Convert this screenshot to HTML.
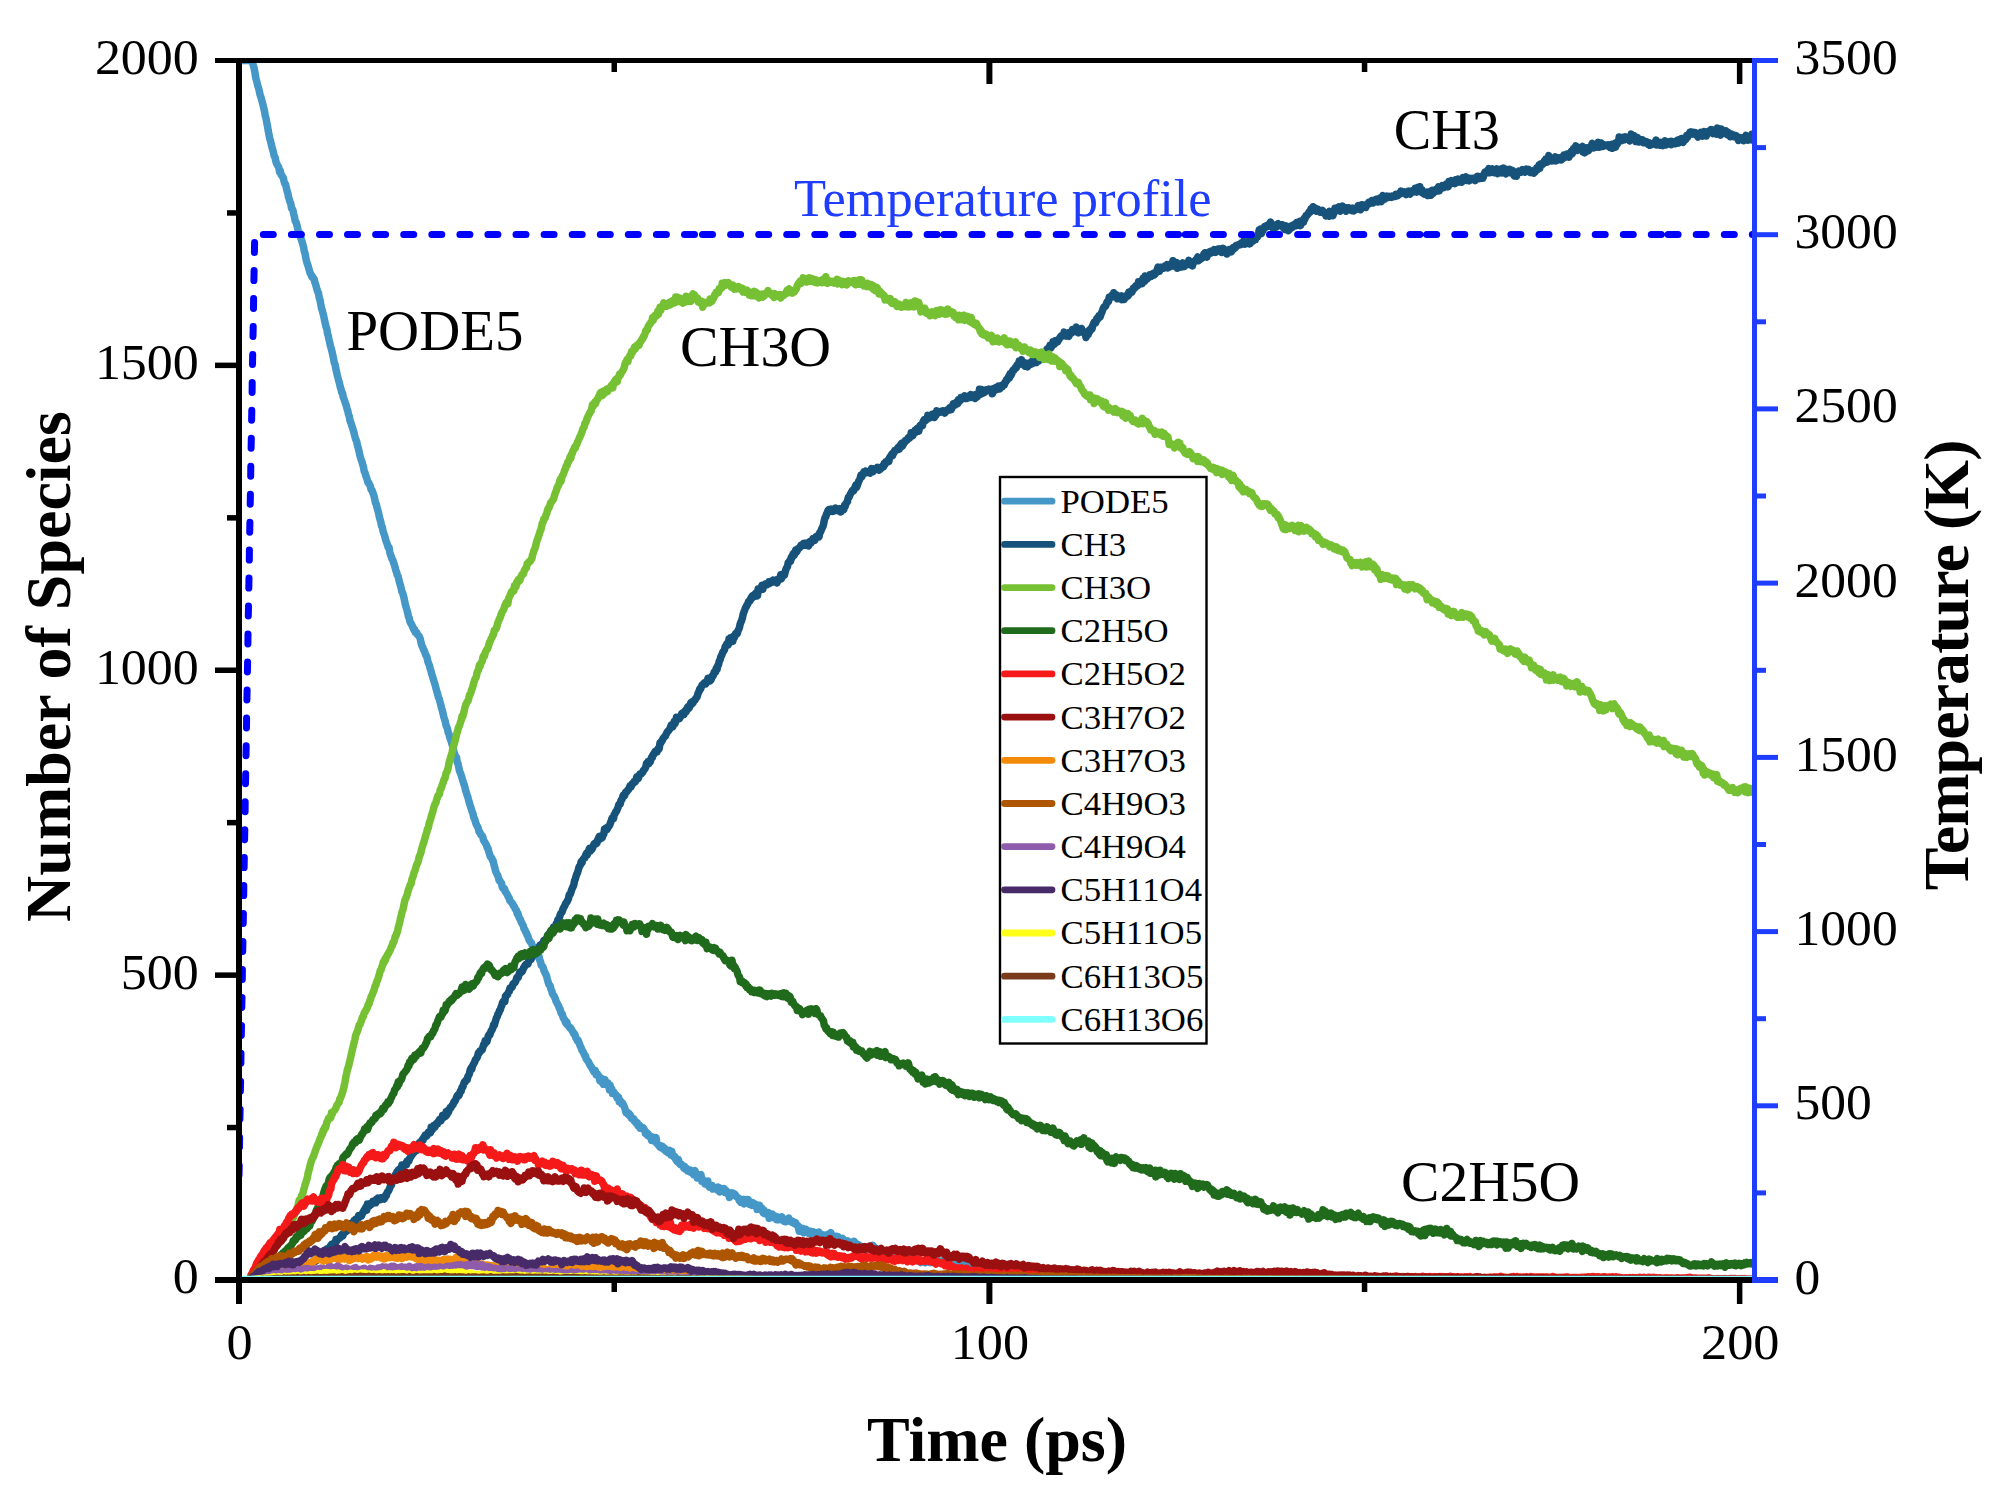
<!DOCTYPE html>
<html lang="en"><head><meta charset="utf-8"><title>Number of Species vs Time</title>
<style>html,body{margin:0;padding:0;background:#fff}svg{display:block}</style></head>
<body>
<svg width="2009" height="1494" viewBox="0 0 2009 1494" font-family="'Liberation Serif', 'Times New Roman', serif">
<rect width="2009" height="1494" fill="#fff"/>
<defs><clipPath id="plot"><rect x="239" y="60.5" width="1515.5" height="1219.5"/></clipPath></defs>
<g clip-path="url(#plot)" fill="none" stroke-width="7.5" stroke-linejoin="round" stroke-linecap="butt">
<path stroke="#4497C7" d="M239 60.5L239.8 60.5 240.5 60.5 241.2 60.5 242 60.5 242.8 60.5 243.5 60.5 244.2 60.5 245 60.5 245.8 60.5 246.5 60.5 247.2 60.5 248 60.5 248.8 60.5 249.5 60.6 250.2 60.9 251 61.4 251.8 61.5 252.5 61.4 253.2 65.2 254 67.7 254.8 71.8 255.5 76.3 256.2 79.4 257 82.5 257.8 86 258.5 87.8 259.2 90.6 260 94.5 260.8 96.8 261.5 99.3 262.2 101.9 263 104.8 263.8 108.3 264.5 111.2 265.2 115.5 266 118.3 266.8 122.7 267.5 126.2 268.2 130.5 269 134.7 269.8 138.7 270.5 140.7 271.2 144.2 272 147.4 272.8 149.8 273.5 152.6 274.2 156 275 157.3 275.8 161.2 276.5 163.5 277.2 164.6 278 166 278.8 167.5 279.5 171.7 280.2 170.6 281 174.6 281.8 175.5 282.5 176.7 283.2 177.6 284 181.1 284.8 183.5 285.5 184.3 286.2 187.2 287 190.6 287.8 193.2 288.5 197.2 289.2 199 290 202.1 290.8 203.6 291.5 208.3 292.2 208.9 293 210.5 293.8 214.3 294.5 217.1 295.2 221 296 222.1 296.8 224.7 297.5 227.5 298.2 230.9 299 232.1 299.8 235.1 300.5 237.2 301.2 239.1 302 241.8 302.8 244.2 303.5 246.8 304.2 250.9 305 253.2 305.8 257.8 306.5 260.9 307.2 263.4 308 265.6 308.8 268.5 309.5 271.1 310.2 273.3 311 274.4 311.8 276.7 312.5 276.6 313.2 278.4 314 278.7 314.8 282.2 315.5 283.9 316.2 286.4 317 289.6 317.8 291.9 318.5 293 319.2 297.6 320 300 320.8 304.4 321.5 308.4 322.2 310.2 323 313.4 323.8 316.4 324.5 319.9 325.2 323.1 326 326.7 326.8 328.8 327.5 333.5 328.2 335.6 329 339.5 329.8 343 330.5 346.1 331.2 348.3 332 351.6 332.8 355.2 333.5 358.4 334.2 362.5 335 364.3 335.8 368.6 336.5 371.7 337.2 374.9 338 377.9 338.8 381 339.5 383.5 340.2 386.8 341 389.2 341.8 392.5 342.5 392.9 343.2 397.1 344 399 344.8 401.4 345.5 403.5 346.2 405.4 347 408.7 347.8 410.9 348.5 414.5 349.2 416 350 420.5 350.8 422.5 351.5 424.6 352.2 426.9 353 429.4 353.8 431.9 354.5 434.8 355.2 437.7 356 440 356.8 441.9 357.5 445.6 358.2 447.9 359 451.1 359.8 455 360.5 457.6 361.2 459.7 362 461.9 362.8 464.8 363.5 467.1 364.2 471.3 365 472.9 365.8 475.8 366.5 477.3 367.2 479.9 368 482.7 368.8 482.9 369.5 484.7 370.2 485.8 371 489.4 371.8 489.7 372.5 491.7 373.2 493.6 374 495.8 374.8 499.3 375.5 503.2 376.2 503.8 377 507.7 377.8 510.2 378.5 512.8 379.2 516.3 380 519.4 380.8 521.9 381.5 525.9 382.2 526.8 383 530.9 383.8 533.3 384.5 535.2 385.2 538.1 386 541 386.8 542.8 387.5 545 388.2 547.6 389 547.5 389.8 552.2 390.5 554.9 391.2 556.3 392 558.9 392.8 559.9 393.5 562.7 394.2 564.3 395 567.1 395.8 570.3 396.5 571.8 397.2 575 398 576.2 398.8 579.5 399.5 582.4 400.2 584.7 401 587.4 401.8 591.6 402.5 592.4 403.2 595 404 598 404.8 601.9 405.5 605.2 406.2 607.5 407 610.1 407.8 613.3 408.5 616.8 409.2 618.1 410 621.7 410.8 623.4 411.5 624.1 412.2 625.9 413 627.6 413.8 629.8 414.5 629.2 415.2 632.1 416 631.9 416.8 632.7 417.5 634.8 418.2 635.3 419 636 419.8 637.5 420.5 639.9 421.2 643.6 422 645.9 422.8 647.3 423.5 649.8 424.2 650.4 425 652.9 425.8 655.1 426.5 655.9 427.2 658.3 428 661.8 428.8 663.9 429.5 665.6 430.2 668.8 431 671.1 431.8 674.4 432.5 676.3 433.2 678.6 434 681.4 434.8 683.9 435.5 686.3 436.2 689.1 437 692.1 437.8 694.7 438.5 697.5 439.2 698.8 440 702 440.8 704.8 441.5 707.9 442.2 710.1 443 713.2 443.8 716.9 444.5 719.1 445.2 721.2 446 725.3 446.8 727.2 447.5 729 448.2 732.4 449 734.1 449.8 737.5 450.5 739.2 451.2 741.4 452 744.4 452.8 746.8 453.5 749.9 454.2 752.7 455 754.9 455.8 756.9 456.5 757.2 457.2 762.3 458 763.7 458.8 767.7 459.5 770.8 460.2 772.7 461 774.7 461.8 777.2 462.5 779.6 463.2 781.7 464 784.5 464.8 786.8 465.5 790.4 466.2 791.9 467 794.8 467.8 796.9 468.5 799.7 469.2 802.1 470 804.9 470.8 807.4 471.5 809.6 472.2 811.7 473 813.9 473.8 817.7 474.5 818.7 475.2 820.8 476 823.7 476.8 825.4 477.5 826.6 478.2 828 479 831.7 479.8 832 480.5 834.2 481.2 835.1 482 835.4 482.8 837 483.5 840.1 484.2 841.3 485 842.5 485.8 843.9 486.5 845.2 487.2 847.7 488 848.2 488.8 851.9 489.5 853.6 490.2 856.4 491 857.4 491.8 858.1 492.5 860.3 493.2 860.9 494 865 494.8 867.5 495.5 870.8 496.2 872.5 497 874.2 497.8 875.5 498.5 877.8 499.2 880.6 500 880.7 500.8 882.5 501.5 883 502.2 887 503 888.3 503.8 889.1 504.5 888.8 505.2 891.5 506 892.3 506.8 893.8 507.5 894.9 508.2 896.8 509 897.4 509.8 900.5 510.5 901.3 511.2 902 512 902.9 512.8 904.1 513.5 906 514.2 906.1 515 908.5 515.8 909.8 516.5 910.5 517.2 913.6 518 913.6 518.8 916.6 519.5 918.3 520.2 919.1 521 921.4 521.8 923.2 522.5 924.3 523.2 925.7 524 928.9 524.8 929.4 525.5 931.7 526.2 932.3 527 934.9 527.8 935.8 528.5 938.3 529.2 940.2 530 941.3 530.8 942.3 531.5 943 532.2 945.5 533 946.7 533.8 947.2 534.5 948.6 535.2 951.2 536 954.5 536.8 954 537.5 955.6 538.2 957.1 539 956.4 539.8 960.5 540.5 961.5 541.2 965.2 542 965.8 542.8 966.8 543.5 968.8 544.2 971.2 545 972.7 545.8 974.4 546.5 975.7 547.2 978.6 548 981.6 548.8 984.2 549.5 985 550.2 986.1 551 989.4 551.8 991 552.5 993.7 553.2 994.8 554 995.8 554.8 997.5 555.5 999.3 556.2 1001.6 557 1003.1 557.8 1004.6 558.5 1005.5 559.2 1008.1 560 1008.8 560.8 1012 561.5 1013.7 562.2 1013.8 563 1017.1 563.8 1018.7 564.5 1019.2 565.2 1021.6 566 1023.3 566.8 1021.9 567.5 1024.8 568.2 1025.5 569 1026.5 569.8 1027.9 570.5 1027.8 571.2 1028.9 572 1030.5 572.8 1031.5 573.5 1033.5 574.2 1033.3 575 1034.7 575.8 1037.9 576.5 1038.6 577.2 1040.6 578 1040 578.8 1042.2 579.5 1043.9 580.2 1046 581 1047.4 581.8 1050 582.5 1050.8 583.2 1052 584 1053.8 584.8 1055.7 585.5 1055.8 586.2 1058.8 587 1060.1 587.8 1060.9 588.5 1061.9 589.2 1063.5 590 1065.1 590.8 1066.6 591.5 1067.2 592.2 1068.8 593 1069.6 593.8 1071.7 594.5 1071.8 595.2 1070.3 596 1074.7 596.8 1073.6 597.5 1074 598.2 1076 599 1076.2 599.8 1080.7 600.5 1079.7 601.2 1078.1 602 1082.3 602.8 1081.4 603.5 1084.3 604.2 1081 605 1079.7 605.8 1083.8 606.5 1084.5 607.2 1084.8 608 1082.9 608.8 1086.8 609.5 1089.8 610.2 1085.3 611 1090.1 611.8 1088.7 612.5 1093.5 613.2 1092 614 1092.3 614.8 1094.2 615.5 1094.4 616.2 1095 617 1097.9 617.8 1097.6 618.5 1097.2 619.2 1101.7 620 1100.3 620.8 1101.4 621.5 1103.6 622.2 1102.8 623 1103.9 623.8 1106 624.5 1107.2 625.2 1109.5 626 1112.5 626.8 1111.8 627.5 1113.5 628.2 1114.6 629 1113.5 629.8 1115.7 630.5 1115.3 631.2 1118.1 632 1118.7 632.8 1119.1 633.5 1118.6 634.2 1121.1 635 1120.7 635.8 1122.9 636.5 1122.8 637.2 1122.7 638 1125.8 638.8 1126.4 639.5 1125.2 640.2 1128.2 641 1126.8 641.8 1127.5 642.5 1128.8 643.2 1127.8 644 1129.2 644.8 1130.6 645.5 1133.5 646.2 1134.2 647 1132.8 647.8 1135.5 648.5 1134.3 649.2 1135.4 650 1137 650.8 1136.6 651.5 1140.2 652.2 1138.4 653 1137.3 653.8 1141 654.5 1139.8 655.2 1139.9 656 1137.5 656.8 1143.4 657.5 1144 658.2 1144.9 659 1145.4 659.8 1146.9 660.5 1145.6 661.2 1147.7 662 1146.2 662.8 1146.6 663.5 1149.3 664.2 1149.6 665 1148.5 665.8 1151.3 666.5 1150.4 667.2 1150.6 668 1152.7 668.8 1151.1 669.5 1150.5 670.2 1151.2 671 1155 671.8 1151.4 672.5 1155.1 673.2 1156.2 674 1157.1 674.8 1156.4 675.5 1159 676.2 1160.1 677 1161.5 677.8 1159.9 678.5 1159.7 679.2 1163.3 680 1164.4 680.8 1164.2 681.5 1164.2 682.2 1165.8 683 1166.1 683.8 1168 684.5 1166.3 685.2 1169.1 686 1169.5 686.8 1168.6 687.5 1171 688.2 1170.8 689 1170 689.8 1171.9 690.5 1170.1 691.2 1172.6 692 1172.9 692.8 1173.1 693.5 1174.5 694.2 1171.6 695 1170.7 695.8 1173.6 696.5 1175 697.2 1178 698 1176.3 698.8 1174.9 699.5 1178.1 700.2 1175 701 1174.7 701.8 1181.2 702.5 1179 703.2 1180.8 704 1181.6 704.8 1183.8 705.5 1182.2 706.2 1184.2 707 1181.2 707.8 1181.1 708.5 1185.7 709.2 1187 710 1185.9 710.8 1185.7 711.5 1186 712.2 1185.7 713 1189 713.8 1188.7 714.5 1188.2 715.2 1188.2 716 1189.2 716.8 1189.2 717.5 1190.2 718.2 1187.1 719 1189.2 719.8 1192 720.5 1188.3 721.2 1188.4 722 1190.8 722.8 1191.5 723.5 1191.6 724.2 1188.6 725 1192.4 725.8 1190.3 726.5 1191.7 727.2 1193.4 728 1192.1 728.8 1194.1 729.5 1197.4 730.2 1194.8 731 1195.3 731.8 1192.9 732.5 1193.7 733.2 1193.4 734 1195 734.8 1194.2 735.5 1195 736.2 1196.6 737 1197 737.8 1197.7 738.5 1197.9 739.2 1200.7 740 1201.1 740.8 1202.5 741.5 1202.2 742.2 1200.6 743 1202.4 743.8 1199.4 744.5 1203.9 745.2 1202.1 746 1200.9 746.8 1199.7 747.5 1202.2 748.2 1199.6 749 1201.8 749.8 1204.2 750.5 1203.9 751.2 1203 752 1205.3 752.8 1202.5 753.5 1205.3 754.2 1204.6 755 1204.2 755.8 1206.3 756.5 1204.6 757.2 1209.4 758 1205.6 758.8 1209.1 759.5 1205.2 760.2 1209.4 761 1207.8 761.8 1207.9 762.5 1210.6 763.2 1212.7 764 1210.1 764.8 1213.6 765.5 1211.7 766.2 1213.5 767 1214.4 767.8 1214.6 768.5 1212.5 769.2 1218.2 770 1217.1 770.8 1216.2 771.5 1214.5 772.2 1214.1 773 1214.7 773.8 1217.8 774.5 1217.1 775.2 1216.1 776 1216.3 776.8 1219.7 777.5 1217.1 778.2 1217 779 1219.7 779.8 1218.7 780.5 1217.4 781.2 1217.7 782 1217 782.8 1218.5 783.5 1220.8 784.2 1221.4 785 1221.6 785.8 1221.8 786.5 1221.1 787.2 1221.3 788 1220.2 788.8 1218 789.5 1221 790.2 1220.1 791 1221.2 791.8 1222.2 792.5 1221.2 793.2 1221.8 794 1223.4 794.8 1223.9 795.5 1222.5 796.2 1224.7 797 1225.1 797.8 1225.4 798.5 1227.9 799.2 1231.1 800 1227.3 800.8 1230.9 801.5 1231.3 802.2 1231.7 803 1228.5 803.8 1232.7 804.5 1230 805.2 1229.7 806 1229.4 806.8 1230.7 807.5 1231.4 808.2 1231.3 809 1233.4 809.8 1231.1 810.5 1231.2 811.2 1233.3 812 1233.3 812.8 1234.5 813.5 1231.8 814.2 1235 815 1235.1 815.8 1236.6 816.5 1232.7 817.2 1234.6 818 1234.8 818.8 1232.2 819.5 1233.2 820.2 1235.7 821 1234.1 821.8 1234.3 822.5 1237.3 823.2 1236.8 824 1237.4 824.8 1235.1 825.5 1235.9 826.2 1237.8 827 1235.4 827.8 1234.6 828.5 1236.8 829.2 1237.4 830 1234 830.8 1232.7 831.5 1234.8 832.2 1236.4 833 1237.7 833.8 1238.2 834.5 1237.3 835.2 1236.5 836 1237.4 836.8 1236.6 837.5 1237.9 838.2 1236.7 839 1241.6 839.8 1239.6 840.5 1238.1 841.2 1238.4 842 1239.7 842.8 1238.5 843.5 1240.5 844.2 1240.9 845 1243.2 845.8 1242 846.5 1241.1 847.2 1240.7 848 1241 848.8 1242.7 849.5 1242.2 850.2 1244.8 851 1243 851.8 1244.7 852.5 1243.3 853.2 1243.3 854 1241.3 854.8 1242.2 855.5 1244.9 856.2 1245.7 857 1245 857.8 1245.6 858.5 1244.7 859.2 1245.4 860 1246.4 860.8 1248 861.5 1247.3 862.2 1246.6 863 1247.1 863.8 1247.8 864.5 1247.7 865.2 1246.7 866 1249.3 866.8 1247.6 867.5 1247.5 868.2 1248.6 869 1247.9 869.8 1247 870.5 1248.1 871.2 1246.7 872 1246.8 872.8 1245.3 873.5 1249.7 874.2 1247 875 1249.9 875.8 1248.3 876.5 1248.7 877.2 1249.5 878 1249.8 878.8 1250.2 879.5 1252.2 880.2 1251.1 881 1252.3 881.8 1250.7 882.5 1252.6 883.2 1252 884 1251.4 884.8 1252.9 885.5 1253.3 886.2 1253.4 887 1253.7 887.8 1253 888.5 1253.3 889.2 1254.6 890 1251.7 890.8 1252.8 891.5 1255.1 892.2 1251.1 893 1253.7 893.8 1255.3 894.5 1253.4 895.2 1257.2 896 1252.6 896.8 1257.3 897.5 1257.7 898.2 1257.2 899 1256.2 899.8 1257.3 900.5 1255.8 901.2 1257.4 902 1255.8 902.8 1256.9 903.5 1257.9 904.2 1256.1 905 1256.8 905.8 1257.4 906.5 1256.1 907.2 1258 908 1257.4 908.8 1256.2 909.5 1257.3 910.2 1256.7 911 1257.2 911.8 1257.6 912.5 1257.2 913.2 1258.5 914 1257.6 914.8 1259.9 915.5 1259.8 916.2 1260.5 917 1259.6 917.8 1259.7 918.5 1259.2 919.2 1261.2 920 1261.1 920.8 1262.5 921.5 1261.8 922.2 1261.4 923 1261.1 923.8 1261.4 924.5 1261.2 925.2 1262.7 926 1262.3 926.8 1261 927.5 1261 928.2 1262 929 1261.6 929.8 1261.4 930.5 1262.6 931.2 1261.4 932 1261.9 932.8 1261.6 933.5 1260.3 934.2 1262.5 935 1261.3 935.8 1261.4 936.5 1261.7 937.2 1262.7 938 1261.8 938.8 1262.3 939.5 1261.1 940.2 1262 941 1260.9 941.8 1262.6 942.5 1263.1 943.2 1262.7 944 1264.4 944.8 1263.5 945.5 1263.4 946.2 1263.2 947 1263 947.8 1263.7 948.5 1263.8 949.2 1262 950 1263.9 950.8 1263.4 951.5 1263.7 952.2 1263.7 953 1262.5 953.8 1262.9 954.5 1265.5 955.2 1264.5 956 1263.8 956.8 1264.8 957.5 1264.5 958.2 1263.3 959 1263.5 959.8 1264.4 960.5 1265.1 961.2 1264.6 962 1264.7 962.8 1265.3 963.5 1265.7 964.2 1263.7 965 1265.2 965.8 1265 966.5 1264.7 967.2 1265.4 968 1265.1 968.8 1265.3 969.5 1264.3 970.2 1265.3 971 1267 971.8 1264.8 972.5 1264.6 973.2 1265.9 974 1266.1 974.8 1265.8 975.5 1265 976.2 1266.7 977 1266 977.8 1266 978.5 1266.7 979.2 1267.2 980 1267.9 980.8 1268.1 981.5 1268.1 982.2 1268.7 983 1268.3 983.8 1268.9 984.5 1267.6 985.2 1267.5 986 1269.2 986.8 1268 987.5 1268.8 988.2 1268.9 989 1268.8 989.8 1269 990.5 1270.1 991.2 1268.4 992 1270.4 992.8 1271.7 993.5 1270.6 994.2 1270.4 995 1270.8 995.8 1271.5 996.5 1269.9 997.2 1270.7 998 1270.5 998.8 1270.6 999.5 1270.4 1000.2 1270.4 1001 1270 1001.8 1270.2 1002.5 1269.8 1003.2 1270 1004 1270.4 1004.8 1270.3 1005.5 1269.6 1006.2 1271 1007 1269.9 1007.8 1269.3 1008.5 1271.1 1009.2 1270.1 1010 1271 1010.8 1270.7 1011.5 1271 1012.2 1271.1 1013 1270.9 1013.8 1271.4 1014.5 1272.8 1015.2 1270.9 1016 1272.1 1016.8 1272.2 1017.5 1271.7 1018.2 1271.5 1019 1273.4 1019.8 1272.3 1020.5 1273.8 1021.2 1272.8 1022 1272.6 1022.8 1273 1023.5 1273.1 1024.2 1273.2 1025 1272.9 1025.8 1272.7 1026.5 1272.8 1027.2 1273.8 1028 1273.8 1028.8 1272.8 1029.5 1272.9 1030.2 1273.3 1031 1273.1 1031.8 1273.2 1032.5 1272.9 1033.2 1273.4 1034 1273.9 1034.8 1274.1 1035.5 1273.6 1036.2 1274.3 1037 1273.3 1037.8 1274.5 1038.5 1273.8 1039.2 1273.6 1040 1273.4 1040.8 1272.8 1041.5 1274.1 1042.2 1274.1 1043 1275 1043.8 1273.9 1044.5 1275.1 1045.2 1274.2 1046 1274.6 1046.8 1273.2 1047.5 1274.5 1048.2 1274 1049 1274.3 1049.8 1274.2 1050.5 1273.8 1051.2 1274.7 1052 1274.7 1052.8 1274.7 1053.5 1275.1 1054.2 1274.9 1055 1274.6 1055.8 1274.1 1056.5 1274.2 1057.2 1275.3 1058 1275 1058.8 1274.8 1059.5 1274.8 1060.2 1275.1 1061 1275 1061.8 1275.2 1062.5 1275.4 1063.2 1276.3 1064 1275.7 1064.8 1275.7 1065.5 1275.6 1066.2 1275.8 1067 1276.2 1067.8 1276.2 1068.5 1275.8 1069.2 1275.9 1070 1275.9 1070.8 1275.6 1071.5 1276.3 1072.2 1275.9 1073 1276.6 1073.8 1275.5 1074.5 1275.8 1075.2 1276.3 1076 1276 1076.8 1275.7 1077.5 1275.9 1078.2 1276.3 1079 1276.4 1079.8 1276.2 1080.5 1276.7 1081.2 1276.6 1082 1276.6 1082.8 1276.5 1083.5 1276.4 1084.2 1276.6 1085 1276.6 1085.8 1276.4 1086.5 1276.5 1087.2 1276.5 1088 1276.1 1088.8 1276 1089.5 1276.5 1090.2 1276.3 1091 1276.7 1091.8 1276.4 1092.5 1276.8 1093.2 1276.8 1094 1276.7 1094.8 1276.5 1095.5 1276.7 1096.2 1276.8 1097 1276.7 1097.8 1277.3 1098.5 1277.6 1099.2 1277.2 1100 1277.9 1100.8 1277.3 1101.5 1277.3 1102.2 1277.1 1103 1277 1103.8 1277.2 1104.5 1277.1 1105.2 1277.6 1106 1277.6 1106.8 1277.5 1107.5 1277.3 1108.2 1277 1109 1277.3 1109.8 1277.3 1110.5 1277.7 1111.2 1277.4 1112 1277.6 1112.8 1277.4 1113.5 1277.5 1114.2 1277.4 1115 1277.3 1115.8 1277.4 1116.5 1277.5 1117.2 1277.2 1118 1277.5 1118.8 1278 1119.5 1277.2 1120.2 1277.1 1121 1277.2 1121.8 1276.9 1122.5 1277.5 1123.2 1277.3 1124 1277.4 1124.8 1277.8 1125.5 1278 1126.2 1277.2 1127 1277.7 1127.8 1277.5 1128.5 1277.5 1129.2 1277.5 1130 1277.4 1130.8 1277.8 1131.5 1277.7 1132.2 1277.8 1133 1278 1133.8 1278 1134.5 1278 1135.2 1278.1 1136 1278.5 1136.8 1278.2 1137.5 1278.1 1138.2 1278 1139 1278 1139.8 1277.9 1140.5 1278.1 1141.2 1278.1 1142 1277.5 1142.8 1277.9 1143.5 1278 1144.2 1278 1145 1277.9 1145.8 1278.4 1146.5 1278 1147.2 1277.8 1148 1277.9 1148.8 1278.1 1149.5 1278.4 1150.2 1278.6 1151 1278.4 1151.8 1278 1152.5 1278.1 1153.2 1277.9 1154 1278 1154.8 1277.8 1155.5 1278.2 1156.2 1278.3 1157 1278.2 1157.8 1278.4 1158.5 1278.1 1159.2 1278 1160 1278.2 1160.8 1278.5 1161.5 1278.6 1162.2 1278.4 1163 1278.8 1163.8 1278.6 1164.5 1279 1165.2 1278.8 1166 1278.6 1166.8 1278.8 1167.5 1278.5 1168.2 1278.5 1169 1278.4 1169.8 1278.7 1170.5 1278.6 1171.2 1278.7 1172 1278.7 1172.8 1279 1173.5 1278.7 1174.2 1278.7 1175 1279.1 1175.8 1278.9 1176.5 1278.7 1177.2 1278.4 1178 1278.5 1178.8 1278.7 1179.5 1278.7 1180.2 1279 1181 1278.4 1181.8 1278.9 1182.5 1278.7 1183.2 1278.9 1184 1278.7 1184.8 1278.9 1185.5 1278.7 1186.2 1278.6 1187 1278.6 1187.8 1278.7 1188.5 1278.6 1189.2 1279 1190 1279 1190.8 1278.9 1191.5 1278.7 1192.2 1279 1193 1278.9 1193.8 1279.3 1194.5 1279.1 1195.2 1279.1 1196 1279 1196.8 1278.8 1197.5 1279.1 1198.2 1279 1199 1279.2 1199.8 1279.1 1200.5 1279 1201.2 1279.1 1202 1279.4 1202.8 1279.1 1203.5 1279.1 1204.2 1279.3 1205 1279.2 1205.8 1279.2 1206.5 1279.2 1207.2 1279.3 1208 1279 1208.8 1279.1 1209.5 1279.2 1210.2 1279.2 1211 1279.3 1211.8 1279.3 1212.5 1279.5 1213.2 1279.3 1214 1279.3 1214.8 1279.3 1215.5 1279.3 1216.2 1279.3 1217 1279.5 1217.8 1279.3 1218.5 1279.3 1219.2 1279.3 1220 1279.2 1220.8 1279.2 1221.5 1279.2 1222.2 1279.4 1223 1279.2 1223.8 1279.3 1224.5 1279.4 1225.2 1279.4 1226 1279.2 1226.8 1279.5 1227.5 1279.3 1228.2 1279.3 1229 1279.5 1229.8 1279.4 1230.5 1279.4 1231.2 1279.6 1232 1279.4 1232.8 1279.5 1233.5 1279.6 1234.2 1279.4 1235 1279.5 1235.8 1279.6 1236.5 1279.8 1237.2 1279.6 1238 1279.7 1238.8 1279.7 1239.5 1279.6 1240.2 1279.6 1241 1279.7 1241.8 1279.6 1242.5 1279.7 1243.2 1279.8 1244 1279.8 1244.8 1279.7 1245.5 1279.7 1246.2 1279.6 1247 1279.6 1247.8 1279.7 1248.5 1279.6 1249.2 1279.6 1250 1279.5 1250.8 1279.7 1251.5 1279.7 1252.2 1279.5 1253 1279.6 1253.8 1279.6 1254.5 1279.7 1255.2 1279.7 1256 1279.7 1256.8 1279.7 1257.5 1279.7 1258.2 1279.6 1259 1279.8 1259.8 1279.7 1260.5 1279.8 1261.2 1279.7 1262 1279.8 1262.8 1279.8 1263.5 1279.8 1264.2 1279.7 1265 1279.8 1265.8 1279.8 1266.5 1279.8 1267.2 1279.8 1268 1279.9 1268.8 1279.7 1269.5 1279.8 1270.2 1279.8 1271 1279.9 1271.8 1279.7 1272.5 1279.8 1273.2 1279.8 1274 1279.9 1274.8 1279.8 1275.5 1279.9 1276.2 1279.9 1277 1279.9 1277.8 1279.9 1278.5 1280 1279.2 1279.9 1280 1280 1280.8 1279.9 1281.5 1279.9 1282.2 1279.9 1283 1280 1283.8 1280 1284.5 1280 1285.2 1280 1286 1280 1286.8 1280 1287.5 1280 1288.2 1280 1289 1280 1289.8 1280 1290.5 1280 1291.2 1280 1292 1280 1292.8 1280 1293.5 1280 1294.2 1280 1295 1280 1295.8 1280 1296.5 1280 1297.2 1280 1298 1280 1298.8 1280 1754 1280"/>
<path stroke="#165279" d="M249 1280L249.8 1279.9 250.5 1279.8 251.2 1279.6 252 1279.6 252.8 1279.4 253.5 1279 254.2 1279 255 1278.8 255.8 1278.8 256.5 1278.5 257.2 1278.5 258 1278.2 258.8 1278.3 259.5 1278.2 260.2 1278.3 261 1278 261.8 1277.7 262.5 1277.5 263.2 1277.4 264 1277.2 264.8 1277.5 265.5 1276 266.2 1276.6 267 1276.8 267.8 1277 268.5 1276 269.2 1276.2 270 1276.2 270.8 1275.4 271.5 1274.8 272.2 1275 273 1274.6 273.8 1275.3 274.5 1274.2 275.2 1275.1 276 1274.1 276.8 1273.3 277.5 1273.2 278.2 1272.7 279 1273.3 279.8 1273.4 280.5 1272.7 281.2 1273.3 282 1272.3 282.8 1272.8 283.5 1273.5 284.2 1271.3 285 1272.5 285.8 1272.3 286.5 1270.7 287.2 1271.1 288 1271.2 288.8 1272 289.5 1271.3 290.2 1270.8 291 1270.8 291.8 1270.1 292.5 1269.8 293.2 1269.4 294 1269.9 294.8 1268.9 295.5 1270.3 296.2 1269 297 1268.3 297.8 1269 298.5 1268.7 299.2 1266.6 300 1267.7 300.8 1266.5 301.5 1266.5 302.2 1267.6 303 1266.4 303.8 1266.6 304.5 1265.7 305.2 1266.6 306 1265 306.8 1263.6 307.5 1263.5 308.2 1263.3 309 1263.9 309.8 1263.3 310.5 1263.1 311.2 1262.6 312 1262 312.8 1262.1 313.5 1261.3 314.2 1261.3 315 1261.6 315.8 1261.1 316.5 1259.8 317.2 1257.7 318 1258.1 318.8 1258.2 319.5 1255.2 320.2 1256.1 321 1256.2 321.8 1255.2 322.5 1253.3 323.2 1255 324 1253.8 324.8 1252 325.5 1252.5 326.2 1251.9 327 1248.8 327.8 1251.9 328.5 1248.1 329.2 1247.9 330 1246.4 330.8 1246.3 331.5 1244.4 332.2 1245.4 333 1245.7 333.8 1244.6 334.5 1242.6 335.2 1243.2 336 1239.5 336.8 1240.9 337.5 1239 338.2 1239.1 339 1238.3 339.8 1238.2 340.5 1237.2 341.2 1235.3 342 1234.4 342.8 1235.9 343.5 1233.6 344.2 1231.8 345 1232.3 345.8 1231.8 346.5 1231.3 347.2 1230.8 348 1230.1 348.8 1228.8 349.5 1228.1 350.2 1225.9 351 1223.3 351.8 1225.6 352.5 1223.3 353.2 1222.7 354 1220.7 354.8 1221.7 355.5 1219.4 356.2 1220.3 357 1218.5 357.8 1217.6 358.5 1215.7 359.2 1217.5 360 1216.1 360.8 1215.6 361.5 1215.9 362.2 1213.8 363 1212.5 363.8 1210.9 364.5 1209.6 365.2 1208.6 366 1207 366.8 1210.1 367.5 1204.1 368.2 1206 369 1206.3 369.8 1205.3 370.5 1203.6 371.2 1204.5 372 1203.5 372.8 1201.5 373.5 1203.1 374.2 1202.4 375 1202.3 375.8 1202.7 376.5 1199.2 377.2 1200.1 378 1198.1 378.8 1200 379.5 1199.7 380.2 1199.7 381 1197.8 381.8 1198.2 382.5 1197.6 383.2 1198.8 384 1199.1 384.8 1197.9 385.5 1195.3 386.2 1195.9 387 1193.1 387.8 1191.4 388.5 1191 389.2 1189.5 390 1187.4 390.8 1185.4 391.5 1185.1 392.2 1181.4 393 1178.9 393.8 1180.1 394.5 1176.3 395.2 1174.9 396 1175.3 396.8 1172.1 397.5 1174.3 398.2 1170.2 399 1169.4 399.8 1170.4 400.5 1168.3 401.2 1169.7 402 1164.9 402.8 1165 403.5 1166.1 404.2 1165.4 405 1164.9 405.8 1163.2 406.5 1164.9 407.2 1161.1 408 1161.5 408.8 1161.2 409.5 1158.7 410.2 1157.7 411 1156.6 411.8 1155.1 412.5 1153.7 413.2 1153.6 414 1151.2 414.8 1151.7 415.5 1149 416.2 1150.8 417 1148.9 417.8 1146.7 418.5 1144.4 419.2 1143 420 1143.7 420.8 1141.7 421.5 1141.7 422.2 1139.7 423 1140.3 423.8 1137.3 424.5 1137.7 425.2 1135.1 426 1135.5 426.8 1135.9 427.5 1133.9 428.2 1132.4 429 1133.4 429.8 1131.5 430.5 1132.7 431.2 1127.2 432 1130 432.8 1128.9 433.5 1125.4 434.2 1125.3 435 1127 435.8 1124.2 436.5 1123.5 437.2 1124.3 438 1121.8 438.8 1121.9 439.5 1119.5 440.2 1120.4 441 1120.6 441.8 1118.9 442.5 1115.6 443.2 1118 444 1116.6 444.8 1114.9 445.5 1116.4 446.2 1111.9 447 1114.8 447.8 1110.9 448.5 1112.3 449.2 1109.9 450 1107.8 450.8 1107.9 451.5 1106.4 452.2 1105.4 453 1104.7 453.8 1102 454.5 1101.9 455.2 1100.8 456 1098.8 456.8 1096.7 457.5 1095.4 458.2 1096.2 459 1095.4 459.8 1092.6 460.5 1090.7 461.2 1091.1 462 1087.3 462.8 1087.2 463.5 1084.8 464.2 1082.3 465 1082.2 465.8 1080.3 466.5 1080.2 467.2 1079.7 468 1076.2 468.8 1075.1 469.5 1073.3 470.2 1070 471 1068.1 471.8 1069.1 472.5 1066 473.2 1064.7 474 1063.2 474.8 1061.7 475.5 1059.5 476.2 1058.9 477 1057.8 477.8 1055.5 478.5 1052.8 479.2 1053.2 480 1050.9 480.8 1050.2 481.5 1050.4 482.2 1049.8 483 1046.7 483.8 1044.2 484.5 1044.5 485.2 1040.7 486 1041 486.8 1041.7 487.5 1039.6 488.2 1036.2 489 1034.6 489.8 1034.9 490.5 1032.8 491.2 1030.8 492 1029.9 492.8 1028.1 493.5 1025.1 494.2 1025.4 495 1022.6 495.8 1020 496.5 1017.7 497.2 1016.7 498 1013.8 498.8 1013 499.5 1010.6 500.2 1010 501 1007.3 501.8 1005.5 502.5 1002.8 503.2 1001.5 504 1001.4 504.8 1001.5 505.5 996.2 506.2 995.3 507 995.4 507.8 994.1 508.5 991.9 509.2 991.6 510 988.1 510.8 988.1 511.5 987.6 512.2 987.2 513 984 513.8 983.3 514.5 983 515.2 982.2 516 980.5 516.8 977.6 517.5 977.7 518.2 977.5 519 974.7 519.8 972.2 520.5 973 521.2 972 522 971.7 522.8 970.2 523.5 967.9 524.2 967.3 525 965.4 525.8 964.5 526.5 964.1 527.2 963.4 528 963.8 528.8 960.4 529.5 960.1 530.2 958 531 959.5 531.8 957.2 532.5 954.9 533.2 954.9 534 953.2 534.8 952.3 535.5 953.9 536.2 952.3 537 951.6 537.8 950 538.5 948.8 539.2 947.2 540 945.1 540.8 945.8 541.5 944.8 542.2 944.8 543 942.9 543.8 940.6 544.5 940 545.2 940.3 546 940.3 546.8 938.1 547.5 937.3 548.2 937.2 549 933.6 549.8 933.1 550.5 931.2 551.2 933.2 552 931.1 552.8 929.1 553.5 927 554.2 927.1 555 926.8 555.8 924.9 556.5 923.1 557.2 922.5 558 919.4 558.8 918.8 559.5 917.2 560.2 914.9 561 913.2 561.8 912.5 562.5 910.6 563.2 908.6 564 907.1 564.8 905.7 565.5 903.8 566.2 902.6 567 901.9 567.8 900.2 568.5 898.6 569.2 894.8 570 894.7 570.8 892.6 571.5 890.2 572.2 888.6 573 886.7 573.8 884.8 574.5 880.9 575.2 879.4 576 876.4 576.8 874.1 577.5 872.6 578.2 870.4 579 867.3 579.8 866 580.5 864.7 581.2 861.7 582 862.6 582.8 859.8 583.5 859 584.2 857.7 585 857.7 585.8 854.9 586.5 853.4 587.2 855 588 852.1 588.8 850.2 589.5 848.4 590.2 851.1 591 849.7 591.8 849.5 592.5 848.2 593.2 846.2 594 844.1 594.8 843.4 595.5 844.1 596.2 842.5 597 843 597.8 839.6 598.5 838.2 599.2 836.7 600 839.1 600.8 836.2 601.5 837.3 602.2 837.7 603 834.7 603.8 834.2 604.5 829.2 605.2 830.5 606 828 606.8 829.7 607.5 828.4 608.2 826.5 609 826.2 609.8 824.9 610.5 822.6 611.2 821.1 612 818.1 612.8 818 613.5 818.6 614.2 814.5 615 813.8 615.8 811.5 616.5 811.3 617.2 809.4 618 807.7 618.8 804.7 619.5 804 620.2 804 621 800.4 621.8 799.7 622.5 797.8 623.2 795.4 624 796.3 624.8 795.2 625.5 792.4 626.2 791.6 627 791.5 627.8 789.9 628.5 789.6 629.2 788.4 630 785.9 630.8 787 631.5 785.8 632.2 783.9 633 783.5 633.8 781.9 634.5 782.2 635.2 781.9 636 779.7 636.8 776.9 637.5 777.2 638.2 778.6 639 776.2 639.8 774 640.5 774.2 641.2 774 642 772.9 642.8 772.2 643.5 770.4 644.2 769.7 645 768.7 645.8 767 646.5 763.5 647.2 764 648 761.7 648.8 763.5 649.5 762.3 650.2 761.9 651 759.4 651.8 756.8 652.5 757.3 653.2 754.5 654 754.4 654.8 752 655.5 751.1 656.2 751.8 657 751.9 657.8 749 658.5 749.7 659.2 748.4 660 743.1 660.8 743.1 661.5 740.9 662.2 740.9 663 738.5 663.8 737.5 664.5 736.8 665.2 736.3 666 734.4 666.8 732.9 667.5 731.6 668.2 730.9 669 730.2 669.8 728.7 670.5 727.4 671.2 725 672 726.3 672.8 726.6 673.5 724.4 674.2 721.6 675 723.5 675.8 721 676.5 717.3 677.2 719.2 678 719.3 678.8 718 679.5 718.5 680.2 717.4 681 716 681.8 713.5 682.5 713 683.2 713.8 684 714.4 684.8 711.4 685.5 710.4 686.2 711.7 687 708.3 687.8 706.9 688.5 708.6 689.2 707.9 690 705.7 690.8 702.8 691.5 704.5 692.2 701.8 693 703 693.8 700.9 694.5 700.4 695.2 699.8 696 697.9 696.8 697.4 697.5 695.6 698.2 692.8 699 691.6 699.8 688.8 700.5 689.2 701.2 687.3 702 685.3 702.8 684.8 703.5 683.9 704.2 682.9 705 683.2 705.8 683.9 706.5 681.4 707.2 681.3 708 678.2 708.8 679.4 709.5 680.4 710.2 680.9 711 679.8 711.8 677.6 712.5 675.6 713.2 675.8 714 672.7 714.8 671.3 715.5 672 716.2 668.5 717 669.4 717.8 665.4 718.5 664.7 719.2 661.4 720 660 720.8 656.8 721.5 655.8 722.2 653.9 723 651.8 723.8 650.8 724.5 649.7 725.2 646.5 726 645.8 726.8 643.8 727.5 643.1 728.2 644.9 729 639 729.8 639.5 730.5 637.9 731.2 639.4 732 637.9 732.8 641.4 733.5 636.6 734.2 637.8 735 635.8 735.8 633.2 736.5 632.8 737.2 633.6 738 630.8 738.8 629.1 739.5 627.2 740.2 623.9 741 622.1 741.8 620 742.5 617.6 743.2 614 744 611.9 744.8 609.7 745.5 607.6 746.2 606.9 747 604.8 747.8 604 748.5 601.6 749.2 600.9 750 600.9 750.8 598.2 751.5 598.6 752.2 596 753 595.4 753.8 596.7 754.5 594.9 755.2 593.9 756 592.9 756.8 592.9 757.5 595.9 758.2 589 759 590.7 759.8 589.3 760.5 589.8 761.2 588.2 762 585.3 762.8 589.3 763.5 585.2 764.2 586 765 584.3 765.8 583.8 766.5 584.2 767.2 584.7 768 583.9 768.8 582 769.5 583.6 770.2 581.6 771 581.7 771.8 582 772.5 582.2 773.2 580 774 580.8 774.8 581.1 775.5 581.2 776.2 580.1 777 582.8 777.8 579.4 778.5 580.5 779.2 578.7 780 579.1 780.8 574.8 781.5 578.7 782.2 575.8 783 574.2 783.8 574.5 784.5 575 785.2 572 786 569.1 786.8 567.5 787.5 566.6 788.2 562.6 789 562.1 789.8 560.6 790.5 561.2 791.2 557.5 792 557.7 792.8 554.6 793.5 553.4 794.2 555.3 795 553.1 795.8 550 796.5 551.9 797.2 550.8 798 548.4 798.8 548.4 799.5 547.8 800.2 546.7 801 545.2 801.8 545.1 802.5 544.9 803.2 543.8 804 545.2 804.8 543.3 805.5 545.2 806.2 545 807 543.1 807.8 544.6 808.5 545.9 809.2 544.8 810 541.5 810.8 543.2 811.5 541.1 812.2 540.5 813 538.5 813.8 538.5 814.5 540.5 815.2 539.3 816 536.8 816.8 536.2 817.5 536 818.2 536.4 819 536.8 819.8 532.5 820.5 532 821.2 530.1 822 528.2 822.8 526.7 823.5 524.6 824.2 520.7 825 517.8 825.8 516.7 826.5 514 827.2 512.7 828 510.5 828.8 509.7 829.5 511.7 830.2 509.9 831 509.3 831.8 510.7 832.5 511.3 833.2 509.3 834 510.9 834.8 510 835.5 508.1 836.2 509.3 837 509.7 837.8 510.7 838.5 510.5 839.2 508.9 840 508.7 840.8 511.9 841.5 509.9 842.2 509.5 843 509.1 843.8 509.6 844.5 505.6 845.2 506.2 846 503.3 846.8 502.6 847.5 501.5 848.2 497.6 849 497.3 849.8 495.4 850.5 493.8 851.2 492.7 852 491.1 852.8 490.2 853.5 490.8 854.2 489.6 855 487.2 855.8 485.2 856.5 487.5 857.2 485.7 858 483.5 858.8 480.8 859.5 479.8 860.2 478 861 475.1 861.8 476.8 862.5 474.5 863.2 473.7 864 471.8 864.8 471.9 865.5 471.2 866.2 472.8 867 472.4 867.8 472 868.5 471.8 869.2 472 870 473.1 870.8 470.2 871.5 468.7 872.2 469.4 873 471.7 873.8 468.9 874.5 470 875.2 469.2 876 469.4 876.8 468.7 877.5 467.3 878.2 467.5 879 470.1 879.8 469.6 880.5 468.5 881.2 468.4 882 466.6 882.8 465.8 883.5 466.7 884.2 463.5 885 464.5 885.8 461.8 886.5 462.5 887.2 461.4 888 460.2 888.8 461.5 889.5 457.7 890.2 456.8 891 455.7 891.8 454.2 892.5 455.7 893.2 453 894 453 894.8 450.4 895.5 450.3 896.2 450.2 897 449 897.8 447.8 898.5 448.4 899.2 449.2 900 445.4 900.8 444.8 901.5 443.5 902.2 446.3 903 445 903.8 443.2 904.5 442.5 905.2 440.5 906 440.6 906.8 440.4 907.5 439.7 908.2 437.9 909 437.1 909.8 437.8 910.5 436.9 911.2 432.8 912 434.3 912.8 435.8 913.5 432.6 914.2 433.1 915 430.3 915.8 432.3 916.5 429.3 917.2 428.4 918 428.4 918.8 431.1 919.5 426.6 920.2 425.4 921 425.7 921.8 424.2 922.5 425.6 923.2 421.4 924 419.9 924.8 420.9 925.5 420.6 926.2 420 927 419.3 927.8 415.4 928.5 415.5 929.2 416.3 930 417.7 930.8 416.5 931.5 415.8 932.2 414.3 933 415.6 933.8 414.3 934.5 417.5 935.2 413.3 936 415.3 936.8 410.9 937.5 411.2 938.2 411.6 939 411.8 939.8 411.9 940.5 412.1 941.2 411.3 942 411 942.8 412.1 943.5 410.8 944.2 411.4 945 413 945.8 411.6 946.5 411 947.2 409.9 948 409.8 948.8 409.6 949.5 407.8 950.2 409.9 951 409.7 951.8 408.6 952.5 406.1 953.2 403.8 954 404.7 954.8 404.5 955.5 404.8 956.2 402.4 957 401.6 957.8 403.6 958.5 399.8 959.2 401.5 960 400.7 960.8 397.7 961.5 399.3 962.2 398.1 963 398 963.8 396.6 964.5 395.9 965.2 398.5 966 397.7 966.8 398.2 967.5 396.7 968.2 397.7 969 397.7 969.8 395.5 970.5 394.8 971.2 397.4 972 396.7 972.8 395.3 973.5 396.4 974.2 397 975 398.4 975.8 394.5 976.5 395.5 977.2 396.9 978 393.5 978.8 395.2 979.5 389.3 980.2 394.6 981 392 981.8 389.6 982.5 393.3 983.2 392.7 984 392.8 984.8 392.1 985.5 391.2 986.2 389.8 987 389.8 987.8 390.3 988.5 390.6 989.2 389.2 990 390.5 990.8 391.5 991.5 390.8 992.2 393.7 993 392.6 993.8 388.5 994.5 389.2 995.2 388.2 996 387.4 996.8 389.6 997.5 387.2 998.2 386.3 999 387.9 999.8 388.9 1000.5 386.5 1001.2 385.8 1002 387 1002.8 385.9 1003.5 385.1 1004.2 385.1 1005 382.3 1005.8 382 1006.5 379.7 1007.2 380 1008 378.7 1008.8 376.2 1009.5 378 1010.2 373.7 1011 375.2 1011.8 373.6 1012.5 371.2 1013.2 370 1014 370.1 1014.8 368.7 1015.5 367.3 1016.2 367.9 1017 365 1017.8 365.4 1018.5 364.4 1019.2 361.1 1020 363.9 1020.8 361.6 1021.5 359.7 1022.2 363.2 1023 364.2 1023.8 365.2 1024.5 362.7 1025.2 366.2 1026 365.8 1026.8 365.9 1027.5 366.8 1028.2 364.8 1029 363.2 1029.8 364.7 1030.5 364.5 1031.2 362.8 1032 361.9 1032.8 360.3 1033.5 363.2 1034.2 362.5 1035 359.8 1035.8 360.9 1036.5 362.5 1037.2 360 1038 360.8 1038.8 360.8 1039.5 356.9 1040.2 358.2 1041 358.9 1041.8 358.1 1042.5 357.7 1043.2 352.8 1044 353.9 1044.8 353.6 1045.5 353 1046.2 352.9 1047 349.3 1047.8 349.4 1048.5 347.8 1049.2 348.6 1050 345.4 1050.8 348.1 1051.5 346.4 1052.2 345.9 1053 341.9 1053.8 343.3 1054.5 344 1055.2 340.7 1056 341.7 1056.8 341.1 1057.5 341.9 1058.2 339.5 1059 339.7 1059.8 337.7 1060.5 336.8 1061.2 335.8 1062 336.2 1062.8 335 1063.5 335.9 1064.2 332.1 1065 335.2 1065.8 334.3 1066.5 336 1067.2 335.2 1068 335.4 1068.8 336.3 1069.5 332.6 1070.2 333.6 1071 333.3 1071.8 332.8 1072.5 329.5 1073.2 330.9 1074 330.1 1074.8 329.1 1075.5 329.6 1076.2 327.2 1077 331.9 1077.8 331.2 1078.5 332.8 1079.2 329 1080 329 1080.8 331.3 1081.5 328.5 1082.2 332 1083 331.4 1083.8 332.4 1084.5 333.3 1085.2 334.1 1086 337.5 1086.8 335.1 1087.5 331.9 1088.2 334.6 1089 330.6 1089.8 331.5 1090.5 329 1091.2 328.1 1092 329 1092.8 325.4 1093.5 323.9 1094.2 322.1 1095 321.9 1095.8 322.8 1096.5 319.4 1097.2 318.1 1098 318.8 1098.8 315.9 1099.5 316.2 1100.2 316.8 1101 314.1 1101.8 312.4 1102.5 310.6 1103.2 308.6 1104 307.1 1104.8 306.5 1105.5 306.4 1106.2 304.3 1107 302.2 1107.8 301.2 1108.5 301.3 1109.2 297.3 1110 297.8 1110.8 297.6 1111.5 295.7 1112.2 294.9 1113 296.8 1113.8 292.8 1114.5 294.1 1115.2 295.2 1116 296.5 1116.8 295 1117.5 298.8 1118.2 297.2 1119 297.4 1119.8 296.8 1120.5 296.3 1121.2 295.9 1122 299.6 1122.8 299.1 1123.5 298.6 1124.2 299.4 1125 296.3 1125.8 297.4 1126.5 296.7 1127.2 294.9 1128 296 1128.8 292.2 1129.5 294.1 1130.2 291.5 1131 291.9 1131.8 292.1 1132.5 290.8 1133.2 288.4 1134 288.8 1134.8 287.9 1135.5 286 1136.2 285.5 1137 286.1 1137.8 285.6 1138.5 281.9 1139.2 283.1 1140 283.6 1140.8 282.6 1141.5 281 1142.2 283.7 1143 278.6 1143.8 281 1144.5 281.1 1145.2 276 1146 278.4 1146.8 278.3 1147.5 278.7 1148.2 276.1 1149 276.6 1149.8 274.8 1150.5 275.6 1151.2 276.2 1152 274.3 1152.8 273.4 1153.5 273.3 1154.2 275 1155 274.3 1155.8 272.7 1156.5 272 1157.2 269.6 1158 267.2 1158.8 271 1159.5 271.1 1160.2 267.3 1161 267.6 1161.8 267.8 1162.5 267.9 1163.2 267 1164 268 1164.8 266.1 1165.5 266.3 1166.2 266.1 1167 264.8 1167.8 267.9 1168.5 266.5 1169.2 267 1170 265.3 1170.8 266.5 1171.5 263.5 1172.2 265.5 1173 260.8 1173.8 263.3 1174.5 266.1 1175.2 264.8 1176 265.3 1176.8 262.7 1177.5 268.2 1178.2 265.9 1179 264.9 1179.8 265.8 1180.5 265.4 1181.2 267 1182 265.1 1182.8 262.9 1183.5 264.9 1184.2 266.6 1185 265.4 1185.8 263.6 1186.5 264.5 1187.2 263.5 1188 263.4 1188.8 260.4 1189.5 262 1190.2 264.6 1191 263.6 1191.8 263.3 1192.5 265.8 1193.2 261.8 1194 262 1194.8 261.3 1195.5 260.1 1196.2 260.8 1197 258.5 1197.8 257 1198.5 260.7 1199.2 258.5 1200 259.5 1200.8 258.2 1201.5 258.4 1202.2 257.9 1203 257.3 1203.8 254.2 1204.5 256.5 1205.2 252.7 1206 254.2 1206.8 257.1 1207.5 252.7 1208.2 254.6 1209 252 1209.8 252.7 1210.5 251.4 1211.2 252.9 1212 251.8 1212.8 250.8 1213.5 252 1214.2 249.6 1215 250.2 1215.8 252.3 1216.5 250.5 1217.2 250.6 1218 249.1 1218.8 249.9 1219.5 248.9 1220.2 250.5 1221 250.3 1221.8 252.5 1222.5 249.9 1223.2 248.4 1224 251.4 1224.8 251.2 1225.5 251.9 1226.2 250.2 1227 254 1227.8 252.5 1228.5 252.2 1229.2 249.6 1230 251.5 1230.8 250.5 1231.5 251.7 1232.2 248.8 1233 247.7 1233.8 249 1234.5 247.5 1235.2 247.8 1236 245.7 1236.8 246.1 1237.5 245.2 1238.2 244.7 1239 244.4 1239.8 244.2 1240.5 244.6 1241.2 243.1 1242 244 1242.8 243 1243.5 241 1244.2 243.1 1245 244.1 1245.8 242.4 1246.5 242.8 1247.2 242.6 1248 241.6 1248.8 241.3 1249.5 243.8 1250.2 243.5 1251 241.7 1251.8 241.3 1252.5 241.3 1253.2 240.1 1254 240.4 1254.8 239.3 1255.5 239.5 1256.2 237.3 1257 236.3 1257.8 236.4 1258.5 233.9 1259.2 230.1 1260 232.1 1260.8 229 1261.5 233.6 1262.2 231.4 1263 230.4 1263.8 227.6 1264.5 226.8 1265.2 227.4 1266 226.8 1266.8 225.6 1267.5 226.7 1268.2 226.2 1269 226.3 1269.8 224 1270.5 222 1271.2 224.7 1272 224.6 1272.8 226.7 1273.5 229.1 1274.2 228.2 1275 225.7 1275.8 227.2 1276.5 227.1 1277.2 224.4 1278 223.8 1278.8 225.6 1279.5 225 1280.2 224.7 1281 224.7 1281.8 225.7 1282.5 225 1283.2 227.6 1284 226.1 1284.8 229.5 1285.5 229.2 1286.2 225.8 1287 229.9 1287.8 227.9 1288.5 230.7 1289.2 229.2 1290 227.2 1290.8 228.4 1291.5 225.9 1292.2 227.6 1293 226.7 1293.8 224.8 1294.5 225.6 1295.2 223.8 1296 225.7 1296.8 222.5 1297.5 225.1 1298.2 223.8 1299 223.7 1299.8 221.4 1300.5 225.6 1301.2 221.6 1302 221.4 1302.8 220.1 1303.5 222.2 1304.2 218.6 1305 218.9 1305.8 215.9 1306.5 216.1 1307.2 214.7 1308 214.3 1308.8 212.5 1309.5 211.4 1310.2 212 1311 208.8 1311.8 208.5 1312.5 210.1 1313.2 206.7 1314 210.3 1314.8 209.3 1315.5 208.6 1316.2 211.2 1317 210.8 1317.8 209.1 1318.5 210.3 1319.2 211.3 1320 212.1 1320.8 210.9 1321.5 210.5 1322.2 210.3 1323 211 1323.8 213.2 1324.5 213.4 1325.2 213.1 1326 215.9 1326.8 213.6 1327.5 212.9 1328.2 213.2 1329 216.3 1329.8 211.4 1330.5 214.7 1331.2 213.7 1332 213.1 1332.8 215.7 1333.5 213.6 1334.2 212.5 1335 208.3 1335.8 209.4 1336.5 208.8 1337.2 208.1 1338 207.8 1338.8 207 1339.5 208.9 1340.2 211.1 1341 209.4 1341.8 208.4 1342.5 206 1343.2 209.5 1344 209.6 1344.8 209 1345.5 209.4 1346.2 211.2 1347 207.8 1347.8 210 1348.5 207.8 1349.2 207.9 1350 209.2 1350.8 208.9 1351.5 210.6 1352.2 210.7 1353 208.2 1353.8 210.9 1354.5 208.5 1355.2 209.8 1356 209.5 1356.8 208.5 1357.5 207.5 1358.2 205.6 1359 206.9 1359.8 206.2 1360.5 209.7 1361.2 208.8 1362 204.8 1362.8 207.4 1363.5 207.2 1364.2 206.6 1365 207.1 1365.8 207.4 1366.5 204.7 1367.2 203.8 1368 204.2 1368.8 202.4 1369.5 203.6 1370.2 202.8 1371 201.7 1371.8 200.8 1372.5 202.1 1373.2 202.8 1374 201.6 1374.8 200.1 1375.5 200.9 1376.2 199.4 1377 200.5 1377.8 201.9 1378.5 198.9 1379.2 199.5 1380 198 1380.8 197.6 1381.5 201.6 1382.2 199.1 1383 195.6 1383.8 198.6 1384.5 197.3 1385.2 198.8 1386 197.5 1386.8 196.2 1387.5 197.3 1388.2 197.5 1389 196.3 1389.8 196.5 1390.5 197.1 1391.2 197.4 1392 196.1 1392.8 196.8 1393.5 196.6 1394.2 196.5 1395 196.6 1395.8 194.3 1396.5 195.3 1397.2 194.4 1398 195.5 1398.8 194.2 1399.5 194.2 1400.2 194 1401 191.1 1401.8 193.1 1402.5 192.3 1403.2 192.2 1404 191.9 1404.8 193 1405.5 192.8 1406.2 194.5 1407 192.7 1407.8 191.5 1408.5 191.1 1409.2 192.6 1410 194.1 1410.8 192.6 1411.5 190.9 1412.2 190.8 1413 191.8 1413.8 191.9 1414.5 190.8 1415.2 188.3 1416 190.6 1416.8 192 1417.5 190.7 1418.2 187.2 1419 189.9 1419.8 186.7 1420.5 191.8 1421.2 190.4 1422 189.7 1422.8 192.9 1423.5 191.8 1424.2 194.2 1425 194.4 1425.8 192.7 1426.5 194.5 1427.2 192.2 1428 195.5 1428.8 194 1429.5 192.3 1430.2 191.5 1431 195.3 1431.8 194 1432.5 190.4 1433.2 193.3 1434 191.4 1434.8 190.2 1435.5 189.6 1436.2 189.3 1437 191.1 1437.8 189.3 1438.5 186.8 1439.2 190.9 1440 189.2 1440.8 186.6 1441.5 187 1442.2 185.7 1443 186.4 1443.8 187.6 1444.5 186.9 1445.2 185.2 1446 184.3 1446.8 186.1 1447.5 184.6 1448.2 186.8 1449 181.5 1449.8 183.6 1450.5 181.6 1451.2 180.6 1452 183.4 1452.8 182.2 1453.5 181.5 1454.2 182.2 1455 183.5 1455.8 179.7 1456.5 182.6 1457.2 181.6 1458 179.1 1458.8 181.3 1459.5 181.9 1460.2 180.6 1461 179.8 1461.8 182.1 1462.5 181.1 1463.2 177.6 1464 177.7 1464.8 177.8 1465.5 178.4 1466.2 177 1467 180.4 1467.8 178.7 1468.5 179.5 1469.2 180.7 1470 178.4 1470.8 179.1 1471.5 178.9 1472.2 178.4 1473 178.8 1473.8 179.9 1474.5 179 1475.2 180.6 1476 177.5 1476.8 178.9 1477.5 176.3 1478.2 177.9 1479 176.6 1479.8 178.5 1480.5 177.3 1481.2 176.6 1482 178.3 1482.8 178.3 1483.5 176.2 1484.2 174.3 1485 172 1485.8 173.2 1486.5 172.4 1487.2 170.8 1488 170.3 1488.8 168.6 1489.5 172.7 1490.2 169.2 1491 169.3 1491.8 172 1492.5 168.9 1493.2 171.7 1494 172.5 1494.8 171 1495.5 169.6 1496.2 170.9 1497 169 1497.8 173.6 1498.5 171.8 1499.2 170 1500 170.2 1500.8 172.2 1501.5 172.8 1502.2 168.5 1503 170 1503.8 168.1 1504.5 171.4 1505.2 171 1506 173.8 1506.8 169.7 1507.5 169.6 1508.2 169.6 1509 172.1 1509.8 169.4 1510.5 172.7 1511.2 172.2 1512 171.8 1512.8 170.8 1513.5 174.1 1514.2 175.8 1515 172.7 1515.8 174.6 1516.5 176.2 1517.2 172 1518 172.8 1518.8 171.2 1519.5 172.5 1520.2 172.3 1521 172.2 1521.8 171.6 1522.5 169.7 1523.2 170 1524 170.6 1524.8 172.1 1525.5 170.1 1526.2 169.2 1527 170.8 1527.8 170.7 1528.5 169.3 1529.2 170.3 1530 172.4 1530.8 172.2 1531.5 170.8 1532.2 172.6 1533 171.6 1533.8 173.1 1534.5 170.2 1535.2 172 1536 170.6 1536.8 167.8 1537.5 169.7 1538.2 168.2 1539 165.1 1539.8 168.4 1540.5 164 1541.2 163.7 1542 164 1542.8 164.3 1543.5 163.4 1544.2 161.2 1545 161.5 1545.8 159 1546.5 161.1 1547.2 162 1548 158.7 1548.8 155.6 1549.5 158.2 1550.2 158.2 1551 160.6 1551.8 160.9 1552.5 160.1 1553.2 160.2 1554 160.7 1554.8 160.7 1555.5 156.9 1556.2 160.9 1557 158.8 1557.8 159.9 1558.5 159.8 1559.2 157.8 1560 158.6 1560.8 160 1561.5 159.8 1562.2 158.6 1563 156.8 1563.8 155.2 1564.5 157.7 1565.2 156.7 1566 156.3 1566.8 154.1 1567.5 156 1568.2 154.2 1569 157.2 1569.8 154.5 1570.5 152.7 1571.2 151.5 1572 154 1572.8 152.5 1573.5 148.8 1574.2 150.1 1575 147.9 1575.8 146 1576.5 147.8 1577.2 150.4 1578 149.7 1578.8 148.6 1579.5 147.6 1580.2 148.4 1581 149.9 1581.8 147.1 1582.5 146.5 1583.2 152 1584 150.5 1584.8 152.8 1585.5 150.2 1586.2 151.8 1587 147.9 1587.8 149.8 1588.5 150.6 1589.2 149.5 1590 147 1590.8 148.3 1591.5 145.5 1592.2 143.4 1593 146.6 1593.8 147.7 1594.5 146.8 1595.2 144.7 1596 147.1 1596.8 146.8 1597.5 144.9 1598.2 142.3 1599 147.2 1599.8 147 1600.5 146.1 1601.2 143 1602 143.9 1602.8 146.4 1603.5 146.2 1604.2 145.8 1605 145 1605.8 145.3 1606.5 144.9 1607.2 145.2 1608 144.8 1608.8 146.6 1609.5 145.2 1610.2 147.4 1611 146.6 1611.8 144.3 1612.5 148.3 1613.2 144.4 1614 146.6 1614.8 146.9 1615.5 147.1 1616.2 142.7 1617 144.3 1617.8 143.1 1618.5 142.1 1619.2 137 1620 137.6 1620.8 137.5 1621.5 137.9 1622.2 140.5 1623 137.4 1623.8 140 1624.5 139 1625.2 136.8 1626 137.7 1626.8 138.9 1627.5 138 1628.2 139.5 1629 138.4 1629.8 140.9 1630.5 137.2 1631.2 134.1 1632 138.3 1632.8 139.1 1633.5 137 1634.2 135.8 1635 138.5 1635.8 141.4 1636.5 138.8 1637.2 137.3 1638 138.5 1638.8 142 1639.5 139.2 1640.2 139.6 1641 141.5 1641.8 141.8 1642.5 139.8 1643.2 142.7 1644 142.8 1644.8 142.8 1645.5 142.9 1646.2 141.6 1647 143 1647.8 142.5 1648.5 144.5 1649.2 142.8 1650 145.2 1650.8 143.3 1651.5 144.6 1652.2 143.8 1653 143.3 1653.8 143.3 1654.5 142.9 1655.2 142.7 1656 140.1 1656.8 145 1657.5 142.7 1658.2 143.3 1659 142.7 1659.8 145.2 1660.5 142.3 1661.2 144.4 1662 144.3 1662.8 145.6 1663.5 144.1 1664.2 143.7 1665 140.9 1665.8 145 1666.5 144.6 1667.2 143.5 1668 143.9 1668.8 142.7 1669.5 141.8 1670.2 143.9 1671 144.6 1671.8 141.4 1672.5 144.1 1673.2 142.1 1674 142.7 1674.8 141.7 1675.5 143.7 1676.2 143.5 1677 143 1677.8 140.2 1678.5 143 1679.2 141.6 1680 139.7 1680.8 141.2 1681.5 138.5 1682.2 141.7 1683 142.4 1683.8 138.4 1684.5 140.2 1685.2 140 1686 139.3 1686.8 135.6 1687.5 137.3 1688.2 135.2 1689 134.2 1689.8 132.5 1690.5 133.3 1691.2 132 1692 132.5 1692.8 134 1693.5 132.5 1694.2 133.7 1695 132.7 1695.8 133.9 1696.5 133.3 1697.2 135.8 1698 137.1 1698.8 133.7 1699.5 134.7 1700.2 134.3 1701 132.5 1701.8 133.9 1702.5 136.2 1703.2 133.8 1704 131.6 1704.8 134.4 1705.5 133 1706.2 136 1707 133.5 1707.8 133.1 1708.5 131.4 1709.2 132.2 1710 130.9 1710.8 129.8 1711.5 131.5 1712.2 129.8 1713 133.6 1713.8 130.4 1714.5 131.3 1715.2 130.4 1716 130 1716.8 134.1 1717.5 128.1 1718.2 133.3 1719 130.3 1719.8 131.7 1720.5 135.1 1721.2 128.9 1722 129.9 1722.8 133.6 1723.5 131.9 1724.2 131.5 1725 132.6 1725.8 130.8 1726.5 133.3 1727.2 134.5 1728 132.3 1728.8 133.2 1729.5 135.4 1730.2 136.7 1731 133.8 1731.8 135.1 1732.5 134.6 1733.2 134.9 1734 136.6 1734.8 136.1 1735.5 135.5 1736.2 135.6 1737 137.5 1737.8 138.6 1738.5 140.5 1739.2 137.5 1740 137.4 1740.8 139.1 1741.5 138.4 1742.2 137.9 1743 137.8 1743.8 140.6 1744.5 137.4 1745.2 137.3 1746 135.4 1746.8 138 1747.5 136.8 1748.2 140.2 1749 137.4 1749.8 139.3 1750.5 139.3 1751.2 139.7 1752 134.3 1752.8 138.1 1753.5 136"/>
<path stroke="#76C034" d="M249 1280L249.8 1279.3 250.5 1278.3 251.2 1277.6 252 1276.7 252.8 1275.8 253.5 1274.7 254.2 1274.6 255 1273.8 255.8 1273.1 256.5 1272.1 257.2 1271.4 258 1271 258.8 1269.2 259.5 1268.7 260.2 1267.6 261 1267.3 261.8 1266.3 262.5 1264.6 263.2 1263.9 264 1264.4 264.8 1261.8 265.5 1261.5 266.2 1260 267 1260.1 267.8 1258.1 268.5 1256.9 269.2 1255.2 270 1254.9 270.8 1254.7 271.5 1253.3 272.2 1250.6 273 1251.7 273.8 1249.2 274.5 1247.6 275.2 1247.4 276 1245.5 276.8 1244.9 277.5 1244 278.2 1243.4 279 1242.2 279.8 1240.1 280.5 1240.9 281.2 1238.8 282 1240.2 282.8 1238.7 283.5 1238 284.2 1236.1 285 1236.2 285.8 1234 286.5 1232.1 287.2 1232.3 288 1228.2 288.8 1229 289.5 1228.2 290.2 1225.8 291 1225.1 291.8 1222.3 292.5 1220.2 293.2 1217.6 294 1216.4 294.8 1213.2 295.5 1211.1 296.2 1210 297 1207.7 297.8 1207 298.5 1203.3 299.2 1200.2 300 1200.4 300.8 1198.8 301.5 1195.7 302.2 1194.9 303 1192.9 303.8 1189.2 304.5 1187.1 305.2 1184.1 306 1182.2 306.8 1179.7 307.5 1176.5 308.2 1172.7 309 1170.1 309.8 1166.9 310.5 1163.9 311.2 1161.4 312 1159.4 312.8 1158 313.5 1156.1 314.2 1154.3 315 1151.9 315.8 1149.6 316.5 1147.7 317.2 1145.9 318 1144.2 318.8 1142.5 319.5 1140.2 320.2 1138.2 321 1137.1 321.8 1134 322.5 1134.1 323.2 1130.2 324 1130.4 324.8 1127.2 325.5 1127.9 326.2 1125.4 327 1121.7 327.8 1120.8 328.5 1118.3 329.2 1117.6 330 1117.2 330.8 1117.7 331.5 1112.8 332.2 1114.1 333 1111.3 333.8 1111.1 334.5 1110.4 335.2 1109.3 336 1107.9 336.8 1105.5 337.5 1104.3 338.2 1103.3 339 1102.4 339.8 1098.8 340.5 1098.1 341.2 1096.2 342 1094.1 342.8 1091.6 343.5 1089 344.2 1085.9 345 1081.9 345.8 1077.2 346.5 1074.3 347.2 1070.4 348 1068.1 348.8 1065.4 349.5 1062.1 350.2 1059.4 351 1055.9 351.8 1052.1 352.5 1049.1 353.2 1046.2 354 1042.9 354.8 1039.9 355.5 1036 356.2 1034 357 1032 357.8 1030.3 358.5 1027.4 359.2 1024.9 360 1024.5 360.8 1022.1 361.5 1020.5 362.2 1017.5 363 1017.2 363.8 1014.1 364.5 1012.4 365.2 1011.9 366 1009.8 366.8 1008.9 367.5 1007.1 368.2 1004.4 369 1004.3 369.8 1000.6 370.5 999.6 371.2 996.4 372 995.3 372.8 993.1 373.5 991.5 374.2 989.9 375 986.2 375.8 985.3 376.5 982.4 377.2 980.8 378 978.8 378.8 976.2 379.5 973.6 380.2 970.8 381 970.1 381.8 967 382.5 965.8 383.2 962.3 384 962.8 384.8 959.4 385.5 960 386.2 957.1 387 956.2 387.8 954.1 388.5 953.5 389.2 951.8 390 950.6 390.8 948.6 391.5 946.5 392.2 945.9 393 942.4 393.8 942.3 394.5 939.7 395.2 936.6 396 935.7 396.8 932.9 397.5 931.7 398.2 927.6 399 925 399.8 921.9 400.5 918 401.2 916 402 912 402.8 910.1 403.5 907.1 404.2 903.3 405 899.9 405.8 898.5 406.5 896.3 407.2 894.5 408 891.3 408.8 888.5 409.5 887.2 410.2 884.9 411 884.1 411.8 879.9 412.5 877.8 413.2 876 414 872.7 414.8 871.2 415.5 869 416.2 866.1 417 864 417.8 862.8 418.5 860.1 419.2 856.8 420 855 420.8 853.1 421.5 849.6 422.2 847.2 423 844.5 423.8 842.5 424.5 839.6 425.2 837.5 426 834.4 426.8 832.1 427.5 828.9 428.2 828.2 429 824.3 429.8 821.3 430.5 819.5 431.2 816.7 432 814.2 432.8 811.7 433.5 808.8 434.2 806.3 435 804 435.8 803.3 436.5 800 437.2 798.1 438 795.5 438.8 795 439.5 793.8 440.2 789.8 441 788.7 441.8 786.6 442.5 784 443.2 782.6 444 779.4 444.8 778.8 445.5 776 446.2 772.8 447 771.8 447.8 769.2 448.5 766.3 449.2 762.1 450 759.8 450.8 756.8 451.5 754.6 452.2 752 453 747.4 453.8 745.6 454.5 742.6 455.2 740.4 456 736.9 456.8 733.5 457.5 731.5 458.2 728.5 459 726.5 459.8 724.7 460.5 722.1 461.2 720.4 462 716.4 462.8 716.7 463.5 713.7 464.2 711 465 707.2 465.8 704.5 466.5 703.3 467.2 701.7 468 701 468.8 698.3 469.5 695 470.2 694.3 471 692.3 471.8 689.3 472.5 687.8 473.2 685 474 682.2 474.8 679.5 475.5 678.3 476.2 676.9 477 672.9 477.8 670.8 478.5 670.2 479.2 665.8 480 666.7 480.8 663.3 481.5 662.3 482.2 661.3 483 657 483.8 655.5 484.5 656 485.2 652.8 486 650.9 486.8 649.6 487.5 648.9 488.2 647 489 644.2 489.8 641.8 490.5 640.5 491.2 638.8 492 637.4 492.8 635 493.5 634.7 494.2 630.5 495 630 495.8 629.1 496.5 627.6 497.2 625.4 498 622.3 498.8 620.5 499.5 618.8 500.2 617.4 501 615.1 501.8 612.6 502.5 611.4 503.2 610.3 504 608.7 504.8 605.6 505.5 605.2 506.2 602.4 507 601.8 507.8 604 508.5 599.4 509.2 597.1 510 595.8 510.8 593.6 511.5 591.7 512.2 591.3 513 590 513.8 590.9 514.5 585.8 515.2 587.2 516 586.9 516.8 582.2 517.5 582.9 518.2 579.9 519 580.7 519.8 580.5 520.5 577.7 521.2 576.5 522 574.6 522.8 574 523.5 573.9 524.2 570.8 525 569.4 525.8 568.2 526.5 567.9 527.2 563.7 528 563.7 528.8 561.9 529.5 561.7 530.2 561.3 531 559.6 531.8 558.7 532.5 555.2 533.2 553.1 534 550.3 534.8 548.8 535.5 546.5 536.2 543.7 537 540.5 537.8 538.6 538.5 536.2 539.2 534.6 540 531.6 540.8 530.1 541.5 527.2 542.2 523.4 543 522.3 543.8 519 544.5 519 545.2 517.7 546 514.8 546.8 513.4 547.5 510.2 548.2 508.3 549 507.9 549.8 505.9 550.5 502.8 551.2 502.6 552 501.3 552.8 500 553.5 499.2 554.2 496.8 555 493.6 555.8 492 556.5 490.1 557.2 487 558 486.7 558.8 484.7 559.5 482 560.2 479.4 561 481.4 561.8 477.5 562.5 475.5 563.2 474.5 564 472.3 564.8 469.9 565.5 468.8 566.2 465.8 567 465.6 567.8 462.1 568.5 461.9 569.2 460.4 570 457.1 570.8 458.3 571.5 454 572.2 453.8 573 450.8 573.8 449.7 574.5 447.3 575.2 448.3 576 445.5 576.8 444.5 577.5 442 578.2 440.8 579 439 579.8 436.8 580.5 435.9 581.2 433.8 582 431.8 582.8 429 583.5 427.9 584.2 426.6 585 423.3 585.8 422.4 586.5 420.6 587.2 418 588 416.5 588.8 414.9 589.5 413.7 590.2 411.9 591 411.5 591.8 408 592.5 404.9 593.2 406.2 594 403.8 594.8 402.1 595.5 403.7 596.2 401.5 597 399.6 597.8 399 598.5 396.9 599.2 396.4 600 393.6 600.8 392.4 601.5 392.9 602.2 395.6 603 394.8 603.8 391.1 604.5 393.2 605.2 391.1 606 392 606.8 389.2 607.5 391.5 608.2 390.1 609 388.6 609.8 387.7 610.5 387.1 611.2 385.8 612 384.6 612.8 387.9 613.5 383.9 614.2 381.7 615 380.8 615.8 379.5 616.5 380.7 617.2 381.7 618 377.5 618.8 377.1 619.5 374.3 620.2 375.2 621 373.4 621.8 372 622.5 371.1 623.2 369.9 624 368.3 624.8 364.7 625.5 362.6 626.2 362.1 627 359.5 627.8 361.8 628.5 358.1 629.2 357.3 630 355.4 630.8 355.7 631.5 351.9 632.2 352.7 633 351 633.8 349.6 634.5 347.1 635.2 349.2 636 346.6 636.8 345.4 637.5 344.8 638.2 344.6 639 345.2 639.8 342.2 640.5 341.9 641.2 340.8 642 339 642.8 338.8 643.5 336.2 644.2 336.1 645 333.5 645.8 330.6 646.5 330.7 647.2 330 648 326.8 648.8 325.4 649.5 324.4 650.2 323.9 651 322.2 651.8 321.6 652.5 317.9 653.2 320.3 654 317.9 654.8 315.6 655.5 316.7 656.2 315.1 657 315.2 657.8 311.2 658.5 314.2 659.2 311.5 660 307.4 660.8 310.4 661.5 307.1 662.2 305.8 663 306.1 663.8 302.8 664.5 305.8 665.2 304.2 666 304.6 666.8 306.2 667.5 304.8 668.2 304 669 302.7 669.8 303 670.5 304.8 671.2 301.9 672 300.9 672.8 303.2 673.5 301 674.2 300.4 675 302.8 675.8 297.1 676.5 299 677.2 297 678 299.9 678.8 301 679.5 301.6 680.2 298.2 681 301.8 681.8 301.6 682.5 299.8 683.2 303.2 684 299.9 684.8 299.7 685.5 301 686.2 296.3 687 301.6 687.8 300.6 688.5 298.4 689.2 300.4 690 300.2 690.8 301.4 691.5 296.5 692.2 295.5 693 293.8 693.8 296.8 694.5 294.8 695.2 297.3 696 298.2 696.8 297.9 697.5 298 698.2 301.8 699 301.4 699.8 302.4 700.5 303.3 701.2 301.1 702 301.8 702.8 307.1 703.5 303.3 704.2 302.6 705 303.9 705.8 303.4 706.5 302.5 707.2 302.8 708 302.6 708.8 302.2 709.5 302.7 710.2 299 711 299.2 711.8 301.5 712.5 298.9 713.2 299.1 714 297.2 714.8 294.5 715.5 294.9 716.2 292.2 717 292.6 717.8 292.9 718.5 292.6 719.2 288.7 720 288.9 720.8 288.6 721.5 288.3 722.2 283.2 723 285.1 723.8 285.5 724.5 285.6 725.2 282.6 726 283.4 726.8 284.4 727.5 283.1 728.2 282.7 729 283.5 729.8 285.1 730.5 286 731.2 287 732 285.4 732.8 285 733.5 285.6 734.2 289.1 735 288.5 735.8 288.5 736.5 288.9 737.2 288.6 738 288.6 738.8 286.7 739.5 288.3 740.2 288.9 741 289.7 741.8 288.2 742.5 288.4 743.2 292 744 290.2 744.8 292.2 745.5 291.5 746.2 291 747 290.3 747.8 292.2 748.5 291.7 749.2 294.9 750 292.2 750.8 293.9 751.5 295.7 752.2 294.9 753 295.4 753.8 295.7 754.5 291.4 755.2 293.1 756 292.3 756.8 296.3 757.5 293.5 758.2 296.2 759 297.8 759.8 295.3 760.5 296.3 761.2 295.3 762 294.1 762.8 297.1 763.5 295.1 764.2 295.8 765 293.9 765.8 293.1 766.5 293.3 767.2 292.3 768 290.7 768.8 293.4 769.5 293.8 770.2 293.1 771 294.4 771.8 295.2 772.5 295.7 773.2 295.7 774 297.4 774.8 293.6 775.5 296.1 776.2 296.5 777 296 777.8 295.2 778.5 295.2 779.2 294.8 780 296.8 780.8 298 781.5 294.8 782.2 295.6 783 294.9 783.8 295.3 784.5 294.1 785.2 293.5 786 293.5 786.8 290.7 787.5 292.9 788.2 289.7 789 288.9 789.8 290 790.5 290 791.2 292.9 792 293.1 792.8 291.4 793.5 292.4 794.2 292.1 795 290.3 795.8 289.5 796.5 288.3 797.2 286.1 798 284 798.8 283 799.5 283.1 800.2 281 801 283.4 801.8 280.2 802.5 281.8 803.2 277.9 804 279.2 804.8 281.3 805.5 281.4 806.2 278.8 807 282 807.8 279 808.5 279.4 809.2 277.8 810 281.1 810.8 279.9 811.5 281 812.2 278.5 813 281.4 813.8 280.2 814.5 281.5 815.2 282.4 816 279.8 816.8 281.3 817.5 282.9 818.2 282.3 819 281.7 819.8 281.3 820.5 281.8 821.2 280.3 822 282.6 822.8 281 823.5 279.2 824.2 281.2 825 280 825.8 276.7 826.5 282.9 827.2 283.3 828 280.1 828.8 280.9 829.5 282.4 830.2 282.3 831 281.7 831.8 282.1 832.5 281.3 833.2 281.6 834 283 834.8 282.4 835.5 281.3 836.2 281.8 837 279.4 837.8 283.9 838.5 279.9 839.2 281.7 840 283.1 840.8 283.3 841.5 283.7 842.2 284.6 843 281.3 843.8 283.5 844.5 283.8 845.2 282 846 281.8 846.8 284.8 847.5 281.2 848.2 280.9 849 281.5 849.8 281.3 850.5 282.4 851.2 281.4 852 281.5 852.8 281 853.5 282.6 854.2 283.6 855 280.7 855.8 284.7 856.5 281.3 857.2 283.7 858 283.3 858.8 283 859.5 279.8 860.2 284.3 861 279.7 861.8 280 862.5 283 863.2 282.3 864 286.1 864.8 286 865.5 284.7 866.2 284.7 867 286.5 867.8 283.4 868.5 286.1 869.2 286.2 870 285.4 870.8 287.2 871.5 284.7 872.2 287.8 873 289 873.8 285.8 874.5 288 875.2 290.3 876 289.3 876.8 287.5 877.5 288.4 878.2 291.5 879 293.9 879.8 291.1 880.5 293.3 881.2 292.6 882 293.7 882.8 294.7 883.5 296.1 884.2 295.7 885 299.9 885.8 298.2 886.5 298.1 887.2 299.9 888 299 888.8 298.9 889.5 300.5 890.2 298.6 891 302.1 891.8 303.4 892.5 303.6 893.2 303.1 894 303.1 894.8 301.8 895.5 304.6 896.2 305 897 306.4 897.8 305.7 898.5 305 899.2 304.2 900 305.2 900.8 305.2 901.5 307.2 902.2 305.8 903 305.3 903.8 305.8 904.5 305 905.2 306.5 906 302.5 906.8 304 907.5 304.6 908.2 306.9 909 305.7 909.8 305.8 910.5 306.6 911.2 302.7 912 305.9 912.8 304 913.5 303 914.2 306.9 915 301 915.8 301.1 916.5 303 917.2 304.5 918 304.3 918.8 302.4 919.5 305.8 920.2 307.1 921 311.9 921.8 310.8 922.5 310 923.2 308 924 310.3 924.8 308.2 925.5 311.2 926.2 313 927 312.6 927.8 313 928.5 312.4 929.2 312.3 930 315.6 930.8 314.9 931.5 314.1 932.2 311.9 933 313.9 933.8 314.1 934.5 314 935.2 315.5 936 313.7 936.8 310.6 937.5 314.2 938.2 312.9 939 312.8 939.8 314.1 940.5 309.8 941.2 310.9 942 311.3 942.8 313.3 943.5 310.5 944.2 311.5 945 314.1 945.8 312.5 946.5 311.1 947.2 314 948 309.1 948.8 311.8 949.5 310.9 950.2 312.5 951 312 951.8 311.8 952.5 313.7 953.2 312.3 954 316.1 954.8 315.6 955.5 317.4 956.2 316.1 957 316.6 957.8 318.3 958.5 319.7 959.2 315.2 960 318.5 960.8 319.5 961.5 316.9 962.2 316.8 963 318.6 963.8 315.2 964.5 316.2 965.2 320.4 966 317.4 966.8 317.7 967.5 316.3 968.2 318.1 969 317.9 969.8 321.4 970.5 320.6 971.2 317.5 972 322.8 972.8 322.7 973.5 322.1 974.2 324.2 975 324.7 975.8 324.1 976.5 323.5 977.2 325.3 978 326.9 978.8 327.6 979.5 328.4 980.2 331.3 981 330.2 981.8 333.6 982.5 332.8 983.2 334.7 984 333.4 984.8 335.5 985.5 335.4 986.2 334.2 987 336.1 987.8 336.8 988.5 338.1 989.2 338.1 990 336.9 990.8 337.7 991.5 335.3 992.2 337.9 993 341.7 993.8 341.6 994.5 340.8 995.2 340.5 996 341.2 996.8 341.2 997.5 338.1 998.2 339.4 999 342 999.8 341.4 1000.5 340.9 1001.2 340 1002 340.3 1002.8 339.5 1003.5 339.3 1004.2 337.8 1005 342.5 1005.8 341.3 1006.5 341.4 1007.2 344.8 1008 344 1008.8 341.2 1009.5 343.5 1010.2 341.2 1011 344.4 1011.8 343.9 1012.5 343.2 1013.2 344.1 1014 345.5 1014.8 342.9 1015.5 341.9 1016.2 347.8 1017 345 1017.8 347 1018.5 345 1019.2 346.8 1020 346.5 1020.8 348.5 1021.5 347.8 1022.2 347.7 1023 351.2 1023.8 349.9 1024.5 347 1025.2 350.7 1026 349.7 1026.8 349.4 1027.5 350.5 1028.2 351.2 1029 352.5 1029.8 352.1 1030.5 350.1 1031.2 352.3 1032 354.5 1032.8 351.4 1033.5 354.5 1034.2 353.6 1035 352.7 1035.8 354.2 1036.5 352.2 1037.2 353 1038 353.3 1038.8 355.4 1039.5 357.3 1040.2 354.5 1041 357 1041.8 352.1 1042.5 354 1043.2 354.9 1044 359.4 1044.8 356.1 1045.5 358.8 1046.2 355.1 1047 358.1 1047.8 359.2 1048.5 358.2 1049.2 354 1050 359.1 1050.8 359.5 1051.5 360.9 1052.2 359.3 1053 356.9 1053.8 359.3 1054.5 361.1 1055.2 358.2 1056 360.7 1056.8 359.8 1057.5 360.8 1058.2 362.3 1059 361.5 1059.8 366.5 1060.5 363.6 1061.2 364 1062 363.4 1062.8 365.4 1063.5 366.8 1064.2 366.4 1065 367.2 1065.8 370.6 1066.5 370.5 1067.2 368.9 1068 370 1068.8 372.7 1069.5 374.3 1070.2 376.1 1071 375.5 1071.8 377.8 1072.5 377.9 1073.2 378.4 1074 379.6 1074.8 381.1 1075.5 381.9 1076.2 383.3 1077 382.1 1077.8 382.9 1078.5 382.6 1079.2 384.9 1080 386 1080.8 386.7 1081.5 389.2 1082.2 389.9 1083 391.3 1083.8 391.9 1084.5 394 1085.2 394.2 1086 395.4 1086.8 395.7 1087.5 396.5 1088.2 396.1 1089 395 1089.8 394.9 1090.5 399.8 1091.2 398.6 1092 398.8 1092.8 397.7 1093.5 398 1094.2 403.5 1095 398.2 1095.8 400 1096.5 400 1097.2 398.7 1098 399.5 1098.8 401 1099.5 401.8 1100.2 401.8 1101 403.2 1101.8 401 1102.5 403.8 1103.2 406.1 1104 406.7 1104.8 404.3 1105.5 402.4 1106.2 407.3 1107 407.7 1107.8 406.8 1108.5 410.2 1109.2 408.4 1110 409.4 1110.8 408.7 1111.5 410.3 1112.2 409.7 1113 410.2 1113.8 412.1 1114.5 410.5 1115.2 408.5 1116 411.8 1116.8 412.5 1117.5 410.6 1118.2 411 1119 411.9 1119.8 412.2 1120.5 412.7 1121.2 413.5 1122 411.5 1122.8 415.8 1123.5 413 1124.2 412.8 1125 416.9 1125.8 418.1 1126.5 414.9 1127.2 414.8 1128 413.6 1128.8 416.7 1129.5 416 1130.2 415.5 1131 417.8 1131.8 419.9 1132.5 419.5 1133.2 421.5 1134 421.1 1134.8 421 1135.5 420.1 1136.2 421.9 1137 423.1 1137.8 422.7 1138.5 423.9 1139.2 421.3 1140 421.3 1140.8 422.4 1141.5 420.3 1142.2 418.3 1143 423.6 1143.8 422.3 1144.5 420.4 1145.2 421.2 1146 421.5 1146.8 421.4 1147.5 423.4 1148.2 423.6 1149 426.4 1149.8 427 1150.5 429.6 1151.2 429 1152 430.3 1152.8 430.9 1153.5 431.3 1154.2 430.4 1155 434.3 1155.8 433.4 1156.5 432.8 1157.2 433.3 1158 432.3 1158.8 432.3 1159.5 433.3 1160.2 434.6 1161 433.1 1161.8 432.3 1162.5 433.2 1163.2 436.2 1164 433.1 1164.8 436.3 1165.5 434.9 1166.2 437.1 1167 437.3 1167.8 436.7 1168.5 440 1169.2 444.5 1170 442.6 1170.8 444.3 1171.5 444.5 1172.2 445.2 1173 445.3 1173.8 445.5 1174.5 447.8 1175.2 444.2 1176 444 1176.8 443.5 1177.5 442.6 1178.2 442.3 1179 446 1179.8 443.1 1180.5 447.9 1181.2 448.2 1182 448.2 1182.8 447.7 1183.5 450.7 1184.2 451.1 1185 453.1 1185.8 452.3 1186.5 453.3 1187.2 454.2 1188 453.2 1188.8 452.9 1189.5 451.7 1190.2 452.4 1191 453.9 1191.8 454.8 1192.5 457 1193.2 458.7 1194 457.6 1194.8 456.9 1195.5 458.8 1196.2 456.8 1197 456.5 1197.8 461.4 1198.5 456.8 1199.2 458.3 1200 459.1 1200.8 461.7 1201.5 459.6 1202.2 461.6 1203 460.6 1203.8 460 1204.5 462.8 1205.2 463.3 1206 461.6 1206.8 462.4 1207.5 463.1 1208.2 465.6 1209 466.2 1209.8 466.8 1210.5 468.2 1211.2 467.3 1212 468.9 1212.8 468.6 1213.5 467.5 1214.2 469 1215 470.7 1215.8 470.7 1216.5 472.5 1217.2 468.6 1218 471.2 1218.8 471.9 1219.5 469.8 1220.2 472.7 1221 471.8 1221.8 470.2 1222.5 474.4 1223.2 471 1224 473.1 1224.8 471.7 1225.5 472 1226.2 472.8 1227 474.3 1227.8 474.4 1228.5 476.7 1229.2 473.5 1230 478.3 1230.8 478.9 1231.5 480.3 1232.2 477.5 1233 475.3 1233.8 478.1 1234.5 478.9 1235.2 480.7 1236 480.4 1236.8 482 1237.5 482.8 1238.2 482.5 1239 486.8 1239.8 484.1 1240.5 487.7 1241.2 489.4 1242 487 1242.8 488.7 1243.5 491.8 1244.2 490 1245 491.1 1245.8 490.5 1246.5 489.8 1247.2 491.8 1248 490.9 1248.8 491.2 1249.5 493.5 1250.2 493.3 1251 493.5 1251.8 492.8 1252.5 494.8 1253.2 496.2 1254 497.2 1254.8 498 1255.5 498.3 1256.2 499.1 1257 500.7 1257.8 503 1258.5 502.8 1259.2 505.3 1260 504.4 1260.8 506.2 1261.5 504 1262.2 506.3 1263 503.9 1263.8 505.7 1264.5 505.5 1265.2 503.8 1266 504.6 1266.8 505.3 1267.5 504.2 1268.2 505.4 1269 506 1269.8 508.9 1270.5 510.4 1271.2 508.6 1272 509.5 1272.8 510.5 1273.5 510.6 1274.2 511.4 1275 514.1 1275.8 514.1 1276.5 514.6 1277.2 514.6 1278 517.5 1278.8 516.7 1279.5 518.9 1280.2 519.9 1281 522 1281.8 524.5 1282.5 525.9 1283.2 528.4 1284 529.3 1284.8 527.2 1285.5 524.8 1286.2 529.5 1287 526.4 1287.8 528.8 1288.5 527.5 1289.2 526.8 1290 528.4 1290.8 527 1291.5 527.5 1292.2 525.4 1293 528.1 1293.8 528.8 1294.5 527.5 1295.2 530.4 1296 527.6 1296.8 528.5 1297.5 526.3 1298.2 525.4 1299 531.7 1299.8 530.5 1300.5 529.8 1301.2 525.8 1302 529 1302.8 529.7 1303.5 530.2 1304.2 531.1 1305 528.2 1305.8 529.4 1306.5 527.4 1307.2 528.8 1308 530.6 1308.8 528.9 1309.5 529.5 1310.2 530 1311 531.1 1311.8 533.7 1312.5 533.4 1313.2 534.4 1314 533.3 1314.8 534.9 1315.5 536.9 1316.2 534.6 1317 535.8 1317.8 536.2 1318.5 540.3 1319.2 538.9 1320 539.1 1320.8 541.1 1321.5 542 1322.2 542.3 1323 544.3 1323.8 543.1 1324.5 542.3 1325.2 543.2 1326 542.7 1326.8 543.3 1327.5 544.4 1328.2 544.6 1329 545.7 1329.8 546.9 1330.5 546.6 1331.2 545 1332 546.3 1332.8 547 1333.5 546.5 1334.2 549 1335 546.8 1335.8 546.7 1336.5 547 1337.2 550 1338 548.2 1338.8 550.7 1339.5 549.4 1340.2 549.3 1341 551 1341.8 551.6 1342.5 550.6 1343.2 550.3 1344 551.7 1344.8 551.6 1345.5 553.7 1346.2 555.3 1347 557.9 1347.8 558.7 1348.5 558.7 1349.2 559.2 1350 559.4 1350.8 563.1 1351.5 562.4 1352.2 565.6 1353 562.5 1353.8 563 1354.5 564.8 1355.2 564.2 1356 565.1 1356.8 562.5 1357.5 564.9 1358.2 564.1 1359 565 1359.8 564.4 1360.5 562.3 1361.2 565.6 1362 566.8 1362.8 563 1363.5 563.5 1364.2 564.1 1365 564.2 1365.8 561.8 1366.5 567 1367.2 565.3 1368 562.3 1368.8 561.1 1369.5 564.6 1370.2 566.7 1371 565.2 1371.8 565.4 1372.5 564.1 1373.2 565.7 1374 565.4 1374.8 569.9 1375.5 569.7 1376.2 568.2 1377 569.5 1377.8 573.4 1378.5 574.4 1379.2 574.6 1380 575.9 1380.8 579.3 1381.5 577.8 1382.2 574.7 1383 576.9 1383.8 575.3 1384.5 576.1 1385.2 578.3 1386 577 1386.8 575.6 1387.5 576.7 1388.2 576.3 1389 579.1 1389.8 577.8 1390.5 579 1391.2 578.7 1392 579.9 1392.8 578.1 1393.5 579 1394.2 578.7 1395 579.8 1395.8 578.5 1396.5 584.6 1397.2 580.2 1398 581.9 1398.8 581.9 1399.5 583.4 1400.2 585 1401 584.4 1401.8 585.2 1402.5 584.5 1403.2 584.7 1404 584.7 1404.8 588.9 1405.5 585.4 1406.2 587.1 1407 588.4 1407.8 589.7 1408.5 584.8 1409.2 584.8 1410 587 1410.8 587.6 1411.5 585.8 1412.2 584.6 1413 585.2 1413.8 587 1414.5 586.7 1415.2 588.8 1416 587 1416.8 586.6 1417.5 588 1418.2 587.8 1419 589.2 1419.8 588 1420.5 589 1421.2 591 1422 590.1 1422.8 591 1423.5 593.3 1424.2 593.5 1425 593.7 1425.8 593.5 1426.5 596.4 1427.2 599.6 1428 596.6 1428.8 597.1 1429.5 599.7 1430.2 600.2 1431 599.6 1431.8 599.7 1432.5 602.8 1433.2 602.6 1434 603.3 1434.8 602.7 1435.5 601.4 1436.2 604.3 1437 601.8 1437.8 603.6 1438.5 603.3 1439.2 607.4 1440 607 1440.8 606.1 1441.5 606.4 1442.2 608 1443 609 1443.8 609.6 1444.5 608.5 1445.2 610.2 1446 608.5 1446.8 610.3 1447.5 608.9 1448.2 614 1449 613.6 1449.8 613.2 1450.5 613.9 1451.2 615.5 1452 614.8 1452.8 611.5 1453.5 614.1 1454.2 611.5 1455 614.2 1455.8 614.1 1456.5 616.5 1457.2 617.2 1458 615.5 1458.8 616.1 1459.5 617.1 1460.2 615.8 1461 615.5 1461.8 612.6 1462.5 615.3 1463.2 617.2 1464 615.8 1464.8 613.9 1465.5 615.2 1466.2 616.1 1467 614.2 1467.8 617 1468.5 614.7 1469.2 615.1 1470 615.1 1470.8 618.5 1471.5 616.4 1472.2 617.7 1473 620.8 1473.8 620.3 1474.5 622 1475.2 621.4 1476 625.6 1476.8 626.8 1477.5 626.8 1478.2 630.9 1479 630.3 1479.8 631.8 1480.5 631.1 1481.2 630.5 1482 632.2 1482.8 631.4 1483.5 634.1 1484.2 634.9 1485 633 1485.8 631.7 1486.5 634.2 1487.2 633.5 1488 635 1488.8 635.2 1489.5 634.9 1490.2 637.1 1491 639 1491.8 641 1492.5 638.6 1493.2 639.7 1494 639.2 1494.8 638.5 1495.5 641.5 1496.2 641.1 1497 642.7 1497.8 643.4 1498.5 643.8 1499.2 644.5 1500 648.9 1500.8 648.2 1501.5 648.2 1502.2 649.6 1503 650.4 1503.8 649.1 1504.5 650.3 1505.2 649.1 1506 651.5 1506.8 649.5 1507.5 653.4 1508.2 649.9 1509 650.7 1509.8 650.6 1510.5 649 1511.2 651.3 1512 649.8 1512.8 650.2 1513.5 651.6 1514.2 650.9 1515 653.8 1515.8 653.5 1516.5 654.4 1517.2 651 1518 654.3 1518.8 653.5 1519.5 655.5 1520.2 656.9 1521 656.6 1521.8 657.6 1522.5 660 1523.2 659.6 1524 661.3 1524.8 657.1 1525.5 660.6 1526.2 660.1 1527 660.4 1527.8 662 1528.5 661.1 1529.2 660.1 1530 662.5 1530.8 664.5 1531.5 667.6 1532.2 665.7 1533 665.6 1533.8 665.4 1534.5 668 1535.2 669.5 1536 670.4 1536.8 669.6 1537.5 670.2 1538.2 668.6 1539 672.8 1539.8 671.1 1540.5 669.4 1541.2 674.5 1542 674.5 1542.8 674 1543.5 674.7 1544.2 672.8 1545 676.1 1545.8 674.7 1546.5 679.9 1547.2 678.1 1548 674.6 1548.8 678.7 1549.5 680.5 1550.2 677.5 1551 680.2 1551.8 677.6 1552.5 677.4 1553.2 674.9 1554 680.1 1554.8 678.9 1555.5 679.6 1556.2 677.7 1557 678.3 1557.8 680.2 1558.5 677.7 1559.2 677.5 1560 677.1 1560.8 680 1561.5 681.4 1562.2 680 1563 679.5 1563.8 678.5 1564.5 682.2 1565.2 680.3 1566 681.9 1566.8 685.9 1567.5 683.7 1568.2 682.3 1569 682.7 1569.8 683.7 1570.5 686.3 1571.2 684.8 1572 683.7 1572.8 685.4 1573.5 685.9 1574.2 683.2 1575 686.8 1575.8 686.1 1576.5 686 1577.2 681.9 1578 686.7 1578.8 688.4 1579.5 687 1580.2 692 1581 687.9 1581.8 686.4 1582.5 688.9 1583.2 689.6 1584 690.5 1584.8 689.8 1585.5 692 1586.2 690.3 1587 691.2 1587.8 690.5 1588.5 690.7 1589.2 692.3 1590 693.4 1590.8 695 1591.5 696.3 1592.2 698.9 1593 701 1593.8 702.7 1594.5 704 1595.2 704.5 1596 704.8 1596.8 703.4 1597.5 705.9 1598.2 705.5 1599 704.7 1599.8 710.4 1600.5 704.8 1601.2 707.6 1602 707.9 1602.8 707 1603.5 710.9 1604.2 707 1605 706.1 1605.8 709.9 1606.5 706.7 1607.2 705.8 1608 705.8 1608.8 705.3 1609.5 706.8 1610.2 707 1611 704.1 1611.8 706.7 1612.5 708.6 1613.2 704.2 1614 703.9 1614.8 705.6 1615.5 706.9 1616.2 706.8 1617 708 1617.8 709.3 1618.5 712.7 1619.2 714.2 1620 712.3 1620.8 713.3 1621.5 715.1 1622.2 716.6 1623 719.7 1623.8 719.1 1624.5 722.4 1625.2 722.8 1626 721.9 1626.8 725.5 1627.5 723 1628.2 723.1 1629 725.1 1629.8 726.5 1630.5 722.7 1631.2 726 1632 725.4 1632.8 724.6 1633.5 725.5 1634.2 725.6 1635 726.8 1635.8 728 1636.5 726.4 1637.2 729.4 1638 729.5 1638.8 730.2 1639.5 727 1640.2 727.3 1641 730.7 1641.8 729.3 1642.5 729.9 1643.2 731.2 1644 731.8 1644.8 733.9 1645.5 734.3 1646.2 734.9 1647 737.4 1647.8 735.6 1648.5 739.3 1649.2 735 1650 741.8 1650.8 737.9 1651.5 740.2 1652.2 741 1653 739.8 1653.8 741.7 1654.5 741.7 1655.2 739.5 1656 741.2 1656.8 743 1657.5 741.3 1658.2 739.1 1659 740.9 1659.8 742.6 1660.5 741.8 1661.2 743.8 1662 743.7 1662.8 744.2 1663.5 740.5 1664.2 746.5 1665 743.7 1665.8 745.6 1666.5 743.9 1667.2 745.5 1668 746.4 1668.8 747.9 1669.5 749.2 1670.2 748.6 1671 750.7 1671.8 748.2 1672.5 749.1 1673.2 748.6 1674 750.4 1674.8 749 1675.5 751.6 1676.2 753.9 1677 748.9 1677.8 754.8 1678.5 753.1 1679.2 752.5 1680 750.5 1680.8 753.5 1681.5 750.2 1682.2 754.3 1683 753 1683.8 757 1684.5 753.2 1685.2 755.2 1686 755.3 1686.8 757.3 1687.5 754.6 1688.2 756.5 1689 753.8 1689.8 754.9 1690.5 756.3 1691.2 756 1692 753.6 1692.8 754.4 1693.5 756.9 1694.2 756.7 1695 758.4 1695.8 759.1 1696.5 762.7 1697.2 764.2 1698 763.4 1698.8 763.6 1699.5 767.3 1700.2 767.4 1701 766.1 1701.8 765.8 1702.5 767.8 1703.2 773 1704 769.6 1704.8 775 1705.5 772.2 1706.2 771.5 1707 773.7 1707.8 772.1 1708.5 773.1 1709.2 772.7 1710 773.3 1710.8 774.5 1711.5 775.7 1712.2 775.2 1713 774.1 1713.8 777.6 1714.5 776.8 1715.2 776.3 1716 776.2 1716.8 774.8 1717.5 781.2 1718.2 779 1719 781.2 1719.8 782.4 1720.5 782.3 1721.2 782.1 1722 782.5 1722.8 783 1723.5 784.6 1724.2 785.1 1725 784.5 1725.8 786.2 1726.5 786.4 1727.2 787.5 1728 788.1 1728.8 790.1 1729.5 788.5 1730.2 790 1731 788.5 1731.8 788 1732.5 787.6 1733.2 789.4 1734 790.6 1734.8 792.4 1735.5 791.5 1736.2 790.5 1737 789.9 1737.8 792.7 1738.5 790.7 1739.2 789.7 1740 791.1 1740.8 788.3 1741.5 790.4 1742.2 788.9 1743 788.6 1743.8 787.3 1744.5 791.2 1745.2 791.8 1746 786.9 1746.8 789.7 1747.5 790.1 1748.2 792.6 1749 788.9 1749.8 788.5 1750.5 789.8 1751.2 792.1 1752 789.8 1752.8 789.8 1753.5 791.8"/>
<path stroke="#1F6B1B" d="M249 1280L249.8 1279.5 250.5 1279 251.2 1278.7 252 1277.7 252.8 1277.6 253.5 1277.1 254.2 1276.9 255 1275.4 255.8 1275.3 256.5 1275.4 257.2 1274.1 258 1273.5 258.8 1274.1 259.5 1273.9 260.2 1272.2 261 1271.3 261.8 1271.1 262.5 1270.6 263.2 1270 264 1269.5 264.8 1269.5 265.5 1268.6 266.2 1268.4 267 1267.3 267.8 1266.3 268.5 1266.4 269.2 1265.1 270 1264.2 270.8 1263.7 271.5 1263.6 272.2 1262.9 273 1262.2 273.8 1262 274.5 1261.7 275.2 1260.2 276 1260 276.8 1259.1 277.5 1258.9 278.2 1258.7 279 1258.5 279.8 1257.1 280.5 1255.9 281.2 1254.6 282 1255 282.8 1253.1 283.5 1253.6 284.2 1252.5 285 1251.1 285.8 1251.2 286.5 1249.7 287.2 1249.6 288 1247.9 288.8 1248.3 289.5 1247.8 290.2 1245.9 291 1246 291.8 1244.2 292.5 1243.4 293.2 1240.7 294 1241.2 294.8 1239.4 295.5 1239.8 296.2 1236.8 297 1237.3 297.8 1237 298.5 1236.1 299.2 1232.6 300 1232.6 300.8 1235.2 301.5 1232.7 302.2 1232.4 303 1228.5 303.8 1229.7 304.5 1231.1 305.2 1229.5 306 1229 306.8 1228.9 307.5 1227.3 308.2 1227.2 309 1223.1 309.8 1225.9 310.5 1221.8 311.2 1220.1 312 1221.2 312.8 1219.1 313.5 1218.3 314.2 1214.9 315 1214.7 315.8 1213.4 316.5 1209.8 317.2 1208.8 318 1207.2 318.8 1206 319.5 1204.3 320.2 1201.8 321 1201.3 321.8 1199.3 322.5 1197.6 323.2 1194.7 324 1191.9 324.8 1189.3 325.5 1187.9 326.2 1185.8 327 1185.8 327.8 1184.5 328.5 1182.3 329.2 1179.3 330 1177.5 330.8 1177.3 331.5 1175.8 332.2 1176.9 333 1174.7 333.8 1172.8 334.5 1171.5 335.2 1171.3 336 1167.9 336.8 1168.1 337.5 1165.2 338.2 1165.5 339 1163.9 339.8 1164.4 340.5 1163.4 341.2 1163.1 342 1161.7 342.8 1158.1 343.5 1156.9 344.2 1156.4 345 1155.8 345.8 1154.3 346.5 1153.7 347.2 1154.3 348 1153 348.8 1151.1 349.5 1149.6 350.2 1148.4 351 1147.8 351.8 1146.4 352.5 1143.9 353.2 1144.2 354 1142 354.8 1142.5 355.5 1142.6 356.2 1139.8 357 1140.8 357.8 1138.6 358.5 1138.2 359.2 1140.2 360 1138.3 360.8 1136.4 361.5 1134.6 362.2 1134.7 363 1132.7 363.8 1131.9 364.5 1129.1 365.2 1129.8 366 1128.6 366.8 1126.9 367.5 1129.6 368.2 1127.7 369 1125 369.8 1123.2 370.5 1123.6 371.2 1122.6 372 1122.1 372.8 1119.5 373.5 1119.5 374.2 1119.4 375 1118.7 375.8 1115.6 376.5 1116.5 377.2 1114.5 378 1113.8 378.8 1114.3 379.5 1112.8 380.2 1113.7 381 1113 381.8 1110.5 382.5 1108.4 383.2 1109.7 384 1109.4 384.8 1107 385.5 1105.1 386.2 1105.4 387 1104.9 387.8 1101.9 388.5 1103.5 389.2 1101.4 390 1101.2 390.8 1098.5 391.5 1097.4 392.2 1095.4 393 1094.1 393.8 1093.4 394.5 1090.1 395.2 1089.2 396 1088.3 396.8 1085.7 397.5 1086.8 398.2 1082 399 1084.1 399.8 1080.6 400.5 1080.3 401.2 1079.9 402 1077.9 402.8 1074.7 403.5 1073.5 404.2 1072.9 405 1071.9 405.8 1070.7 406.5 1070 407.2 1068.8 408 1065.6 408.8 1066.2 409.5 1062.4 410.2 1063 411 1060.5 411.8 1058.4 412.5 1060.5 413.2 1058.7 414 1059.1 414.8 1055.4 415.5 1055.8 416.2 1056.3 417 1054 417.8 1054 418.5 1052.5 419.2 1052.5 420 1051.1 420.8 1053 421.5 1050.1 422.2 1048.3 423 1048.5 423.8 1047.6 424.5 1046.3 425.2 1045.2 426 1043.1 426.8 1042.1 427.5 1038.6 428.2 1038.1 429 1036.6 429.8 1037.1 430.5 1036.9 431.2 1034.9 432 1033.4 432.8 1033.3 433.5 1030.6 434.2 1030.2 435 1028.5 435.8 1025.1 436.5 1024.7 437.2 1023 438 1020.3 438.8 1018.6 439.5 1016.6 440.2 1017.5 441 1017 441.8 1014.4 442.5 1014 443.2 1010.3 444 1011.8 444.8 1010.9 445.5 1009.2 446.2 1004.8 447 1005.5 447.8 1003.5 448.5 1003.4 449.2 1001.3 450 1001.7 450.8 1000 451.5 1000.8 452.2 998.6 453 998.8 453.8 997.6 454.5 996.5 455.2 995.2 456 993.8 456.8 994.5 457.5 995 458.2 993.7 459 993.6 459.8 992.6 460.5 991.8 461.2 990.2 462 987.2 462.8 990.8 463.5 989.8 464.2 986.6 465 989.8 465.8 984.5 466.5 988.3 467.2 987.2 468 987.6 468.8 989.1 469.5 988.6 470.2 987.1 471 984.7 471.8 983.9 472.5 984.9 473.2 986.1 474 984.1 474.8 982.8 475.5 982.5 476.2 981.7 477 981 477.8 977.5 478.5 978.1 479.2 976.3 480 973.5 480.8 972.2 481.5 973.5 482.2 970.7 483 969.2 483.8 967.7 484.5 967.9 485.2 966.8 486 968.1 486.8 965.4 487.5 964.1 488.2 964.8 489 964.9 489.8 966.7 490.5 968.8 491.2 970 492 970 492.8 971.6 493.5 971.7 494.2 973.1 495 975.3 495.8 974.9 496.5 974.5 497.2 974.4 498 976.7 498.8 975.3 499.5 973.4 500.2 973.2 501 973.7 501.8 973 502.5 972.8 503.2 970.5 504 969.8 504.8 969.4 505.5 968.7 506.2 972 507 972.5 507.8 970.5 508.5 971.5 509.2 970.4 510 968.9 510.8 966.3 511.5 969.5 512.2 968.2 513 966 513.8 967.9 514.5 964 515.2 961.7 516 960.5 516.8 958.1 517.5 959 518.2 956.2 519 958.4 519.8 956.6 520.5 954.3 521.2 957.1 522 953.7 522.8 956.4 523.5 956.4 524.2 955.4 525 952.8 525.8 954.2 526.5 953.9 527.2 953.8 528 955.7 528.8 955.8 529.5 955 530.2 951.5 531 951.9 531.8 952.7 532.5 953.9 533.2 949.6 534 950.8 534.8 954.2 535.5 950.1 536.2 950.3 537 950.5 537.8 952.4 538.5 951.8 539.2 950.9 540 948.7 540.8 950 541.5 948.5 542.2 947 543 947.4 543.8 946.6 544.5 942.9 545.2 941.3 546 941.1 546.8 939.1 547.5 935.5 548.2 937.5 549 938.2 549.8 935.1 550.5 935.3 551.2 930.5 552 932.5 552.8 933.1 553.5 932.2 554.2 929.3 555 928.2 555.8 929.6 556.5 927.1 557.2 927.6 558 926.1 558.8 927.8 559.5 927.4 560.2 928.9 561 926.6 561.8 924.7 562.5 924.8 563.2 923 564 925.2 564.8 925.4 565.5 926.5 566.2 926.7 567 922.8 567.8 925.8 568.5 926.9 569.2 922.9 570 927.7 570.8 923.1 571.5 927.9 572.2 924.8 573 925.2 573.8 923.7 574.5 923.4 575.2 919.8 576 919.9 576.8 918.2 577.5 920.6 578.2 918.2 579 920.1 579.8 920.2 580.5 918.6 581.2 921.7 582 921.6 582.8 922.8 583.5 924.1 584.2 924.8 585 925.3 585.8 927.6 586.5 924.4 587.2 924.3 588 924.6 588.8 926.2 589.5 923.4 590.2 924.6 591 918 591.8 919.4 592.5 919.1 593.2 921 594 922.3 594.8 920.4 595.5 919.3 596.2 922.7 597 924 597.8 919 598.5 923.7 599.2 924.7 600 924.1 600.8 923.9 601.5 925.4 602.2 925.4 603 924.4 603.8 923.3 604.5 925.6 605.2 924.5 606 926.1 606.8 924.8 607.5 926.8 608.2 928.4 609 928.2 609.8 928.9 610.5 926.1 611.2 928.6 612 928.9 612.8 927.4 613.5 927.8 614.2 923.8 615 925.8 615.8 923.7 616.5 920.4 617.2 921.8 618 919.9 618.8 920.6 619.5 920.1 620.2 922 621 921.7 621.8 922 622.5 923.9 623.2 925 624 922.2 624.8 925.8 625.5 926.2 626.2 926.7 627 930.7 627.8 930.5 628.5 928.3 629.2 928.7 630 930.7 630.8 928.2 631.5 927.4 632.2 924.6 633 926.4 633.8 926.8 634.5 923.7 635.2 923.5 636 925.8 636.8 925 637.5 925 638.2 924.2 639 925.7 639.8 924 640.5 926.6 641.2 926.6 642 931.4 642.8 929.9 643.5 929.8 644.2 929.6 645 929.6 645.8 927.5 646.5 934.2 647.2 929.7 648 929.5 648.8 926.3 649.5 927.1 650.2 926.9 651 925.6 651.8 926.3 652.5 923.6 653.2 925.9 654 926.9 654.8 927.1 655.5 927.2 656.2 927 657 925.6 657.8 928.9 658.5 926.9 659.2 926.3 660 928.8 660.8 925.4 661.5 927.1 662.2 928.8 663 929.6 663.8 928.3 664.5 929.1 665.2 930.3 666 929 666.8 927.3 667.5 929 668.2 928.9 669 930.5 669.8 932 670.5 931.8 671.2 932 672 934.3 672.8 937.1 673.5 935.4 674.2 936.6 675 936.4 675.8 937.9 676.5 935.6 677.2 938.8 678 939.4 678.8 937 679.5 936.8 680.2 935.5 681 937.7 681.8 936 682.5 937.1 683.2 937.8 684 936.4 684.8 938.8 685.5 940.6 686.2 934.6 687 936.4 687.8 938 688.5 936.7 689.2 937.7 690 938.6 690.8 940.5 691.5 940.7 692.2 938.7 693 940.2 693.8 939.5 694.5 939.1 695.2 937.2 696 936.2 696.8 938.1 697.5 940.5 698.2 940.4 699 937.5 699.8 940.3 700.5 940.4 701.2 941.3 702 939.6 702.8 942.9 703.5 942.1 704.2 943.9 705 945 705.8 942 706.5 945.5 707.2 948.7 708 946.7 708.8 948.2 709.5 947.8 710.2 947.2 711 948.5 711.8 949 712.5 950 713.2 950.3 714 947.5 714.8 950.5 715.5 948.1 716.2 950.4 717 950.9 717.8 951.9 718.5 952.3 719.2 953.9 720 952.1 720.8 954.4 721.5 954.8 722.2 955.7 723 955.8 723.8 958.2 724.5 959.2 725.2 960.6 726 959.7 726.8 960.3 727.5 961.3 728.2 961.2 729 962.3 729.8 964.8 730.5 961.4 731.2 965.9 732 960.2 732.8 965.5 733.5 964.8 734.2 968.4 735 966.9 735.8 969.4 736.5 969.9 737.2 971.6 738 975 738.8 976.3 739.5 976.7 740.2 981.5 741 980.6 741.8 982.5 742.5 981.2 743.2 982.5 744 983.5 744.8 983 745.5 985.6 746.2 984.1 747 987.3 747.8 987.1 748.5 987.1 749.2 989.3 750 988.7 750.8 989.2 751.5 991.6 752.2 990.3 753 991.2 753.8 992.3 754.5 990.3 755.2 992.3 756 990.6 756.8 992.5 757.5 992.8 758.2 991.6 759 990 759.8 990 760.5 991 761.2 993.7 762 993.1 762.8 993 763.5 994.8 764.2 995.4 765 995.8 765.8 993.5 766.5 995.7 767.2 996.5 768 993.9 768.8 995.2 769.5 994.1 770.2 995 771 996 771.8 993.4 772.5 994.5 773.2 994.8 774 995.2 774.8 994 775.5 995.1 776.2 994.1 777 994.1 777.8 995.3 778.5 995.4 779.2 994.6 780 994 780.8 995.6 781.5 996.3 782.2 993.2 783 993.1 783.8 992.8 784.5 996.8 785.2 993.7 786 993.4 786.8 996.4 787.5 998 788.2 995.3 789 997.2 789.8 996.4 790.5 998.2 791.2 1002 792 1001 792.8 1001.5 793.5 1003.6 794.2 1004.7 795 1005.9 795.8 1006 796.5 1006.5 797.2 1010.4 798 1007.9 798.8 1010.6 799.5 1008.6 800.2 1011 801 1011.6 801.8 1011.1 802.5 1014.6 803.2 1011.4 804 1012.7 804.8 1012 805.5 1012.4 806.2 1012.7 807 1010.3 807.8 1011.5 808.5 1014.2 809.2 1009.3 810 1010.6 810.8 1010 811.5 1009 812.2 1011.8 813 1011.5 813.8 1010.3 814.5 1009.8 815.2 1013.5 816 1008.7 816.8 1009.8 817.5 1013 818.2 1014.6 819 1015 819.8 1015.5 820.5 1015.6 821.2 1017.8 822 1018.5 822.8 1019.9 823.5 1020.8 824.2 1025.1 825 1026.1 825.8 1028.7 826.5 1027.7 827.2 1029.9 828 1031.1 828.8 1031.9 829.5 1032.4 830.2 1033.6 831 1031.8 831.8 1033.9 832.5 1035.3 833.2 1032.1 834 1034.2 834.8 1035.1 835.5 1036.1 836.2 1034.7 837 1035.6 837.8 1037 838.5 1037.1 839.2 1033.9 840 1033.3 840.8 1034.7 841.5 1033.9 842.2 1032.7 843 1032.6 843.8 1033.7 844.5 1034.8 845.2 1036.1 846 1037.2 846.8 1037.4 847.5 1041.2 848.2 1041.4 849 1042.2 849.8 1040.6 850.5 1041.5 851.2 1043.1 852 1044.6 852.8 1042.3 853.5 1046.9 854.2 1045.4 855 1047 855.8 1047 856.5 1050.1 857.2 1049 858 1049 858.8 1051 859.5 1050 860.2 1050.5 861 1051.4 861.8 1051.1 862.5 1052.6 863.2 1054 864 1053.8 864.8 1054.4 865.5 1056.5 866.2 1056.5 867 1058 867.8 1056.7 868.5 1054 869.2 1053 870 1051.3 870.8 1055.2 871.5 1054.5 872.2 1053.1 873 1052.3 873.8 1053.7 874.5 1052.5 875.2 1052.6 876 1051.7 876.8 1050.6 877.5 1055.2 878.2 1051.5 879 1053.4 879.8 1055.8 880.5 1051.9 881.2 1056.3 882 1055.1 882.8 1054.4 883.5 1054.9 884.2 1052.6 885 1051.6 885.8 1057.6 886.5 1054.8 887.2 1057 888 1057.4 888.8 1057.2 889.5 1056.9 890.2 1057.8 891 1059.7 891.8 1058.4 892.5 1059.7 893.2 1058.7 894 1058.9 894.8 1059.2 895.5 1059.6 896.2 1061 897 1063 897.8 1062.8 898.5 1062.9 899.2 1065.8 900 1064.2 900.8 1064.2 901.5 1064.5 902.2 1063.5 903 1063.2 903.8 1064.6 904.5 1064.4 905.2 1064.1 906 1066.2 906.8 1065.1 907.5 1064.2 908.2 1062.8 909 1065.6 909.8 1068.9 910.5 1068.5 911.2 1070.4 912 1069.9 912.8 1072.2 913.5 1070.4 914.2 1071.7 915 1073.8 915.8 1072.3 916.5 1074.6 917.2 1075.8 918 1078.8 918.8 1076 919.5 1076.9 920.2 1076.5 921 1077.5 921.8 1075.1 922.5 1077.7 923.2 1082.2 924 1081.4 924.8 1080.6 925.5 1083.9 926.2 1081.7 927 1079 927.8 1080.4 928.5 1080.9 929.2 1083 930 1079.5 930.8 1081.4 931.5 1081.6 932.2 1079.1 933 1079.9 933.8 1077.4 934.5 1080 935.2 1076.7 936 1078.6 936.8 1081.7 937.5 1079.5 938.2 1080.2 939 1080.7 939.8 1084.2 940.5 1081.5 941.2 1082.1 942 1080.6 942.8 1080.5 943.5 1080.9 944.2 1082.5 945 1082.4 945.8 1085.4 946.5 1085.4 947.2 1085.3 948 1084.8 948.8 1082.3 949.5 1086.5 950.2 1088.2 951 1089.2 951.8 1084.7 952.5 1086.1 953.2 1090.3 954 1089.1 954.8 1089.9 955.5 1090.1 956.2 1092 957 1089.3 957.8 1091.4 958.5 1094.6 959.2 1093.2 960 1091.4 960.8 1093.8 961.5 1093.3 962.2 1092.1 963 1094.5 963.8 1093.7 964.5 1093.2 965.2 1095.7 966 1092.9 966.8 1095.1 967.5 1094.4 968.2 1092.9 969 1093.5 969.8 1096.5 970.5 1093.8 971.2 1093.4 972 1093.2 972.8 1093.2 973.5 1095.6 974.2 1097.2 975 1096.7 975.8 1095.7 976.5 1096.1 977.2 1094.4 978 1094.6 978.8 1093.9 979.5 1097.8 980.2 1094.8 981 1094.3 981.8 1094.4 982.5 1095.9 983.2 1095.7 984 1097.1 984.8 1097.8 985.5 1099.6 986.2 1095.8 987 1098.3 987.8 1096.7 988.5 1097 989.2 1099.6 990 1098.3 990.8 1097 991.5 1099.3 992.2 1099 993 1100.4 993.8 1098.6 994.5 1099.9 995.2 1099.5 996 1100.3 996.8 1101.5 997.5 1100.3 998.2 1101.3 999 1102.5 999.8 1100.5 1000.5 1101.3 1001.2 1102.2 1002 1101.2 1002.8 1104 1003.5 1105.1 1004.2 1102.3 1005 1104.4 1005.8 1105.2 1006.5 1108.5 1007.2 1109.7 1008 1107.3 1008.8 1108.5 1009.5 1110 1010.2 1110.4 1011 1112.3 1011.8 1113.2 1012.5 1113.8 1013.2 1114.8 1014 1114.9 1014.8 1114 1015.5 1113.8 1016.2 1114.1 1017 1116.5 1017.8 1116.9 1018.5 1118.3 1019.2 1117.1 1020 1117.3 1020.8 1119.2 1021.5 1120.6 1022.2 1119.7 1023 1119.9 1023.8 1118.5 1024.5 1120.4 1025.2 1121 1026 1118.6 1026.8 1122.5 1027.5 1119.4 1028.2 1122.5 1029 1121.4 1029.8 1123.4 1030.5 1122.7 1031.2 1123.1 1032 1125 1032.8 1124 1033.5 1124.2 1034.2 1126 1035 1126.8 1035.8 1125.6 1036.5 1126.3 1037.2 1128.8 1038 1125.9 1038.8 1127.2 1039.5 1127.8 1040.2 1125.3 1041 1125.9 1041.8 1129.3 1042.5 1130.3 1043.2 1129.3 1044 1128.2 1044.8 1128.4 1045.5 1130.7 1046.2 1128.8 1047 1126.8 1047.8 1130 1048.5 1129.6 1049.2 1130.1 1050 1131.1 1050.8 1132.2 1051.5 1132.1 1052.2 1131.5 1053 1128.1 1053.8 1131.8 1054.5 1131.9 1055.2 1134.3 1056 1134.8 1056.8 1134.2 1057.5 1135.1 1058.2 1132.4 1059 1133.3 1059.8 1132.6 1060.5 1134.1 1061.2 1135.3 1062 1136.9 1062.8 1135.9 1063.5 1137.9 1064.2 1140.5 1065 1136 1065.8 1138.1 1066.5 1139.4 1067.2 1141.6 1068 1143.5 1068.8 1142.4 1069.5 1141.3 1070.2 1141.1 1071 1143 1071.8 1144.3 1072.5 1145.1 1073.2 1142.9 1074 1146 1074.8 1142.6 1075.5 1144.5 1076.2 1142.7 1077 1140.9 1077.8 1142.1 1078.5 1141.1 1079.2 1140.9 1080 1141.8 1080.8 1140 1081.5 1144.3 1082.2 1142.5 1083 1139.3 1083.8 1137.8 1084.5 1142.2 1085.2 1141.2 1086 1141.2 1086.8 1141.1 1087.5 1141.2 1088.2 1141 1089 1146.9 1089.8 1146.2 1090.5 1143.7 1091.2 1148.5 1092 1142.9 1092.8 1146.9 1093.5 1146.3 1094.2 1145.5 1095 1146.5 1095.8 1147.3 1096.5 1149.1 1097.2 1151.9 1098 1152.4 1098.8 1153 1099.5 1154.6 1100.2 1150.6 1101 1155.7 1101.8 1153.2 1102.5 1152.8 1103.2 1154.8 1104 1155 1104.8 1156.8 1105.5 1157.7 1106.2 1154.6 1107 1160.7 1107.8 1161.9 1108.5 1158.6 1109.2 1161.7 1110 1161.5 1110.8 1161.6 1111.5 1162.7 1112.2 1158.4 1113 1161.6 1113.8 1158.6 1114.5 1163.4 1115.2 1157.8 1116 1157 1116.8 1159.7 1117.5 1159.2 1118.2 1158.5 1119 1158.6 1119.8 1158.7 1120.5 1160.3 1121.2 1157.5 1122 1158.6 1122.8 1158 1123.5 1158.9 1124.2 1159.4 1125 1158.1 1125.8 1160.7 1126.5 1159.2 1127.2 1160.2 1128 1161.4 1128.8 1161.2 1129.5 1163.9 1130.2 1164.8 1131 1164.9 1131.8 1166.3 1132.5 1164.5 1133.2 1167.7 1134 1165.9 1134.8 1166.9 1135.5 1168 1136.2 1165.7 1137 1166.3 1137.8 1166.8 1138.5 1168.6 1139.2 1168.8 1140 1167.9 1140.8 1167.8 1141.5 1169.9 1142.2 1168.9 1143 1168.1 1143.8 1169.5 1144.5 1169.9 1145.2 1168.8 1146 1167.6 1146.8 1170.6 1147.5 1171.6 1148.2 1168.7 1149 1170.5 1149.8 1168.1 1150.5 1173.3 1151.2 1170 1152 1172.9 1152.8 1172 1153.5 1173.5 1154.2 1173.3 1155 1170.3 1155.8 1176.9 1156.5 1170.5 1157.2 1173.4 1158 1171.5 1158.8 1172.3 1159.5 1174.9 1160.2 1170.3 1161 1173.5 1161.8 1174.1 1162.5 1173.4 1163.2 1174 1164 1173.3 1164.8 1172.4 1165.5 1172.9 1166.2 1175 1167 1177 1167.8 1176 1168.5 1178.4 1169.2 1176.2 1170 1176.7 1170.8 1176.7 1171.5 1173.4 1172.2 1176.5 1173 1173.8 1173.8 1175 1174.5 1179.1 1175.2 1173.5 1176 1175.3 1176.8 1175.7 1177.5 1175.9 1178.2 1175.8 1179 1175.8 1179.8 1179.4 1180.5 1173.8 1181.2 1174.9 1182 1178 1182.8 1176.9 1183.5 1175.5 1184.2 1175.9 1185 1177.2 1185.8 1181.3 1186.5 1178.8 1187.2 1177.4 1188 1179.9 1188.8 1179.9 1189.5 1181.7 1190.2 1181.2 1191 1183.6 1191.8 1183.3 1192.5 1186.4 1193.2 1184.9 1194 1184.7 1194.8 1183.1 1195.5 1184.4 1196.2 1185.2 1197 1183.8 1197.8 1188.4 1198.5 1184.5 1199.2 1183.7 1200 1185.8 1200.8 1184.1 1201.5 1185.8 1202.2 1185.1 1203 1184.1 1203.8 1187.2 1204.5 1184.7 1205.2 1186.4 1206 1185 1206.8 1184.6 1207.5 1185.1 1208.2 1186.5 1209 1188.1 1209.8 1189.7 1210.5 1190.4 1211.2 1188.9 1212 1191.8 1212.8 1190.2 1213.5 1190.7 1214.2 1195 1215 1193.8 1215.8 1192.8 1216.5 1195.8 1217.2 1196.1 1218 1196.2 1218.8 1196.2 1219.5 1193.2 1220.2 1193.9 1221 1192.9 1221.8 1194.6 1222.5 1191.5 1223.2 1192.4 1224 1192.9 1224.8 1192.4 1225.5 1192.7 1226.2 1193.7 1227 1189.9 1227.8 1194.1 1228.5 1191.5 1229.2 1191.7 1230 1193.3 1230.8 1195 1231.5 1193.2 1232.2 1193.4 1233 1193.6 1233.8 1193.4 1234.5 1196 1235.2 1194.7 1236 1195.5 1236.8 1197.6 1237.5 1196 1238.2 1197.8 1239 1195.4 1239.8 1194.6 1240.5 1198.9 1241.2 1198.7 1242 1196.1 1242.8 1196.9 1243.5 1197.2 1244.2 1196.2 1245 1198.1 1245.8 1198.9 1246.5 1200.9 1247.2 1198.1 1248 1202.7 1248.8 1202.2 1249.5 1201.4 1250.2 1201.8 1251 1201.9 1251.8 1200.1 1252.5 1201.8 1253.2 1203.7 1254 1201.2 1254.8 1202.4 1255.5 1199.4 1256.2 1202.4 1257 1204 1257.8 1203.3 1258.5 1203.6 1259.2 1201.6 1260 1204.5 1260.8 1201.8 1261.5 1205 1262.2 1205.5 1263 1205.8 1263.8 1209.2 1264.5 1207.2 1265.2 1209.8 1266 1209 1266.8 1209.2 1267.5 1211 1268.2 1208.8 1269 1209 1269.8 1209.3 1270.5 1210.4 1271.2 1209.9 1272 1209.8 1272.8 1209.2 1273.5 1205.9 1274.2 1208.8 1275 1208.9 1275.8 1210.9 1276.5 1210.1 1277.2 1210.9 1278 1212.8 1278.8 1209.2 1279.5 1207.6 1280.2 1209.7 1281 1207.2 1281.8 1207.6 1282.5 1210.3 1283.2 1208.5 1284 1209.6 1284.8 1206.9 1285.5 1209.5 1286.2 1212.1 1287 1209.1 1287.8 1211.1 1288.5 1212.2 1289.2 1208.5 1290 1215 1290.8 1211.3 1291.5 1210.9 1292.2 1212.9 1293 1208 1293.8 1211.6 1294.5 1210.2 1295.2 1211.5 1296 1209.7 1296.8 1212.5 1297.5 1209.6 1298.2 1211.8 1299 1212.2 1299.8 1212.1 1300.5 1212.5 1301.2 1212.1 1302 1214.1 1302.8 1212.5 1303.5 1211.9 1304.2 1210.8 1305 1211.9 1305.8 1213.4 1306.5 1213.8 1307.2 1216.2 1308 1212 1308.8 1219 1309.5 1215.2 1310.2 1214.6 1311 1214.2 1311.8 1217.3 1312.5 1216.9 1313.2 1215.9 1314 1216.9 1314.8 1217.3 1315.5 1216.7 1316.2 1218.3 1317 1216.5 1317.8 1216 1318.5 1214.7 1319.2 1218.1 1320 1214.9 1320.8 1214.1 1321.5 1216.1 1322.2 1214.5 1323 1209.9 1323.8 1210.6 1324.5 1212.5 1325.2 1211.2 1326 1212.6 1326.8 1216.1 1327.5 1216.5 1328.2 1213.4 1329 1214.9 1329.8 1216 1330.5 1214.7 1331.2 1213.2 1332 1216.9 1332.8 1215.5 1333.5 1217.1 1334.2 1216.7 1335 1215.2 1335.8 1219.4 1336.5 1217.1 1337.2 1217.4 1338 1216.3 1338.8 1218.2 1339.5 1218.5 1340.2 1215.6 1341 1217.1 1341.8 1216 1342.5 1214.8 1343.2 1215.8 1344 1217 1344.8 1216.4 1345.5 1216.8 1346.2 1213.2 1347 1213.6 1347.8 1214.7 1348.5 1215.3 1349.2 1213.8 1350 1213.1 1350.8 1212.4 1351.5 1216.5 1352.2 1216.6 1353 1214.4 1353.8 1217.4 1354.5 1214.7 1355.2 1216.4 1356 1217.5 1356.8 1214.5 1357.5 1214.1 1358.2 1213.3 1359 1215.5 1359.8 1216.4 1360.5 1217 1361.2 1217.8 1362 1217.5 1362.8 1219 1363.5 1216.7 1364.2 1219.5 1365 1219.6 1365.8 1218.9 1366.5 1221.4 1367.2 1220.2 1368 1220.9 1368.8 1220.4 1369.5 1217.9 1370.2 1221.5 1371 1219.5 1371.8 1217.8 1372.5 1218.1 1373.2 1217 1374 1218.4 1374.8 1218.2 1375.5 1219 1376.2 1217.6 1377 1219.7 1377.8 1219.6 1378.5 1218.1 1379.2 1220 1380 1220.3 1380.8 1220.1 1381.5 1222.2 1382.2 1224.2 1383 1221.4 1383.8 1219.8 1384.5 1221.3 1385.2 1226.4 1386 1221.3 1386.8 1223.7 1387.5 1221.8 1388.2 1224.2 1389 1224.7 1389.8 1222.6 1390.5 1224.2 1391.2 1221.3 1392 1223.3 1392.8 1221.7 1393.5 1224 1394.2 1223.2 1395 1225.1 1395.8 1223.4 1396.5 1225.3 1397.2 1225.7 1398 1224.7 1398.8 1224.5 1399.5 1223.8 1400.2 1224.6 1401 1224.3 1401.8 1224.1 1402.5 1224.2 1403.2 1226.4 1404 1225.2 1404.8 1225.5 1405.5 1227 1406.2 1226.7 1407 1226.9 1407.8 1226.2 1408.5 1229.1 1409.2 1226.7 1410 1227.2 1410.8 1229.9 1411.5 1231.6 1412.2 1231.3 1413 1230.6 1413.8 1231.8 1414.5 1231.4 1415.2 1230.9 1416 1232.1 1416.8 1232.4 1417.5 1231.5 1418.2 1233.7 1419 1231.6 1419.8 1234.9 1420.5 1235.9 1421.2 1235.9 1422 1232.9 1422.8 1232.6 1423.5 1230.1 1424.2 1232.3 1425 1235.5 1425.8 1229.3 1426.5 1229.3 1427.2 1232.7 1428 1232 1428.8 1228.5 1429.5 1231 1430.2 1231.4 1431 1228.4 1431.8 1231.9 1432.5 1229.1 1433.2 1233.2 1434 1231.9 1434.8 1230.4 1435.5 1229.1 1436.2 1231.9 1437 1232.6 1437.8 1231.9 1438.5 1231.2 1439.2 1231.5 1440 1232.9 1440.8 1229.6 1441.5 1230.8 1442.2 1231.3 1443 1230.7 1443.8 1233 1444.5 1234.8 1445.2 1232 1446 1232.7 1446.8 1228.5 1447.5 1231.6 1448.2 1233 1449 1231.2 1449.8 1234.5 1450.5 1231.3 1451.2 1236 1452 1233.9 1452.8 1234.6 1453.5 1236 1454.2 1236.7 1455 1236.9 1455.8 1237.3 1456.5 1238.3 1457.2 1240.5 1458 1239.8 1458.8 1240.5 1459.5 1239.1 1460.2 1240.1 1461 1239.7 1461.8 1240.6 1462.5 1240.3 1463.2 1242.6 1464 1241.4 1464.8 1240.7 1465.5 1242.8 1466.2 1240.2 1467 1239.5 1467.8 1242.4 1468.5 1241.7 1469.2 1242.1 1470 1243.1 1470.8 1242 1471.5 1242.5 1472.2 1243.4 1473 1243.3 1473.8 1244.5 1474.5 1243.3 1475.2 1244.1 1476 1240.5 1476.8 1244.8 1477.5 1241.1 1478.2 1243.5 1479 1246.4 1479.8 1243 1480.5 1240.7 1481.2 1244.4 1482 1241.9 1482.8 1242.3 1483.5 1241.5 1484.2 1242.9 1485 1242.6 1485.8 1242.5 1486.5 1243.9 1487.2 1242.4 1488 1244.5 1488.8 1243.1 1489.5 1244.4 1490.2 1242.6 1491 1243 1491.8 1244.4 1492.5 1241.7 1493.2 1241.1 1494 1243.2 1494.8 1241 1495.5 1241.2 1496.2 1241.9 1497 1244.9 1497.8 1241.3 1498.5 1242.1 1499.2 1242.7 1500 1241.9 1500.8 1242.9 1501.5 1243.7 1502.2 1242.3 1503 1244.7 1503.8 1242 1504.5 1243.3 1505.2 1243.6 1506 1248.1 1506.8 1241.9 1507.5 1245 1508.2 1248 1509 1243.3 1509.8 1245.4 1510.5 1244.7 1511.2 1243 1512 1244.8 1512.8 1243.3 1513.5 1244 1514.2 1241.7 1515 1244.4 1515.8 1240.9 1516.5 1244.3 1517.2 1246.3 1518 1245.9 1518.8 1244.4 1519.5 1244.1 1520.2 1243.9 1521 1248.4 1521.8 1244.7 1522.5 1244.3 1523.2 1243.6 1524 1244.6 1524.8 1245.4 1525.5 1244.1 1526.2 1243.5 1527 1244.6 1527.8 1245.3 1528.5 1246.2 1529.2 1245.5 1530 1245.8 1530.8 1245.4 1531.5 1247.5 1532.2 1246 1533 1245.3 1533.8 1246.2 1534.5 1245.7 1535.2 1244.6 1536 1245.5 1536.8 1248 1537.5 1247.2 1538.2 1248.6 1539 1246.6 1539.8 1245.2 1540.5 1245.9 1541.2 1248.9 1542 1246.3 1542.8 1246.6 1543.5 1248.6 1544.2 1247.3 1545 1247.4 1545.8 1247.6 1546.5 1247.3 1547.2 1247.5 1548 1248.8 1548.8 1247.8 1549.5 1248.4 1550.2 1249.8 1551 1247.9 1551.8 1248.4 1552.5 1247.4 1553.2 1249.8 1554 1250.3 1554.8 1250.4 1555.5 1250.7 1556.2 1250.5 1557 1250.5 1557.8 1248.8 1558.5 1250.5 1559.2 1247.9 1560 1251.1 1560.8 1248.6 1561.5 1247.3 1562.2 1245.6 1563 1248.1 1563.8 1248 1564.5 1244.8 1565.2 1245.9 1566 1246 1566.8 1245.3 1567.5 1247.8 1568.2 1248.8 1569 1245.3 1569.8 1247.2 1570.5 1245.8 1571.2 1247.4 1572 1243.5 1572.8 1246.5 1573.5 1248.8 1574.2 1246.6 1575 1248.7 1575.8 1246.8 1576.5 1249 1577.2 1248.3 1578 1247.2 1578.8 1246.1 1579.5 1246.8 1580.2 1248.3 1581 1247.2 1581.8 1247.4 1582.5 1251.4 1583.2 1246.1 1584 1248.1 1584.8 1248.9 1585.5 1247.5 1586.2 1249 1587 1248.9 1587.8 1247.9 1588.5 1250.5 1589.2 1249.7 1590 1250 1590.8 1252.2 1591.5 1250.4 1592.2 1252.3 1593 1252.8 1593.8 1252.8 1594.5 1252.9 1595.2 1252.2 1596 1251.5 1596.8 1253.4 1597.5 1253.8 1598.2 1253.3 1599 1253.3 1599.8 1255.7 1600.5 1254.3 1601.2 1255.3 1602 1254.9 1602.8 1254 1603.5 1257.5 1604.2 1256.2 1605 1256.5 1605.8 1254.7 1606.5 1255.6 1607.2 1256.4 1608 1255.1 1608.8 1257.1 1609.5 1253.8 1610.2 1256.2 1611 1253.9 1611.8 1254.1 1612.5 1254.5 1613.2 1256.6 1614 1255.4 1614.8 1255.7 1615.5 1255.8 1616.2 1254.9 1617 1255.7 1617.8 1255.9 1618.5 1256.5 1619.2 1256.8 1620 1255.4 1620.8 1257.2 1621.5 1258.4 1622.2 1257 1623 1257.3 1623.8 1256.7 1624.5 1256.8 1625.2 1257.3 1626 1256.8 1626.8 1258 1627.5 1256.6 1628.2 1258.7 1629 1257.3 1629.8 1259.7 1630.5 1260.1 1631.2 1257.8 1632 1259.8 1632.8 1258.2 1633.5 1259.2 1634.2 1258.2 1635 1258.4 1635.8 1259.1 1636.5 1261 1637.2 1257.8 1638 1260.3 1638.8 1260.6 1639.5 1259.8 1640.2 1260.1 1641 1261 1641.8 1260.9 1642.5 1261.5 1643.2 1259.6 1644 1258.8 1644.8 1259.7 1645.5 1260.2 1646.2 1259.9 1647 1261.5 1647.8 1262.5 1648.5 1260.7 1649.2 1259.1 1650 1261.2 1650.8 1259.7 1651.5 1260.7 1652.2 1260.9 1653 1260.8 1653.8 1260.7 1654.5 1260.9 1655.2 1261.6 1656 1261.8 1656.8 1262.6 1657.5 1258.6 1658.2 1260.6 1659 1260.5 1659.8 1261.8 1660.5 1261.5 1661.2 1261.8 1662 1259.4 1662.8 1260.5 1663.5 1261 1664.2 1260 1665 1259.7 1665.8 1259.7 1666.5 1260.8 1667.2 1258.4 1668 1260.6 1668.8 1259.9 1669.5 1258.8 1670.2 1260.1 1671 1259.5 1671.8 1260.7 1672.5 1259.2 1673.2 1260.5 1674 1258.8 1674.8 1259.8 1675.5 1260.6 1676.2 1259.7 1677 1260.5 1677.8 1259.7 1678.5 1260.6 1679.2 1259.8 1680 1259.9 1680.8 1261.3 1681.5 1262.1 1682.2 1261.8 1683 1263.4 1683.8 1262.9 1684.5 1263.5 1685.2 1262.7 1686 1263.2 1686.8 1264.1 1687.5 1263.9 1688.2 1264.8 1689 1265.5 1689.8 1265.9 1690.5 1266.1 1691.2 1265.6 1692 1265 1692.8 1265.3 1693.5 1264.2 1694.2 1265 1695 1263.9 1695.8 1265.9 1696.5 1265.5 1697.2 1265.4 1698 1264.2 1698.8 1265.4 1699.5 1264.7 1700.2 1265.4 1701 1264.6 1701.8 1264.8 1702.5 1265.3 1703.2 1265.9 1704 1263.6 1704.8 1264.3 1705.5 1264.5 1706.2 1263.8 1707 1263.9 1707.8 1265.8 1708.5 1263.9 1709.2 1264.4 1710 1263.3 1710.8 1263.5 1711.5 1261.9 1712.2 1264.5 1713 1264.1 1713.8 1263.8 1714.5 1266.2 1715.2 1264.9 1716 1264.7 1716.8 1264.3 1717.5 1265.8 1718.2 1264.9 1719 1264.5 1719.8 1264 1720.5 1264.3 1721.2 1265.5 1722 1265 1722.8 1263.9 1723.5 1264.8 1724.2 1265.5 1725 1267.1 1725.8 1264.4 1726.5 1263 1727.2 1265.5 1728 1264.3 1728.8 1263.9 1729.5 1265.2 1730.2 1264.5 1731 1263.9 1731.8 1263.6 1732.5 1264.7 1733.2 1265 1734 1263.7 1734.8 1265.3 1735.5 1263.2 1736.2 1265.6 1737 1264.6 1737.8 1263.9 1738.5 1264.6 1739.2 1263.5 1740 1264.1 1740.8 1265.6 1741.5 1264 1742.2 1265.2 1743 1263.6 1743.8 1263.9 1744.5 1264.5 1745.2 1263 1746 1264 1746.8 1262.3 1747.5 1262.8 1748.2 1262.8 1749 1263.8 1749.8 1263.7 1750.5 1262.7 1751.2 1263.8 1752 1263.9 1752.8 1262.7 1753.5 1263.8"/>
<path stroke="#F51919" d="M249 1280L249.8 1278.5 250.5 1276.9 251.2 1274.6 252 1273.5 252.8 1271.8 253.5 1270 254.2 1269.1 255 1268 255.8 1265.8 256.5 1263.8 257.2 1262.4 258 1261 258.8 1259.6 259.5 1259.4 260.2 1257.3 261 1255.9 261.8 1255.4 262.5 1254.1 263.2 1253 264 1251.1 264.8 1250 265.5 1249.6 266.2 1247.8 267 1248.8 267.8 1246.6 268.5 1245.3 269.2 1245.1 270 1242.8 270.8 1244 271.5 1242.5 272.2 1243.5 273 1240.1 273.8 1239.4 274.5 1238.3 275.2 1237.3 276 1238 276.8 1235.3 277.5 1235.6 278.2 1233.4 279 1234.7 279.8 1229.6 280.5 1232.4 281.2 1231 282 1229.8 282.8 1228.5 283.5 1229.4 284.2 1225.9 285 1225.8 285.8 1224.1 286.5 1222.3 287.2 1222.3 288 1221.6 288.8 1218.1 289.5 1217.4 290.2 1215.5 291 1216.2 291.8 1214 292.5 1213.8 293.2 1214.5 294 1213.5 294.8 1213.2 295.5 1211.3 296.2 1211.7 297 1209.9 297.8 1207.9 298.5 1208.8 299.2 1206.8 300 1205.7 300.8 1205.4 301.5 1203.8 302.2 1203 303 1205.1 303.8 1206.1 304.5 1202.9 305.2 1203.9 306 1202 306.8 1200.1 307.5 1199.2 308.2 1199.6 309 1199.6 309.8 1199.7 310.5 1200.5 311.2 1198.6 312 1201 312.8 1197.5 313.5 1196.9 314.2 1199.8 315 1200 315.8 1201.2 316.5 1199.7 317.2 1200 318 1202.2 318.8 1200.6 319.5 1200.5 320.2 1199.3 321 1202.1 321.8 1198.2 322.5 1203.2 323.2 1198.9 324 1204 324.8 1201.2 325.5 1202.3 326.2 1202.4 327 1198.2 327.8 1195.9 328.5 1195.8 329.2 1192.1 330 1189.7 330.8 1189.1 331.5 1183.5 332.2 1182.3 333 1180.6 333.8 1179.8 334.5 1177.1 335.2 1177.5 336 1176.1 336.8 1173.7 337.5 1172 338.2 1169.4 339 1170.3 339.8 1168.2 340.5 1168.2 341.2 1168.6 342 1167.6 342.8 1164.6 343.5 1167.3 344.2 1170.5 345 1169.5 345.8 1170.8 346.5 1166.2 347.2 1169.3 348 1169.2 348.8 1167.2 349.5 1169.2 350.2 1172.1 351 1171.7 351.8 1170.1 352.5 1171.3 353.2 1173.4 354 1169.8 354.8 1172.7 355.5 1173 356.2 1170.8 357 1173.5 357.8 1171.7 358.5 1172 359.2 1170.4 360 1168.1 360.8 1166.7 361.5 1165 362.2 1164.2 363 1162.7 363.8 1162.6 364.5 1159.9 365.2 1159.5 366 1159 366.8 1157 367.5 1156.2 368.2 1157.2 369 1154.7 369.8 1155.2 370.5 1156.2 371.2 1155.1 372 1153 372.8 1152.6 373.5 1154.6 374.2 1156.8 375 1156.8 375.8 1157.8 376.5 1157.5 377.2 1154.7 378 1154.8 378.8 1155.9 379.5 1155.7 380.2 1155.5 381 1158.5 381.8 1156.6 382.5 1158.8 383.2 1158.5 384 1154.5 384.8 1155.3 385.5 1156.1 386.2 1154.3 387 1153 387.8 1151.2 388.5 1150.5 389.2 1150.1 390 1150.4 390.8 1147.9 391.5 1146.2 392.2 1146 393 1146.6 393.8 1142.4 394.5 1142.6 395.2 1144.8 396 1147.6 396.8 1146.6 397.5 1144.2 398.2 1146.2 399 1144.8 399.8 1145 400.5 1146.2 401.2 1145.8 402 1145.6 402.8 1145.9 403.5 1146.3 404.2 1148.7 405 1149.3 405.8 1149.7 406.5 1147.9 407.2 1147.8 408 1151.1 408.8 1150.2 409.5 1150.2 410.2 1148.1 411 1148.3 411.8 1147.5 412.5 1149.6 413.2 1146 414 1144.7 414.8 1145.8 415.5 1148.5 416.2 1146.3 417 1147 417.8 1147.5 418.5 1146.9 419.2 1146.2 420 1145 420.8 1149.5 421.5 1147.8 422.2 1149.7 423 1146.8 423.8 1149.6 424.5 1148.5 425.2 1149.6 426 1151.6 426.8 1151.7 427.5 1152.3 428.2 1152.4 429 1150.4 429.8 1152 430.5 1150.3 431.2 1151.9 432 1152.7 432.8 1151.9 433.5 1153.5 434.2 1148.6 435 1153.4 435.8 1150.6 436.5 1152.8 437.2 1152 438 1149.1 438.8 1151.3 439.5 1153 440.2 1151.1 441 1150.8 441.8 1151.7 442.5 1153.2 443.2 1154.8 444 1151.8 444.8 1154.5 445.5 1156 446.2 1155.5 447 1153.2 447.8 1152.9 448.5 1154.2 449.2 1154.4 450 1155.3 450.8 1154.8 451.5 1154.6 452.2 1158 453 1155.2 453.8 1158.2 454.5 1154.2 455.2 1156.2 456 1155.4 456.8 1159.2 457.5 1158.5 458.2 1156.3 459 1154.2 459.8 1159 460.5 1157.8 461.2 1155.3 462 1155.8 462.8 1159.8 463.5 1158.6 464.2 1159.8 465 1159.7 465.8 1158.4 466.5 1159.5 467.2 1160.8 468 1160.1 468.8 1159.2 469.5 1159.7 470.2 1155.6 471 1158.3 471.8 1156.8 472.5 1154.4 473.2 1153.4 474 1153.3 474.8 1151.1 475.5 1147.8 476.2 1147.8 477 1148.2 477.8 1150.3 478.5 1148.3 479.2 1147.8 480 1149.2 480.8 1149.2 481.5 1148.4 482.2 1148.9 483 1144.9 483.8 1149.9 484.5 1149.2 485.2 1149.1 486 1149.1 486.8 1149.6 487.5 1151.4 488.2 1151.5 489 1152.2 489.8 1155.1 490.5 1149.8 491.2 1152.4 492 1152.3 492.8 1155.4 493.5 1153.9 494.2 1153 495 1155.2 495.8 1156.3 496.5 1158 497.2 1156.9 498 1155.6 498.8 1155.8 499.5 1154.9 500.2 1157.1 501 1157.2 501.8 1156 502.5 1156.6 503.2 1158.4 504 1155.8 504.8 1156.6 505.5 1154.8 506.2 1155.8 507 1153.3 507.8 1155 508.5 1157.5 509.2 1159.3 510 1156.7 510.8 1155.8 511.5 1158.3 512.2 1159.5 513 1157.5 513.8 1159.5 514.5 1158.4 515.2 1156.9 516 1157.3 516.8 1157.4 517.5 1161.1 518.2 1158 519 1157 519.8 1156.6 520.5 1157.3 521.2 1157.4 522 1158 522.8 1157.2 523.5 1158.3 524.2 1159.8 525 1159.7 525.8 1156.8 526.5 1158.5 527.2 1156.8 528 1156.3 528.8 1157.5 529.5 1158.1 530.2 1156.6 531 1157.8 531.8 1157.4 532.5 1157.9 533.2 1156.6 534 1155.6 534.8 1160.1 535.5 1158.5 536.2 1160.2 537 1161.5 537.8 1161.8 538.5 1165 539.2 1164.1 540 1163.4 540.8 1162.7 541.5 1162 542.2 1161.2 543 1164 543.8 1162.7 544.5 1162.4 545.2 1165.1 546 1163.7 546.8 1165.3 547.5 1163.5 548.2 1163.6 549 1166 549.8 1164.3 550.5 1166 551.2 1165.3 552 1164.8 552.8 1161.3 553.5 1162 554.2 1162.4 555 1162.6 555.8 1165.2 556.5 1163.1 557.2 1162.7 558 1164 558.8 1165.5 559.5 1163.9 560.2 1167.2 561 1168.6 561.8 1167.4 562.5 1168.7 563.2 1165.5 564 1167.6 564.8 1168.7 565.5 1169.5 566.2 1171.5 567 1169.2 567.8 1168.5 568.5 1169.9 569.2 1169.7 570 1170 570.8 1168.9 571.5 1169.8 572.2 1169 573 1170.6 573.8 1169.8 574.5 1169.9 575.2 1173.5 576 1171.5 576.8 1172.2 577.5 1173.6 578.2 1171.8 579 1174.6 579.8 1172.8 580.5 1174.7 581.2 1170.2 582 1170.6 582.8 1172.3 583.5 1175.1 584.2 1175 585 1171.8 585.8 1173.5 586.5 1173.2 587.2 1171.3 588 1175.5 588.8 1174.6 589.5 1176.8 590.2 1175.9 591 1174.4 591.8 1174.6 592.5 1175.1 593.2 1176.3 594 1175.7 594.8 1181.2 595.5 1177.3 596.2 1175.8 597 1177.6 597.8 1180.2 598.5 1179.7 599.2 1179.9 600 1180.1 600.8 1180.2 601.5 1180.7 602.2 1181.9 603 1184.1 603.8 1184.3 604.5 1188.3 605.2 1187.1 606 1187.4 606.8 1189 607.5 1190.6 608.2 1188 609 1191.7 609.8 1194.8 610.5 1193 611.2 1190 612 1191.7 612.8 1191.6 613.5 1196.4 614.2 1191.5 615 1192.3 615.8 1192.1 616.5 1191.1 617.2 1189.1 618 1193.7 618.8 1195.5 619.5 1194.8 620.2 1196.4 621 1197.6 621.8 1197 622.5 1193.9 623.2 1197.6 624 1197 624.8 1197 625.5 1196.7 626.2 1196.8 627 1196.1 627.8 1197.8 628.5 1198.9 629.2 1197.6 630 1199.4 630.8 1197.5 631.5 1198.7 632.2 1199 633 1200.4 633.8 1202.2 634.5 1200.2 635.2 1200.5 636 1201 636.8 1203.7 637.5 1202.6 638.2 1205.3 639 1205.5 639.8 1207.4 640.5 1205.6 641.2 1205.6 642 1206.5 642.8 1207.8 643.5 1207.4 644.2 1210.2 645 1207.6 645.8 1209.4 646.5 1210.8 647.2 1209.7 648 1212.4 648.8 1211.9 649.5 1214.6 650.2 1216 651 1217.7 651.8 1216.3 652.5 1216 653.2 1217.3 654 1218.7 654.8 1220.1 655.5 1220.5 656.2 1222.3 657 1221.5 657.8 1222.4 658.5 1222 659.2 1222.5 660 1225 660.8 1224.2 661.5 1220.7 662.2 1226.2 663 1222.4 663.8 1223.8 664.5 1226.4 665.2 1225.1 666 1225.9 666.8 1226.3 667.5 1226.1 668.2 1224 669 1226.8 669.8 1225 670.5 1222.8 671.2 1226.6 672 1228.4 672.8 1227.7 673.5 1227.6 674.2 1229.9 675 1227.8 675.8 1228.7 676.5 1228.6 677.2 1230.7 678 1228.5 678.8 1231.3 679.5 1231.4 680.2 1228.2 681 1229.9 681.8 1225.4 682.5 1227.2 683.2 1227.4 684 1226 684.8 1224.6 685.5 1226.9 686.2 1226.2 687 1226.4 687.8 1226.5 688.5 1227.1 689.2 1227.2 690 1225.3 690.8 1224.2 691.5 1227.5 692.2 1226.8 693 1226.7 693.8 1228 694.5 1226.1 695.2 1225.6 696 1225.9 696.8 1222.6 697.5 1226.1 698.2 1224.8 699 1227 699.8 1225.8 700.5 1226.1 701.2 1226.1 702 1224.7 702.8 1226.9 703.5 1227.1 704.2 1228.3 705 1227.4 705.8 1228.2 706.5 1228.1 707.2 1226.4 708 1228.6 708.8 1227.8 709.5 1225.6 710.2 1225.5 711 1229.1 711.8 1229.9 712.5 1230.2 713.2 1228 714 1231.2 714.8 1231.6 715.5 1228.6 716.2 1230.8 717 1232.8 717.8 1230.8 718.5 1232.6 719.2 1231.6 720 1231.6 720.8 1233.1 721.5 1232.4 722.2 1232.6 723 1234 723.8 1232.3 724.5 1235.3 725.2 1233.4 726 1234.1 726.8 1234.6 727.5 1235.9 728.2 1235 729 1238.2 729.8 1236 730.5 1237.8 731.2 1236.6 732 1236.1 732.8 1236.6 733.5 1238.9 734.2 1237.6 735 1240.4 735.8 1239.8 736.5 1241.6 737.2 1240.4 738 1241.3 738.8 1238.6 739.5 1238.2 740.2 1241.2 741 1238.6 741.8 1239.8 742.5 1238 743.2 1239.5 744 1236.5 744.8 1235.2 745.5 1239.2 746.2 1237.7 747 1238.3 747.8 1237.1 748.5 1235.2 749.2 1238.2 750 1238.6 750.8 1238.7 751.5 1238.4 752.2 1237.5 753 1236.6 753.8 1237.4 754.5 1236.1 755.2 1238.1 756 1238 756.8 1237.8 757.5 1236.5 758.2 1239.1 759 1238.1 759.8 1240.5 760.5 1238.5 761.2 1238.4 762 1238.5 762.8 1238.1 763.5 1238.7 764.2 1239.2 765 1236.9 765.8 1242.2 766.5 1240.4 767.2 1241.3 768 1239.8 768.8 1241.2 769.5 1241.6 770.2 1242.1 771 1240.7 771.8 1242 772.5 1240.2 773.2 1242.3 774 1241.4 774.8 1241.8 775.5 1242.2 776.2 1244.2 777 1245.7 777.8 1244.4 778.5 1243.9 779.2 1247 780 1243 780.8 1244.2 781.5 1245.2 782.2 1245.2 783 1247.3 783.8 1247.2 784.5 1247.6 785.2 1245.8 786 1247 786.8 1246.5 787.5 1246.7 788.2 1247.6 789 1246.9 789.8 1247.2 790.5 1246.4 791.2 1245.4 792 1246.7 792.8 1244.7 793.5 1247.3 794.2 1246.3 795 1247.7 795.8 1244.7 796.5 1250.3 797.2 1247.7 798 1247 798.8 1249.3 799.5 1249.5 800.2 1249.1 801 1251 801.8 1248.1 802.5 1249.6 803.2 1249.4 804 1249.2 804.8 1250.9 805.5 1251.7 806.2 1249.7 807 1250.6 807.8 1251.5 808.5 1250.9 809.2 1248.7 810 1250.8 810.8 1250.2 811.5 1252.4 812.2 1250.8 813 1252.9 813.8 1249.8 814.5 1251.7 815.2 1250.5 816 1253.2 816.8 1252.8 817.5 1250.7 818.2 1252.5 819 1252.1 819.8 1251.1 820.5 1251.6 821.2 1252.5 822 1252.9 822.8 1251.9 823.5 1252 824.2 1252.8 825 1253.1 825.8 1252.6 826.5 1253.8 827.2 1254.5 828 1252.7 828.8 1255.7 829.5 1256.1 830.2 1254.9 831 1256.8 831.8 1254.1 832.5 1253.3 833.2 1253.5 834 1253.4 834.8 1256.5 835.5 1255.1 836.2 1255.4 837 1256 837.8 1257.1 838.5 1256.4 839.2 1255.8 840 1255.9 840.8 1257 841.5 1256.1 842.2 1257.6 843 1256.6 843.8 1256.4 844.5 1257.5 845.2 1259 846 1257.3 846.8 1258.8 847.5 1258.6 848.2 1257.6 849 1257.6 849.8 1258.3 850.5 1258 851.2 1257.2 852 1257.8 852.8 1256.2 853.5 1256 854.2 1255.5 855 1256 855.8 1256.2 856.5 1255.7 857.2 1256.3 858 1255.2 858.8 1255.9 859.5 1257.6 860.2 1258.2 861 1257 861.8 1258.6 862.5 1258.7 863.2 1256.8 864 1258 864.8 1256.9 865.5 1257.9 866.2 1258.3 867 1256.6 867.8 1257.7 868.5 1257.1 869.2 1257.4 870 1258.1 870.8 1257.2 871.5 1256.3 872.2 1258.2 873 1257.6 873.8 1257.9 874.5 1257.7 875.2 1257.8 876 1257.9 876.8 1257.7 877.5 1258.3 878.2 1258.4 879 1258.7 879.8 1261.5 880.5 1258.3 881.2 1257.6 882 1259.4 882.8 1258.3 883.5 1258.4 884.2 1258.8 885 1259.2 885.8 1258.8 886.5 1258.6 887.2 1258.6 888 1259.8 888.8 1259.6 889.5 1258 890.2 1258.2 891 1257.4 891.8 1259.3 892.5 1258.9 893.2 1260.9 894 1258.9 894.8 1261.2 895.5 1258.4 896.2 1258 897 1258.5 897.8 1259.7 898.5 1260.3 899.2 1258.3 900 1259.6 900.8 1258.5 901.5 1258.5 902.2 1258.9 903 1260.5 903.8 1259.9 904.5 1259.9 905.2 1258.9 906 1260 906.8 1260.3 907.5 1261.7 908.2 1259.1 909 1258.9 909.8 1258.9 910.5 1259.5 911.2 1261 912 1259.8 912.8 1261.8 913.5 1260.4 914.2 1259.4 915 1260.1 915.8 1259.3 916.5 1259.1 917.2 1260.8 918 1260.6 918.8 1258.7 919.5 1259.3 920.2 1261.5 921 1259.8 921.8 1260.7 922.5 1260.9 923.2 1260.5 924 1260.3 924.8 1260.1 925.5 1261.2 926.2 1259.5 927 1260.8 927.8 1260.6 928.5 1259.9 929.2 1261.4 930 1260.1 930.8 1258.6 931.5 1259.7 932.2 1261.6 933 1262.4 933.8 1261.8 934.5 1261.4 935.2 1262.9 936 1264 936.8 1263 937.5 1261.7 938.2 1262.9 939 1262.8 939.8 1262.7 940.5 1262.9 941.2 1263.6 942 1263.2 942.8 1262.7 943.5 1263.8 944.2 1264.4 945 1265.6 945.8 1264.4 946.5 1265.7 947.2 1265.3 948 1266.2 948.8 1265.4 949.5 1263.9 950.2 1266.6 951 1266 951.8 1266.1 952.5 1266.4 953.2 1267 954 1267.3 954.8 1268.2 955.5 1268.5 956.2 1268.4 957 1268.7 957.8 1267.9 958.5 1269 959.2 1268.7 960 1268.8 960.8 1268.5 961.5 1268 962.2 1269 963 1268.9 963.8 1268.7 964.5 1270 965.2 1269.8 966 1268.3 966.8 1268.3 967.5 1269.6 968.2 1270.1 969 1270.3 969.8 1270.2 970.5 1270.2 971.2 1270.9 972 1270.8 972.8 1270.3 973.5 1270.6 974.2 1271.1 975 1270.2 975.8 1270.1 976.5 1270 977.2 1271.3 978 1271 978.8 1271.4 979.5 1270.9 980.2 1271.1 981 1271.3 981.8 1270.3 982.5 1271 983.2 1270.4 984 1270.2 984.8 1270.5 985.5 1270.8 986.2 1271.2 987 1270.2 987.8 1271.3 988.5 1270 989.2 1269.9 990 1269.3 990.8 1270.9 991.5 1271.2 992.2 1269.5 993 1269.9 993.8 1270.2 994.5 1269.3 995.2 1270.4 996 1270.5 996.8 1270.3 997.5 1270 998.2 1270.7 999 1271 999.8 1270.2 1000.5 1270.5 1001.2 1271.1 1002 1269.2 1002.8 1270.8 1003.5 1271.6 1004.2 1270.2 1005 1271.6 1005.8 1270.9 1006.5 1271.4 1007.2 1271 1008 1270.7 1008.8 1270.6 1009.5 1272.6 1010.2 1270.6 1011 1271.2 1011.8 1271.9 1012.5 1271.5 1013.2 1271.6 1014 1270.6 1014.8 1271.6 1015.5 1271.3 1016.2 1270.9 1017 1271.8 1017.8 1272.1 1018.5 1271.7 1019.2 1271.6 1020 1272 1020.8 1272.4 1021.5 1271.5 1022.2 1272.7 1023 1272.7 1023.8 1272.1 1024.5 1271.5 1025.2 1272.2 1026 1272.3 1026.8 1272.9 1027.5 1271.7 1028.2 1272.9 1029 1271.6 1029.8 1272.2 1030.5 1271.9 1031.2 1272 1032 1272.5 1032.8 1271.5 1033.5 1272.1 1034.2 1271.9 1035 1272 1035.8 1271.6 1036.5 1272.1 1037.2 1271.2 1038 1272.1 1038.8 1272.8 1039.5 1272.6 1040.2 1271.7 1041 1271.8 1041.8 1272.3 1042.5 1273.4 1043.2 1272.5 1044 1272.7 1044.8 1272.4 1045.5 1272.5 1046.2 1272 1047 1272.8 1047.8 1272.8 1048.5 1273.1 1049.2 1272.5 1050 1273.2 1050.8 1273.7 1051.5 1273.3 1052.2 1273.2 1053 1271.9 1053.8 1273.7 1054.5 1274.2 1055.2 1273.8 1056 1273.9 1056.8 1274.1 1057.5 1275 1058.2 1273.2 1059 1273.2 1059.8 1274 1060.5 1273.2 1061.2 1272.2 1062 1273.1 1062.8 1273.2 1063.5 1272.7 1064.2 1273.1 1065 1273 1065.8 1272.4 1066.5 1273.4 1067.2 1274.1 1068 1274 1068.8 1272.9 1069.5 1273.1 1070.2 1273.8 1071 1274 1071.8 1273.4 1072.5 1273.5 1073.2 1274.6 1074 1274 1074.8 1274.2 1075.5 1273.8 1076.2 1274.1 1077 1273.6 1077.8 1273.7 1078.5 1273.7 1079.2 1273.3 1080 1273.8 1080.8 1273.4 1081.5 1273.6 1082.2 1273.8 1083 1274.1 1083.8 1274.1 1084.5 1273.8 1085.2 1274 1086 1274.6 1086.8 1274.1 1087.5 1274.1 1088.2 1273 1089 1273.7 1089.8 1274.5 1090.5 1273.7 1091.2 1273.7 1092 1274.3 1092.8 1273.4 1093.5 1274.3 1094.2 1273.9 1095 1273.7 1095.8 1272.9 1096.5 1274.4 1097.2 1272.9 1098 1273.1 1098.8 1273.9 1099.5 1273.1 1100.2 1273.9 1101 1273.9 1101.8 1273.7 1102.5 1273.4 1103.2 1273.7 1104 1274.2 1104.8 1273.8 1105.5 1274.5 1106.2 1274.4 1107 1274.4 1107.8 1274.3 1108.5 1274.6 1109.2 1274.7 1110 1275.1 1110.8 1274.8 1111.5 1274.7 1112.2 1274.2 1113 1273.9 1113.8 1274.4 1114.5 1275.1 1115.2 1274.6 1116 1274.3 1116.8 1274.6 1117.5 1274.9 1118.2 1274.9 1119 1274.4 1119.8 1274.2 1120.5 1274.8 1121.2 1275.2 1122 1275.1 1122.8 1275.3 1123.5 1274.3 1124.2 1275 1125 1275.3 1125.8 1274.3 1126.5 1274.6 1127.2 1275 1128 1275.8 1128.8 1274.7 1129.5 1274.8 1130.2 1275.4 1131 1274.6 1131.8 1274.3 1132.5 1274.5 1133.2 1275.4 1134 1274.2 1134.8 1274.5 1135.5 1275.4 1136.2 1275.3 1137 1275.5 1137.8 1274.7 1138.5 1274.8 1139.2 1274.9 1140 1274.5 1140.8 1274.8 1141.5 1274.6 1142.2 1275 1143 1274.6 1143.8 1274.6 1144.5 1274.8 1145.2 1274.9 1146 1274.9 1146.8 1274.4 1147.5 1274.2 1148.2 1274.2 1149 1274 1149.8 1274.6 1150.5 1274.7 1151.2 1275.4 1152 1275 1152.8 1275.3 1153.5 1275.4 1154.2 1274.1 1155 1274.7 1155.8 1274.9 1156.5 1275.3 1157.2 1274.9 1158 1275.4 1158.8 1275.5 1159.5 1275.3 1160.2 1275.3 1161 1274.8 1161.8 1275.8 1162.5 1275.3 1163.2 1274.7 1164 1275.4 1164.8 1275.5 1165.5 1275 1166.2 1274.7 1167 1275 1167.8 1275.5 1168.5 1274.5 1169.2 1275.8 1170 1275.8 1170.8 1275.1 1171.5 1275.9 1172.2 1275.2 1173 1274.7 1173.8 1275.4 1174.5 1275.2 1175.2 1274.8 1176 1274.6 1176.8 1274.8 1177.5 1275.6 1178.2 1275.1 1179 1276.2 1179.8 1275.1 1180.5 1275.6 1181.2 1275.6 1182 1275.4 1182.8 1275.7 1183.5 1275.1 1184.2 1275.5 1185 1275.1 1185.8 1274.7 1186.5 1275.3 1187.2 1275.2 1188 1275 1188.8 1275.8 1189.5 1275.7 1190.2 1276 1191 1276.5 1191.8 1276 1192.5 1276.1 1193.2 1275.6 1194 1276.4 1194.8 1276.5 1195.5 1275.8 1196.2 1276.3 1197 1276.4 1197.8 1276.3 1198.5 1276.3 1199.2 1277 1200 1276 1200.8 1276.1 1201.5 1276 1202.2 1276 1203 1275.3 1203.8 1276.4 1204.5 1276.5 1205.2 1276.7 1206 1276.1 1206.8 1275.8 1207.5 1276.4 1208.2 1275.8 1209 1276.2 1209.8 1276 1210.5 1276.2 1211.2 1276.2 1212 1276.6 1212.8 1276.2 1213.5 1277.4 1214.2 1276.9 1215 1276.6 1215.8 1276.4 1216.5 1276.6 1217.2 1276.7 1218 1276.7 1218.8 1277.3 1219.5 1276.9 1220.2 1276.5 1221 1277.1 1221.8 1277.1 1222.5 1277.3 1223.2 1276.8 1224 1277.5 1224.8 1276.8 1225.5 1277.5 1226.2 1276.8 1227 1277.3 1227.8 1276.7 1228.5 1277.1 1229.2 1276.5 1230 1276.2 1230.8 1275.9 1231.5 1276 1232.2 1276.6 1233 1276.5 1233.8 1276.4 1234.5 1276.7 1235.2 1276.8 1236 1276.1 1236.8 1276.6 1237.5 1277 1238.2 1276.1 1239 1276.2 1239.8 1276.5 1240.5 1276.3 1241.2 1276.2 1242 1276.3 1242.8 1276.9 1243.5 1276.6 1244.2 1276 1245 1275.8 1245.8 1275.9 1246.5 1276.2 1247.2 1276 1248 1276.1 1248.8 1276.6 1249.5 1276.4 1250.2 1276.3 1251 1276.4 1251.8 1276.7 1252.5 1276.4 1253.2 1276.5 1254 1276.3 1254.8 1276.7 1255.5 1276 1256.2 1275.9 1257 1276.2 1257.8 1277.1 1258.5 1276.8 1259.2 1276 1260 1276.2 1260.8 1276.5 1261.5 1276.4 1262.2 1276.8 1263 1276.4 1263.8 1276.1 1264.5 1276.7 1265.2 1276.9 1266 1276.1 1266.8 1275.9 1267.5 1276.5 1268.2 1276 1269 1276.7 1269.8 1276.1 1270.5 1276.7 1271.2 1276.3 1272 1276.4 1272.8 1276.4 1273.5 1276.2 1274.2 1276.2 1275 1276.6 1275.8 1276.1 1276.5 1276.9 1277.2 1276.4 1278 1276.4 1278.8 1276.9 1279.5 1276.8 1280.2 1276.8 1281 1276.4 1281.8 1276.4 1282.5 1276.5 1283.2 1276.6 1284 1276.4 1284.8 1276.7 1285.5 1276.2 1286.2 1276.4 1287 1276.7 1287.8 1276.6 1288.5 1276.4 1289.2 1276.6 1290 1276.5 1290.8 1276.7 1291.5 1276.2 1292.2 1276.8 1293 1277.1 1293.8 1276.5 1294.5 1276.7 1295.2 1276.5 1296 1277.1 1296.8 1276.2 1297.5 1277.2 1298.2 1276.9 1299 1276.9 1299.8 1276.9 1300.5 1277 1301.2 1276.9 1302 1277 1302.8 1277.1 1303.5 1276.8 1304.2 1277.1 1305 1277 1305.8 1276.9 1306.5 1276.6 1307.2 1277 1308 1277.4 1308.8 1277 1309.5 1277.1 1310.2 1277.2 1311 1277.1 1311.8 1276.7 1312.5 1276.9 1313.2 1277.3 1314 1276.7 1314.8 1276.4 1315.5 1276.9 1316.2 1276.8 1317 1277.2 1317.8 1276.3 1318.5 1276.7 1319.2 1277.1 1320 1276.4 1320.8 1276.7 1321.5 1277 1322.2 1276.9 1323 1276.9 1323.8 1277 1324.5 1276.6 1325.2 1276.7 1326 1277.3 1326.8 1276.6 1327.5 1277 1328.2 1276.9 1329 1277.1 1329.8 1276.8 1330.5 1276.9 1331.2 1277.3 1332 1277 1332.8 1276.6 1333.5 1276.5 1334.2 1277 1335 1277 1335.8 1276.6 1336.5 1276.2 1337.2 1276.5 1338 1277.2 1338.8 1276.9 1339.5 1276.8 1340.2 1276.1 1341 1276.1 1341.8 1276.3 1342.5 1276.3 1343.2 1276.7 1344 1276.4 1344.8 1276.7 1345.5 1276.5 1346.2 1276.5 1347 1276.9 1347.8 1276.9 1348.5 1276.8 1349.2 1276.7 1350 1276.8 1350.8 1276.3 1351.5 1276 1352.2 1276.6 1353 1277 1353.8 1277.4 1354.5 1277.2 1355.2 1276.6 1356 1276.9 1356.8 1276.7 1357.5 1277.1 1358.2 1277 1359 1277 1359.8 1277.2 1360.5 1277.5 1361.2 1277.4 1362 1276.9 1362.8 1277.4 1363.5 1277 1364.2 1277.4 1365 1277.2 1365.8 1277.6 1366.5 1277 1367.2 1276.9 1368 1276.7 1368.8 1277 1369.5 1276.9 1370.2 1276.8 1371 1277 1371.8 1277.3 1372.5 1277.1 1373.2 1277.2 1374 1276.5 1374.8 1276.5 1375.5 1276.8 1376.2 1276.3 1377 1277.1 1377.8 1276.4 1378.5 1277.1 1379.2 1276.8 1380 1276.9 1380.8 1277.1 1381.5 1277 1382.2 1276.6 1383 1276.5 1383.8 1277.1 1384.5 1276.8 1385.2 1276.9 1386 1277.2 1386.8 1276.3 1387.5 1277.1 1388.2 1277.3 1389 1277.5 1389.8 1277.2 1390.5 1276.6 1391.2 1277.2 1392 1277.3 1392.8 1276.6 1393.5 1276.6 1394.2 1276.6 1395 1276.5 1395.8 1275.9 1396.5 1275.9 1397.2 1276.4 1398 1276.6 1398.8 1276.8 1399.5 1276.7 1400.2 1276.9 1401 1277 1401.8 1277.3 1402.5 1276.8 1403.2 1276.5 1404 1277 1404.8 1276.7 1405.5 1276.8 1406.2 1276.9 1407 1276.9 1407.8 1276.4 1408.5 1276.4 1409.2 1276.9 1410 1276.9 1410.8 1277.4 1411.5 1277.1 1412.2 1276.8 1413 1276.7 1413.8 1276.7 1414.5 1276.7 1415.2 1276.6 1416 1276.9 1416.8 1277.2 1417.5 1276.9 1418.2 1277.3 1419 1277 1419.8 1277 1420.5 1277 1421.2 1277.2 1422 1277.2 1422.8 1276.4 1423.5 1277.2 1424.2 1277.2 1425 1277 1425.8 1277.1 1426.5 1276.9 1427.2 1277.1 1428 1276.8 1428.8 1277.3 1429.5 1277.1 1430.2 1276.6 1431 1276.8 1431.8 1277.1 1432.5 1277.1 1433.2 1276.9 1434 1276.7 1434.8 1276.9 1435.5 1277.2 1436.2 1277.2 1437 1276.9 1437.8 1276.8 1438.5 1276.9 1439.2 1276.9 1440 1276.6 1440.8 1276.7 1441.5 1276.8 1442.2 1276.6 1443 1277.2 1443.8 1277.4 1444.5 1277.3 1445.2 1276.8 1446 1276.8 1446.8 1277.1 1447.5 1277 1448.2 1277 1449 1276.8 1449.8 1276.4 1450.5 1277.2 1451.2 1276.5 1452 1276.6 1452.8 1277.3 1453.5 1276.9 1454.2 1277.4 1455 1277.3 1455.8 1277.3 1456.5 1277 1457.2 1276.7 1458 1276.9 1458.8 1277.4 1459.5 1277.4 1460.2 1276.9 1461 1277.1 1461.8 1277 1462.5 1277.2 1463.2 1277.3 1464 1277.3 1464.8 1276.9 1465.5 1277.3 1466.2 1277.3 1467 1277.6 1467.8 1276.9 1468.5 1277.3 1469.2 1277.4 1470 1276.7 1470.8 1277.4 1471.5 1277.4 1472.2 1277.5 1473 1277.3 1473.8 1277.4 1474.5 1277.1 1475.2 1277 1476 1277.5 1476.8 1277.2 1477.5 1276.8 1478.2 1277.5 1479 1277.5 1479.8 1277.6 1480.5 1277.3 1481.2 1277.9 1482 1277.7 1482.8 1277.9 1483.5 1277.6 1484.2 1277.6 1485 1277.6 1485.8 1277.5 1486.5 1277.7 1487.2 1277.4 1488 1277.4 1488.8 1277.6 1489.5 1277.4 1490.2 1277.1 1491 1277.2 1491.8 1277.2 1492.5 1277.7 1493.2 1277.6 1494 1277 1494.8 1276.9 1495.5 1277.1 1496.2 1277.4 1497 1277.1 1497.8 1277.2 1498.5 1276.9 1499.2 1277.3 1500 1277.5 1500.8 1276.4 1501.5 1277.2 1502.2 1277.3 1503 1277.4 1503.8 1277.3 1504.5 1277.3 1505.2 1277.5 1506 1277.6 1506.8 1277.4 1507.5 1277.8 1508.2 1277.6 1509 1277.7 1509.8 1277.3 1510.5 1277.1 1511.2 1277.5 1512 1276.9 1512.8 1277.4 1513.5 1276.8 1514.2 1277.5 1515 1277.2 1515.8 1276.9 1516.5 1277 1517.2 1276.5 1518 1277.1 1518.8 1277.5 1519.5 1277.2 1520.2 1277 1521 1277.6 1521.8 1277.2 1522.5 1277.2 1523.2 1276.9 1524 1277.1 1524.8 1277.6 1525.5 1277.2 1526.2 1276.7 1527 1277.1 1527.8 1277.5 1528.5 1277.2 1529.2 1277 1530 1277.2 1530.8 1276.7 1531.5 1277.3 1532.2 1277 1533 1277.1 1533.8 1277 1534.5 1276.9 1535.2 1277.5 1536 1277.4 1536.8 1276.9 1537.5 1277 1538.2 1277.5 1539 1277.1 1539.8 1277.1 1540.5 1276.9 1541.2 1277.5 1542 1277.3 1542.8 1277.1 1543.5 1277.1 1544.2 1277 1545 1277.4 1545.8 1277 1546.5 1277.1 1547.2 1276.9 1548 1277.2 1548.8 1277.3 1549.5 1277.3 1550.2 1277.3 1551 1277.3 1551.8 1277.4 1552.5 1276.8 1553.2 1277.6 1554 1277.5 1554.8 1277.1 1555.5 1277.5 1556.2 1277.5 1557 1277.6 1557.8 1277.6 1558.5 1277.6 1559.2 1277.7 1560 1277.3 1560.8 1277.4 1561.5 1277.6 1562.2 1277.5 1563 1277.3 1563.8 1277.5 1564.5 1277.3 1565.2 1277.5 1566 1276.9 1566.8 1276.9 1567.5 1277 1568.2 1277.4 1569 1278 1569.8 1277.6 1570.5 1277.7 1571.2 1277.5 1572 1277.9 1572.8 1277.5 1573.5 1277.6 1574.2 1277.9 1575 1277.4 1575.8 1277.4 1576.5 1277.5 1577.2 1278.1 1578 1277.8 1578.8 1277.6 1579.5 1277.5 1580.2 1277.5 1581 1277.5 1581.8 1277.2 1582.5 1277.6 1583.2 1277.3 1584 1277.8 1584.8 1277.4 1585.5 1277.3 1586.2 1277.3 1587 1277.1 1587.8 1277.2 1588.5 1276.8 1589.2 1277 1590 1277 1590.8 1277.2 1591.5 1276.8 1592.2 1277.1 1593 1276.6 1593.8 1276.9 1594.5 1276.9 1595.2 1277.1 1596 1277 1596.8 1277.2 1597.5 1277.1 1598.2 1276.9 1599 1277.8 1599.8 1277.2 1600.5 1277.2 1601.2 1277.3 1602 1276.9 1602.8 1277 1603.5 1277.2 1604.2 1276.7 1605 1276.9 1605.8 1277.3 1606.5 1277.5 1607.2 1277.2 1608 1277.2 1608.8 1277.6 1609.5 1277.1 1610.2 1277.4 1611 1277.3 1611.8 1277.1 1612.5 1276.8 1613.2 1277.5 1614 1277.8 1614.8 1277.8 1615.5 1277.8 1616.2 1277 1617 1277.6 1617.8 1277.9 1618.5 1277.4 1619.2 1277.3 1620 1277.8 1620.8 1277.8 1621.5 1277.9 1622.2 1277.7 1623 1278.1 1623.8 1278 1624.5 1278 1625.2 1277.8 1626 1278 1626.8 1277.7 1627.5 1278.1 1628.2 1278.1 1629 1278 1629.8 1277.5 1630.5 1277.9 1631.2 1277.8 1632 1278.1 1632.8 1277.6 1633.5 1277.8 1634.2 1277.8 1635 1278 1635.8 1277.7 1636.5 1278 1637.2 1277.8 1638 1278.1 1638.8 1277.6 1639.5 1277.2 1640.2 1277.5 1641 1277.6 1641.8 1277.7 1642.5 1277.7 1643.2 1277.5 1644 1277.3 1644.8 1277.8 1645.5 1277.8 1646.2 1278.1 1647 1278 1647.8 1277.6 1648.5 1277.3 1649.2 1277.6 1650 1277.8 1650.8 1277.4 1651.5 1277.6 1652.2 1277.9 1653 1277.9 1653.8 1277.4 1654.5 1277.8 1655.2 1277.8 1656 1277.6 1656.8 1277.7 1657.5 1277.7 1658.2 1278.3 1659 1277.9 1659.8 1277.8 1660.5 1277.7 1661.2 1278.1 1662 1278.4 1662.8 1278.2 1663.5 1278.4 1664.2 1278.2 1665 1278 1665.8 1278 1666.5 1277.7 1667.2 1278.1 1668 1278.1 1668.8 1278.1 1669.5 1277.9 1670.2 1278 1671 1278 1671.8 1278.1 1672.5 1278 1673.2 1278.2 1674 1278.3 1674.8 1278.3 1675.5 1277.9 1676.2 1278 1677 1277.8 1677.8 1278.3 1678.5 1278 1679.2 1278.5 1680 1278 1680.8 1278.3 1681.5 1278.1 1682.2 1278.1 1683 1278.1 1683.8 1277.9 1684.5 1277.9 1685.2 1278.1 1686 1278.1 1686.8 1278 1687.5 1277.7 1688.2 1277.5 1689 1278 1689.8 1277.4 1690.5 1278.1 1691.2 1278.1 1692 1277.8 1692.8 1278.2 1693.5 1278 1694.2 1278.4 1695 1278.1 1695.8 1278.1 1696.5 1278.1 1697.2 1278.4 1698 1278.2 1698.8 1278.9 1699.5 1278.3 1700.2 1278.6 1701 1278.2 1701.8 1278.2 1702.5 1278.2 1703.2 1278.2 1704 1278.5 1704.8 1278.7 1705.5 1278.4 1706.2 1278.3 1707 1278.5 1707.8 1278.3 1708.5 1277.9 1709.2 1278.4 1710 1278.2 1710.8 1278.6 1711.5 1278.7 1712.2 1278.7 1713 1278.7 1713.8 1279 1714.5 1278.9 1715.2 1278.9 1716 1278.8 1716.8 1278.8 1717.5 1279.1 1718.2 1278.6 1719 1278.9 1719.8 1278.8 1720.5 1278.8 1721.2 1278.8 1722 1278.8 1722.8 1278.9 1723.5 1278.7 1724.2 1278.9 1725 1278.6 1725.8 1279 1726.5 1279.1 1727.2 1278.9 1728 1278.8 1728.8 1278.8 1729.5 1278.8 1730.2 1278.4 1731 1278.5 1731.8 1278.8 1732.5 1278.7 1733.2 1278.5 1734 1278.4 1734.8 1278.7 1735.5 1278.5 1736.2 1278.7 1737 1278.7 1737.8 1279.1 1738.5 1278.7 1739.2 1279 1740 1278.7 1740.8 1278.7 1741.5 1278.9 1742.2 1278.6 1743 1279 1743.8 1278.7 1744.5 1278.6 1745.2 1279.1 1746 1278.8 1746.8 1278.9 1747.5 1279 1748.2 1278.9 1749 1279.2 1749.8 1279.2 1750.5 1278.9 1751.2 1279 1752 1279 1752.8 1278.8 1753.5 1278.8"/>
<path stroke="#9A1010" d="M249 1280L249.8 1279.1 250.5 1278.4 251.2 1277.3 252 1276.6 252.8 1275.6 253.5 1275 254.2 1274.3 255 1273.3 255.8 1272.3 256.5 1271.1 257.2 1270 258 1269.7 258.8 1269.3 259.5 1267.7 260.2 1266.8 261 1265.4 261.8 1264.3 262.5 1264.6 263.2 1263.7 264 1261.4 264.8 1260.9 265.5 1261.6 266.2 1259.5 267 1258.8 267.8 1257.2 268.5 1257.4 269.2 1255.6 270 1254.7 270.8 1253.7 271.5 1255 272.2 1254.4 273 1252.1 273.8 1250.8 274.5 1249.5 275.2 1247.7 276 1246.8 276.8 1245.8 277.5 1245.4 278.2 1242.6 279 1242 279.8 1242.3 280.5 1239.3 281.2 1241.3 282 1239.1 282.8 1238.4 283.5 1238.2 284.2 1235.8 285 1235.1 285.8 1233.3 286.5 1234.1 287.2 1233.8 288 1231.6 288.8 1232.9 289.5 1232.7 290.2 1230.8 291 1228.5 291.8 1229.6 292.5 1229.7 293.2 1226.8 294 1224.5 294.8 1225.7 295.5 1225.9 296.2 1227.6 297 1227.4 297.8 1225.7 298.5 1224.1 299.2 1225.2 300 1223.3 300.8 1221.4 301.5 1219.3 302.2 1222.8 303 1219.5 303.8 1222.1 304.5 1223.3 305.2 1220.3 306 1219 306.8 1219.2 307.5 1218.9 308.2 1219.6 309 1220.4 309.8 1217.8 310.5 1218.3 311.2 1217.6 312 1219.4 312.8 1218.7 313.5 1216.1 314.2 1216.8 315 1216.1 315.8 1212.5 316.5 1213 317.2 1213.4 318 1210.8 318.8 1212.7 319.5 1212 320.2 1211.5 321 1212.9 321.8 1209.7 322.5 1210.7 323.2 1209.4 324 1211 324.8 1208.1 325.5 1209.3 326.2 1208.5 327 1209.3 327.8 1209.7 328.5 1204.9 329.2 1206.9 330 1205.9 330.8 1209.9 331.5 1211.3 332.2 1208.5 333 1209.1 333.8 1209.6 334.5 1207.2 335.2 1206.1 336 1204.7 336.8 1206.1 337.5 1208 338.2 1204.5 339 1206.9 339.8 1206.7 340.5 1207.4 341.2 1207.7 342 1205.7 342.8 1208.2 343.5 1205.7 344.2 1205 345 1202.2 345.8 1200.7 346.5 1198.2 347.2 1197.3 348 1193.7 348.8 1193.4 349.5 1194.7 350.2 1193 351 1190.5 351.8 1189.9 352.5 1188.5 353.2 1188.4 354 1188.9 354.8 1188.5 355.5 1187.1 356.2 1187.3 357 1184.9 357.8 1183.4 358.5 1184.1 359.2 1186.1 360 1184.1 360.8 1186.1 361.5 1181.9 362.2 1183.5 363 1183.2 363.8 1183.5 364.5 1182.7 365.2 1181.9 366 1183 366.8 1179.8 367.5 1181.6 368.2 1182.5 369 1179.4 369.8 1180.2 370.5 1178.5 371.2 1179.4 372 1180 372.8 1180.2 373.5 1179.7 374.2 1178.4 375 1180.1 375.8 1177.8 376.5 1176.9 377.2 1179.4 378 1177.2 378.8 1181.3 379.5 1180 380.2 1177.8 381 1177.1 381.8 1176 382.5 1176.3 383.2 1177.5 384 1179.7 384.8 1178.2 385.5 1177.7 386.2 1179.3 387 1178.2 387.8 1176.9 388.5 1176.7 389.2 1181.2 390 1179 390.8 1181.4 391.5 1181.7 392.2 1179.5 393 1180.3 393.8 1178.4 394.5 1178.2 395.2 1178.3 396 1178.3 396.8 1180 397.5 1177.1 398.2 1178.3 399 1176.9 399.8 1177.9 400.5 1179.2 401.2 1174.2 402 1178.9 402.8 1176.4 403.5 1176.9 404.2 1176.6 405 1176 405.8 1174.2 406.5 1172.5 407.2 1178.4 408 1176.5 408.8 1175.1 409.5 1173.1 410.2 1176.2 411 1176.9 411.8 1175.1 412.5 1172.4 413.2 1172.8 414 1174 414.8 1173.4 415.5 1175.3 416.2 1171.5 417 1172.2 417.8 1168.9 418.5 1173.8 419.2 1172.7 420 1169.9 420.8 1167.9 421.5 1172.1 422.2 1169.4 423 1169.5 423.8 1168.3 424.5 1169.7 425.2 1170.6 426 1171.3 426.8 1175.4 427.5 1175.1 428.2 1174.4 429 1173.5 429.8 1173.6 430.5 1172.1 431.2 1175.2 432 1174.1 432.8 1174.7 433.5 1176.9 434.2 1174.7 435 1173.9 435.8 1176.9 436.5 1172.6 437.2 1173 438 1172.7 438.8 1173 439.5 1173.9 440.2 1169.4 441 1172.7 441.8 1175.6 442.5 1174.8 443.2 1174.5 444 1173.1 444.8 1172.6 445.5 1171 446.2 1169.9 447 1172.7 447.8 1173.6 448.5 1172.6 449.2 1172.7 450 1174.7 450.8 1174.4 451.5 1176.8 452.2 1175.1 453 1173.6 453.8 1177.2 454.5 1178.4 455.2 1177.3 456 1180.2 456.8 1181 457.5 1176.3 458.2 1184.1 459 1181.6 459.8 1180.4 460.5 1178 461.2 1177.3 462 1181.4 462.8 1176.4 463.5 1176.7 464.2 1175 465 1173.8 465.8 1173.9 466.5 1171.3 467.2 1170.8 468 1169.8 468.8 1169.5 469.5 1169 470.2 1166.5 471 1168.6 471.8 1165.5 472.5 1165 473.2 1166.3 474 1165.5 474.8 1167.9 475.5 1163.7 476.2 1165.5 477 1165 477.8 1170.1 478.5 1169.5 479.2 1168.2 480 1170.3 480.8 1169.3 481.5 1170.9 482.2 1173.7 483 1173.5 483.8 1176.6 484.5 1174 485.2 1176.1 486 1175.2 486.8 1174.2 487.5 1174.1 488.2 1175.5 489 1176.7 489.8 1174.1 490.5 1174.2 491.2 1172.5 492 1172.8 492.8 1170.7 493.5 1173.7 494.2 1173 495 1172.9 495.8 1172.4 496.5 1171.4 497.2 1171.9 498 1172.2 498.8 1171.9 499.5 1175.1 500.2 1174.7 501 1172.5 501.8 1173.2 502.5 1175.6 503.2 1175.8 504 1173.3 504.8 1174.6 505.5 1170.4 506.2 1173 507 1171.7 507.8 1176.3 508.5 1174.4 509.2 1174.2 510 1175.1 510.8 1174 511.5 1174.7 512.2 1171.7 513 1174.6 513.8 1174.4 514.5 1178 515.2 1178.9 516 1177.5 516.8 1176.7 517.5 1178.2 518.2 1181.7 519 1180 519.8 1179.5 520.5 1178.2 521.2 1179.9 522 1178.9 522.8 1179.9 523.5 1178.2 524.2 1178.3 525 1175.4 525.8 1176.8 526.5 1175.3 527.2 1174.7 528 1175.2 528.8 1172.1 529.5 1175.8 530.2 1174.1 531 1173.1 531.8 1172.4 532.5 1170.8 533.2 1171.1 534 1173.2 534.8 1171.2 535.5 1172.1 536.2 1171.7 537 1174 537.8 1173.3 538.5 1171 539.2 1175.2 540 1174.4 540.8 1175 541.5 1174.5 542.2 1175.9 543 1178.2 543.8 1180.7 544.5 1177.9 545.2 1177.2 546 1179.1 546.8 1179.1 547.5 1180.7 548.2 1176.9 549 1177.8 549.8 1179 550.5 1180.9 551.2 1180.8 552 1180.3 552.8 1181.6 553.5 1180.4 554.2 1179.9 555 1176.9 555.8 1178.5 556.5 1178.5 557.2 1181 558 1181.1 558.8 1179.6 559.5 1180.9 560.2 1179.9 561 1180.3 561.8 1178.4 562.5 1178.8 563.2 1181.3 564 1177.8 564.8 1179.9 565.5 1177.7 566.2 1178.4 567 1179 567.8 1178 568.5 1180.9 569.2 1178.9 570 1181.8 570.8 1179.9 571.5 1183.8 572.2 1184.2 573 1186.1 573.8 1188 574.5 1186.3 575.2 1187.5 576 1186.8 576.8 1189.2 577.5 1191 578.2 1191.2 579 1192.4 579.8 1192.6 580.5 1193.2 581.2 1191.1 582 1191.8 582.8 1190.7 583.5 1191.3 584.2 1188 585 1192.3 585.8 1192.4 586.5 1191.1 587.2 1190.8 588 1188.2 588.8 1191.1 589.5 1190.4 590.2 1191.3 591 1192.2 591.8 1191.3 592.5 1192.6 593.2 1194.3 594 1192.9 594.8 1195.8 595.5 1197.1 596.2 1194.8 597 1194.3 597.8 1195.8 598.5 1197.6 599.2 1197 600 1193.2 600.8 1195.5 601.5 1194 602.2 1194.3 603 1196 603.8 1197.3 604.5 1197.3 605.2 1196.5 606 1197.6 606.8 1196.7 607.5 1200.9 608.2 1196 609 1199.8 609.8 1198.3 610.5 1198.2 611.2 1196.1 612 1197.6 612.8 1197.5 613.5 1197 614.2 1197.9 615 1198.3 615.8 1198 616.5 1199.5 617.2 1201.3 618 1199.1 618.8 1200.7 619.5 1200.3 620.2 1199.7 621 1201.6 621.8 1202.6 622.5 1201.2 623.2 1199.3 624 1203.8 624.8 1203.4 625.5 1200.6 626.2 1201.9 627 1203.1 627.8 1198.6 628.5 1203.7 629.2 1203.1 630 1203.9 630.8 1205.3 631.5 1200.9 632.2 1204.3 633 1205.5 633.8 1200 634.5 1202.3 635.2 1204.3 636 1202.8 636.8 1201.2 637.5 1203.8 638.2 1204.6 639 1203.9 639.8 1206.4 640.5 1207.9 641.2 1210 642 1209.8 642.8 1208.9 643.5 1210.6 644.2 1208.3 645 1210.5 645.8 1212.1 646.5 1212.6 647.2 1213 648 1213.2 648.8 1210.3 649.5 1211.9 650.2 1212.1 651 1213.3 651.8 1214.3 652.5 1219.1 653.2 1218.6 654 1216.6 654.8 1217.6 655.5 1218.1 656.2 1218.2 657 1218.3 657.8 1217.3 658.5 1221.7 659.2 1221.7 660 1221.3 660.8 1220.7 661.5 1219.2 662.2 1217.7 663 1214.6 663.8 1217.8 664.5 1217.8 665.2 1215 666 1213.1 666.8 1217.6 667.5 1214.3 668.2 1215.1 669 1214.5 669.8 1217 670.5 1213.2 671.2 1216.9 672 1210 672.8 1214.6 673.5 1212.5 674.2 1211.2 675 1214.5 675.8 1213.5 676.5 1212 677.2 1215 678 1214.4 678.8 1215.7 679.5 1212.7 680.2 1213.5 681 1213.7 681.8 1215.5 682.5 1215 683.2 1214 684 1218.2 684.8 1214.6 685.5 1216.2 686.2 1216.1 687 1213.7 687.8 1212.2 688.5 1215.3 689.2 1215.9 690 1216.1 690.8 1215.4 691.5 1216.4 692.2 1214.8 693 1216 693.8 1222.3 694.5 1219.6 695.2 1217.3 696 1219.4 696.8 1220.1 697.5 1217.5 698.2 1219.8 699 1220.8 699.8 1222.9 700.5 1223.1 701.2 1221 702 1220.9 702.8 1221.4 703.5 1224 704.2 1225.2 705 1222.8 705.8 1223.8 706.5 1223.3 707.2 1222.9 708 1222.8 708.8 1226.1 709.5 1226.1 710.2 1226.3 711 1221.9 711.8 1225.2 712.5 1229.2 713.2 1227 714 1225.2 714.8 1226.4 715.5 1225.3 716.2 1225.3 717 1227 717.8 1227.6 718.5 1228.3 719.2 1228.4 720 1227.3 720.8 1228.4 721.5 1229.2 722.2 1228.5 723 1228.6 723.8 1227.6 724.5 1230 725.2 1228 726 1231.8 726.8 1231.4 727.5 1233.8 728.2 1234.3 729 1233.1 729.8 1230.2 730.5 1231.2 731.2 1233.2 732 1233.6 732.8 1235.2 733.5 1238.4 734.2 1236 735 1234.1 735.8 1236 736.5 1233.3 737.2 1235.2 738 1233.4 738.8 1229.3 739.5 1233.3 740.2 1234.5 741 1230.7 741.8 1232.7 742.5 1231.1 743.2 1230.3 744 1229.5 744.8 1231 745.5 1229.4 746.2 1229.3 747 1230.8 747.8 1231 748.5 1232.8 749.2 1229.6 750 1228 750.8 1231.6 751.5 1227.1 752.2 1228.5 753 1228.7 753.8 1232 754.5 1229.5 755.2 1228.2 756 1230.7 756.8 1233.7 757.5 1228.4 758.2 1229.3 759 1232.3 759.8 1231.7 760.5 1230.5 761.2 1231.9 762 1232.3 762.8 1230.5 763.5 1230.8 764.2 1234.5 765 1233.3 765.8 1234.7 766.5 1233.7 767.2 1233.8 768 1236.1 768.8 1234.6 769.5 1236.8 770.2 1235.4 771 1235.6 771.8 1235.7 772.5 1235.1 773.2 1239 774 1235.9 774.8 1238.5 775.5 1237.2 776.2 1240.2 777 1239.2 777.8 1239.8 778.5 1240.3 779.2 1240.4 780 1240.4 780.8 1240.1 781.5 1240.4 782.2 1239.7 783 1240.3 783.8 1240.1 784.5 1239.4 785.2 1240.3 786 1242.5 786.8 1239.5 787.5 1243.3 788.2 1240.3 789 1241.3 789.8 1240.6 790.5 1240.4 791.2 1241.1 792 1243.4 792.8 1241.5 793.5 1241.4 794.2 1241.6 795 1245.2 795.8 1243.9 796.5 1243.5 797.2 1242.3 798 1240.4 798.8 1242.7 799.5 1240.6 800.2 1241.9 801 1244.2 801.8 1242.2 802.5 1242.3 803.2 1240.8 804 1244.7 804.8 1243.8 805.5 1243.4 806.2 1243.7 807 1241.3 807.8 1242.2 808.5 1243.4 809.2 1244.4 810 1242.4 810.8 1240.8 811.5 1242 812.2 1243.8 813 1241.1 813.8 1242.1 814.5 1242.3 815.2 1240.6 816 1241.8 816.8 1239.2 817.5 1240.2 818.2 1241.1 819 1241.5 819.8 1242.4 820.5 1240.3 821.2 1241.4 822 1241 822.8 1240.3 823.5 1240.9 824.2 1241.4 825 1241.6 825.8 1240.8 826.5 1245.3 827.2 1241 828 1241.5 828.8 1240.7 829.5 1244.9 830.2 1238.8 831 1241.4 831.8 1242.7 832.5 1243.8 833.2 1242 834 1241.7 834.8 1245.1 835.5 1244 836.2 1242.7 837 1243.6 837.8 1243.6 838.5 1243.9 839.2 1242.4 840 1244.1 840.8 1243.4 841.5 1245.2 842.2 1245.1 843 1243.5 843.8 1246.7 844.5 1245.7 845.2 1244 846 1244.4 846.8 1244.6 847.5 1246.5 848.2 1247.6 849 1245.2 849.8 1245.3 850.5 1247.1 851.2 1246.4 852 1246.6 852.8 1247.1 853.5 1247.4 854.2 1249.1 855 1248.8 855.8 1247.1 856.5 1249.1 857.2 1249.8 858 1248.3 858.8 1247.9 859.5 1247.3 860.2 1248.4 861 1248.2 861.8 1249.4 862.5 1247.3 863.2 1246.9 864 1248.3 864.8 1249.3 865.5 1246.8 866.2 1248.7 867 1248.1 867.8 1247.7 868.5 1249 869.2 1249.2 870 1246 870.8 1248.2 871.5 1248.4 872.2 1249.8 873 1249.5 873.8 1249 874.5 1251.1 875.2 1250.8 876 1249.6 876.8 1249.3 877.5 1250.3 878.2 1251.1 879 1251.7 879.8 1249.6 880.5 1249.5 881.2 1248.5 882 1250.2 882.8 1250.8 883.5 1250.6 884.2 1250.8 885 1250.6 885.8 1250.6 886.5 1251.6 887.2 1250.1 888 1251.9 888.8 1253.1 889.5 1251.2 890.2 1250.5 891 1249.4 891.8 1249 892.5 1250.2 893.2 1249.2 894 1250.4 894.8 1249.5 895.5 1248.5 896.2 1249.8 897 1251.2 897.8 1251.4 898.5 1250.8 899.2 1250.8 900 1249.7 900.8 1250.8 901.5 1251.4 902.2 1251.4 903 1252.1 903.8 1249.2 904.5 1252.7 905.2 1251.6 906 1252.7 906.8 1250.2 907.5 1251.9 908.2 1251 909 1250.1 909.8 1251.7 910.5 1251 911.2 1251.9 912 1252.2 912.8 1252.4 913.5 1251.9 914.2 1252.2 915 1249.3 915.8 1251.8 916.5 1249.2 917.2 1250.2 918 1250.3 918.8 1248.5 919.5 1251.3 920.2 1249.5 921 1249.8 921.8 1252.2 922.5 1248.4 923.2 1249.1 924 1252.5 924.8 1251.2 925.5 1252.6 926.2 1251.8 927 1251.3 927.8 1252.2 928.5 1250.9 929.2 1250.9 930 1252.2 930.8 1250.9 931.5 1250.9 932.2 1251.2 933 1254.2 933.8 1255 934.5 1254.9 935.2 1252.4 936 1253.1 936.8 1251.8 937.5 1252.6 938.2 1253.8 939 1252.6 939.8 1252.2 940.5 1248.8 941.2 1252.6 942 1250.9 942.8 1252.3 943.5 1253.6 944.2 1254 945 1254.9 945.8 1255.8 946.5 1252.2 947.2 1254 948 1257.5 948.8 1256.6 949.5 1255.6 950.2 1256.4 951 1256 951.8 1257.3 952.5 1255.8 953.2 1255.4 954 1254.6 954.8 1257.1 955.5 1256.4 956.2 1255.4 957 1254.6 957.8 1256.5 958.5 1257.5 959.2 1259 960 1258.2 960.8 1256.5 961.5 1256.4 962.2 1256.2 963 1257.2 963.8 1256.4 964.5 1257.9 965.2 1257.3 966 1257.7 966.8 1256.4 967.5 1258.8 968.2 1257.9 969 1257.2 969.8 1259.3 970.5 1259.9 971.2 1259.8 972 1260.9 972.8 1261.4 973.5 1262.8 974.2 1260.7 975 1262.5 975.8 1259.5 976.5 1263.1 977.2 1261.6 978 1262.8 978.8 1262.4 979.5 1263.2 980.2 1263.1 981 1262.3 981.8 1262.5 982.5 1261.2 983.2 1263.8 984 1263.3 984.8 1264.1 985.5 1265.1 986.2 1264.4 987 1263.9 987.8 1262.6 988.5 1263.9 989.2 1264.1 990 1265.3 990.8 1264.3 991.5 1263.5 992.2 1264.1 993 1265.5 993.8 1263.4 994.5 1264.9 995.2 1263.7 996 1262.3 996.8 1264.3 997.5 1265.5 998.2 1264.3 999 1263.4 999.8 1263.9 1000.5 1263.9 1001.2 1266.7 1002 1265.3 1002.8 1263.5 1003.5 1265.4 1004.2 1265.2 1005 1264.2 1005.8 1264.8 1006.5 1265.3 1007.2 1266.8 1008 1264.6 1008.8 1264.1 1009.5 1265.5 1010.2 1263.8 1011 1263.5 1011.8 1264.2 1012.5 1265.1 1013.2 1264.9 1014 1264.7 1014.8 1265.8 1015.5 1265.6 1016.2 1263.8 1017 1264.4 1017.8 1264.7 1018.5 1265.4 1019.2 1265.8 1020 1265.4 1020.8 1265.6 1021.5 1266.2 1022.2 1264.9 1023 1264.5 1023.8 1266.5 1024.5 1267.8 1025.2 1267.1 1026 1266.7 1026.8 1267.1 1027.5 1266.4 1028.2 1265.5 1029 1265.8 1029.8 1266.9 1030.5 1266.7 1031.2 1267.1 1032 1266.1 1032.8 1266.5 1033.5 1266.8 1034.2 1266.3 1035 1266.6 1035.8 1267.5 1036.5 1266.9 1037.2 1266.3 1038 1266.7 1038.8 1267.7 1039.5 1267.5 1040.2 1268.7 1041 1268.2 1041.8 1268.1 1042.5 1268.7 1043.2 1267.8 1044 1268.8 1044.8 1268.5 1045.5 1268.5 1046.2 1269 1047 1268.5 1047.8 1267.9 1048.5 1268.1 1049.2 1268.9 1050 1268.6 1050.8 1268.7 1051.5 1269.5 1052.2 1268.6 1053 1268.9 1053.8 1269.9 1054.5 1268.1 1055.2 1269.6 1056 1268.9 1056.8 1269.2 1057.5 1269.1 1058.2 1268.7 1059 1269.2 1059.8 1269.8 1060.5 1268.9 1061.2 1269.2 1062 1269.7 1062.8 1269.1 1063.5 1269.3 1064.2 1269.3 1065 1269.2 1065.8 1268.7 1066.5 1269.6 1067.2 1269.2 1068 1269.1 1068.8 1269.8 1069.5 1270.3 1070.2 1271.3 1071 1270 1071.8 1271 1072.5 1270 1073.2 1270.5 1074 1270 1074.8 1270.3 1075.5 1270 1076.2 1269.8 1077 1269.1 1077.8 1270.7 1078.5 1269.4 1079.2 1270.1 1080 1271.5 1080.8 1270.6 1081.5 1270.6 1082.2 1270.8 1083 1270.8 1083.8 1270.3 1084.5 1271 1085.2 1270.6 1086 1270.6 1086.8 1270.9 1087.5 1271.1 1088.2 1271.2 1089 1271.9 1089.8 1272.1 1090.5 1271.7 1091.2 1270.2 1092 1269.8 1092.8 1271.4 1093.5 1270.9 1094.2 1271.2 1095 1270.8 1095.8 1271.3 1096.5 1270.5 1097.2 1271.4 1098 1270.8 1098.8 1272.7 1099.5 1271.4 1100.2 1270.4 1101 1272 1101.8 1272.2 1102.5 1272.6 1103.2 1271.3 1104 1272 1104.8 1272.5 1105.5 1271.6 1106.2 1272 1107 1271.8 1107.8 1271.8 1108.5 1272.7 1109.2 1271.1 1110 1271.6 1110.8 1271.6 1111.5 1271.1 1112.2 1272 1113 1270.6 1113.8 1272.2 1114.5 1271 1115.2 1271.4 1116 1271.7 1116.8 1271.8 1117.5 1271.7 1118.2 1271.5 1119 1272.4 1119.8 1273.2 1120.5 1272 1121.2 1271.7 1122 1271.9 1122.8 1271.8 1123.5 1272 1124.2 1272.3 1125 1273 1125.8 1272.3 1126.5 1272.2 1127.2 1272.6 1128 1272.3 1128.8 1273.7 1129.5 1273.2 1130.2 1272.4 1131 1271.5 1131.8 1272.2 1132.5 1272.1 1133.2 1272.1 1134 1271.5 1134.8 1272.3 1135.5 1272.3 1136.2 1272.2 1137 1272 1137.8 1272.8 1138.5 1272.2 1139.2 1271.5 1140 1272.3 1140.8 1273.1 1141.5 1273.5 1142.2 1272.6 1143 1273 1143.8 1273.3 1144.5 1273.7 1145.2 1273 1146 1273.2 1146.8 1272.8 1147.5 1272.2 1148.2 1273.2 1149 1272.8 1149.8 1272.9 1150.5 1272.7 1151.2 1272.5 1152 1272.7 1152.8 1273 1153.5 1272.5 1154.2 1274.1 1155 1274.3 1155.8 1272.2 1156.5 1273.7 1157.2 1273 1158 1273.5 1158.8 1273.4 1159.5 1273 1160.2 1273.6 1161 1273 1161.8 1273.5 1162.5 1272.9 1163.2 1272.4 1164 1272.9 1164.8 1273 1165.5 1272.6 1166.2 1272.5 1167 1273.9 1167.8 1273.2 1168.5 1273.2 1169.2 1272.5 1170 1273.2 1170.8 1272.9 1171.5 1273.6 1172.2 1273.9 1173 1272.9 1173.8 1272.9 1174.5 1273.9 1175.2 1273.7 1176 1273.3 1176.8 1273.5 1177.5 1273.1 1178.2 1273.1 1179 1272.8 1179.8 1271.9 1180.5 1273.3 1181.2 1273.6 1182 1272.9 1182.8 1272.9 1183.5 1273.3 1184.2 1273.5 1185 1273 1185.8 1272.6 1186.5 1272.7 1187.2 1272.5 1188 1272 1188.8 1272.4 1189.5 1272.4 1190.2 1273 1191 1272.4 1191.8 1272.7 1192.5 1273.1 1193.2 1273.1 1194 1274 1194.8 1272.8 1195.5 1273.1 1196.2 1273.3 1197 1273.5 1197.8 1273.9 1198.5 1273.6 1199.2 1273 1200 1273.5 1200.8 1273.8 1201.5 1274.3 1202.2 1273.9 1203 1274.3 1203.8 1273.7 1204.5 1273 1205.2 1273.3 1206 1273 1206.8 1273.6 1207.5 1273.1 1208.2 1272.4 1209 1273.5 1209.8 1272.8 1210.5 1273.1 1211.2 1273.2 1212 1273.1 1212.8 1273.1 1213.5 1272.6 1214.2 1272.5 1215 1272.8 1215.8 1272.4 1216.5 1271.9 1217.2 1271.1 1218 1272.6 1218.8 1272.1 1219.5 1272.3 1220.2 1271.7 1221 1272.1 1221.8 1272.1 1222.5 1272.7 1223.2 1271.5 1224 1271.3 1224.8 1272 1225.5 1272.4 1226.2 1271.9 1227 1272.6 1227.8 1272 1228.5 1272 1229.2 1270.8 1230 1271.8 1230.8 1271.7 1231.5 1272.1 1232.2 1271.5 1233 1271.4 1233.8 1270.7 1234.5 1271.6 1235.2 1272 1236 1271.4 1236.8 1271.4 1237.5 1271.4 1238.2 1271.9 1239 1271.2 1239.8 1270.8 1240.5 1271.1 1241.2 1271.4 1242 1271.8 1242.8 1272.6 1243.5 1271.7 1244.2 1272.1 1245 1272.8 1245.8 1272.8 1246.5 1272.1 1247.2 1272.9 1248 1272.6 1248.8 1272.4 1249.5 1272.5 1250.2 1272.4 1251 1272.2 1251.8 1272.2 1252.5 1272.7 1253.2 1273.2 1254 1273.3 1254.8 1273.2 1255.5 1272.2 1256.2 1272.7 1257 1271.5 1257.8 1271.7 1258.5 1272.7 1259.2 1272 1260 1273.2 1260.8 1273 1261.5 1272.2 1262.2 1272.1 1263 1271.5 1263.8 1273 1264.5 1272.8 1265.2 1274.1 1266 1273.7 1266.8 1272.9 1267.5 1272.2 1268.2 1271.9 1269 1272.4 1269.8 1272.7 1270.5 1271.9 1271.2 1272.8 1272 1273 1272.8 1271.8 1273.5 1272.1 1274.2 1271.5 1275 1272.7 1275.8 1271.6 1276.5 1271.4 1277.2 1271 1278 1271.6 1278.8 1271.3 1279.5 1272.6 1280.2 1272.3 1281 1271.5 1281.8 1271.3 1282.5 1271.8 1283.2 1272.2 1284 1271.7 1284.8 1272.7 1285.5 1272.6 1286.2 1273.2 1287 1271.2 1287.8 1271.7 1288.5 1272.7 1289.2 1272.4 1290 1272.1 1290.8 1271.7 1291.5 1272.6 1292.2 1272.1 1293 1272.9 1293.8 1272.8 1294.5 1272.8 1295.2 1271.6 1296 1272.7 1296.8 1273.4 1297.5 1273.5 1298.2 1273.4 1299 1273.3 1299.8 1272.6 1300.5 1273.7 1301.2 1273.9 1302 1273.2 1302.8 1273 1303.5 1272.6 1304.2 1272.7 1305 1272.6 1305.8 1272.9 1306.5 1272.8 1307.2 1272 1308 1272.1 1308.8 1272.6 1309.5 1272.4 1310.2 1273 1311 1272.9 1311.8 1273.6 1312.5 1272.7 1313.2 1273.1 1314 1272.4 1314.8 1272.3 1315.5 1273 1316.2 1273 1317 1272.7 1317.8 1273.6 1318.5 1274.1 1319.2 1273.6 1320 1274 1320.8 1274 1321.5 1274.2 1322.2 1273.5 1323 1273.1 1323.8 1273.9 1324.5 1273 1325.2 1274.1 1326 1274.1 1326.8 1274.4 1327.5 1274.2 1328.2 1274.7 1329 1274.3 1329.8 1274.6 1330.5 1275.3 1331.2 1274.5 1332 1274.5 1332.8 1275.7 1333.5 1275.4 1334.2 1275.2 1335 1275.1 1335.8 1275.5 1336.5 1275.3 1337.2 1275.7 1338 1275.3 1338.8 1275.1 1339.5 1275.4 1340.2 1275 1341 1275.4 1341.8 1275 1342.5 1275.1 1343.2 1275.4 1344 1275 1344.8 1275.8 1345.5 1275.5 1346.2 1275.8 1347 1275.2 1347.8 1275.9 1348.5 1275.8 1349.2 1275.1 1350 1275.8 1350.8 1275.7 1351.5 1275.4 1352.2 1275.4 1353 1275.3 1353.8 1276.1 1354.5 1276.1 1355.2 1276.1 1356 1276.8 1356.8 1276.1 1357.5 1276.1 1358.2 1275.6 1359 1276.2 1359.8 1276.5 1360.5 1276 1361.2 1276.9 1362 1276.1 1362.8 1276.3 1363.5 1276.2 1364.2 1276.2 1365 1275.4 1365.8 1276.6 1366.5 1275.7 1367.2 1276.7 1368 1276 1368.8 1276.4 1369.5 1277.2 1370.2 1276.2 1371 1276.4 1371.8 1276.5 1372.5 1276.9 1373.2 1277 1374 1277.3 1374.8 1275.9 1375.5 1276.6 1376.2 1277 1377 1277.1 1377.8 1276.6 1378.5 1276.9 1379.2 1277.4 1380 1276.8 1380.8 1277.4 1381.5 1276.5 1382.2 1276.5 1383 1276.7 1383.8 1276.1 1384.5 1276.5 1385.2 1276.1 1386 1276.7 1386.8 1276.4 1387.5 1276.5 1388.2 1276.8 1389 1276.9 1389.8 1276.6 1390.5 1276.5 1391.2 1277 1392 1276.7 1392.8 1277 1393.5 1277.4 1394.2 1277.2 1395 1276.7 1395.8 1277.4 1396.5 1277.4 1397.2 1276.8 1398 1276.8 1398.8 1277.1 1399.5 1276.9 1400.2 1276.8 1401 1277.1 1401.8 1277 1402.5 1277.5 1403.2 1277.2 1404 1276.8 1404.8 1276.8 1405.5 1276.7 1406.2 1277.3 1407 1276.7 1407.8 1277.4 1408.5 1277 1409.2 1276.8 1410 1277.5 1410.8 1277.4 1411.5 1277.4 1412.2 1277.2 1413 1277.2 1413.8 1277.1 1414.5 1277.5 1415.2 1277.5 1416 1277.2 1416.8 1277.2 1417.5 1277.2 1418.2 1277.5 1419 1277.3 1419.8 1277.2 1420.5 1277.2 1421.2 1277.3 1422 1277.2 1422.8 1277.2 1423.5 1277.5 1424.2 1277.3 1425 1277.4 1425.8 1277 1426.5 1277.4 1427.2 1277.3 1428 1277.3 1428.8 1277.2 1429.5 1277.3 1430.2 1277.4 1431 1277.5 1431.8 1277.4 1432.5 1278 1433.2 1277.8 1434 1277.5 1434.8 1277.4 1435.5 1277.3 1436.2 1277.2 1437 1277.6 1437.8 1277.2 1438.5 1277.8 1439.2 1277.8 1440 1277.1 1440.8 1277.7 1441.5 1277.7 1442.2 1277.8 1443 1277.7 1443.8 1277.9 1444.5 1277.3 1445.2 1277.4 1446 1277.6 1446.8 1277.6 1447.5 1277.2 1448.2 1277.9 1449 1278.1 1449.8 1277.9 1450.5 1278 1451.2 1278.1 1452 1277.4 1452.8 1277.8 1453.5 1277.6 1454.2 1277.6 1455 1277.4 1455.8 1277.4 1456.5 1277.9 1457.2 1278.4 1458 1277.5 1458.8 1278.1 1459.5 1278 1460.2 1278.1 1461 1278.2 1461.8 1277.8 1462.5 1278 1463.2 1277.6 1464 1277.7 1464.8 1278 1465.5 1278.1 1466.2 1277.5 1467 1277.5 1467.8 1278.1 1468.5 1278 1469.2 1278.1 1470 1278 1470.8 1277.8 1471.5 1278.4 1472.2 1278.2 1473 1278 1473.8 1278.4 1474.5 1277.7 1475.2 1277.9 1476 1277.6 1476.8 1276.9 1477.5 1277.3 1478.2 1277 1479 1277.7 1479.8 1278 1480.5 1277.4 1481.2 1277.9 1482 1277.7 1482.8 1278 1483.5 1277.7 1484.2 1277.4 1485 1277.8 1485.8 1277.8 1486.5 1278 1487.2 1278.1 1488 1277.7 1488.8 1278.1 1489.5 1277.7 1490.2 1277.9 1491 1277.9 1491.8 1277.9 1492.5 1278 1493.2 1277.8 1494 1278 1494.8 1277.7 1495.5 1277.8 1496.2 1278.2 1497 1278.1 1497.8 1278.1 1498.5 1278.1 1499.2 1278.1 1500 1278 1500.8 1278.1 1501.5 1277.7 1502.2 1278 1503 1277.8 1503.8 1277.8 1504.5 1278 1505.2 1278.1 1506 1278 1506.8 1278.4 1507.5 1278.1 1508.2 1278.3 1509 1278 1509.8 1277.7 1510.5 1277.9 1511.2 1277.9 1512 1278.4 1512.8 1277.9 1513.5 1278 1514.2 1277.9 1515 1278.1 1515.8 1277.8 1516.5 1278.4 1517.2 1278.2 1518 1278.3 1518.8 1278.7 1519.5 1278.1 1520.2 1278.2 1521 1278.1 1521.8 1278.2 1522.5 1278.5 1523.2 1278.4 1524 1278.1 1524.8 1277.9 1525.5 1278.2 1526.2 1277.7 1527 1277.9 1527.8 1278 1528.5 1277.9 1529.2 1278 1530 1277.9 1530.8 1277.8 1531.5 1278 1532.2 1277.8 1533 1278.4 1533.8 1278.4 1534.5 1278.2 1535.2 1278.3 1536 1278.3 1536.8 1278.3 1537.5 1278.6 1538.2 1278.1 1539 1278.5 1539.8 1278.7 1540.5 1277.9 1541.2 1278.8 1542 1277.9 1542.8 1277.9 1543.5 1277.9 1544.2 1278.3 1545 1278.2 1545.8 1278 1546.5 1278.4 1547.2 1278.5 1548 1278.3 1548.8 1278.5 1549.5 1278.6 1550.2 1278.8 1551 1278.4 1551.8 1278.6 1552.5 1278.5 1553.2 1278.4 1554 1278.3 1554.8 1278.4 1555.5 1278.3 1556.2 1278.1 1557 1278.2 1557.8 1278.3 1558.5 1278.4 1559.2 1278.4 1560 1278.7 1560.8 1278.6 1561.5 1278.2 1562.2 1278.7 1563 1278.2 1563.8 1278.3 1564.5 1278.7 1565.2 1278.3 1566 1278.2 1566.8 1278.6 1567.5 1278.6 1568.2 1278.7 1569 1278.4 1569.8 1278.8 1570.5 1278.7 1571.2 1279 1572 1278.6 1572.8 1278.5 1573.5 1278.4 1574.2 1278.5 1575 1278.8 1575.8 1278.6 1576.5 1278.4 1577.2 1278.9 1578 1278.7 1578.8 1278.8 1579.5 1278.7 1580.2 1278.6 1581 1278.7 1581.8 1278.9 1582.5 1279 1583.2 1278.9 1584 1279 1584.8 1278.5 1585.5 1278.3 1586.2 1278.6 1587 1278.5 1587.8 1278.6 1588.5 1278.4 1589.2 1278.6 1590 1278.4 1590.8 1278.7 1591.5 1278.7 1592.2 1278.8 1593 1278.8 1593.8 1278.7 1594.5 1278.8 1595.2 1279 1596 1279.2 1596.8 1278.9 1597.5 1279 1598.2 1278.9 1599 1279.1 1599.8 1279.2 1600.5 1278.7 1601.2 1279 1602 1278.9 1602.8 1279.1 1603.5 1278.4 1604.2 1278.7 1605 1278.5 1605.8 1279 1606.5 1278.8 1607.2 1278.9 1608 1278.8 1608.8 1278.7 1609.5 1278.7 1610.2 1278.7 1611 1278.5 1611.8 1278.8 1612.5 1278.8 1613.2 1278.7 1614 1278.7 1614.8 1279 1615.5 1278.7 1616.2 1278.7 1617 1279 1617.8 1279.2 1618.5 1278.8 1619.2 1278.8 1620 1278.8 1620.8 1279 1621.5 1279 1622.2 1279.2 1623 1278.9 1623.8 1278.8 1624.5 1278.8 1625.2 1279.1 1626 1278.8 1626.8 1278.7 1627.5 1278.8 1628.2 1278.9 1629 1278.9 1629.8 1278.7 1630.5 1279.1 1631.2 1279.2 1632 1278.7 1632.8 1278.8 1633.5 1278.6 1634.2 1278.7 1635 1278.6 1635.8 1278.8 1636.5 1279 1637.2 1279 1638 1278.8 1638.8 1278.7 1639.5 1278.7 1640.2 1279.2 1641 1278.9 1641.8 1279 1642.5 1279.2 1643.2 1278.9 1644 1279.1 1644.8 1278.9 1645.5 1279 1646.2 1278.7 1647 1278.9 1647.8 1279 1648.5 1279 1649.2 1278.7 1650 1278.8 1650.8 1279 1651.5 1278.9 1652.2 1279.1 1653 1279.2 1653.8 1279.1 1654.5 1279 1655.2 1279.1 1656 1279 1656.8 1279.2 1657.5 1279.1 1658.2 1279.2 1659 1279.3 1659.8 1279.1 1660.5 1279.1 1661.2 1278.9 1662 1279.1 1662.8 1279.3 1663.5 1279 1664.2 1278.9 1665 1278.9 1665.8 1279.2 1666.5 1279.1 1667.2 1279.1 1668 1278.8 1668.8 1279 1669.5 1278.8 1670.2 1278.9 1671 1279 1671.8 1279 1672.5 1279.2 1673.2 1278.9 1674 1279 1674.8 1279 1675.5 1279.1 1676.2 1279.2 1677 1278.9 1677.8 1278.7 1678.5 1278.9 1679.2 1279.1 1680 1278.9 1680.8 1279.2 1681.5 1278.9 1682.2 1279 1683 1279.1 1683.8 1279.4 1684.5 1279.2 1685.2 1279.3 1686 1279.1 1686.8 1279.1 1687.5 1279.1 1688.2 1279.4 1689 1279.5 1689.8 1279.4 1690.5 1279.3 1691.2 1279.1 1692 1279.3 1692.8 1279.4 1693.5 1279.3 1694.2 1279.3 1695 1279.1 1695.8 1279.3 1696.5 1279.2 1697.2 1279.4 1698 1279.4 1698.8 1279.4 1699.5 1279.4 1700.2 1279.3 1701 1279.6 1701.8 1279.3 1702.5 1279.5 1703.2 1279.3 1704 1279.3 1704.8 1279.4 1705.5 1279.3 1706.2 1279.2 1707 1279.2 1707.8 1279.2 1708.5 1279.3 1709.2 1279.3 1710 1279.3 1710.8 1279.1 1711.5 1279.3 1712.2 1279.4 1713 1279.2 1713.8 1279.2 1714.5 1279.4 1715.2 1279.3 1716 1279.5 1716.8 1279.3 1717.5 1279.2 1718.2 1279.3 1719 1279.3 1719.8 1279.4 1720.5 1279.3 1721.2 1279.3 1722 1279.6 1722.8 1279.3 1723.5 1279.6 1724.2 1279.3 1725 1279.3 1725.8 1279.3 1726.5 1279.4 1727.2 1279.4 1728 1279.3 1728.8 1279.4 1729.5 1279.3 1730.2 1279.3 1731 1279.4 1731.8 1279.7 1732.5 1279.6 1733.2 1279.7 1734 1279.6 1734.8 1279.4 1735.5 1279.4 1736.2 1279.5 1737 1279.4 1737.8 1279.5 1738.5 1279.5 1739.2 1279.5 1740 1279.4 1740.8 1279.6 1741.5 1279.4 1742.2 1279.6 1743 1279.7 1743.8 1279.6 1744.5 1279.7 1745.2 1279.7 1746 1279.6 1746.8 1279.6 1747.5 1279.8 1748.2 1279.7 1749 1279.6 1749.8 1279.6 1750.5 1279.6 1751.2 1279.7 1752 1279.8 1752.8 1279.6 1753.5 1279.7"/>
<path stroke="#F38B0A" d="M249 1280L249.8 1279.9 250.5 1279.8 251.2 1279.7 252 1279.6 252.8 1279.4 253.5 1279.3 254.2 1279.3 255 1279.2 255.8 1279.2 256.5 1279.2 257.2 1279 258 1278.9 258.8 1279 259.5 1278.6 260.2 1278.8 261 1278.3 261.8 1278.3 262.5 1278.3 263.2 1278 264 1277.6 264.8 1278.1 265.5 1277.7 266.2 1277.1 267 1277.1 267.8 1276.9 268.5 1276.4 269.2 1276.8 270 1276.2 270.8 1275.8 271.5 1276.7 272.2 1275.9 273 1275.5 273.8 1275.4 274.5 1274.9 275.2 1275.8 276 1275.1 276.8 1275 277.5 1275 278.2 1275.2 279 1273.3 279.8 1274.2 280.5 1273.8 281.2 1273.8 282 1273.9 282.8 1273.5 283.5 1272.3 284.2 1273.1 285 1272.4 285.8 1272.6 286.5 1271.2 287.2 1272.5 288 1272.2 288.8 1272.1 289.5 1271.9 290.2 1270.4 291 1271.3 291.8 1270.7 292.5 1269.9 293.2 1270.4 294 1269.4 294.8 1270 295.5 1269.5 296.2 1268.2 297 1269.2 297.8 1268.6 298.5 1268 299.2 1267.7 300 1268.3 300.8 1266.9 301.5 1267 302.2 1264.8 303 1265.7 303.8 1264.2 304.5 1264.1 305.2 1264.2 306 1263.4 306.8 1264.5 307.5 1262.4 308.2 1263.9 309 1263.1 309.8 1262.6 310.5 1262.9 311.2 1262.6 312 1264 312.8 1262.1 313.5 1260.8 314.2 1261.2 315 1260.2 315.8 1259.6 316.5 1258.3 317.2 1258.4 318 1259.5 318.8 1259.2 319.5 1259.7 320.2 1259 321 1259.2 321.8 1259 322.5 1260.4 323.2 1261 324 1259.5 324.8 1260.1 325.5 1258 326.2 1258 327 1259.7 327.8 1257.6 328.5 1261.3 329.2 1259.5 330 1260.1 330.8 1258 331.5 1257 332.2 1257.6 333 1256.6 333.8 1257.8 334.5 1256.3 335.2 1255.9 336 1258.3 336.8 1256.3 337.5 1257.1 338.2 1259.2 339 1260.1 339.8 1256.9 340.5 1256.4 341.2 1257.8 342 1258.6 342.8 1257.8 343.5 1257 344.2 1256.7 345 1259 345.8 1257.5 346.5 1256.9 347.2 1256.9 348 1258.6 348.8 1257.7 349.5 1260.5 350.2 1258.3 351 1259.7 351.8 1257.4 352.5 1258.4 353.2 1258.7 354 1258.4 354.8 1257.7 355.5 1258 356.2 1257.4 357 1258.2 357.8 1258.4 358.5 1258.4 359.2 1257.4 360 1257 360.8 1256.9 361.5 1258.5 362.2 1259 363 1257.8 363.8 1257.9 364.5 1257.4 365.2 1258.1 366 1257.7 366.8 1256.4 367.5 1258.4 368.2 1259.9 369 1258.5 369.8 1257.8 370.5 1257.9 371.2 1258.8 372 1256.9 372.8 1257.6 373.5 1257.1 374.2 1254.9 375 1255.9 375.8 1256.8 376.5 1257.1 377.2 1256.5 378 1255.5 378.8 1257 379.5 1256.7 380.2 1256.5 381 1257.7 381.8 1256.1 382.5 1256.9 383.2 1256.9 384 1259 384.8 1256.7 385.5 1258.5 386.2 1255.7 387 1255.8 387.8 1256.7 388.5 1256.4 389.2 1257.5 390 1256.9 390.8 1257.3 391.5 1256 392.2 1256.4 393 1257.2 393.8 1256.1 394.5 1256.6 395.2 1257.8 396 1256.3 396.8 1257 397.5 1258.3 398.2 1257.3 399 1255 399.8 1256.3 400.5 1256.5 401.2 1256.8 402 1258.6 402.8 1257.5 403.5 1256.1 404.2 1255.3 405 1256.7 405.8 1255.9 406.5 1257.2 407.2 1256.1 408 1256.6 408.8 1255.2 409.5 1256 410.2 1256.3 411 1255.6 411.8 1256.9 412.5 1256.4 413.2 1256.2 414 1256.3 414.8 1257.7 415.5 1256.5 416.2 1258.8 417 1258.9 417.8 1259.4 418.5 1259.8 419.2 1259.1 420 1258.6 420.8 1260.5 421.5 1258.7 422.2 1259.8 423 1257.7 423.8 1259.3 424.5 1259.8 425.2 1260.6 426 1260.9 426.8 1261.5 427.5 1259.9 428.2 1259.8 429 1260.5 429.8 1260.2 430.5 1260.3 431.2 1260.5 432 1258.6 432.8 1258.9 433.5 1260.7 434.2 1259.5 435 1261.1 435.8 1260.4 436.5 1260.1 437.2 1261.6 438 1261.5 438.8 1261.6 439.5 1260.4 440.2 1260.9 441 1260.8 441.8 1260.4 442.5 1260.7 443.2 1259.7 444 1260.5 444.8 1260.8 445.5 1260.6 446.2 1259.3 447 1261.5 447.8 1259 448.5 1260.6 449.2 1260.7 450 1261 450.8 1259.4 451.5 1259.9 452.2 1260.7 453 1260.9 453.8 1259.7 454.5 1260 455.2 1259 456 1257.5 456.8 1260.9 457.5 1259.3 458.2 1260.5 459 1261 459.8 1259.7 460.5 1261.8 461.2 1260.4 462 1259.8 462.8 1261.5 463.5 1262 464.2 1261.8 465 1262.8 465.8 1263.8 466.5 1264 467.2 1263.3 468 1263.2 468.8 1265.3 469.5 1263.8 470.2 1263 471 1265 471.8 1263.5 472.5 1262.2 473.2 1262.7 474 1262.9 474.8 1262.3 475.5 1263.2 476.2 1263.5 477 1264.9 477.8 1263.7 478.5 1263.6 479.2 1263.8 480 1264.3 480.8 1265.2 481.5 1266 482.2 1264.1 483 1264.7 483.8 1265.9 484.5 1267 485.2 1265.2 486 1266.2 486.8 1265 487.5 1265.1 488.2 1265.2 489 1266.3 489.8 1265.5 490.5 1265.9 491.2 1265.7 492 1266.2 492.8 1265.7 493.5 1266.3 494.2 1267.5 495 1267.3 495.8 1267 496.5 1267 497.2 1267.5 498 1267.2 498.8 1266.7 499.5 1266.7 500.2 1267 501 1265.7 501.8 1269.2 502.5 1268.6 503.2 1268 504 1267.4 504.8 1268.7 505.5 1267 506.2 1267.1 507 1268.4 507.8 1268.1 508.5 1268.8 509.2 1268.2 510 1268.3 510.8 1268 511.5 1269.2 512.2 1268.7 513 1268.7 513.8 1268.1 514.5 1269.2 515.2 1268.1 516 1268.3 516.8 1267.3 517.5 1267 518.2 1268.3 519 1267.6 519.8 1267.5 520.5 1268.1 521.2 1268.7 522 1267.9 522.8 1268.1 523.5 1268.2 524.2 1268.3 525 1268.4 525.8 1267.1 526.5 1268.7 527.2 1267.8 528 1269.7 528.8 1268.4 529.5 1269 530.2 1268.8 531 1268.6 531.8 1269.9 532.5 1268.1 533.2 1269 534 1268.7 534.8 1269 535.5 1269.7 536.2 1269.4 537 1269.1 537.8 1268.6 538.5 1269.4 539.2 1271.5 540 1269.2 540.8 1269.6 541.5 1268.8 542.2 1271.3 543 1268.8 543.8 1269.4 544.5 1268.6 545.2 1270 546 1269.8 546.8 1269.8 547.5 1269.8 548.2 1271 549 1271 549.8 1270.9 550.5 1268.5 551.2 1269.8 552 1270 552.8 1270.2 553.5 1268.4 554.2 1270.8 555 1269.8 555.8 1270.1 556.5 1268.7 557.2 1269.2 558 1269 558.8 1268.8 559.5 1268.7 560.2 1268 561 1269.9 561.8 1269.8 562.5 1269 563.2 1268.4 564 1270.5 564.8 1268.8 565.5 1269.1 566.2 1269 567 1269 567.8 1269.5 568.5 1270 569.2 1269.4 570 1268.5 570.8 1270.1 571.5 1270.1 572.2 1269.5 573 1270.3 573.8 1268.2 574.5 1268.2 575.2 1268.6 576 1268.6 576.8 1269.3 577.5 1269.2 578.2 1268.7 579 1269.3 579.8 1268.5 580.5 1268.2 581.2 1268.1 582 1267.8 582.8 1268.6 583.5 1268.1 584.2 1268.4 585 1268.6 585.8 1269 586.5 1267.9 587.2 1269.5 588 1267.6 588.8 1268.5 589.5 1267.9 590.2 1268.2 591 1267.1 591.8 1267 592.5 1268 593.2 1266.2 594 1267.4 594.8 1266.6 595.5 1266.4 596.2 1267.4 597 1266.6 597.8 1267.8 598.5 1265.7 599.2 1266.9 600 1266.9 600.8 1267 601.5 1266.4 602.2 1266.2 603 1267.9 603.8 1268.2 604.5 1267.7 605.2 1267.8 606 1268.6 606.8 1268.2 607.5 1267.9 608.2 1266.9 609 1268.3 609.8 1267.2 610.5 1267.9 611.2 1267.3 612 1267.8 612.8 1268.5 613.5 1267.9 614.2 1268.6 615 1268 615.8 1269.4 616.5 1267.9 617.2 1269.7 618 1269 618.8 1268.2 619.5 1267.9 620.2 1268.5 621 1269.7 621.8 1268 622.5 1267.7 623.2 1268.6 624 1269.5 624.8 1268.7 625.5 1268.3 626.2 1268.7 627 1268.9 627.8 1269.5 628.5 1270.3 629.2 1269.2 630 1269.1 630.8 1269.1 631.5 1268.8 632.2 1269.9 633 1269.3 633.8 1270.7 634.5 1270.3 635.2 1270.3 636 1271.7 636.8 1270.4 637.5 1272.1 638.2 1271.5 639 1271.5 639.8 1271.6 640.5 1271.3 641.2 1272.1 642 1272.5 642.8 1271.1 643.5 1272.2 644.2 1272.4 645 1272.2 645.8 1272.7 646.5 1272.4 647.2 1272.5 648 1273.2 648.8 1272.3 649.5 1272.8 650.2 1272.7 651 1272.7 651.8 1273 652.5 1273.9 653.2 1273 654 1274.6 654.8 1272.8 655.5 1272.6 656.2 1273.5 657 1273.6 657.8 1274.8 658.5 1274.6 659.2 1273.9 660 1274.4 660.8 1274.2 661.5 1275.5 662.2 1274.5 663 1274.7 663.8 1274.5 664.5 1274.4 665.2 1274.4 666 1274.2 666.8 1274.5 667.5 1274.5 668.2 1274.2 669 1274.7 669.8 1274.2 670.5 1274.2 671.2 1274.6 672 1274.9 672.8 1275.2 673.5 1274.7 674.2 1274.2 675 1274.3 675.8 1274.5 676.5 1274.6 677.2 1275 678 1274.7 678.8 1275.4 679.5 1274.9 680.2 1275.4 681 1275.4 681.8 1275.3 682.5 1275.5 683.2 1275.1 684 1275.7 684.8 1275.4 685.5 1275.5 686.2 1275.5 687 1275.8 687.8 1275.5 688.5 1275.5 689.2 1276 690 1275.5 690.8 1276 691.5 1276 692.2 1276.1 693 1276.1 693.8 1275.6 694.5 1276 695.2 1276.2 696 1276.7 696.8 1276.6 697.5 1276.4 698.2 1276.3 699 1275.1 699.8 1275.8 700.5 1275.6 701.2 1276.3 702 1276.3 702.8 1276.2 703.5 1276.1 704.2 1276.1 705 1275.9 705.8 1275.9 706.5 1276.2 707.2 1275.8 708 1276 708.8 1275.6 709.5 1275.7 710.2 1275.8 711 1276.1 711.8 1275.7 712.5 1275.2 713.2 1275.9 714 1276 714.8 1276.4 715.5 1276.3 716.2 1277 717 1276.7 717.8 1276.8 718.5 1277 719.2 1276.9 720 1276.6 720.8 1276.2 721.5 1276.4 722.2 1276.3 723 1276.8 723.8 1276.4 724.5 1276.8 725.2 1276.3 726 1276.6 726.8 1276.7 727.5 1277 728.2 1276.4 729 1277 729.8 1275.9 730.5 1276.4 731.2 1276 732 1276.5 732.8 1276.1 733.5 1276.5 734.2 1276.4 735 1276.8 735.8 1277 736.5 1276.7 737.2 1276.9 738 1276.6 738.8 1276.5 739.5 1276.4 740.2 1276.1 741 1276.4 741.8 1276.7 742.5 1276.4 743.2 1276.6 744 1276.2 744.8 1277.2 745.5 1276.9 746.2 1276.4 747 1276.9 747.8 1276.6 748.5 1276.9 749.2 1276.7 750 1276.6 750.8 1277.1 751.5 1277.1 752.2 1277.1 753 1277.2 753.8 1277.1 754.5 1277 755.2 1277.1 756 1276.4 756.8 1276.9 757.5 1277.3 758.2 1276.8 759 1277.5 759.8 1276.9 760.5 1276.8 761.2 1277.2 762 1277 762.8 1277.4 763.5 1277 764.2 1277.5 765 1277.3 765.8 1277.2 766.5 1277.6 767.2 1277 768 1277.2 768.8 1277.5 769.5 1277.6 770.2 1277.5 771 1277 771.8 1277.2 772.5 1277.2 773.2 1277.2 774 1277.1 774.8 1277 775.5 1277.9 776.2 1277.8 777 1277.4 777.8 1277.6 778.5 1277.7 779.2 1277.6 780 1277.8 780.8 1277.9 781.5 1277.6 782.2 1277.8 783 1278 783.8 1277.8 784.5 1278.2 785.2 1278.3 786 1278.2 786.8 1278.2 787.5 1278 788.2 1278.2 789 1278 789.8 1277.7 790.5 1278.2 791.2 1278.6 792 1278.5 792.8 1278.1 793.5 1278.1 794.2 1278.1 795 1278 795.8 1278.3 796.5 1278.5 797.2 1278.3 798 1278.2 798.8 1277.9 799.5 1278.6 800.2 1278.1 801 1278.3 801.8 1278.5 802.5 1278.5 803.2 1278.6 804 1278 804.8 1278.2 805.5 1278.2 806.2 1278.1 807 1278.2 807.8 1278.6 808.5 1278.2 809.2 1278.6 810 1278.6 810.8 1278.4 811.5 1278.3 812.2 1278.4 813 1278.3 813.8 1278.4 814.5 1278.4 815.2 1278.6 816 1278.5 816.8 1278.6 817.5 1278.6 818.2 1279 819 1279.1 819.8 1278.9 820.5 1278.8 821.2 1278.8 822 1279 822.8 1279 823.5 1278.9 824.2 1278.9 825 1279.1 825.8 1279.2 826.5 1278.9 827.2 1279.1 828 1278.7 828.8 1279 829.5 1279 830.2 1278.8 831 1278.8 831.8 1279 832.5 1278.7 833.2 1278.9 834 1279.2 834.8 1279 835.5 1279.3 836.2 1279.2 837 1278.9 837.8 1279 838.5 1279.1 839.2 1279.2 840 1279.3 840.8 1279.2 841.5 1279.1 842.2 1278.9 843 1279.2 843.8 1279 844.5 1279.2 845.2 1279.3 846 1279 846.8 1279.4 847.5 1279.1 848.2 1279.3 849 1279.3 849.8 1279.4 850.5 1279.3 851.2 1279.4 852 1279.3 852.8 1279.2 853.5 1279.2 854.2 1279.4 855 1279.4 855.8 1279.2 856.5 1279.2 857.2 1279.1 858 1279.3 858.8 1279.6 859.5 1279.3 860.2 1279.3 861 1279.4 861.8 1279.4 862.5 1279.3 863.2 1279.1 864 1279.2 864.8 1279.2 865.5 1279.4 866.2 1279.2 867 1279.2 867.8 1279.2 868.5 1279.2 869.2 1279.5 870 1279.3 870.8 1279.3 871.5 1279.2 872.2 1279.1 873 1279.5 873.8 1279.4 874.5 1279.5 875.2 1279.4 876 1279.3 876.8 1279.1 877.5 1279.4 878.2 1279.6 879 1279.4 879.8 1279.4 880.5 1279.3 881.2 1279.3 882 1279.1 882.8 1279.3 883.5 1279.3 884.2 1279.4 885 1279.2 885.8 1279.3 886.5 1279.4 887.2 1279.5 888 1279.6 888.8 1279.5 889.5 1279.5 890.2 1279.3 891 1279.5 891.8 1279.2 892.5 1279.5 893.2 1279.5 894 1279.4 894.8 1279.3 895.5 1279.4 896.2 1279.3 897 1279.5 897.8 1279.1 898.5 1279.4 899.2 1279.2 900 1279.5 900.8 1279.4 901.5 1279.5 902.2 1279.3 903 1279.3 903.8 1279.3 904.5 1279.4 905.2 1279.5 906 1279.4 906.8 1279.4 907.5 1279.4 908.2 1279.5 909 1279.5 909.8 1279.2 910.5 1279.4 911.2 1279.4 912 1279.3 912.8 1279.5 913.5 1279.5 914.2 1279.4 915 1279.6 915.8 1279.6 916.5 1279.6 917.2 1279.7 918 1279.7 918.8 1279.6 919.5 1279.7 920.2 1279.5 921 1279.8 921.8 1279.7 922.5 1279.6 923.2 1279.6 924 1279.5 924.8 1279.5 925.5 1279.7 926.2 1279.6 927 1279.5 927.8 1279.6 928.5 1279.6 929.2 1279.7 930 1279.5 930.8 1279.7 931.5 1279.5 932.2 1279.5 933 1279.6 933.8 1279.4 934.5 1279.3 935.2 1279.4 936 1279.5 936.8 1279.4 937.5 1279.5 938.2 1279.6 939 1279.5 939.8 1279.5 940.5 1279.5 941.2 1279.6 942 1279.6 942.8 1279.5 943.5 1279.6 944.2 1279.5 945 1279.4 945.8 1279.4 946.5 1279.4 947.2 1279.5 948 1279.4 948.8 1279.4 949.5 1279.3 950.2 1279.3 951 1279.3 951.8 1279.5 952.5 1279.5 953.2 1279.5 954 1279.6 954.8 1279.5 955.5 1279.6 956.2 1279.7 957 1279.7 957.8 1279.5 958.5 1279.6 959.2 1279.6 960 1279.6 960.8 1279.6 961.5 1279.5 962.2 1279.6 963 1279.7 963.8 1279.6 964.5 1279.6 965.2 1279.7 966 1279.5 966.8 1279.6 967.5 1279.8 968.2 1279.7 969 1279.7 969.8 1279.7 970.5 1279.7 971.2 1279.7 972 1279.7 972.8 1279.7 973.5 1279.7 974.2 1279.5 975 1279.7 975.8 1279.8 976.5 1279.7 977.2 1279.6 978 1279.6 978.8 1279.7 979.5 1279.7 980.2 1279.7 981 1279.5 981.8 1279.7 982.5 1279.5 983.2 1279.5 984 1279.6 984.8 1279.7 985.5 1279.6 986.2 1279.6 987 1279.6 987.8 1279.7 988.5 1279.4 989.2 1279.5 990 1279.6 990.8 1279.7 991.5 1279.4 992.2 1279.5 993 1279.5 993.8 1279.7 994.5 1279.6 995.2 1279.6 996 1279.7 996.8 1279.7 997.5 1279.7 998.2 1279.8 999 1280 999.8 1279.7 1000.5 1279.8 1001.2 1279.7 1002 1279.8 1002.8 1279.6 1003.5 1279.8 1004.2 1279.6 1005 1279.8 1005.8 1279.9 1006.5 1279.6 1007.2 1279.7 1008 1279.8 1008.8 1279.7 1009.5 1279.6 1010.2 1279.6 1011 1279.7 1011.8 1279.7 1012.5 1279.7 1013.2 1279.7 1014 1279.8 1014.8 1279.7 1015.5 1279.8 1016.2 1279.8 1017 1279.7 1017.8 1279.8 1018.5 1279.7 1019.2 1279.6 1020 1279.6 1020.8 1279.7 1021.5 1279.5 1022.2 1279.5 1023 1279.8 1023.8 1279.8 1024.5 1279.7 1025.2 1279.7 1026 1279.5 1026.8 1279.5 1027.5 1279.5 1028.2 1279.6 1029 1279.6 1029.8 1279.5 1030.5 1279.6 1031.2 1279.6 1032 1279.6 1032.8 1279.6 1033.5 1279.6 1034.2 1279.7 1035 1279.5 1035.8 1279.6 1036.5 1279.5 1037.2 1279.5 1038 1279.7 1038.8 1279.7 1039.5 1279.7 1040.2 1279.7 1041 1279.6 1041.8 1279.5 1042.5 1279.6 1043.2 1279.6 1044 1279.5 1044.8 1279.8 1045.5 1279.6 1046.2 1279.7 1047 1279.8 1047.8 1279.8 1048.5 1279.6 1049.2 1279.7 1050 1279.8 1050.8 1279.7 1051.5 1279.7 1052.2 1279.6 1053 1279.7 1053.8 1279.6 1054.5 1279.7 1055.2 1279.8 1056 1279.8 1056.8 1279.7 1057.5 1279.7 1058.2 1279.7 1059 1279.8 1059.8 1279.6 1060.5 1279.7 1061.2 1279.6 1062 1279.6 1062.8 1279.6 1063.5 1279.6 1064.2 1279.7 1065 1279.8 1065.8 1279.7 1066.5 1279.7 1067.2 1279.8 1068 1279.7 1068.8 1279.7 1069.5 1279.8 1070.2 1279.7 1071 1279.7 1071.8 1279.7 1072.5 1279.7 1073.2 1279.6 1074 1279.7 1074.8 1279.6 1075.5 1279.7 1076.2 1279.6 1077 1279.7 1077.8 1279.8 1078.5 1279.7 1079.2 1279.6 1080 1279.6 1080.8 1279.7 1081.5 1279.8 1082.2 1279.7 1083 1279.7 1083.8 1279.7 1084.5 1279.5 1085.2 1279.7 1086 1279.7 1086.8 1279.8 1087.5 1279.7 1088.2 1279.7 1089 1279.7 1089.8 1279.8 1090.5 1279.8 1091.2 1279.9 1092 1279.8 1092.8 1279.8 1093.5 1279.7 1094.2 1279.7 1095 1279.8 1095.8 1279.6 1096.5 1279.7 1097.2 1279.7 1098 1279.9 1098.8 1279.9 1099.5 1279.9 1100.2 1279.7 1101 1279.8 1101.8 1279.7 1102.5 1279.8 1103.2 1279.8 1104 1279.8 1104.8 1279.9 1105.5 1279.7 1106.2 1279.8 1107 1279.8 1107.8 1279.9 1108.5 1279.9 1109.2 1279.7 1110 1279.7 1110.8 1279.8 1111.5 1279.8 1112.2 1279.7 1113 1279.7 1113.8 1279.7 1114.5 1279.7 1115.2 1279.8 1116 1279.8 1116.8 1279.8 1117.5 1279.7 1118.2 1279.9 1119 1279.7 1119.8 1279.7 1120.5 1279.8 1121.2 1279.8 1122 1279.7 1122.8 1279.8 1123.5 1279.9 1124.2 1279.8 1125 1279.9 1125.8 1279.9 1126.5 1279.9 1127.2 1279.9 1128 1279.8 1128.8 1279.8 1129.5 1279.9 1130.2 1279.7 1131 1279.7 1131.8 1279.7 1132.5 1279.9 1133.2 1279.8 1134 1279.9 1134.8 1279.7 1135.5 1279.7 1136.2 1279.8 1137 1279.8 1137.8 1279.8 1138.5 1279.8 1139.2 1279.8 1140 1279.8 1140.8 1279.8 1141.5 1279.8 1142.2 1279.9 1143 1279.9 1143.8 1279.8 1144.5 1279.9 1145.2 1279.9 1146 1279.9 1146.8 1279.9 1147.5 1280 1148.2 1279.9 1149 1280 1149.8 1279.9 1150.5 1279.8 1151.2 1279.7 1152 1279.8 1152.8 1279.9 1153.5 1279.6 1154.2 1279.8 1155 1279.9 1155.8 1279.8 1156.5 1279.8 1157.2 1279.8 1158 1279.7 1158.8 1279.8 1159.5 1279.8 1160.2 1279.8 1161 1279.8 1161.8 1279.9 1162.5 1279.8 1163.2 1279.8 1164 1279.8 1164.8 1279.8 1165.5 1279.8 1166.2 1279.9 1167 1279.8 1167.8 1279.7 1168.5 1279.8 1169.2 1279.9 1170 1279.8 1170.8 1279.8 1171.5 1279.7 1172.2 1279.7 1173 1279.7 1173.8 1279.8 1174.5 1279.8 1175.2 1279.8 1176 1279.7 1176.8 1279.7 1177.5 1279.9 1178.2 1279.8 1179 1279.8 1179.8 1279.9 1180.5 1279.8 1181.2 1279.8 1182 1279.8 1182.8 1279.8 1183.5 1279.8 1184.2 1279.8 1185 1279.8 1185.8 1279.9 1186.5 1279.7 1187.2 1279.8 1188 1279.8 1188.8 1279.7 1189.5 1279.8 1190.2 1279.8 1191 1279.8 1191.8 1279.7 1192.5 1279.7 1193.2 1279.8 1194 1279.7 1194.8 1279.9 1195.5 1279.8 1196.2 1279.8 1197 1279.7 1197.8 1279.8 1198.5 1279.9 1199.2 1279.8 1200 1279.8 1200.8 1279.8 1201.5 1279.9 1202.2 1279.7 1203 1279.8 1203.8 1279.8 1204.5 1279.8 1205.2 1279.8 1206 1279.7 1206.8 1279.8 1207.5 1279.8 1208.2 1279.9 1209 1279.8 1209.8 1279.7 1210.5 1279.8 1211.2 1279.8 1212 1279.8 1212.8 1279.8 1213.5 1279.9 1214.2 1279.8 1215 1279.8 1215.8 1279.9 1216.5 1279.9 1217.2 1279.9 1218 1279.9 1218.8 1279.8 1219.5 1279.9 1220.2 1280 1221 1279.9 1221.8 1279.9 1222.5 1279.8 1223.2 1279.8 1224 1279.8 1224.8 1280 1225.5 1279.9 1226.2 1279.8 1227 1279.8 1227.8 1279.7 1228.5 1279.9 1229.2 1279.8 1230 1279.8 1230.8 1279.8 1231.5 1279.8 1232.2 1279.8 1233 1279.8 1233.8 1279.9 1234.5 1279.8 1235.2 1279.8 1236 1279.8 1236.8 1279.8 1237.5 1279.8 1238.2 1279.9 1239 1279.9 1239.8 1279.9 1240.5 1279.9 1241.2 1279.8 1242 1279.9 1242.8 1279.8 1243.5 1279.9 1244.2 1279.9 1245 1279.9 1245.8 1279.8 1246.5 1279.8 1247.2 1279.8 1248 1279.9 1248.8 1279.9 1249.5 1279.9 1250.2 1279.8 1251 1279.9 1251.8 1279.8 1252.5 1279.8 1253.2 1279.8 1254 1279.8 1254.8 1279.9 1255.5 1279.9 1256.2 1279.9 1257 1279.9 1257.8 1279.8 1258.5 1279.9 1259.2 1279.9 1260 1279.8 1260.8 1279.8 1261.5 1279.9 1262.2 1280 1263 1279.8 1263.8 1279.9 1264.5 1279.9 1265.2 1279.8 1266 1279.8 1266.8 1279.9 1267.5 1279.9 1268.2 1279.9 1269 1279.8 1269.8 1279.8 1270.5 1279.9 1271.2 1279.8 1272 1279.9 1272.8 1279.8 1273.5 1279.9 1274.2 1279.9 1275 1279.8 1275.8 1279.9 1276.5 1279.9 1277.2 1280 1278 1279.9 1278.8 1280 1279.5 1279.9 1280.2 1279.9 1281 1280 1281.8 1279.9 1282.5 1279.9 1283.2 1279.9 1284 1279.9 1284.8 1279.9 1285.5 1279.8 1286.2 1279.9 1287 1280 1287.8 1279.9 1288.5 1279.9 1289.2 1279.9 1290 1279.9 1290.8 1279.9 1291.5 1279.9 1292.2 1279.9 1293 1279.9 1293.8 1279.9 1294.5 1280 1295.2 1279.9 1296 1279.9 1296.8 1279.9 1297.5 1279.9 1298.2 1279.9 1299 1279.8 1299.8 1279.8 1300.5 1279.9 1301.2 1279.8 1302 1279.8 1302.8 1279.9 1303.5 1279.8 1304.2 1279.8 1305 1279.8 1305.8 1279.9 1306.5 1279.8 1307.2 1279.8 1308 1279.8 1308.8 1279.9 1309.5 1279.8 1310.2 1279.8 1311 1279.9 1311.8 1279.8 1312.5 1279.9 1313.2 1279.8 1314 1279.8 1314.8 1279.9 1315.5 1279.9 1316.2 1279.9 1317 1279.9 1317.8 1279.9 1318.5 1280 1319.2 1279.9 1320 1279.9 1320.8 1279.9 1321.5 1279.9 1322.2 1279.8 1323 1279.9 1323.8 1279.9 1324.5 1279.9 1325.2 1279.9 1326 1279.9 1326.8 1279.9 1327.5 1279.9 1328.2 1279.9 1329 1279.9 1329.8 1279.9 1330.5 1279.9 1331.2 1279.9 1332 1279.9 1332.8 1279.9 1333.5 1280 1334.2 1279.9 1335 1280 1335.8 1279.9 1336.5 1279.9 1337.2 1279.9 1338 1279.9 1338.8 1279.9 1339.5 1279.9 1340.2 1279.9 1341 1280 1341.8 1279.9 1342.5 1279.9 1343.2 1280 1344 1279.9 1344.8 1280 1345.5 1279.9 1346.2 1279.9 1347 1279.9 1347.8 1279.9 1348.5 1279.9 1349.2 1279.9 1350 1279.9 1350.8 1279.9 1351.5 1280 1352.2 1279.9 1353 1279.9 1353.8 1280 1354.5 1279.9 1355.2 1280 1356 1280 1356.8 1279.9 1357.5 1279.9 1358.2 1279.9 1359 1280 1359.8 1279.9 1360.5 1279.9 1361.2 1279.9 1362 1279.9 1362.8 1280 1363.5 1280 1364.2 1279.9 1365 1279.9 1365.8 1280 1366.5 1279.9 1367.2 1280 1368 1280 1368.8 1279.9 1369.5 1280 1370.2 1279.9 1371 1280 1371.8 1280 1372.5 1280 1373.2 1279.9 1374 1280 1374.8 1280 1375.5 1280 1376.2 1279.9 1377 1279.9 1377.8 1280 1378.5 1280 1379.2 1279.9 1380 1279.9 1380.8 1279.9 1381.5 1279.9 1382.2 1279.9 1383 1279.9 1383.8 1279.9 1384.5 1279.9 1385.2 1279.9 1386 1280 1386.8 1279.9 1387.5 1280 1388.2 1279.9 1389 1279.9 1389.8 1279.9 1390.5 1279.9 1391.2 1279.9 1392 1279.9 1392.8 1279.9 1393.5 1279.9 1394.2 1279.9 1395 1279.9 1395.8 1279.9 1396.5 1280 1397.2 1279.9 1398 1280 1398.8 1280 1399.5 1279.9 1400.2 1279.9 1401 1279.9 1401.8 1279.9 1402.5 1279.9 1403.2 1279.9 1404 1279.9 1404.8 1279.9 1405.5 1279.9 1406.2 1280 1407 1279.9 1407.8 1279.9 1408.5 1280 1409.2 1279.9 1410 1279.9 1410.8 1279.9 1411.5 1280 1412.2 1280 1413 1279.9 1413.8 1279.9 1414.5 1280 1415.2 1280 1416 1279.9 1416.8 1280 1417.5 1279.9 1418.2 1279.9 1419 1279.9 1419.8 1280 1420.5 1280 1421.2 1280 1422 1279.9 1422.8 1280 1423.5 1279.9 1424.2 1280 1425 1280 1425.8 1279.9 1426.5 1280 1427.2 1279.9 1428 1280 1428.8 1280 1429.5 1280 1430.2 1280 1431 1280 1431.8 1280 1432.5 1280 1433.2 1280 1434 1280 1434.8 1280 1435.5 1280 1436.2 1280 1437 1280 1437.8 1280 1438.5 1280 1439.2 1280 1440 1280 1440.8 1280 1441.5 1280 1442.2 1279.9 1443 1280 1443.8 1279.9 1444.5 1279.9 1445.2 1279.9 1446 1280 1446.8 1279.9 1447.5 1279.9 1448.2 1280 1449 1280 1449.8 1280 1450.5 1280 1451.2 1280 1452 1279.9 1452.8 1280 1453.5 1280 1454.2 1279.9 1455 1280 1455.8 1280 1456.5 1280 1457.2 1280 1458 1279.9 1458.8 1279.9 1459.5 1280 1460.2 1279.9 1461 1280 1461.8 1280 1462.5 1280 1463.2 1280 1464 1280 1464.8 1280 1465.5 1280 1466.2 1279.9 1467 1279.9 1467.8 1280 1468.5 1280 1469.2 1279.9 1470 1280 1470.8 1280 1471.5 1280 1472.2 1279.9 1473 1279.9 1473.8 1280 1474.5 1280 1475.2 1280 1476 1280 1476.8 1280 1477.5 1280 1478.2 1280 1479 1280 1479.8 1279.9 1480.5 1280 1481.2 1280 1482 1279.9 1482.8 1279.9 1483.5 1279.9 1484.2 1280 1485 1279.9 1485.8 1279.9 1486.5 1279.9 1487.2 1280 1488 1280 1488.8 1279.9 1489.5 1280 1490.2 1280 1491 1279.9 1491.8 1280 1492.5 1280 1493.2 1280 1494 1280 1494.8 1280 1495.5 1280 1496.2 1280 1497 1280 1497.8 1280 1498.5 1280 1499.2 1279.9 1500 1280 1500.8 1279.9 1501.5 1279.9 1502.2 1280 1503 1280 1503.8 1279.9 1504.5 1280 1505.2 1280 1506 1280 1506.8 1280 1507.5 1280 1508.2 1280 1509 1279.9 1509.8 1280 1510.5 1280 1511.2 1280 1512 1280 1512.8 1280 1513.5 1280 1514.2 1280 1515 1280 1515.8 1279.9 1516.5 1280 1517.2 1279.9 1518 1280 1518.8 1280 1519.5 1280 1520.2 1279.9 1521 1280 1521.8 1280 1522.5 1279.9 1523.2 1280 1524 1280 1524.8 1280 1525.5 1280 1526.2 1280 1527 1280 1527.8 1280 1528.5 1280 1529.2 1280 1530 1280 1530.8 1280 1531.5 1280 1532.2 1280 1533 1280 1533.8 1280 1534.5 1280 1535.2 1280 1536 1280 1536.8 1280 1537.5 1280 1538.2 1280 1539 1280 1539.8 1280 1540.5 1280 1541.2 1280 1542 1280 1542.8 1280 1543.5 1280 1544.2 1280 1545 1279.9 1545.8 1280 1546.5 1280 1547.2 1280 1548 1280 1548.8 1280 1549.5 1280 1550.2 1280 1551 1279.9 1551.8 1280 1552.5 1280 1553.2 1280 1554 1280 1554.8 1280 1555.5 1280 1556.2 1280 1557 1280 1557.8 1280 1558.5 1280 1559.2 1280 1560 1280 1560.8 1280 1561.5 1280 1562.2 1280 1563 1280 1563.8 1280 1564.5 1280 1565.2 1280 1566 1280 1566.8 1280 1567.5 1280 1568.2 1280 1569 1280 1569.8 1280 1570.5 1280 1571.2 1280 1572 1280 1572.8 1280 1573.5 1280 1574.2 1280 1575 1280 1575.8 1280 1576.5 1280 1577.2 1280 1578 1280 1578.8 1280 1579.5 1280 1580.2 1280 1581 1280 1581.8 1280 1582.5 1280 1583.2 1280 1584 1280 1584.8 1280 1585.5 1280 1586.2 1280 1587 1280 1587.8 1280 1588.5 1280 1589.2 1280 1590 1280 1590.8 1280 1591.5 1280 1592.2 1280 1593 1280 1593.8 1280 1594.5 1280 1595.2 1280 1596 1280 1596.8 1280 1597.5 1280 1598.2 1280 1599 1280 1599.8 1280 1600.5 1280 1601.2 1280 1602 1280 1602.8 1280 1603.5 1280 1604.2 1280 1605 1280 1605.8 1280 1606.5 1280 1607.2 1280 1608 1280 1608.8 1280 1609.5 1280 1610.2 1280 1611 1280 1611.8 1280 1612.5 1280 1613.2 1280 1614 1280 1614.8 1280 1615.5 1280 1616.2 1280 1617 1280 1617.8 1280 1618.5 1280 1619.2 1280 1620 1280 1620.8 1280 1621.5 1280 1622.2 1280 1623 1280 1623.8 1280 1624.5 1280 1625.2 1280 1626 1280 1626.8 1280 1627.5 1280 1628.2 1280 1629 1280 1629.8 1280 1630.5 1280 1631.2 1280 1632 1280 1632.8 1280 1633.5 1280 1634.2 1280 1635 1280 1635.8 1280 1636.5 1280 1637.2 1280 1638 1280 1638.8 1280 1639.5 1280 1640.2 1280 1641 1280 1641.8 1280 1642.5 1280 1643.2 1280 1644 1280 1644.8 1280 1645.5 1280 1646.2 1280 1647 1280 1647.8 1280 1648.5 1280 1649.2 1280 1650 1280 1650.8 1280 1651.5 1280 1652.2 1280 1653 1280 1653.8 1280 1654.5 1280 1655.2 1280 1656 1280 1656.8 1280 1657.5 1280 1658.2 1280 1659 1280 1659.8 1280 1660.5 1280 1661.2 1280 1662 1280 1662.8 1280 1663.5 1280 1664.2 1280 1665 1280 1665.8 1280 1666.5 1280 1667.2 1280 1668 1280 1668.8 1280 1669.5 1280 1670.2 1280 1671 1280 1671.8 1280 1672.5 1280 1673.2 1280 1674 1280 1674.8 1280 1675.5 1280 1676.2 1280 1677 1280 1677.8 1280 1678.5 1280 1679.2 1280 1680 1280 1680.8 1280 1681.5 1280 1682.2 1280 1683 1280 1683.8 1280 1684.5 1280 1685.2 1280 1686 1280 1686.8 1280 1687.5 1280 1688.2 1280 1689 1280 1689.8 1280 1690.5 1280 1691.2 1280 1692 1280 1692.8 1280 1693.5 1280 1694.2 1280 1695 1280 1695.8 1280 1696.5 1280 1697.2 1280 1698 1280 1698.8 1280 1699.5 1280 1700.2 1280 1701.8 1280 1702.5 1280 1703.2 1280 1704 1280 1704.8 1280 1705.5 1280 1706.2 1280 1707 1280 1707.8 1280 1708.5 1280 1709.2 1280 1710 1280 1710.8 1280 1711.5 1280 1712.2 1280 1713 1280 1713.8 1280 1714.5 1280 1715.2 1280 1716 1280 1716.8 1280 1717.5 1280 1721.2 1280 1722 1280 1722.8 1280 1723.5 1280 1724.2 1280 1725 1280 1725.8 1280 1726.5 1280 1731.8 1280 1732.5 1280 1733.2 1280 1734 1280 1734.8 1280 1735.5 1280 1736.2 1280 1737 1280 1737.8 1280 1738.5 1280 1739.2 1280 1740 1280 1746.8 1280 1747.5 1280 1748.2 1280 1749 1280 1749.8 1280 1750.5 1280 1753.5 1280"/>
<path stroke="#AE5500" d="M249 1280L249.8 1279.1 250.5 1278.3 251.2 1277.2 252 1276.2 252.8 1275.4 253.5 1274.5 254.2 1273.8 255 1272.9 255.8 1271.6 256.5 1271.3 257.2 1270.4 258 1269 258.8 1268.7 259.5 1267.4 260.2 1267.6 261 1266 261.8 1266 262.5 1266.2 263.2 1265.4 264 1264.3 264.8 1264.1 265.5 1263 266.2 1263.1 267 1263.5 267.8 1261.5 268.5 1261.3 269.2 1261.4 270 1261.2 270.8 1260.6 271.5 1258.8 272.2 1258.7 273 1259 273.8 1259.3 274.5 1259 275.2 1258.8 276 1258 276.8 1256.9 277.5 1256.6 278.2 1256.8 279 1258.5 279.8 1259.1 280.5 1256.6 281.2 1255.9 282 1256.8 282.8 1257.1 283.5 1256.3 284.2 1256.4 285 1257.5 285.8 1257.3 286.5 1256.7 287.2 1255.6 288 1256 288.8 1256.3 289.5 1253.4 290.2 1255.7 291 1253.4 291.8 1254.3 292.5 1252.8 293.2 1252.3 294 1251.4 294.8 1252.5 295.5 1252.1 296.2 1250.9 297 1250.9 297.8 1251.2 298.5 1249.7 299.2 1251 300 1248.1 300.8 1249 301.5 1248.9 302.2 1247.1 303 1247 303.8 1244.8 304.5 1245.9 305.2 1245.4 306 1243.5 306.8 1244.9 307.5 1242.8 308.2 1242.3 309 1241.4 309.8 1242.5 310.5 1240.6 311.2 1241.2 312 1240.6 312.8 1238.4 313.5 1238.4 314.2 1238.8 315 1234.6 315.8 1234.1 316.5 1237.7 317.2 1234 318 1238.2 318.8 1236 319.5 1231.9 320.2 1235.3 321 1233.9 321.8 1233 322.5 1233.3 323.2 1230.7 324 1230.9 324.8 1230.9 325.5 1227.7 326.2 1229.1 327 1228.9 327.8 1227.8 328.5 1227.3 329.2 1227.3 330 1224.6 330.8 1226.3 331.5 1225.5 332.2 1228.7 333 1228.3 333.8 1226.7 334.5 1224.2 335.2 1226.2 336 1227.7 336.8 1227.1 337.5 1226.5 338.2 1226.6 339 1223.7 339.8 1225 340.5 1225.2 341.2 1224.2 342 1224.7 342.8 1224.8 343.5 1227.9 344.2 1226.4 345 1224.2 345.8 1224.5 346.5 1223 347.2 1225.3 348 1227.1 348.8 1225.7 349.5 1227.2 350.2 1228.7 351 1226.6 351.8 1225.1 352.5 1227.3 353.2 1227.7 354 1231.7 354.8 1227.3 355.5 1227.6 356.2 1228.8 357 1227.3 357.8 1227.5 358.5 1228.5 359.2 1228.2 360 1228.7 360.8 1228.4 361.5 1224.8 362.2 1228.9 363 1226.1 363.8 1226.8 364.5 1225.1 365.2 1225.8 366 1225.3 366.8 1223.8 367.5 1223.6 368.2 1224.3 369 1224.2 369.8 1227.4 370.5 1224.7 371.2 1222.6 372 1224.9 372.8 1221.2 373.5 1222.5 374.2 1220.6 375 1222 375.8 1223.3 376.5 1222.7 377.2 1220 378 1220.3 378.8 1221.1 379.5 1219 380.2 1222 381 1221.1 381.8 1221.4 382.5 1219.2 383.2 1219.5 384 1216.7 384.8 1217.1 385.5 1219 386.2 1217.4 387 1217.9 387.8 1215.6 388.5 1216.5 389.2 1215.8 390 1218.4 390.8 1217.5 391.5 1217.5 392.2 1218.2 393 1216.7 393.8 1217.2 394.5 1220.7 395.2 1219 396 1220.1 396.8 1219.6 397.5 1218.8 398.2 1218.4 399 1215 399.8 1218.2 400.5 1216.5 401.2 1215.4 402 1217.6 402.8 1218.6 403.5 1218.2 404.2 1217.6 405 1217.1 405.8 1216.2 406.5 1213.3 407.2 1213.2 408 1214.8 408.8 1216 409.5 1214.4 410.2 1213.6 411 1214.4 411.8 1215.3 412.5 1215.6 413.2 1215.8 414 1219.4 414.8 1217.2 415.5 1215.1 416.2 1217.3 417 1217.5 417.8 1216.9 418.5 1213.5 419.2 1211.3 420 1215.2 420.8 1210.8 421.5 1209.6 422.2 1211.4 423 1212.5 423.8 1212.6 424.5 1210 425.2 1212.4 426 1212.3 426.8 1213.8 427.5 1214.2 428.2 1218.2 429 1217.1 429.8 1216.3 430.5 1217.7 431.2 1220 432 1218.5 432.8 1220 433.5 1219.7 434.2 1221 435 1224.1 435.8 1220.7 436.5 1220.9 437.2 1220.5 438 1222.1 438.8 1221.7 439.5 1222.8 440.2 1223.7 441 1225.6 441.8 1224.2 442.5 1224 443.2 1225.1 444 1224.8 444.8 1223.9 445.5 1221.3 446.2 1223.7 447 1221.8 447.8 1221.3 448.5 1221.1 449.2 1220.9 450 1220.5 450.8 1218.3 451.5 1218.6 452.2 1217.9 453 1214.5 453.8 1216.3 454.5 1221.4 455.2 1215.6 456 1217.5 456.8 1218.5 457.5 1216.2 458.2 1215.1 459 1213.3 459.8 1213.7 460.5 1213.3 461.2 1211.8 462 1212.2 462.8 1213.5 463.5 1213.8 464.2 1214 465 1211.3 465.8 1216.4 466.5 1212.6 467.2 1211.6 468 1212.2 468.8 1215 469.5 1216.5 470.2 1217.5 471 1216.4 471.8 1218.6 472.5 1217.4 473.2 1217.8 474 1219 474.8 1219.5 475.5 1220.6 476.2 1218.4 477 1220 477.8 1223.9 478.5 1221.6 479.2 1224.7 480 1223.6 480.8 1223.8 481.5 1225.3 482.2 1222.8 483 1223.8 483.8 1224 484.5 1224.9 485.2 1222.6 486 1222.7 486.8 1224.3 487.5 1223.3 488.2 1223.9 489 1223.7 489.8 1220.5 490.5 1220.8 491.2 1222.3 492 1220.2 492.8 1216.6 493.5 1217.7 494.2 1216.7 495 1214.1 495.8 1213.8 496.5 1214.8 497.2 1214.3 498 1210.5 498.8 1211.1 499.5 1212.1 500.2 1213 501 1212.8 501.8 1211.8 502.5 1214.5 503.2 1212.1 504 1214.1 504.8 1215.3 505.5 1216.1 506.2 1216.4 507 1218 507.8 1218 508.5 1217.9 509.2 1221.2 510 1219.1 510.8 1223.5 511.5 1217.1 512.2 1221.7 513 1218.5 513.8 1217.7 514.5 1218.8 515.2 1215.9 516 1219.2 516.8 1220 517.5 1218.5 518.2 1219.3 519 1220.8 519.8 1219.2 520.5 1221.3 521.2 1219.4 522 1224.3 522.8 1221.2 523.5 1219.8 524.2 1222.4 525 1221.7 525.8 1218.7 526.5 1223.6 527.2 1220 528 1221.8 528.8 1225.1 529.5 1222.2 530.2 1222.5 531 1225 531.8 1222.6 532.5 1226.8 533.2 1224.6 534 1228.6 534.8 1228.7 535.5 1226.4 536.2 1225.5 537 1229.1 537.8 1226.1 538.5 1228.9 539.2 1230.9 540 1231.3 540.8 1231.1 541.5 1230 542.2 1232.3 543 1231.8 543.8 1232.7 544.5 1229 545.2 1232.8 546 1231 546.8 1230.1 547.5 1233 548.2 1231.4 549 1229.7 549.8 1230.9 550.5 1232.2 551.2 1232.7 552 1232.9 552.8 1232.1 553.5 1232.3 554.2 1233 555 1233.5 555.8 1233.4 556.5 1234.3 557.2 1233.6 558 1232.6 558.8 1233.2 559.5 1233.9 560.2 1233.4 561 1233.9 561.8 1233.1 562.5 1235.5 563.2 1233.8 564 1233.8 564.8 1235.8 565.5 1237.7 566.2 1235.9 567 1235.2 567.8 1238 568.5 1235.8 569.2 1237 570 1237.1 570.8 1236.1 571.5 1238.7 572.2 1238.2 573 1238.4 573.8 1239.4 574.5 1237.8 575.2 1239.5 576 1240.3 576.8 1241.2 577.5 1237.7 578.2 1241.2 579 1239.3 579.8 1237.5 580.5 1240.6 581.2 1240.9 582 1238 582.8 1239.8 583.5 1238.6 584.2 1239.2 585 1240.7 585.8 1239.2 586.5 1237.8 587.2 1237 588 1237.9 588.8 1238.3 589.5 1238.4 590.2 1239.4 591 1240 591.8 1241.6 592.5 1240.4 593.2 1237.3 594 1243.3 594.8 1239.4 595.5 1238.3 596.2 1237.2 597 1239.3 597.8 1242 598.5 1238.7 599.2 1239.1 600 1239.2 600.8 1239.5 601.5 1236.8 602.2 1236.7 603 1239 603.8 1240.1 604.5 1238 605.2 1239.9 606 1241.3 606.8 1240.6 607.5 1239.9 608.2 1243 609 1241.4 609.8 1240.8 610.5 1239.5 611.2 1238.7 612 1239.7 612.8 1240.3 613.5 1239.5 614.2 1241.9 615 1239.9 615.8 1243.7 616.5 1241.9 617.2 1242.7 618 1244 618.8 1245.2 619.5 1246.6 620.2 1244.6 621 1246.7 621.8 1245.1 622.5 1243.9 623.2 1245.1 624 1248 624.8 1245.3 625.5 1246.9 626.2 1247.4 627 1249.6 627.8 1244.3 628.5 1246.6 629.2 1245.8 630 1243.8 630.8 1245.4 631.5 1245.2 632.2 1246 633 1246.1 633.8 1245.8 634.5 1246.7 635.2 1247.1 636 1243.7 636.8 1245.1 637.5 1244.4 638.2 1244.3 639 1245.1 639.8 1242.4 640.5 1241.3 641.2 1242.7 642 1241.5 642.8 1245.2 643.5 1245.5 644.2 1242.1 645 1243.4 645.8 1241.9 646.5 1243.4 647.2 1243.5 648 1246.2 648.8 1244.3 649.5 1243.5 650.2 1244.7 651 1243.9 651.8 1246 652.5 1244.5 653.2 1244.8 654 1248.4 654.8 1242.4 655.5 1246.4 656.2 1244.9 657 1246.3 657.8 1244.3 658.5 1245.5 659.2 1244 660 1247.1 660.8 1244.5 661.5 1244.4 662.2 1242.6 663 1244.8 663.8 1248.2 664.5 1246.4 665.2 1247.3 666 1248.5 666.8 1248.6 667.5 1249.4 668.2 1250 669 1252.5 669.8 1250.3 670.5 1251.3 671.2 1252.9 672 1254 672.8 1255.1 673.5 1254.1 674.2 1255.5 675 1256.1 675.8 1258.1 676.5 1255 677.2 1257.7 678 1256.7 678.8 1257.1 679.5 1257.6 680.2 1258.1 681 1256.2 681.8 1256.9 682.5 1256 683.2 1254.9 684 1258.4 684.8 1256.6 685.5 1256 686.2 1255.6 687 1255.5 687.8 1255.8 688.5 1256.8 689.2 1255.7 690 1254.9 690.8 1253.3 691.5 1253.4 692.2 1254.2 693 1252 693.8 1253.3 694.5 1253.3 695.2 1254.8 696 1251.7 696.8 1252 697.5 1254 698.2 1250.5 699 1255.8 699.8 1254 700.5 1254.8 701.2 1254.3 702 1251.4 702.8 1254.3 703.5 1252.6 704.2 1253.8 705 1254.3 705.8 1254.4 706.5 1254.7 707.2 1254.4 708 1254.9 708.8 1253.4 709.5 1253.3 710.2 1254.2 711 1253.5 711.8 1255.3 712.5 1254.9 713.2 1254.5 714 1255.8 714.8 1253.3 715.5 1255.5 716.2 1254.3 717 1255.8 717.8 1255.1 718.5 1253.9 719.2 1255.3 720 1256.4 720.8 1254.2 721.5 1255.3 722.2 1257.3 723 1253.1 723.8 1255.1 724.5 1257.3 725.2 1255.1 726 1255 726.8 1254.1 727.5 1252.2 728.2 1256.1 729 1255.6 729.8 1256.8 730.5 1255.8 731.2 1253.9 732 1252.9 732.8 1254.6 733.5 1256.4 734.2 1255.9 735 1256.5 735.8 1258.2 736.5 1256.4 737.2 1256 738 1257.3 738.8 1255.8 739.5 1255.8 740.2 1256.1 741 1257.1 741.8 1255.5 742.5 1256.3 743.2 1257.4 744 1256.1 744.8 1256.7 745.5 1257.7 746.2 1257.8 747 1257 747.8 1257.8 748.5 1259.6 749.2 1258.7 750 1259.4 750.8 1259.5 751.5 1258.9 752.2 1260.1 753 1259.3 753.8 1257.8 754.5 1261 755.2 1260 756 1260.9 756.8 1260.9 757.5 1260.1 758.2 1259.3 759 1259.6 759.8 1259.9 760.5 1261.4 761.2 1260.2 762 1260.9 762.8 1258.4 763.5 1259.6 764.2 1260.6 765 1259 765.8 1260.9 766.5 1260.2 767.2 1260.3 768 1259.7 768.8 1260.1 769.5 1259.1 770.2 1261.4 771 1261.4 771.8 1260.9 772.5 1260.1 773.2 1261.7 774 1260.5 774.8 1261.9 775.5 1261.6 776.2 1260.5 777 1260.5 777.8 1262.1 778.5 1261 779.2 1261.1 780 1260.3 780.8 1260.8 781.5 1259 782.2 1260.6 783 1260.9 783.8 1260.3 784.5 1260.1 785.2 1259.3 786 1259.1 786.8 1259.2 787.5 1259.2 788.2 1259.3 789 1259.6 789.8 1259.2 790.5 1258.6 791.2 1260.6 792 1258.8 792.8 1259.8 793.5 1260.5 794.2 1262.4 795 1262.9 795.8 1264.9 796.5 1262.7 797.2 1262.8 798 1263.2 798.8 1262.9 799.5 1264.7 800.2 1263.8 801 1264.1 801.8 1265 802.5 1265 803.2 1265.5 804 1265.8 804.8 1266.3 805.5 1266 806.2 1265.7 807 1266.7 807.8 1266 808.5 1265.8 809.2 1266.3 810 1267.8 810.8 1266.4 811.5 1268.3 812.2 1267.7 813 1267.7 813.8 1267.8 814.5 1268.9 815.2 1267 816 1268.3 816.8 1267.8 817.5 1267.9 818.2 1267.4 819 1268.5 819.8 1268.7 820.5 1269.3 821.2 1269.8 822 1269.7 822.8 1269 823.5 1269.8 824.2 1267.9 825 1268.5 825.8 1268.1 826.5 1268.7 827.2 1268.6 828 1268.4 828.8 1268.7 829.5 1268.3 830.2 1267.6 831 1268.7 831.8 1267.8 832.5 1267.8 833.2 1268.9 834 1268 834.8 1268.1 835.5 1269.5 836.2 1268.3 837 1267.2 837.8 1267.3 838.5 1268 839.2 1267.7 840 1266.9 840.8 1268.1 841.5 1266.5 842.2 1268.4 843 1268.5 843.8 1268.5 844.5 1266.8 845.2 1267.9 846 1268.6 846.8 1267.3 847.5 1267 848.2 1267.9 849 1266.2 849.8 1267.2 850.5 1266.9 851.2 1266.6 852 1267.5 852.8 1268 853.5 1267.8 854.2 1267.2 855 1266.7 855.8 1267 856.5 1267.1 857.2 1266.6 858 1266.5 858.8 1268.7 859.5 1266.7 860.2 1266.7 861 1266.7 861.8 1265.6 862.5 1265.9 863.2 1266.8 864 1265.8 864.8 1266.8 865.5 1265.3 866.2 1266.3 867 1267.1 867.8 1267 868.5 1266.7 869.2 1266.8 870 1267.2 870.8 1265.9 871.5 1265.7 872.2 1267.3 873 1267.1 873.8 1266.2 874.5 1265.9 875.2 1265.3 876 1266 876.8 1265.9 877.5 1266.3 878.2 1266.8 879 1266.4 879.8 1266.4 880.5 1265 881.2 1266 882 1267.3 882.8 1266.1 883.5 1265.4 884.2 1267.4 885 1268.2 885.8 1268.3 886.5 1267.6 887.2 1268.3 888 1267.1 888.8 1268.6 889.5 1268.4 890.2 1269.5 891 1268.4 891.8 1270.2 892.5 1270.6 893.2 1270.5 894 1270.2 894.8 1269.5 895.5 1270.2 896.2 1271.4 897 1271.2 897.8 1271.2 898.5 1271.6 899.2 1271 900 1271.8 900.8 1271.4 901.5 1272.4 902.2 1272.2 903 1272.1 903.8 1273.2 904.5 1271.5 905.2 1271.9 906 1272.5 906.8 1273 907.5 1273.7 908.2 1273.5 909 1273.3 909.8 1273.4 910.5 1273 911.2 1273.6 912 1274.5 912.8 1274.1 913.5 1273.4 914.2 1273.8 915 1273.6 915.8 1273.2 916.5 1274 917.2 1273.8 918 1273.6 918.8 1274 919.5 1273.9 920.2 1274 921 1274.1 921.8 1274.2 922.5 1274.2 923.2 1273.9 924 1274.2 924.8 1274.1 925.5 1274.5 926.2 1274.3 927 1274.2 927.8 1274.8 928.5 1274.5 929.2 1274.7 930 1275 930.8 1274.5 931.5 1273.7 932.2 1273.8 933 1274.3 933.8 1273.5 934.5 1274.1 935.2 1274.3 936 1274.1 936.8 1274.1 937.5 1274.5 938.2 1274.5 939 1274.5 939.8 1274.9 940.5 1274.3 941.2 1274.3 942 1274.8 942.8 1274.5 943.5 1274.1 944.2 1274.1 945 1274.3 945.8 1274.2 946.5 1273.7 947.2 1274.2 948 1274.8 948.8 1273.9 949.5 1274.8 950.2 1274.6 951 1274.5 951.8 1274.1 952.5 1274.4 953.2 1274.5 954 1274.5 954.8 1274.9 955.5 1274.6 956.2 1273.9 957 1274.5 957.8 1274.6 958.5 1274.5 959.2 1274.2 960 1274.3 960.8 1274.8 961.5 1274.3 962.2 1275.4 963 1275.2 963.8 1274.3 964.5 1274.6 965.2 1274.8 966 1274.4 966.8 1275 967.5 1275.5 968.2 1275.4 969 1275 969.8 1275.8 970.5 1276 971.2 1275.2 972 1275.7 972.8 1275.4 973.5 1275.4 974.2 1276.2 975 1276.1 975.8 1275.5 976.5 1275 977.2 1276.3 978 1275.6 978.8 1275.9 979.5 1275.3 980.2 1276 981 1276.2 981.8 1275.8 982.5 1275.8 983.2 1275.8 984 1276 984.8 1275.4 985.5 1275.6 986.2 1274.9 987 1275.4 987.8 1275.4 988.5 1275.2 989.2 1275.9 990 1275.6 990.8 1276.5 991.5 1275.7 992.2 1275.1 993 1275.6 993.8 1276 994.5 1276.1 995.2 1276.3 996 1275.6 996.8 1276 997.5 1275.8 998.2 1276.2 999 1276 999.8 1276.2 1000.5 1276.2 1001.2 1275.9 1002 1276 1002.8 1276.2 1003.5 1275.2 1004.2 1275.7 1005 1275.6 1005.8 1276.1 1006.5 1275.9 1007.2 1275.9 1008 1275.7 1008.8 1276.1 1009.5 1275.8 1010.2 1276.1 1011 1275.6 1011.8 1275.6 1012.5 1275.8 1013.2 1275.8 1014 1275.2 1014.8 1275.9 1015.5 1276.1 1016.2 1275.4 1017 1275.6 1017.8 1276.3 1018.5 1276.1 1019.2 1275.9 1020 1276.1 1020.8 1275.3 1021.5 1276.3 1022.2 1275.5 1023 1276.2 1023.8 1275.8 1024.5 1275.8 1025.2 1276.3 1026 1276.3 1026.8 1276.8 1027.5 1276.6 1028.2 1276.3 1029 1276.5 1029.8 1276.7 1030.5 1277.2 1031.2 1276.5 1032 1277 1032.8 1276.4 1033.5 1276.1 1034.2 1275.9 1035 1276.5 1035.8 1276.5 1036.5 1276.4 1037.2 1276.9 1038 1276.7 1038.8 1276.9 1039.5 1276.6 1040.2 1276.2 1041 1276.7 1041.8 1275.9 1042.5 1276.4 1043.2 1276.1 1044 1276.8 1044.8 1276.9 1045.5 1276 1046.2 1276.2 1047 1276.2 1047.8 1275.9 1048.5 1276.6 1049.2 1276.6 1050 1276.2 1050.8 1275.9 1051.5 1275.9 1052.2 1276.6 1053 1276 1053.8 1276.4 1054.5 1276.4 1055.2 1276.6 1056 1276.4 1056.8 1276.6 1057.5 1277 1058.2 1276.5 1059 1276.7 1059.8 1276.8 1060.5 1276.3 1061.2 1276.7 1062 1276 1062.8 1276.3 1063.5 1276.2 1064.2 1276.6 1065 1276.6 1065.8 1276 1066.5 1277.3 1067.2 1277.3 1068 1276.9 1068.8 1276.7 1069.5 1276.9 1070.2 1276.5 1071 1276.7 1071.8 1276.8 1072.5 1277.1 1073.2 1277 1074 1276.9 1074.8 1277.3 1075.5 1276.8 1076.2 1277 1077 1277.2 1077.8 1277 1078.5 1277 1079.2 1277.4 1080 1276.8 1080.8 1277.1 1081.5 1277.1 1082.2 1277.1 1083 1277.4 1083.8 1276.7 1084.5 1277.1 1085.2 1277.1 1086 1277.4 1086.8 1277.1 1087.5 1277.3 1088.2 1277.4 1089 1277.6 1089.8 1277.5 1090.5 1277 1091.2 1277.7 1092 1277.4 1092.8 1277.2 1093.5 1277.6 1094.2 1277.4 1095 1277.5 1095.8 1277.3 1096.5 1277.5 1097.2 1277.1 1098 1277.8 1098.8 1277.5 1099.5 1277.6 1100.2 1277.5 1101 1277.4 1101.8 1277.9 1102.5 1278 1103.2 1277.5 1104 1277.7 1104.8 1277.5 1105.5 1277.5 1106.2 1278 1107 1277.8 1107.8 1277.7 1108.5 1277.3 1109.2 1277.6 1110 1277.8 1110.8 1277.8 1111.5 1277.7 1112.2 1277.5 1113 1277.6 1113.8 1277.3 1114.5 1277.7 1115.2 1278.1 1116 1277.7 1116.8 1277.5 1117.5 1277.9 1118.2 1277.7 1119 1277.8 1119.8 1277.9 1120.5 1277.8 1121.2 1277.9 1122 1277.6 1122.8 1277.5 1123.5 1277.7 1124.2 1277.8 1125 1277.9 1125.8 1278 1126.5 1277.7 1127.2 1277.6 1128 1277.9 1128.8 1277.5 1129.5 1277.9 1130.2 1278.1 1131 1278 1131.8 1278.1 1132.5 1277.8 1133.2 1277.8 1134 1277.8 1134.8 1277.7 1135.5 1277.9 1136.2 1278.1 1137 1277.9 1137.8 1278.4 1138.5 1278.2 1139.2 1277.7 1140 1278.4 1140.8 1278.1 1141.5 1278.4 1142.2 1278.3 1143 1278.3 1143.8 1278.8 1144.5 1278.5 1145.2 1278.2 1146 1278.1 1146.8 1278.2 1147.5 1278.1 1148.2 1278.4 1149 1278.6 1149.8 1278.1 1150.5 1278.5 1151.2 1278.4 1152 1278.3 1152.8 1278.6 1153.5 1278.3 1154.2 1278.2 1155 1278.4 1155.8 1278.3 1156.5 1278.3 1157.2 1278.6 1158 1278.1 1158.8 1278.7 1159.5 1278.7 1160.2 1278.3 1161 1278.4 1161.8 1278 1162.5 1278.1 1163.2 1278 1164 1278 1164.8 1278.4 1165.5 1278.4 1166.2 1278.5 1167 1278 1167.8 1278.3 1168.5 1278.3 1169.2 1278.1 1170 1278.6 1170.8 1278.4 1171.5 1278.4 1172.2 1278.7 1173 1278.3 1173.8 1278.7 1174.5 1278 1175.2 1278.6 1176 1278.6 1176.8 1278.1 1177.5 1278 1178.2 1278.7 1179 1278 1179.8 1278.3 1180.5 1278.1 1181.2 1278.1 1182 1278 1182.8 1277.8 1183.5 1277.8 1184.2 1278 1185 1278.2 1185.8 1277.6 1186.5 1277.7 1187.2 1278 1188 1277.9 1188.8 1277.9 1189.5 1277.8 1190.2 1277.7 1191 1277.9 1191.8 1277.9 1192.5 1278 1193.2 1277.9 1194 1277.8 1194.8 1278.5 1195.5 1277.8 1196.2 1278.3 1197 1278.2 1197.8 1278.2 1198.5 1278.1 1199.2 1278.3 1200 1278.3 1200.8 1278.1 1201.5 1278.8 1202.2 1278.6 1203 1278.7 1203.8 1278.7 1204.5 1278.9 1205.2 1278.8 1206 1278.9 1206.8 1278.5 1207.5 1278.9 1208.2 1278.5 1209 1278.3 1209.8 1278.4 1210.5 1278.7 1211.2 1278.8 1212 1278.7 1212.8 1279.1 1213.5 1278.6 1214.2 1278.8 1215 1278.7 1215.8 1279.1 1216.5 1278.6 1217.2 1278.7 1218 1278.5 1218.8 1278.7 1219.5 1278.7 1220.2 1279.3 1221 1278.9 1221.8 1278.7 1222.5 1278.9 1223.2 1278.7 1224 1278.6 1224.8 1278.8 1225.5 1278.4 1226.2 1279 1227 1278.9 1227.8 1278.6 1228.5 1278.8 1229.2 1278.5 1230 1279.1 1230.8 1279 1231.5 1279 1232.2 1278.9 1233 1279 1233.8 1278.9 1234.5 1279 1235.2 1278.9 1236 1278.8 1236.8 1278.8 1237.5 1278.4 1238.2 1278.6 1239 1278.8 1239.8 1279 1240.5 1278.7 1241.2 1278.9 1242 1279 1242.8 1278.6 1243.5 1278.9 1244.2 1278.4 1245 1278.8 1245.8 1278.7 1246.5 1278.7 1247.2 1278.6 1248 1279 1248.8 1278.3 1249.5 1278.6 1250.2 1278.9 1251 1278.8 1251.8 1278.7 1252.5 1278.9 1253.2 1278.8 1254 1278.8 1254.8 1279 1255.5 1278.6 1256.2 1278.8 1257 1278.8 1257.8 1278.7 1258.5 1279.1 1259.2 1278.8 1260 1278.8 1260.8 1278.9 1261.5 1279.1 1262.2 1279.3 1263 1279 1263.8 1279 1264.5 1279 1265.2 1279.1 1266 1278.9 1266.8 1279.1 1267.5 1278.9 1268.2 1279.1 1269 1279.1 1269.8 1278.6 1270.5 1279 1271.2 1279 1272 1279.2 1272.8 1279 1273.5 1279.1 1274.2 1278.9 1275 1279.2 1275.8 1279.4 1276.5 1279.1 1277.2 1279.2 1278 1279.2 1278.8 1278.9 1279.5 1279 1280.2 1279.1 1281 1279.2 1281.8 1279 1282.5 1279.2 1283.2 1279.1 1284 1279.3 1284.8 1279.2 1285.5 1278.9 1286.2 1279.1 1287 1279.3 1287.8 1279.2 1288.5 1279.3 1289.2 1279.5 1290 1279 1290.8 1279.1 1291.5 1279 1292.2 1279.1 1293 1279 1293.8 1279.1 1294.5 1279.1 1295.2 1279 1296 1279.4 1296.8 1279.4 1297.5 1279.1 1298.2 1279.1 1299 1278.8 1299.8 1279 1300.5 1279.1 1301.2 1279.1 1302 1279 1302.8 1279.3 1303.5 1279.5 1304.2 1279.2 1305 1279.1 1305.8 1279.3 1306.5 1279.3 1307.2 1279.1 1308 1279.2 1308.8 1279.4 1309.5 1279.4 1310.2 1279.2 1311 1279.4 1311.8 1279 1312.5 1279.3 1313.2 1279.1 1314 1278.9 1314.8 1279 1315.5 1279.2 1316.2 1279.4 1317 1279.2 1317.8 1279.1 1318.5 1279.4 1319.2 1279 1320 1279.3 1320.8 1279 1321.5 1278.9 1322.2 1279 1323 1279.2 1323.8 1279.2 1324.5 1279.2 1325.2 1279.3 1326 1279.2 1326.8 1279.6 1327.5 1279.4 1328.2 1279.3 1329 1279 1329.8 1279.1 1330.5 1279 1331.2 1279.2 1332 1278.8 1332.8 1279.2 1333.5 1279.2 1334.2 1279.1 1335 1279.3 1335.8 1279.4 1336.5 1279.2 1337.2 1279.1 1338 1279.1 1338.8 1279.2 1339.5 1279.3 1340.2 1279.3 1341 1279.5 1341.8 1279.4 1342.5 1279.3 1343.2 1279.5 1344 1279.2 1344.8 1279.4 1345.5 1279.4 1346.2 1279.4 1347 1279.2 1347.8 1279.3 1348.5 1279.2 1349.2 1279.2 1350 1279.4 1350.8 1279.3 1351.5 1279.3 1352.2 1279.2 1353 1279.3 1353.8 1279.4 1354.5 1279.4 1355.2 1279.3 1356 1279.4 1356.8 1279.3 1357.5 1279.4 1358.2 1279.4 1359 1279.4 1359.8 1279.6 1360.5 1279.3 1361.2 1279.5 1362 1279.3 1362.8 1279.3 1363.5 1279.5 1364.2 1279.6 1365 1279.6 1365.8 1279.4 1366.5 1279.8 1367.2 1279.8 1368 1279.6 1368.8 1279.8 1369.5 1279.6 1370.2 1279.6 1371 1279.5 1371.8 1279.4 1372.5 1279.4 1373.2 1279.6 1374 1279.7 1374.8 1279.5 1375.5 1279.7 1376.2 1279.7 1377 1279.7 1377.8 1279.7 1378.5 1279.6 1379.2 1279.5 1380 1279.5 1380.8 1279.4 1381.5 1279.3 1382.2 1279.6 1383 1279.3 1383.8 1279.5 1384.5 1279.5 1385.2 1279.4 1386 1279.3 1386.8 1279.4 1387.5 1279.5 1388.2 1279.3 1389 1279.4 1389.8 1279.5 1390.5 1279.5 1391.2 1279.6 1392 1279.5 1392.8 1279.4 1393.5 1279.5 1394.2 1279.3 1395 1279.4 1395.8 1279.5 1396.5 1279.5 1397.2 1279.5 1398 1279.3 1398.8 1279.5 1399.5 1279.4 1400.2 1279.5 1401 1279.7 1401.8 1279.6 1402.5 1279.6 1403.2 1279.7 1404 1279.7 1404.8 1279.7 1405.5 1279.6 1406.2 1279.8 1407 1279.6 1407.8 1279.4 1408.5 1279.6 1409.2 1279.5 1410 1279.4 1410.8 1279.4 1411.5 1279.5 1412.2 1279.5 1413 1279.6 1413.8 1279.6 1414.5 1279.5 1415.2 1279.4 1416 1279.5 1416.8 1279.6 1417.5 1279.5 1418.2 1279.5 1419 1279.6 1419.8 1279.6 1420.5 1279.6 1421.2 1279.6 1422 1279.5 1422.8 1279.4 1423.5 1279.5 1424.2 1279.5 1425 1279.5 1425.8 1279.5 1426.5 1279.4 1427.2 1279.5 1428 1279.5 1428.8 1279.4 1429.5 1279.5 1430.2 1279.6 1431 1279.5 1431.8 1279.6 1432.5 1279.5 1433.2 1279.4 1434 1279.7 1434.8 1279.6 1435.5 1279.6 1436.2 1279.5 1437 1279.6 1437.8 1279.6 1438.5 1279.6 1439.2 1279.6 1440 1279.5 1440.8 1279.7 1441.5 1279.6 1442.2 1279.8 1443 1279.6 1443.8 1279.6 1444.5 1279.6 1445.2 1279.4 1446 1279.5 1446.8 1279.4 1447.5 1279.5 1448.2 1279.6 1449 1279.6 1449.8 1279.7 1450.5 1279.6 1451.2 1279.7 1452 1279.6 1452.8 1279.4 1453.5 1279.7 1454.2 1279.5 1455 1279.7 1455.8 1279.8 1456.5 1279.8 1457.2 1279.7 1458 1279.7 1458.8 1279.6 1459.5 1279.8 1460.2 1279.7 1461 1279.6 1461.8 1279.5 1462.5 1279.5 1463.2 1279.6 1464 1279.7 1464.8 1279.6 1465.5 1279.5 1466.2 1279.7 1467 1279.7 1467.8 1279.6 1468.5 1279.6 1469.2 1279.7 1470 1279.6 1470.8 1279.7 1471.5 1279.5 1472.2 1279.7 1473 1279.6 1473.8 1279.8 1474.5 1279.4 1475.2 1279.5 1476 1279.5 1476.8 1279.6 1477.5 1279.6 1478.2 1279.6 1479 1279.6 1479.8 1279.6 1480.5 1279.5 1481.2 1279.6 1482 1279.6 1482.8 1279.6 1483.5 1279.6 1484.2 1279.6 1485 1279.6 1485.8 1279.7 1486.5 1279.6 1487.2 1279.8 1488 1279.5 1488.8 1279.6 1489.5 1279.7 1490.2 1279.7 1491 1279.7 1491.8 1279.8 1492.5 1279.7 1493.2 1279.6 1494 1279.8 1494.8 1279.7 1495.5 1279.7 1496.2 1279.7 1497 1279.8 1497.8 1279.6 1498.5 1279.8 1499.2 1279.7 1500 1279.7 1500.8 1279.7 1501.5 1279.7 1502.2 1279.7 1503 1279.8 1503.8 1279.7 1504.5 1279.6 1505.2 1279.6 1506 1279.6 1506.8 1279.6 1507.5 1279.6 1508.2 1279.7 1509 1279.8 1509.8 1279.8 1510.5 1279.9 1511.2 1279.8 1512 1279.8 1512.8 1279.7 1513.5 1279.7 1514.2 1279.7 1515 1279.8 1515.8 1279.7 1516.5 1279.7 1517.2 1279.9 1518 1279.6 1518.8 1279.8 1519.5 1279.8 1520.2 1279.8 1521 1279.8 1521.8 1279.7 1522.5 1279.7 1523.2 1279.7 1524 1279.7 1524.8 1279.7 1525.5 1279.8 1526.2 1279.8 1527 1279.8 1527.8 1279.8 1528.5 1279.8 1529.2 1279.9 1530 1279.8 1530.8 1279.8 1531.5 1279.8 1532.2 1279.8 1533 1279.9 1533.8 1279.9 1534.5 1279.8 1535.2 1279.8 1536 1279.8 1536.8 1279.8 1537.5 1279.8 1538.2 1279.9 1539 1279.8 1539.8 1279.8 1540.5 1279.9 1541.2 1279.9 1542 1279.9 1542.8 1279.9 1543.5 1279.9 1544.2 1280 1545 1279.9 1545.8 1279.8 1546.5 1279.8 1547.2 1279.9 1548 1279.9 1548.8 1279.8 1549.5 1279.9 1550.2 1279.9 1551 1279.7 1551.8 1279.7 1552.5 1279.8 1553.2 1279.8 1554 1279.8 1554.8 1279.9 1555.5 1279.8 1556.2 1279.8 1557 1279.7 1557.8 1279.8 1558.5 1279.8 1559.2 1279.6 1560 1279.7 1560.8 1279.7 1561.5 1279.7 1562.2 1279.8 1563 1279.8 1563.8 1279.8 1564.5 1279.9 1565.2 1279.8 1566 1279.9 1566.8 1279.8 1567.5 1279.8 1568.2 1279.8 1569 1279.8 1569.8 1279.9 1570.5 1279.8 1571.2 1279.8 1572 1279.8 1572.8 1279.8 1573.5 1279.9 1574.2 1279.9 1575 1279.9 1575.8 1279.9 1576.5 1279.8 1577.2 1279.9 1578 1279.8 1578.8 1279.8 1579.5 1279.9 1580.2 1279.9 1581 1279.9 1581.8 1279.9 1582.5 1279.9 1583.2 1279.9 1584 1279.9 1584.8 1279.9 1585.5 1279.9 1586.2 1280 1587 1280 1587.8 1279.9 1588.5 1280 1589.2 1279.9 1590 1279.9 1590.8 1279.9 1591.5 1279.9 1592.2 1279.9 1593 1280 1593.8 1279.9 1594.5 1279.8 1595.2 1279.9 1596 1279.9 1596.8 1279.9 1597.5 1279.9 1598.2 1279.9 1599 1279.9 1599.8 1279.8 1600.5 1279.9 1601.2 1280 1602 1279.9 1602.8 1279.9 1603.5 1280 1604.2 1279.9 1605 1279.9 1605.8 1280 1606.5 1280 1607.2 1279.9 1608 1279.9 1608.8 1279.9 1609.5 1279.9 1610.2 1279.9 1611 1280 1611.8 1279.9 1612.5 1279.9 1613.2 1280 1614 1279.9 1614.8 1279.9 1615.5 1279.9 1616.2 1279.8 1617 1279.9 1617.8 1279.9 1618.5 1279.9 1619.2 1279.9 1620 1279.9 1620.8 1279.9 1621.5 1279.9 1622.2 1279.9 1623 1280 1623.8 1279.9 1624.5 1279.9 1625.2 1279.9 1626 1279.9 1626.8 1279.9 1627.5 1279.9 1628.2 1279.9 1629 1279.9 1629.8 1279.9 1630.5 1279.9 1631.2 1279.9 1632 1280 1632.8 1280 1633.5 1280 1634.2 1279.9 1635 1279.9 1635.8 1279.9 1636.5 1279.9 1637.2 1280 1638 1280 1638.8 1280 1639.5 1279.9 1640.2 1280 1641 1280 1641.8 1280 1642.5 1279.9 1643.2 1280 1644 1279.9 1644.8 1279.9 1645.5 1280 1646.2 1279.9 1647 1280 1647.8 1279.9 1648.5 1279.9 1649.2 1280 1650 1280 1650.8 1280 1651.5 1280 1652.2 1280 1653 1279.9 1653.8 1280 1654.5 1280 1655.2 1280 1656 1280 1656.8 1280 1657.5 1280 1658.2 1280 1659.8 1280 1660.5 1280 1661.2 1280 1662 1280 1662.8 1280 1663.5 1280 1664.2 1280 1665 1280 1665.8 1280 1666.5 1279.9 1667.2 1280 1668 1280 1668.8 1280 1669.5 1280 1670.2 1280 1671 1280 1671.8 1280 1672.5 1280 1673.2 1279.9 1674 1280 1674.8 1280 1675.5 1280 1676.2 1280 1677 1280 1677.8 1280 1678.5 1280 1679.2 1280 1680 1280 1680.8 1280 1681.5 1280 1682.2 1280 1683 1280 1683.8 1280 1684.5 1280 1685.2 1280 1686.8 1280 1687.5 1280 1688.2 1280 1689 1280 1689.8 1280 1690.5 1280 1691.2 1280 1692 1280 1692.8 1280 1693.5 1280 1694.2 1280 1695 1280 1695.8 1280 1696.5 1280 1697.2 1280 1698 1280 1698.8 1280 1699.5 1280 1700.2 1280 1701 1280 1701.8 1280 1702.5 1280 1703.2 1280 1704 1280 1704.8 1280 1705.5 1280 1706.2 1280 1707 1280 1708.5 1280 1709.2 1280 1710 1280 1710.8 1280 1711.5 1280 1712.2 1280 1713 1280 1713.8 1280 1714.5 1280 1715.2 1280 1716 1280 1716.8 1280 1717.5 1280 1718.2 1280 1719 1280 1719.8 1280 1720.5 1280 1721.2 1280 1722 1280 1722.8 1280 1723.5 1280 1724.2 1280 1725 1280 1725.8 1280 1726.5 1280 1727.2 1280 1728 1280 1728.8 1280 1729.5 1280 1730.2 1280 1731 1280 1731.8 1280 1732.5 1280 1733.2 1280 1734 1280 1734.8 1280 1735.5 1280 1736.2 1280 1737 1280 1737.8 1280 1738.5 1280 1739.2 1280 1740 1280 1740.8 1280 1741.5 1280 1742.2 1280 1743 1280 1743.8 1280 1744.5 1280 1745.2 1280 1746 1280 1746.8 1280 1747.5 1280 1748.2 1280 1749 1280 1749.8 1280 1750.5 1280 1751.2 1280 1752 1280 1752.8 1280 1753.5 1280"/>
<path stroke="#8F5CAB" d="M249 1280L249.8 1279.7 250.5 1279.7 251.2 1279.6 252 1279.1 252.8 1278.8 253.5 1278.7 254.2 1278.7 255 1278.7 255.8 1278.5 256.5 1278.4 257.2 1277.8 258 1277.5 258.8 1277.9 259.5 1277.6 260.2 1277.2 261 1277.1 261.8 1277 262.5 1276.9 263.2 1276.2 264 1276.2 264.8 1276.5 265.5 1275.6 266.2 1275.8 267 1275.4 267.8 1275.7 268.5 1274.8 269.2 1274.3 270 1274.3 270.8 1273.9 271.5 1274.2 272.2 1274.8 273 1274.6 273.8 1274.3 274.5 1274.1 275.2 1273.6 276 1272.6 276.8 1272.4 277.5 1273.4 278.2 1272.3 279 1273.8 279.8 1272.5 280.5 1272.8 281.2 1272.6 282 1272.2 282.8 1272.7 283.5 1272.8 284.2 1272.6 285 1272.7 285.8 1272.2 286.5 1272.9 287.2 1271.8 288 1271.4 288.8 1271.2 289.5 1271.3 290.2 1272 291 1271.4 291.8 1271.2 292.5 1271.4 293.2 1270.7 294 1270.8 294.8 1270.4 295.5 1269.4 296.2 1270.5 297 1269.9 297.8 1269.6 298.5 1269.1 299.2 1269.9 300 1268.9 300.8 1270.9 301.5 1269.5 302.2 1270.5 303 1270.3 303.8 1270.4 304.5 1269.7 305.2 1268.6 306 1270.3 306.8 1269.1 307.5 1268.7 308.2 1269.8 309 1269.1 309.8 1269.1 310.5 1270.2 311.2 1270 312 1270.4 312.8 1269.4 313.5 1269.9 314.2 1269.5 315 1269 315.8 1269.3 316.5 1270.1 317.2 1269.5 318 1268.8 318.8 1269.1 319.5 1269.1 320.2 1269.3 321 1268.2 321.8 1268.6 322.5 1269 323.2 1269.4 324 1268.9 324.8 1269.5 325.5 1269.2 326.2 1268.4 327 1268.3 327.8 1268 328.5 1267.4 329.2 1268 330 1267.3 330.8 1268.5 331.5 1266.9 332.2 1268.6 333 1268 333.8 1267.6 334.5 1268.6 335.2 1268.4 336 1267.8 336.8 1266.9 337.5 1266.2 338.2 1268.6 339 1268.3 339.8 1268.9 340.5 1267.5 341.2 1268.6 342 1268.5 342.8 1269.1 343.5 1269.6 344.2 1268.7 345 1269.9 345.8 1269.5 346.5 1268.2 347.2 1269.5 348 1269.2 348.8 1268.9 349.5 1269.3 350.2 1269.7 351 1269.7 351.8 1270.2 352.5 1269.7 353.2 1268.5 354 1268.1 354.8 1267.9 355.5 1267.6 356.2 1268.7 357 1269.5 357.8 1269.5 358.5 1269.3 359.2 1270.1 360 1269.9 360.8 1269.5 361.5 1269.8 362.2 1269 363 1270.6 363.8 1269.9 364.5 1268.3 365.2 1269.5 366 1269.5 366.8 1270.1 367.5 1269.7 368.2 1269.9 369 1269.4 369.8 1270 370.5 1268.5 371.2 1269.3 372 1269.4 372.8 1268.9 373.5 1269.4 374.2 1269.4 375 1269.4 375.8 1269.2 376.5 1269.1 377.2 1268.9 378 1268 378.8 1268.2 379.5 1268 380.2 1267.9 381 1267.9 381.8 1267.8 382.5 1266.9 383.2 1267.6 384 1268.7 384.8 1268.9 385.5 1267.1 386.2 1267.9 387 1268.5 387.8 1267.4 388.5 1268 389.2 1268.7 390 1267.8 390.8 1266.8 391.5 1267.7 392.2 1266.4 393 1267.3 393.8 1266.5 394.5 1267.4 395.2 1267 396 1267.6 396.8 1267.8 397.5 1268.6 398.2 1268.1 399 1268.8 399.8 1268.2 400.5 1267.3 401.2 1267.9 402 1267.1 402.8 1268 403.5 1267.4 404.2 1267.4 405 1268.7 405.8 1267.5 406.5 1268.1 407.2 1267.7 408 1268.5 408.8 1267.8 409.5 1266.3 410.2 1267.7 411 1269.3 411.8 1267.9 412.5 1268.2 413.2 1268.2 414 1268.8 414.8 1267.5 415.5 1267.1 416.2 1267.1 417 1266.7 417.8 1267 418.5 1268.5 419.2 1267.2 420 1266.7 420.8 1267.9 421.5 1267.5 422.2 1266.9 423 1267.2 423.8 1267.9 424.5 1268.1 425.2 1268.8 426 1268.5 426.8 1267.7 427.5 1268.4 428.2 1267.3 429 1268 429.8 1269.4 430.5 1267.6 431.2 1267.7 432 1268.6 432.8 1268.1 433.5 1267.6 434.2 1267.3 435 1267.3 435.8 1268.3 436.5 1267.7 437.2 1268 438 1268.6 438.8 1267.4 439.5 1267 440.2 1268.2 441 1268.4 441.8 1268.2 442.5 1268.8 443.2 1267.7 444 1268.4 444.8 1268.5 445.5 1268 446.2 1268.2 447 1266.3 447.8 1267.6 448.5 1268.2 449.2 1267.2 450 1266.5 450.8 1267.5 451.5 1266.2 452.2 1267.2 453 1266.1 453.8 1267.1 454.5 1266.5 455.2 1265.4 456 1266.3 456.8 1266 457.5 1266.3 458.2 1264.8 459 1266.7 459.8 1265.3 460.5 1264.8 461.2 1265.9 462 1265.2 462.8 1265.8 463.5 1266.9 464.2 1265.5 465 1266.3 465.8 1266.4 466.5 1266.2 467.2 1264.8 468 1265.4 468.8 1265.6 469.5 1265.4 470.2 1264.3 471 1265.4 471.8 1265.6 472.5 1265 473.2 1264 474 1265.5 474.8 1265 475.5 1263.9 476.2 1264.6 477 1266.3 477.8 1265.3 478.5 1266.2 479.2 1265.8 480 1265.1 480.8 1265.7 481.5 1264.7 482.2 1266.8 483 1265.8 483.8 1268 484.5 1266.3 485.2 1267.1 486 1266.8 486.8 1266.6 487.5 1267.4 488.2 1267.1 489 1269.6 489.8 1268.3 490.5 1267.3 491.2 1268.5 492 1268.4 492.8 1268.7 493.5 1268.6 494.2 1268.5 495 1268.2 495.8 1268.9 496.5 1269 497.2 1268.7 498 1268.9 498.8 1270.2 499.5 1268.7 500.2 1268.6 501 1269.9 501.8 1269.5 502.5 1269 503.2 1268.9 504 1269 504.8 1269.5 505.5 1269.5 506.2 1270.3 507 1268.8 507.8 1269.6 508.5 1269.9 509.2 1269.6 510 1268.8 510.8 1268.8 511.5 1269.4 512.2 1269.7 513 1269.5 513.8 1269.6 514.5 1270.7 515.2 1270.1 516 1270.2 516.8 1270.9 517.5 1270.4 518.2 1270.2 519 1270 519.8 1270.8 520.5 1269.8 521.2 1270.9 522 1270.9 522.8 1270.5 523.5 1270.8 524.2 1269.9 525 1271.3 525.8 1270.3 526.5 1270.9 527.2 1271.4 528 1271.3 528.8 1271.5 529.5 1271.9 530.2 1270.8 531 1271.3 531.8 1271.7 532.5 1271.8 533.2 1271.7 534 1272 534.8 1271.5 535.5 1271.8 536.2 1272.5 537 1272 537.8 1272.5 538.5 1270.7 539.2 1271.3 540 1271.1 540.8 1272 541.5 1272.6 542.2 1271.4 543 1272.2 543.8 1272.9 544.5 1271.7 545.2 1273.3 546 1271.5 546.8 1271.7 547.5 1271.5 548.2 1272.2 549 1271 549.8 1272.1 550.5 1272.4 551.2 1271.9 552 1271.8 552.8 1271.7 553.5 1272.3 554.2 1271.8 555 1271.8 555.8 1271.6 556.5 1272.8 557.2 1272.9 558 1272.8 558.8 1271.8 559.5 1272.7 560.2 1273 561 1273.3 561.8 1272.8 562.5 1272.7 563.2 1274.2 564 1273.1 564.8 1273 565.5 1273.3 566.2 1273.7 567 1273.2 567.8 1273.5 568.5 1273.2 569.2 1272.9 570 1273 570.8 1273.2 571.5 1271.8 572.2 1273.1 573 1272.5 573.8 1272.5 574.5 1272.9 575.2 1272.6 576 1272.9 576.8 1273 577.5 1272.2 578.2 1272.7 579 1274.3 579.8 1273.3 580.5 1273.7 581.2 1274.1 582 1273.9 582.8 1274 583.5 1273.4 584.2 1273.7 585 1274.4 585.8 1274.1 586.5 1274.3 587.2 1274.4 588 1274.1 588.8 1274.2 589.5 1273.7 590.2 1274.4 591 1273.8 591.8 1274.3 592.5 1274.5 593.2 1275 594 1274 594.8 1274.6 595.5 1273.8 596.2 1274.6 597 1274.6 597.8 1274.5 598.5 1274.5 599.2 1274.5 600 1274.9 600.8 1274.7 601.5 1275.4 602.2 1274.8 603 1274.7 603.8 1274 604.5 1274.1 605.2 1275.3 606 1275.2 606.8 1273.6 607.5 1274.9 608.2 1274 609 1273.5 609.8 1274.2 610.5 1274.4 611.2 1274.2 612 1274.1 612.8 1274.4 613.5 1274.2 614.2 1274.6 615 1275 615.8 1274.3 616.5 1274.1 617.2 1275.3 618 1274.9 618.8 1274.6 619.5 1275.9 620.2 1275.9 621 1275.5 621.8 1275.4 622.5 1274.6 623.2 1275.1 624 1274.1 624.8 1274.6 625.5 1275.6 626.2 1275.2 627 1274.6 627.8 1275.1 628.5 1275.5 629.2 1275.4 630 1275.4 630.8 1275.4 631.5 1275.1 632.2 1275.9 633 1274.9 633.8 1275.5 634.5 1275.3 635.2 1275.7 636 1275.9 636.8 1275.7 637.5 1275.9 638.2 1275.9 639 1274.8 639.8 1275.3 640.5 1275.9 641.2 1276 642 1275.9 642.8 1275.1 643.5 1275.3 644.2 1275.7 645 1275.9 645.8 1275.5 646.5 1275.6 647.2 1276 648 1276.2 648.8 1275.8 649.5 1275.7 650.2 1275.5 651 1275.9 651.8 1275.8 652.5 1275.9 653.2 1276.5 654 1276.3 654.8 1275.9 655.5 1276.4 656.2 1275.7 657 1276.5 657.8 1276.3 658.5 1276.7 659.2 1277 660 1276.3 660.8 1276.9 661.5 1276.6 662.2 1276.9 663 1276.7 663.8 1277.1 664.5 1276.9 665.2 1276.9 666 1277 666.8 1276.8 667.5 1277.4 668.2 1277.1 669 1277.5 669.8 1277 670.5 1276.9 671.2 1277.6 672 1277.6 672.8 1277.2 673.5 1277.3 674.2 1277.4 675 1277 675.8 1277.3 676.5 1277 677.2 1277.7 678 1277 678.8 1277.4 679.5 1277.2 680.2 1277.4 681 1277.5 681.8 1277.4 682.5 1277.8 683.2 1277.8 684 1277.9 684.8 1277.8 685.5 1277.5 686.2 1277.7 687 1277.9 687.8 1278 688.5 1278.1 689.2 1277.8 690 1277.9 690.8 1277.7 691.5 1277.8 692.2 1277.5 693 1277.7 693.8 1278.1 694.5 1278.1 695.2 1277.8 696 1277.7 696.8 1278 697.5 1277.8 698.2 1278.4 699 1277.7 699.8 1278.2 700.5 1278.5 701.2 1278 702 1278 702.8 1278.2 703.5 1278.3 704.2 1278.5 705 1278.4 705.8 1278.5 706.5 1278.5 707.2 1278.5 708 1278.5 708.8 1278.5 709.5 1278.4 710.2 1278.1 711 1278.3 711.8 1278.2 712.5 1278.6 713.2 1278.3 714 1278.2 714.8 1278.6 715.5 1278.6 716.2 1278.4 717 1278.6 717.8 1278.4 718.5 1278.4 719.2 1278.5 720 1278.9 720.8 1278.7 721.5 1278.8 722.2 1278.3 723 1278.2 723.8 1278.5 724.5 1278.5 725.2 1278.3 726 1278.7 726.8 1279 727.5 1278.7 728.2 1278.5 729 1278.6 729.8 1278.5 730.5 1278.3 731.2 1278.4 732 1278.4 732.8 1278.4 733.5 1278.4 734.2 1278.4 735 1278.5 735.8 1278.6 736.5 1278.6 737.2 1278.4 738 1278.6 738.8 1278.6 739.5 1279.2 740.2 1278.7 741 1278.8 741.8 1278.9 742.5 1278.9 743.2 1278.5 744 1278.8 744.8 1278.6 745.5 1278.9 746.2 1278.7 747 1278.7 747.8 1278.8 748.5 1279.2 749.2 1279.2 750 1279.1 750.8 1278.9 751.5 1279 752.2 1278.9 753 1278.9 753.8 1279.1 754.5 1279.1 755.2 1279 756 1278.9 756.8 1279 757.5 1278.9 758.2 1278.9 759 1279 759.8 1279.2 760.5 1279.3 761.2 1279.4 762 1279.2 762.8 1279.2 763.5 1279 764.2 1279.3 765 1279.6 765.8 1279.4 766.5 1279.5 767.2 1279.5 768 1279.5 768.8 1279.5 769.5 1279.3 770.2 1279.3 771 1279.5 771.8 1279.3 772.5 1279.4 773.2 1279.2 774 1279.3 774.8 1279.3 775.5 1279.5 776.2 1279.4 777 1279.2 777.8 1279.3 778.5 1279.2 779.2 1279.4 780 1279.4 780.8 1279.2 781.5 1279.5 782.2 1279.5 783 1279.4 783.8 1279.5 784.5 1279.8 785.2 1279.4 786 1279.4 786.8 1279.5 787.5 1279.5 788.2 1279.4 789 1279.4 789.8 1279.4 790.5 1279.6 791.2 1279.3 792 1279.7 792.8 1279.4 793.5 1279.4 794.2 1279.4 795 1279.6 795.8 1279.5 796.5 1279.7 797.2 1279.6 798 1279.5 798.8 1279.4 799.5 1279.6 800.2 1279.5 801 1279.5 801.8 1279.5 802.5 1279.6 803.2 1279.5 804 1279.5 804.8 1279.6 805.5 1279.5 806.2 1279.5 807 1279.4 807.8 1279.5 808.5 1279.4 809.2 1279.3 810 1279.3 810.8 1279.3 811.5 1279.5 812.2 1279.3 813 1279.4 813.8 1279.3 814.5 1279.4 815.2 1279.5 816 1279.5 816.8 1279.6 817.5 1279.4 818.2 1279.4 819 1279.4 819.8 1279.5 820.5 1279.5 821.2 1279.5 822 1279.3 822.8 1279.4 823.5 1279.3 824.2 1279.5 825 1279.2 825.8 1279.3 826.5 1279.5 827.2 1279.4 828 1279.2 828.8 1279.6 829.5 1279.5 830.2 1279.4 831 1279.4 831.8 1279.4 832.5 1279.4 833.2 1279.4 834 1279.5 834.8 1279.4 835.5 1279.5 836.2 1279.5 837 1279.6 837.8 1279.5 838.5 1279.7 839.2 1279.4 840 1279.5 840.8 1279.5 841.5 1279.5 842.2 1279.5 843 1279.7 843.8 1279.5 844.5 1279.5 845.2 1279.4 846 1279.5 846.8 1279.8 847.5 1279.6 848.2 1279.5 849 1279.7 849.8 1279.6 850.5 1279.7 851.2 1279.5 852 1279.6 852.8 1279.8 853.5 1279.7 854.2 1279.6 855 1279.7 855.8 1279.7 856.5 1279.6 857.2 1279.5 858 1279.6 858.8 1279.7 859.5 1279.6 860.2 1279.7 861 1279.5 861.8 1279.6 862.5 1279.5 863.2 1279.5 864 1279.8 864.8 1279.6 865.5 1279.8 866.2 1279.6 867 1279.5 867.8 1279.7 868.5 1279.7 869.2 1279.8 870 1279.7 870.8 1279.7 871.5 1279.7 872.2 1279.7 873 1279.6 873.8 1279.6 874.5 1279.8 875.2 1279.6 876 1279.8 876.8 1279.8 877.5 1279.7 878.2 1279.6 879 1279.7 879.8 1279.6 880.5 1279.7 881.2 1279.6 882 1279.6 882.8 1279.5 883.5 1279.5 884.2 1279.5 885 1279.4 885.8 1279.5 886.5 1279.5 887.2 1279.4 888 1279.5 888.8 1279.6 889.5 1279.4 890.2 1279.5 891 1279.4 891.8 1279.4 892.5 1279.5 893.2 1279.6 894 1279.6 894.8 1279.5 895.5 1279.5 896.2 1279.5 897 1279.5 897.8 1279.6 898.5 1279.6 899.2 1279.4 900 1279.6 900.8 1279.7 901.5 1279.5 902.2 1279.8 903 1279.7 903.8 1279.7 904.5 1279.4 905.2 1279.5 906 1279.5 906.8 1279.5 907.5 1279.5 908.2 1279.5 909 1279.5 909.8 1279.4 910.5 1279.7 911.2 1279.6 912 1279.4 912.8 1279.5 913.5 1279.6 914.2 1279.8 915 1279.6 915.8 1279.7 916.5 1279.8 917.2 1279.6 918 1279.5 918.8 1279.5 919.5 1279.4 920.2 1279.6 921 1279.7 921.8 1279.6 922.5 1279.8 923.2 1279.6 924 1279.8 924.8 1279.8 925.5 1279.9 926.2 1279.8 927 1279.8 927.8 1279.8 928.5 1279.8 929.2 1279.8 930 1279.6 930.8 1279.7 931.5 1279.7 932.2 1279.7 933 1279.8 933.8 1279.7 934.5 1279.7 935.2 1279.8 936 1279.7 936.8 1279.7 937.5 1279.8 938.2 1279.7 939 1279.9 939.8 1279.7 940.5 1279.8 941.2 1279.8 942 1279.8 942.8 1279.9 943.5 1279.8 944.2 1279.9 945 1279.8 945.8 1279.8 946.5 1279.8 947.2 1279.8 948 1279.7 948.8 1279.6 949.5 1279.8 950.2 1279.8 951 1279.7 951.8 1279.8 952.5 1279.7 953.2 1279.8 954 1279.7 954.8 1279.8 955.5 1279.8 956.2 1279.7 957 1279.8 957.8 1279.7 958.5 1279.7 959.2 1279.7 960 1279.8 960.8 1279.8 961.5 1279.7 962.2 1279.7 963 1279.7 963.8 1279.6 964.5 1279.7 965.2 1279.7 966 1279.6 966.8 1279.8 967.5 1279.7 968.2 1279.8 969 1279.7 969.8 1279.8 970.5 1279.8 971.2 1279.7 972 1279.7 972.8 1279.7 973.5 1279.6 974.2 1279.7 975 1279.7 975.8 1279.6 976.5 1279.5 977.2 1279.5 978 1279.5 978.8 1279.6 979.5 1279.7 980.2 1279.8 981 1279.8 981.8 1279.7 982.5 1279.6 983.2 1279.6 984 1279.8 984.8 1279.7 985.5 1279.7 986.2 1279.7 987 1279.9 987.8 1279.8 988.5 1279.7 989.2 1279.7 990 1279.6 990.8 1279.7 991.5 1279.7 992.2 1279.7 993 1279.6 993.8 1279.7 994.5 1279.7 995.2 1279.7 996 1279.7 996.8 1279.6 997.5 1279.7 998.2 1279.8 999 1279.8 999.8 1279.7 1000.5 1279.7 1001.2 1279.8 1002 1279.7 1002.8 1279.8 1003.5 1279.7 1004.2 1279.8 1005 1279.7 1005.8 1279.7 1006.5 1279.6 1007.2 1279.7 1008 1279.7 1008.8 1279.6 1009.5 1279.6 1010.2 1279.7 1011 1279.6 1011.8 1279.7 1012.5 1279.7 1013.2 1279.7 1014 1279.6 1014.8 1279.7 1015.5 1279.8 1016.2 1279.7 1017 1279.6 1017.8 1279.8 1018.5 1279.8 1019.2 1279.8 1020 1279.8 1020.8 1279.7 1021.5 1279.7 1022.2 1279.6 1023 1279.6 1023.8 1279.7 1024.5 1279.7 1025.2 1279.7 1026 1279.6 1026.8 1279.6 1027.5 1279.8 1028.2 1279.8 1029 1279.8 1029.8 1279.8 1030.5 1279.7 1031.2 1279.8 1032 1279.7 1032.8 1279.7 1033.5 1279.7 1034.2 1279.7 1035 1279.7 1035.8 1279.7 1036.5 1279.8 1037.2 1279.7 1038 1279.6 1038.8 1279.8 1039.5 1279.6 1040.2 1279.6 1041 1279.6 1041.8 1279.6 1042.5 1279.8 1043.2 1279.8 1044 1279.7 1044.8 1279.8 1045.5 1279.7 1046.2 1279.8 1047 1279.8 1047.8 1279.8 1048.5 1279.8 1049.2 1279.8 1050 1279.8 1050.8 1279.7 1051.5 1280 1052.2 1279.8 1053 1279.8 1053.8 1279.8 1054.5 1279.7 1055.2 1279.7 1056 1279.8 1056.8 1279.8 1057.5 1279.8 1058.2 1279.8 1059 1279.8 1059.8 1279.7 1060.5 1279.8 1061.2 1279.8 1062 1279.8 1062.8 1279.8 1063.5 1279.8 1064.2 1279.7 1065 1279.9 1065.8 1279.8 1066.5 1279.7 1067.2 1279.7 1068 1279.7 1068.8 1279.7 1069.5 1279.7 1070.2 1279.8 1071 1279.7 1071.8 1279.7 1072.5 1279.8 1073.2 1279.8 1074 1279.8 1074.8 1279.8 1075.5 1279.8 1076.2 1279.7 1077 1279.8 1077.8 1279.7 1078.5 1279.8 1079.2 1279.9 1080 1279.9 1080.8 1280 1081.5 1279.9 1082.2 1279.9 1083 1279.9 1083.8 1279.9 1084.5 1279.9 1085.2 1279.8 1086 1279.9 1086.8 1279.8 1087.5 1279.8 1088.2 1279.8 1089 1279.8 1089.8 1279.8 1090.5 1279.9 1091.2 1279.9 1092 1279.9 1092.8 1279.8 1093.5 1279.9 1094.2 1279.8 1095 1279.8 1095.8 1279.7 1096.5 1279.9 1097.2 1279.9 1098 1279.9 1098.8 1279.7 1099.5 1279.8 1100.2 1279.7 1101 1279.8 1101.8 1279.8 1102.5 1279.8 1103.2 1279.8 1104 1279.7 1104.8 1279.8 1105.5 1279.8 1106.2 1279.7 1107 1279.8 1107.8 1279.7 1108.5 1279.8 1109.2 1279.7 1110 1279.8 1110.8 1279.8 1111.5 1279.9 1112.2 1279.8 1113 1279.8 1113.8 1279.8 1114.5 1279.7 1115.2 1279.8 1116 1279.8 1116.8 1279.8 1117.5 1279.8 1118.2 1279.9 1119 1279.8 1119.8 1279.7 1120.5 1279.7 1121.2 1279.8 1122 1279.7 1122.8 1279.8 1123.5 1279.7 1124.2 1279.8 1125 1279.8 1125.8 1279.7 1126.5 1279.7 1127.2 1279.8 1128 1279.7 1128.8 1279.9 1129.5 1279.8 1130.2 1279.9 1131 1279.9 1131.8 1279.8 1132.5 1279.8 1133.2 1279.9 1134 1279.9 1134.8 1279.9 1135.5 1279.8 1136.2 1279.8 1137 1279.8 1137.8 1279.8 1138.5 1279.8 1139.2 1279.8 1140 1279.8 1140.8 1279.8 1141.5 1279.8 1142.2 1279.8 1143 1279.9 1143.8 1279.9 1144.5 1279.8 1145.2 1279.7 1146 1279.9 1146.8 1279.9 1147.5 1279.8 1148.2 1279.8 1149 1279.8 1149.8 1279.8 1150.5 1279.7 1151.2 1279.8 1152 1279.7 1152.8 1279.7 1153.5 1279.8 1154.2 1279.8 1155 1279.9 1155.8 1279.8 1156.5 1279.9 1157.2 1279.9 1158 1279.9 1158.8 1279.9 1159.5 1279.8 1160.2 1279.9 1161 1279.8 1161.8 1279.8 1162.5 1279.8 1163.2 1279.7 1164 1279.8 1164.8 1279.8 1165.5 1279.8 1166.2 1279.8 1167 1279.8 1167.8 1279.9 1168.5 1279.9 1169.2 1279.8 1170 1279.9 1170.8 1279.8 1171.5 1279.8 1172.2 1279.8 1173 1279.9 1173.8 1279.8 1174.5 1279.9 1175.2 1279.9 1176 1279.9 1176.8 1280 1177.5 1280 1178.2 1279.9 1179 1280 1179.8 1280 1180.5 1280 1181.2 1279.9 1182 1279.9 1182.8 1280 1183.5 1280 1184.2 1280 1185 1279.9 1185.8 1279.9 1186.5 1279.9 1187.2 1279.9 1188 1279.9 1188.8 1279.9 1189.5 1279.9 1190.2 1279.8 1191 1279.8 1191.8 1279.8 1192.5 1279.8 1193.2 1279.9 1194 1279.9 1194.8 1279.8 1195.5 1279.9 1196.2 1279.9 1197 1279.9 1197.8 1279.9 1198.5 1279.9 1199.2 1279.8 1200 1279.8 1200.8 1279.9 1201.5 1279.8 1202.2 1279.9 1203 1279.8 1203.8 1279.9 1204.5 1279.9 1205.2 1279.8 1206 1279.8 1206.8 1279.8 1207.5 1279.7 1208.2 1279.8 1209 1279.8 1209.8 1279.9 1210.5 1279.9 1211.2 1279.8 1212 1279.8 1212.8 1279.9 1213.5 1279.8 1214.2 1279.8 1215 1279.8 1215.8 1279.9 1216.5 1279.8 1217.2 1279.8 1218 1279.8 1218.8 1279.8 1219.5 1279.8 1220.2 1279.9 1221 1279.8 1221.8 1279.8 1222.5 1279.8 1223.2 1279.8 1224 1279.8 1224.8 1279.9 1225.5 1279.9 1226.2 1279.9 1227 1279.8 1227.8 1279.8 1228.5 1279.8 1229.2 1279.8 1230 1279.8 1230.8 1279.9 1231.5 1279.9 1232.2 1279.8 1233 1279.9 1233.8 1279.9 1234.5 1280 1235.2 1279.9 1236 1279.9 1236.8 1279.9 1237.5 1279.9 1238.2 1279.9 1239 1279.9 1239.8 1279.9 1240.5 1279.9 1241.2 1280 1242 1280 1242.8 1279.9 1243.5 1279.9 1244.2 1279.9 1245 1279.9 1245.8 1279.9 1246.5 1279.9 1247.2 1279.9 1248 1279.9 1248.8 1279.9 1249.5 1279.9 1250.2 1279.9 1251 1280 1251.8 1279.9 1252.5 1279.9 1253.2 1279.9 1254 1279.9 1254.8 1279.9 1255.5 1280 1256.2 1279.9 1257 1279.8 1257.8 1279.9 1258.5 1279.9 1259.2 1279.9 1260 1280 1260.8 1279.9 1261.5 1279.9 1262.2 1280 1263 1279.9 1263.8 1280 1264.5 1279.9 1265.2 1280 1266 1279.9 1266.8 1279.9 1267.5 1279.9 1268.2 1280 1269.8 1280 1270.5 1279.9 1271.2 1279.9 1272 1280 1272.8 1279.9 1273.5 1279.9 1274.2 1280 1275 1279.9 1275.8 1279.9 1276.5 1279.9 1277.2 1279.9 1278 1279.9 1278.8 1279.9 1279.5 1279.9 1280.2 1280 1281 1279.9 1281.8 1279.9 1282.5 1279.9 1283.2 1279.9 1284 1280 1284.8 1280 1285.5 1279.9 1286.2 1279.9 1287 1279.9 1287.8 1279.9 1288.5 1279.9 1289.2 1279.9 1290 1279.9 1290.8 1279.9 1291.5 1279.9 1292.2 1280 1293 1279.9 1293.8 1279.9 1294.5 1279.9 1295.2 1280 1296 1279.9 1296.8 1279.9 1297.5 1279.9 1298.2 1279.9 1299 1279.9 1299.8 1280 1300.5 1280 1301.2 1279.9 1302 1279.9 1302.8 1279.9 1303.5 1279.9 1304.2 1279.9 1305 1279.9 1305.8 1279.9 1306.5 1280 1307.2 1279.9 1308 1279.9 1308.8 1279.9 1309.5 1280 1310.2 1279.8 1311 1279.9 1311.8 1280 1312.5 1279.9 1313.2 1279.9 1314 1279.9 1314.8 1279.9 1315.5 1280 1316.2 1279.9 1317 1279.9 1317.8 1279.9 1318.5 1279.9 1319.2 1279.9 1320 1279.9 1320.8 1279.9 1321.5 1280 1322.2 1279.9 1323 1279.9 1323.8 1279.9 1324.5 1279.9 1325.2 1279.9 1326 1279.9 1326.8 1279.9 1327.5 1279.9 1328.2 1279.9 1329 1280 1329.8 1279.9 1330.5 1279.9 1331.2 1279.9 1332 1279.9 1332.8 1279.9 1333.5 1279.8 1334.2 1279.9 1335 1279.9 1335.8 1279.9 1336.5 1279.9 1337.2 1279.9 1338 1280 1338.8 1279.9 1339.5 1279.9 1340.2 1279.8 1341 1279.9 1341.8 1279.8 1342.5 1279.9 1343.2 1279.9 1344 1279.8 1344.8 1279.9 1345.5 1279.9 1346.2 1279.9 1347 1279.9 1347.8 1279.9 1348.5 1279.9 1349.2 1279.9 1350 1280 1350.8 1279.9 1351.5 1279.9 1352.2 1280 1353 1280 1353.8 1280 1354.5 1280 1355.2 1279.9 1356 1279.9 1356.8 1280 1357.5 1280 1358.2 1279.9 1359 1280 1359.8 1279.9 1360.5 1279.9 1361.2 1279.9 1362 1279.9 1362.8 1279.9 1363.5 1279.9 1364.2 1279.9 1365 1279.9 1365.8 1279.9 1366.5 1279.9 1367.2 1280 1368 1279.9 1368.8 1279.9 1369.5 1279.9 1370.2 1280 1371 1279.9 1371.8 1280 1372.5 1279.9 1373.2 1280 1374 1280 1374.8 1279.9 1375.5 1280 1376.2 1279.9 1377 1279.9 1377.8 1279.9 1378.5 1279.9 1379.2 1279.9 1380 1279.9 1380.8 1279.9 1381.5 1279.9 1382.2 1279.9 1383 1279.9 1383.8 1279.9 1384.5 1279.9 1385.2 1279.9 1386 1279.9 1386.8 1279.9 1387.5 1279.9 1388.2 1279.9 1389 1280 1389.8 1279.9 1390.5 1280 1391.2 1280 1392 1280 1392.8 1280 1393.5 1280 1395 1280 1395.8 1280 1396.5 1280 1397.2 1280 1398 1280 1398.8 1280 1399.5 1280 1400.2 1279.9 1401 1279.9 1401.8 1280 1402.5 1279.9 1403.2 1280 1404 1280 1404.8 1280 1405.5 1279.9 1406.2 1280 1407 1280 1407.8 1279.9 1408.5 1280 1409.2 1280 1410 1280 1410.8 1280 1411.5 1279.9 1412.2 1280 1413 1280 1413.8 1280 1414.5 1280 1415.2 1280 1416 1280 1416.8 1280 1417.5 1280 1418.2 1279.9 1419 1279.9 1419.8 1279.9 1420.5 1280 1421.2 1280 1422 1279.9 1422.8 1280 1423.5 1280 1424.2 1280 1425 1280 1425.8 1279.9 1426.5 1279.9 1427.2 1280 1428 1280 1428.8 1280 1429.5 1279.9 1430.2 1280 1431 1280 1431.8 1280 1432.5 1280 1433.2 1279.9 1434 1280 1434.8 1280 1435.5 1279.9 1436.2 1280 1437 1280 1437.8 1280 1438.5 1280 1439.2 1280 1440 1280 1440.8 1280 1441.5 1279.9 1442.2 1280 1443 1279.9 1443.8 1279.9 1444.5 1280 1445.2 1280 1446 1280 1446.8 1280 1447.5 1280 1448.2 1280 1449 1280 1449.8 1280 1450.5 1279.9 1451.2 1280 1452 1280 1452.8 1280 1453.5 1280 1454.2 1280 1455 1280 1455.8 1280 1456.5 1280 1457.2 1280 1458 1280 1458.8 1280 1459.5 1280 1460.2 1280 1461 1280 1461.8 1280 1462.5 1280 1463.2 1280 1464 1280 1464.8 1280 1465.5 1280 1466.2 1280 1467 1280 1467.8 1280 1468.5 1280 1469.2 1280 1470 1280 1470.8 1280 1471.5 1279.9 1472.2 1280 1473 1280 1473.8 1280 1474.5 1280 1475.2 1280 1476 1279.9 1476.8 1280 1477.5 1280 1478.2 1280 1479 1280 1479.8 1280 1480.5 1280 1481.2 1279.9 1482 1280 1482.8 1280 1483.5 1280 1484.2 1279.9 1485 1280 1485.8 1280 1486.5 1280 1487.2 1280 1488 1280 1488.8 1280 1489.5 1280 1490.2 1280 1491 1280 1491.8 1280 1492.5 1280 1493.2 1280 1494 1280 1494.8 1280 1495.5 1280 1496.2 1280 1497 1280 1497.8 1280 1498.5 1280 1499.2 1280 1500 1280 1501.5 1280 1502.2 1280 1503 1280 1503.8 1280 1504.5 1280 1505.2 1280 1506.8 1280 1507.5 1280 1508.2 1280 1509 1280 1509.8 1280 1510.5 1280 1511.2 1280 1512 1280 1514.2 1280 1515 1280 1515.8 1280 1516.5 1280 1517.2 1280 1518 1280 1518.8 1280 1519.5 1280 1520.2 1280 1521 1280 1521.8 1280 1522.5 1280 1524.8 1280 1525.5 1280 1526.2 1280 1527 1280 1527.8 1280 1528.5 1280 1529.2 1280 1530 1280 1530.8 1280 1531.5 1280 1532.2 1280 1533 1280 1533.8 1280 1534.5 1280 1535.2 1280 1536 1280 1536.8 1280 1537.5 1280 1538.2 1280 1539 1280 1539.8 1280 1540.5 1280 1541.2 1280 1542 1280 1542.8 1280 1543.5 1280 1544.2 1280 1545 1280 1545.8 1280 1546.5 1280 1547.2 1280 1548 1280 1548.8 1280 1549.5 1280 1550.2 1280 1551 1280 1551.8 1280 1552.5 1280 1553.2 1280 1554 1280 1554.8 1280 1555.5 1280 1556.2 1280 1557 1280 1557.8 1280 1558.5 1280 1559.2 1280 1560 1280 1560.8 1280 1561.5 1280 1562.2 1280 1563 1280 1563.8 1280 1564.5 1280 1565.2 1280 1566 1280 1566.8 1280 1567.5 1280 1568.2 1280 1569 1280 1569.8 1280 1570.5 1280 1571.2 1280 1572 1280 1572.8 1280 1573.5 1280 1574.2 1280 1575 1280 1575.8 1280 1576.5 1280 1577.2 1280 1578 1280 1578.8 1280 1579.5 1280 1580.2 1280 1581 1280 1581.8 1280 1582.5 1280 1583.2 1280 1584 1280 1584.8 1280 1585.5 1280 1586.2 1280 1587 1280 1587.8 1280 1588.5 1280 1589.2 1280 1590 1280 1590.8 1280 1591.5 1280 1592.2 1280 1593 1280 1593.8 1280 1594.5 1280 1595.2 1280 1596 1280 1596.8 1280 1597.5 1280 1598.2 1280 1599 1280 1599.8 1280 1600.5 1280 1601.2 1280 1602 1280 1602.8 1280 1603.5 1280 1604.2 1280 1605 1280 1605.8 1280 1606.5 1280 1607.2 1280 1608 1280 1608.8 1280 1609.5 1280 1610.2 1280 1611 1280 1611.8 1280 1612.5 1280 1613.2 1280 1614 1280 1614.8 1280 1615.5 1280 1616.2 1280 1617 1280 1617.8 1280 1618.5 1280 1619.2 1280 1620 1280 1620.8 1280 1621.5 1280 1622.2 1280 1623 1280 1623.8 1280 1624.5 1280 1625.2 1280 1626 1280 1626.8 1280 1627.5 1280 1628.2 1280 1629.8 1280 1630.5 1280 1631.2 1280 1632 1280 1632.8 1280 1633.5 1280 1634.2 1280 1635 1280 1635.8 1280 1636.5 1280 1637.2 1280 1638 1280 1638.8 1280 1639.5 1280 1640.2 1280 1641 1280 1641.8 1280 1642.5 1280 1643.2 1280 1644 1280 1644.8 1280 1645.5 1280 1646.2 1280 1647 1280 1647.8 1280 1648.5 1280 1649.2 1280 1650 1280 1650.8 1280 1651.5 1280 1653 1280 1653.8 1280 1654.5 1280 1662 1280 1662.8 1280 1663.5 1280 1665.8 1280 1666.5 1280 1667.2 1280 1668 1280 1668.8 1280 1669.5 1280 1670.2 1280 1671 1280 1671.8 1280 1672.5 1280 1673.2 1280 1674 1280 1674.8 1280 1675.5 1280 1676.2 1280 1677 1280 1677.8 1280 1678.5 1280 1679.2 1280 1680 1280 1680.8 1280 1681.5 1280 1682.2 1280 1683 1280 1683.8 1280 1684.5 1280 1685.2 1280 1686 1280 1686.8 1280 1687.5 1280 1688.2 1280 1689 1280 1689.8 1280 1690.5 1280 1691.2 1280 1692 1280 1692.8 1280 1694.2 1280 1695 1280 1695.8 1280 1696.5 1280 1697.2 1280 1698 1280 1698.8 1280 1699.5 1280 1700.2 1280 1701 1280 1701.8 1280 1702.5 1280 1703.2 1280 1704 1280 1704.8 1280 1705.5 1280 1706.2 1280 1707 1280 1707.8 1280 1708.5 1280 1709.2 1280 1710 1280 1710.8 1280 1711.5 1280 1712.2 1280 1713 1280 1713.8 1280 1714.5 1280 1715.2 1280 1716 1280 1716.8 1280 1717.5 1280 1718.2 1280 1719 1280 1719.8 1280 1720.5 1280 1721.2 1280 1722 1280 1722.8 1280 1723.5 1280 1724.2 1280 1725 1280 1725.8 1280 1726.5 1280 1727.2 1280 1728 1280 1728.8 1280 1729.5 1280 1730.2 1280 1731 1280 1731.8 1280 1732.5 1280 1733.2 1280 1734 1280 1734.8 1280 1735.5 1280 1736.2 1280 1737 1280 1737.8 1280 1738.5 1280 1739.2 1280 1740 1280 1740.8 1280 1741.5 1280 1742.2 1280 1743 1280 1743.8 1280 1744.5 1280 1745.2 1280 1746 1280 1753.5 1280"/>
<path stroke="#472A68" d="M249 1280L249.8 1279.5 250.5 1278.8 251.2 1278.4 252 1277.5 252.8 1276.6 253.5 1276.5 254.2 1275.7 255 1275.6 255.8 1274.8 256.5 1274.2 257.2 1273 258 1273.1 258.8 1271.6 259.5 1272.3 260.2 1271.2 261 1271.2 261.8 1271.1 262.5 1270.9 263.2 1269.7 264 1269 264.8 1269 265.5 1268.6 266.2 1268.5 267 1267.4 267.8 1267.4 268.5 1267.8 269.2 1268.3 270 1266.4 270.8 1267.1 271.5 1267.2 272.2 1266.3 273 1264.5 273.8 1266.7 274.5 1264.6 275.2 1265.7 276 1264.8 276.8 1265.2 277.5 1266.4 278.2 1263.9 279 1263.9 279.8 1263.9 280.5 1263.6 281.2 1264.2 282 1263.9 282.8 1263.8 283.5 1263.5 284.2 1263.5 285 1264.5 285.8 1262.7 286.5 1263.7 287.2 1263.4 288 1263.8 288.8 1261.4 289.5 1262.9 290.2 1264 291 1263.6 291.8 1264.4 292.5 1261.9 293.2 1264.8 294 1263.5 294.8 1262.9 295.5 1262 296.2 1261.9 297 1261.6 297.8 1262 298.5 1261.5 299.2 1262.4 300 1261.5 300.8 1261.3 301.5 1260 302.2 1259.9 303 1258.5 303.8 1258.6 304.5 1256.7 305.2 1256 306 1255.7 306.8 1254 307.5 1252.7 308.2 1252.3 309 1251.3 309.8 1252.4 310.5 1253.7 311.2 1253.3 312 1251.5 312.8 1251.3 313.5 1251.9 314.2 1251.9 315 1249.1 315.8 1250.2 316.5 1250.7 317.2 1250.6 318 1252 318.8 1253 319.5 1251.8 320.2 1253.6 321 1253.1 321.8 1253.5 322.5 1254.2 323.2 1252.6 324 1250.7 324.8 1252.6 325.5 1252.7 326.2 1252 327 1252.9 327.8 1251.2 328.5 1252.8 329.2 1253.8 330 1252.8 330.8 1250.6 331.5 1251.2 332.2 1252.4 333 1250.2 333.8 1250.7 334.5 1249.8 335.2 1251.8 336 1251.4 336.8 1250.4 337.5 1247.9 338.2 1250.7 339 1248.5 339.8 1250.9 340.5 1250.7 341.2 1250.7 342 1249.8 342.8 1249.2 343.5 1249.9 344.2 1249.4 345 1246.5 345.8 1249.4 346.5 1250 347.2 1249.3 348 1251.1 348.8 1250 349.5 1251 350.2 1250.8 351 1250.9 351.8 1251.5 352.5 1250.2 353.2 1249.6 354 1249.4 354.8 1251 355.5 1248.8 356.2 1248.8 357 1250 357.8 1249.4 358.5 1249 359.2 1250.8 360 1249 360.8 1247.4 361.5 1248.1 362.2 1246.6 363 1248.5 363.8 1248.6 364.5 1248.8 365.2 1247.8 366 1248 366.8 1248.6 367.5 1248.1 368.2 1247.2 369 1245.4 369.8 1247.1 370.5 1247.9 371.2 1247 372 1247 372.8 1246.8 373.5 1246 374.2 1246.2 375 1244.9 375.8 1248.3 376.5 1245.8 377.2 1245.9 378 1246.3 378.8 1245.1 379.5 1245.3 380.2 1246.5 381 1247.3 381.8 1248.2 382.5 1246.8 383.2 1246.6 384 1245.4 384.8 1246.2 385.5 1245.5 386.2 1246.4 387 1247.6 387.8 1247.1 388.5 1247.2 389.2 1247 390 1248.9 390.8 1249 391.5 1249.7 392.2 1250.7 393 1248.6 393.8 1249.3 394.5 1248.8 395.2 1247.6 396 1250.3 396.8 1249.4 397.5 1248.6 398.2 1249.6 399 1250.1 399.8 1248.1 400.5 1248.7 401.2 1247.8 402 1249.6 402.8 1249.1 403.5 1249.2 404.2 1248.3 405 1249.8 405.8 1249.1 406.5 1248.9 407.2 1249.1 408 1249 408.8 1248.4 409.5 1247.8 410.2 1248.7 411 1249.4 411.8 1248.4 412.5 1246.9 413.2 1249.9 414 1248.3 414.8 1249.6 415.5 1249.1 416.2 1247.9 417 1248 417.8 1249.5 418.5 1248.2 419.2 1253.6 420 1250.7 420.8 1251 421.5 1250 422.2 1251.2 423 1252.2 423.8 1252.8 424.5 1251.6 425.2 1253.6 426 1252.6 426.8 1250.6 427.5 1253.2 428.2 1251.1 429 1252.8 429.8 1253 430.5 1252.3 431.2 1251.8 432 1252.8 432.8 1251.5 433.5 1250.7 434.2 1253 435 1250.8 435.8 1252.4 436.5 1249 437.2 1250.3 438 1251.1 438.8 1249.4 439.5 1251.9 440.2 1250.1 441 1247.8 441.8 1250.1 442.5 1247.4 443.2 1249.3 444 1249.9 444.8 1251.5 445.5 1248.6 446.2 1249.3 447 1247.6 447.8 1247.6 448.5 1248.9 449.2 1249.2 450 1248.6 450.8 1244.5 451.5 1248.1 452.2 1246.6 453 1246.3 453.8 1246.8 454.5 1246.3 455.2 1249.3 456 1249.2 456.8 1249.8 457.5 1249.2 458.2 1249.5 459 1251.4 459.8 1252.2 460.5 1251.3 461.2 1251.4 462 1252.1 462.8 1254.2 463.5 1253.7 464.2 1253.6 465 1253.8 465.8 1254.6 466.5 1254 467.2 1255.3 468 1255.8 468.8 1254.6 469.5 1256.2 470.2 1257.2 471 1254.7 471.8 1256 472.5 1253.4 473.2 1256 474 1253.6 474.8 1256.4 475.5 1256.1 476.2 1253.6 477 1254.6 477.8 1253.1 478.5 1256.9 479.2 1256.4 480 1254.7 480.8 1253.2 481.5 1254.5 482.2 1254.3 483 1254.9 483.8 1256.3 484.5 1254.8 485.2 1254.7 486 1254.2 486.8 1254 487.5 1255.3 488.2 1254.3 489 1254.4 489.8 1253.6 490.5 1254.4 491.2 1255.2 492 1255.5 492.8 1255.7 493.5 1256.7 494.2 1256.2 495 1258.1 495.8 1258.5 496.5 1258.9 497.2 1258.3 498 1259.6 498.8 1258.2 499.5 1259.1 500.2 1259.7 501 1258.9 501.8 1261.5 502.5 1260.4 503.2 1260.5 504 1261.5 504.8 1258.7 505.5 1261.2 506.2 1259.1 507 1259 507.8 1257.5 508.5 1260.1 509.2 1259.4 510 1258.9 510.8 1260.3 511.5 1261.9 512.2 1259.9 513 1260.6 513.8 1259.8 514.5 1260.2 515.2 1262.3 516 1261 516.8 1260.5 517.5 1261.9 518.2 1259.4 519 1260.7 519.8 1262 520.5 1260.1 521.2 1262.5 522 1263.6 522.8 1263.8 523.5 1261.8 524.2 1263.1 525 1262.6 525.8 1263.1 526.5 1265.2 527.2 1264.3 528 1263.9 528.8 1264.5 529.5 1263.7 530.2 1263.2 531 1263.7 531.8 1264.1 532.5 1263.3 533.2 1264.5 534 1263.7 534.8 1263.2 535.5 1263.5 536.2 1264.9 537 1263.9 537.8 1262.9 538.5 1261.2 539.2 1261.6 540 1261.2 540.8 1261.7 541.5 1261.1 542.2 1261.6 543 1259.4 543.8 1260.6 544.5 1261.3 545.2 1260.6 546 1260 546.8 1259.8 547.5 1259.6 548.2 1259 549 1260.3 549.8 1261.4 550.5 1260.3 551.2 1262 552 1260.7 552.8 1261 553.5 1262.1 554.2 1260.2 555 1260.9 555.8 1260.3 556.5 1261.2 557.2 1261 558 1260.8 558.8 1260.9 559.5 1260.9 560.2 1261.9 561 1262.2 561.8 1264.7 562.5 1261.9 563.2 1262 564 1260.6 564.8 1261.6 565.5 1261.3 566.2 1261.8 567 1262.4 567.8 1261.6 568.5 1261.3 569.2 1261.2 570 1261.2 570.8 1262 571.5 1259.9 572.2 1262.3 573 1261.9 573.8 1259.4 574.5 1261.1 575.2 1259.9 576 1259.4 576.8 1259.9 577.5 1261.2 578.2 1260.7 579 1261 579.8 1260.4 580.5 1261.5 581.2 1259.3 582 1261.4 582.8 1259.7 583.5 1260.1 584.2 1261.6 585 1258.6 585.8 1258.3 586.5 1258.1 587.2 1257 588 1258.5 588.8 1261.4 589.5 1258.4 590.2 1259 591 1259.6 591.8 1259.9 592.5 1257.5 593.2 1259.4 594 1260.4 594.8 1260.5 595.5 1257.7 596.2 1259.6 597 1260.4 597.8 1260.8 598.5 1259.8 599.2 1260.6 600 1260.8 600.8 1260.7 601.5 1261.2 602.2 1261.2 603 1260.1 603.8 1260.6 604.5 1260.1 605.2 1261.9 606 1261.5 606.8 1261.8 607.5 1261.5 608.2 1261.9 609 1260.2 609.8 1260.6 610.5 1259.2 611.2 1260.5 612 1260.4 612.8 1258.7 613.5 1258.7 614.2 1259.7 615 1261.3 615.8 1260 616.5 1260.3 617.2 1258.9 618 1263.7 618.8 1260.4 619.5 1259.8 620.2 1259.9 621 1262.1 621.8 1261 622.5 1261.5 623.2 1261.2 624 1260.7 624.8 1261.1 625.5 1262.7 626.2 1260.4 627 1261 627.8 1261.1 628.5 1261 629.2 1262.3 630 1261.9 630.8 1262 631.5 1262.5 632.2 1260.7 633 1262.9 633.8 1263.8 634.5 1265.1 635.2 1264.3 636 1265.4 636.8 1266.1 637.5 1265.9 638.2 1267.2 639 1267.6 639.8 1267.8 640.5 1268.4 641.2 1269.4 642 1268 642.8 1268.7 643.5 1268.4 644.2 1268.1 645 1268.9 645.8 1269.2 646.5 1268.8 647.2 1268.9 648 1269.4 648.8 1268.7 649.5 1269.4 650.2 1269.2 651 1268.5 651.8 1268.6 652.5 1269.3 653.2 1268.2 654 1268.6 654.8 1267.7 655.5 1269.5 656.2 1269.3 657 1268.2 657.8 1267.4 658.5 1267.8 659.2 1269 660 1268.4 660.8 1268.5 661.5 1269.3 662.2 1268.9 663 1268.5 663.8 1268 664.5 1267.9 665.2 1268 666 1268.6 666.8 1269.1 667.5 1268.6 668.2 1268.1 669 1268.6 669.8 1269.1 670.5 1268.4 671.2 1266.9 672 1267.8 672.8 1267.9 673.5 1268.4 674.2 1267.2 675 1267.6 675.8 1267.4 676.5 1269 677.2 1268.6 678 1269.1 678.8 1269.2 679.5 1268.5 680.2 1267.2 681 1269.2 681.8 1267.3 682.5 1268.6 683.2 1269 684 1268.4 684.8 1268.5 685.5 1268.7 686.2 1268.5 687 1268.8 687.8 1267.6 688.5 1268.1 689.2 1270 690 1268.8 690.8 1270.1 691.5 1271 692.2 1270.5 693 1269.7 693.8 1270.3 694.5 1270.3 695.2 1270.6 696 1271 696.8 1270.2 697.5 1270.5 698.2 1271.1 699 1270.4 699.8 1271.1 700.5 1271.8 701.2 1271.5 702 1271.3 702.8 1270.6 703.5 1271.1 704.2 1271.7 705 1271.5 705.8 1271.8 706.5 1273.6 707.2 1272 708 1271.6 708.8 1272.8 709.5 1272.9 710.2 1272.1 711 1272 711.8 1271.8 712.5 1272 713.2 1271.6 714 1272.9 714.8 1272.7 715.5 1271.7 716.2 1272.6 717 1272.2 717.8 1272.2 718.5 1273 719.2 1272.6 720 1272.9 720.8 1273 721.5 1273.3 722.2 1273.5 723 1273.1 723.8 1273.6 724.5 1274.2 725.2 1273.4 726 1274.3 726.8 1274.1 727.5 1274.6 728.2 1274.8 729 1274.8 729.8 1274.9 730.5 1275.1 731.2 1274.9 732 1275.7 732.8 1274.7 733.5 1274.3 734.2 1274.7 735 1274.3 735.8 1274.8 736.5 1274.7 737.2 1274.6 738 1274.6 738.8 1274.7 739.5 1274.5 740.2 1275.3 741 1276 741.8 1275.1 742.5 1274.9 743.2 1275.2 744 1275.4 744.8 1275.4 745.5 1275.7 746.2 1275.3 747 1275.3 747.8 1275.2 748.5 1274.8 749.2 1274.8 750 1274.3 750.8 1274.9 751.5 1275.1 752.2 1275.3 753 1275.5 753.8 1274.4 754.5 1275.4 755.2 1275.7 756 1275.2 756.8 1275.3 757.5 1275.8 758.2 1275.5 759 1275.3 759.8 1274.9 760.5 1275.2 761.2 1275.7 762 1275.8 762.8 1275.8 763.5 1276.3 764.2 1276.6 765 1275.2 765.8 1275.6 766.5 1275.3 767.2 1275.5 768 1276.1 768.8 1275 769.5 1275.1 770.2 1275.6 771 1275 771.8 1275.1 772.5 1275.5 773.2 1275.5 774 1275.6 774.8 1275.6 775.5 1274.9 776.2 1275.1 777 1275.7 777.8 1275 778.5 1275.5 779.2 1275.3 780 1275.7 780.8 1275.7 781.5 1274.9 782.2 1275.2 783 1275.2 783.8 1275.6 784.5 1275.2 785.2 1274.5 786 1275.4 786.8 1275.7 787.5 1275.2 788.2 1276.1 789 1276 789.8 1275.1 790.5 1275.6 791.2 1274.8 792 1275.4 792.8 1275 793.5 1275.5 794.2 1275.9 795 1275.9 795.8 1275.4 796.5 1275.4 797.2 1276 798 1275.6 798.8 1276.3 799.5 1275.6 800.2 1275.6 801 1275.6 801.8 1275.2 802.5 1275.6 803.2 1275.6 804 1275.4 804.8 1274.8 805.5 1275.1 806.2 1275 807 1275 807.8 1275 808.5 1274.9 809.2 1275.2 810 1275.1 810.8 1274.8 811.5 1275 812.2 1274.6 813 1274.9 813.8 1274.6 814.5 1275.6 815.2 1275.3 816 1275.3 816.8 1275 817.5 1275.3 818.2 1274.9 819 1275.6 819.8 1275.2 820.5 1275 821.2 1274.4 822 1275 822.8 1275.3 823.5 1274.5 824.2 1275 825 1275.4 825.8 1275.8 826.5 1275.1 827.2 1274 828 1274.9 828.8 1275.2 829.5 1274.4 830.2 1275.4 831 1274.8 831.8 1275.5 832.5 1274.7 833.2 1274.6 834 1274.2 834.8 1274.9 835.5 1274.6 836.2 1274.3 837 1274.5 837.8 1274.2 838.5 1275.1 839.2 1274.6 840 1274.2 840.8 1273.9 841.5 1274.6 842.2 1273.6 843 1273.7 843.8 1272.9 844.5 1273.6 845.2 1273.2 846 1272.7 846.8 1272.5 847.5 1273.4 848.2 1272.6 849 1273.2 849.8 1273.2 850.5 1273.5 851.2 1273.6 852 1273 852.8 1272.8 853.5 1272.4 854.2 1273.6 855 1273.6 855.8 1272.9 856.5 1273.8 857.2 1273.7 858 1273.7 858.8 1273.9 859.5 1273.7 860.2 1273.9 861 1274.8 861.8 1273.8 862.5 1274 863.2 1274 864 1274.6 864.8 1273.5 865.5 1274.9 866.2 1274.1 867 1274.6 867.8 1274.7 868.5 1274.1 869.2 1274.3 870 1274.7 870.8 1274.3 871.5 1273.7 872.2 1274.9 873 1274.3 873.8 1275 874.5 1274.8 875.2 1274.3 876 1275.4 876.8 1275.5 877.5 1275.8 878.2 1275.4 879 1275.4 879.8 1274.8 880.5 1275.5 881.2 1275.2 882 1275.3 882.8 1274.9 883.5 1274.8 884.2 1275.6 885 1275.9 885.8 1276.3 886.5 1276.2 887.2 1275.6 888 1276.2 888.8 1275.8 889.5 1275.2 890.2 1275.9 891 1275.4 891.8 1275.5 892.5 1275.6 893.2 1276 894 1275.6 894.8 1275.6 895.5 1275.4 896.2 1275.6 897 1275.2 897.8 1275.5 898.5 1275.7 899.2 1276 900 1276.1 900.8 1276.3 901.5 1274.9 902.2 1276 903 1275.7 903.8 1275.9 904.5 1275.6 905.2 1276.1 906 1276.7 906.8 1276.7 907.5 1276.7 908.2 1276.5 909 1275.9 909.8 1276.2 910.5 1275.7 911.2 1276.1 912 1276 912.8 1276.3 913.5 1276.3 914.2 1276.6 915 1276.6 915.8 1276.6 916.5 1276.5 917.2 1276.4 918 1276.8 918.8 1276.4 919.5 1276.2 920.2 1276.1 921 1276.6 921.8 1276.8 922.5 1277 923.2 1276.4 924 1276.7 924.8 1276.2 925.5 1276.7 926.2 1275.9 927 1276.4 927.8 1276.4 928.5 1275.7 929.2 1276.3 930 1276 930.8 1276.4 931.5 1276.5 932.2 1276.4 933 1276.6 933.8 1276.7 934.5 1276.8 935.2 1276.8 936 1277.1 936.8 1276.6 937.5 1276.9 938.2 1276.4 939 1276.7 939.8 1276.7 940.5 1276.7 941.2 1277 942 1276.7 942.8 1277 943.5 1276.6 944.2 1276.5 945 1277.2 945.8 1276.7 946.5 1276.9 947.2 1276.7 948 1276.2 948.8 1276.7 949.5 1276.7 950.2 1276.8 951 1277.1 951.8 1276.5 952.5 1276.6 953.2 1276.3 954 1276.5 954.8 1276.6 955.5 1276.6 956.2 1276.8 957 1277.2 957.8 1276.9 958.5 1277 959.2 1277 960 1276.7 960.8 1276.8 961.5 1277 962.2 1277.3 963 1277.4 963.8 1277.4 964.5 1277.1 965.2 1277.1 966 1277.2 966.8 1277.3 967.5 1277 968.2 1277.4 969 1277.1 969.8 1277 970.5 1276.9 971.2 1277.3 972 1277.5 972.8 1276.8 973.5 1277.6 974.2 1277.3 975 1277.3 975.8 1276.7 976.5 1277.1 977.2 1277.4 978 1277.3 978.8 1277.7 979.5 1277.5 980.2 1277.9 981 1278.1 981.8 1277.4 982.5 1277.7 983.2 1277.4 984 1277.1 984.8 1277.4 985.5 1277.8 986.2 1277.9 987 1277.9 987.8 1277.7 988.5 1277.6 989.2 1277.7 990 1277.9 990.8 1277.8 991.5 1277.4 992.2 1278.3 993 1278 993.8 1277.6 994.5 1278.1 995.2 1278.1 996 1278.3 996.8 1277.8 997.5 1277.8 998.2 1278.3 999 1278 999.8 1278.5 1000.5 1278.4 1001.2 1277.9 1002 1278.1 1002.8 1278.1 1003.5 1278.6 1004.2 1278.4 1005 1278.4 1005.8 1278.1 1006.5 1278.6 1007.2 1277.8 1008 1278.5 1008.8 1278.4 1009.5 1278.7 1010.2 1278.5 1011 1278.1 1011.8 1278.2 1012.5 1278 1013.2 1278.1 1014 1278.2 1014.8 1279 1015.5 1278.3 1016.2 1278.4 1017 1278.5 1017.8 1278.8 1018.5 1278.1 1019.2 1278.5 1020 1278.5 1020.8 1278.3 1021.5 1278.2 1022.2 1278.6 1023 1277.9 1023.8 1278 1024.5 1277.8 1025.2 1278.1 1026 1278.2 1026.8 1278.1 1027.5 1278.4 1028.2 1278.5 1029 1278.5 1029.8 1278.5 1030.5 1278.5 1031.2 1278.5 1032 1278.8 1032.8 1278.6 1033.5 1278.8 1034.2 1278.5 1035 1278.7 1035.8 1278.7 1036.5 1278.5 1037.2 1278.6 1038 1278.5 1038.8 1278.6 1039.5 1279.2 1040.2 1278.9 1041 1278.8 1041.8 1279 1042.5 1279.1 1043.2 1279.2 1044 1279.1 1044.8 1279.1 1045.5 1279.1 1046.2 1278.9 1047 1279.1 1047.8 1279.1 1048.5 1279 1049.2 1279.5 1050 1279.2 1050.8 1279 1051.5 1279.2 1052.2 1279.3 1053 1279.1 1053.8 1279.1 1054.5 1279.4 1055.2 1279.1 1056 1279.2 1056.8 1279.1 1057.5 1279 1058.2 1279.3 1059 1279.4 1059.8 1279.4 1060.5 1279.3 1061.2 1279.3 1062 1278.9 1062.8 1279.3 1063.5 1279.3 1064.2 1279.4 1065 1279.5 1065.8 1279.2 1066.5 1279.5 1067.2 1279.2 1068 1279.3 1068.8 1279.3 1069.5 1279 1070.2 1279.4 1071 1279.1 1071.8 1279.2 1072.5 1279 1073.2 1279.1 1074 1279 1074.8 1279.1 1075.5 1279.4 1076.2 1279.1 1077 1279.4 1077.8 1279.4 1078.5 1279.4 1079.2 1279.4 1080 1279.5 1080.8 1279.6 1081.5 1279.4 1082.2 1279.3 1083 1279.5 1083.8 1279.5 1084.5 1279.7 1085.2 1279.5 1086 1279.5 1086.8 1279.4 1087.5 1279.3 1088.2 1279.4 1089 1279.6 1089.8 1279.4 1090.5 1279.5 1091.2 1279.6 1092 1279.3 1092.8 1279.5 1093.5 1279.3 1094.2 1279.4 1095 1279.5 1095.8 1279.5 1096.5 1279.5 1097.2 1279.6 1098 1279.7 1098.8 1279.4 1099.5 1279.5 1100.2 1279.5 1101 1279.5 1101.8 1279.6 1102.5 1279.5 1103.2 1279.6 1104 1279.7 1104.8 1279.5 1105.5 1279.5 1106.2 1279.5 1107 1279.5 1107.8 1279.5 1108.5 1279.7 1109.2 1279.6 1110 1279.5 1110.8 1279.6 1111.5 1279.4 1112.2 1279.6 1113 1279.5 1113.8 1279.6 1114.5 1279.5 1115.2 1279.4 1116 1279.5 1116.8 1279.5 1117.5 1279.5 1118.2 1279.5 1119 1279.5 1119.8 1279.4 1120.5 1279.4 1121.2 1279.4 1122 1279.5 1122.8 1279.6 1123.5 1279.5 1124.2 1279.4 1125 1279.4 1125.8 1279.5 1126.5 1279.5 1127.2 1279.6 1128 1279.6 1128.8 1279.6 1129.5 1279.5 1130.2 1279.4 1131 1279.4 1131.8 1279.5 1132.5 1279.5 1133.2 1279.4 1134 1279.6 1134.8 1279.5 1135.5 1279.5 1136.2 1279.4 1137 1279.5 1137.8 1279.5 1138.5 1279.4 1139.2 1279.5 1140 1279.5 1140.8 1279.6 1141.5 1279.5 1142.2 1279.4 1143 1279.5 1143.8 1279.6 1144.5 1279.7 1145.2 1279.6 1146 1279.6 1146.8 1279.6 1147.5 1279.6 1148.2 1279.5 1149 1279.6 1149.8 1279.6 1150.5 1279.6 1151.2 1279.7 1152 1279.7 1152.8 1279.6 1153.5 1279.6 1154.2 1279.5 1155 1279.6 1155.8 1279.5 1156.5 1279.5 1157.2 1279.6 1158 1279.6 1158.8 1279.5 1159.5 1279.4 1160.2 1279.6 1161 1279.5 1161.8 1279.5 1162.5 1279.6 1163.2 1279.5 1164 1279.5 1164.8 1279.7 1165.5 1279.6 1166.2 1279.7 1167 1279.6 1167.8 1279.7 1168.5 1279.5 1169.2 1279.7 1170 1279.6 1170.8 1279.6 1171.5 1279.5 1172.2 1279.5 1173 1279.6 1173.8 1279.7 1174.5 1279.5 1175.2 1279.6 1176 1279.7 1176.8 1279.6 1177.5 1279.6 1178.2 1279.6 1179 1279.6 1179.8 1279.6 1180.5 1279.6 1181.2 1279.5 1182 1279.8 1182.8 1279.7 1183.5 1279.5 1184.2 1279.7 1185 1279.6 1185.8 1279.7 1186.5 1279.7 1187.2 1279.7 1188 1279.7 1188.8 1279.8 1189.5 1279.8 1190.2 1279.7 1191 1279.6 1191.8 1279.5 1192.5 1279.6 1193.2 1279.6 1194 1279.6 1194.8 1279.5 1195.5 1279.6 1196.2 1279.5 1197 1279.6 1197.8 1279.6 1198.5 1279.5 1199.2 1279.5 1200 1279.6 1200.8 1279.5 1201.5 1279.6 1202.2 1279.6 1203 1279.7 1203.8 1279.7 1204.5 1279.7 1205.2 1279.8 1206 1279.8 1206.8 1279.8 1207.5 1279.6 1208.2 1279.7 1209 1279.6 1209.8 1279.8 1210.5 1279.7 1211.2 1279.7 1212 1279.8 1212.8 1279.7 1213.5 1279.7 1214.2 1279.8 1215 1279.8 1215.8 1279.8 1216.5 1279.9 1217.2 1279.7 1218 1279.7 1218.8 1279.7 1219.5 1279.8 1220.2 1279.7 1221 1279.7 1221.8 1279.8 1222.5 1279.8 1223.2 1279.7 1224 1279.6 1224.8 1279.7 1225.5 1279.8 1226.2 1279.6 1227 1279.6 1227.8 1279.7 1228.5 1279.7 1229.2 1279.6 1230 1279.7 1230.8 1279.7 1231.5 1279.7 1232.2 1279.7 1233 1279.7 1233.8 1279.7 1234.5 1279.8 1235.2 1279.7 1236 1279.7 1236.8 1279.8 1237.5 1279.8 1238.2 1279.7 1239 1279.8 1239.8 1279.7 1240.5 1279.7 1241.2 1279.6 1242 1279.6 1242.8 1279.8 1243.5 1279.7 1244.2 1279.7 1245 1279.7 1245.8 1279.8 1246.5 1279.8 1247.2 1279.7 1248 1279.7 1248.8 1279.7 1249.5 1279.8 1250.2 1279.8 1251 1279.8 1251.8 1279.8 1252.5 1279.7 1253.2 1279.8 1254 1279.9 1254.8 1279.8 1255.5 1279.8 1256.2 1279.9 1257 1279.9 1257.8 1279.9 1258.5 1279.9 1259.2 1279.8 1260 1279.9 1260.8 1279.8 1261.5 1279.8 1262.2 1279.8 1263 1279.8 1263.8 1279.8 1264.5 1279.7 1265.2 1279.7 1266 1279.7 1266.8 1279.7 1267.5 1279.7 1268.2 1279.7 1269 1279.7 1269.8 1279.7 1270.5 1279.7 1271.2 1279.8 1272 1279.8 1272.8 1279.8 1273.5 1279.7 1274.2 1279.7 1275 1279.7 1275.8 1279.7 1276.5 1279.7 1277.2 1279.7 1278 1279.7 1278.8 1279.8 1279.5 1279.6 1280.2 1279.7 1281 1279.8 1281.8 1279.7 1282.5 1279.8 1283.2 1279.7 1284 1279.8 1284.8 1279.8 1285.5 1279.8 1286.2 1279.7 1287 1279.8 1287.8 1279.8 1288.5 1279.8 1289.2 1279.8 1290 1279.7 1290.8 1279.7 1291.5 1279.7 1292.2 1279.9 1293 1279.8 1293.8 1279.9 1294.5 1279.8 1295.2 1279.9 1296 1279.8 1296.8 1279.8 1297.5 1279.8 1298.2 1279.8 1299 1279.8 1299.8 1279.7 1300.5 1279.9 1301.2 1279.9 1302 1279.8 1302.8 1279.8 1303.5 1279.7 1304.2 1279.8 1305 1280 1305.8 1280 1306.5 1279.9 1307.2 1279.9 1308 1279.9 1308.8 1279.9 1309.5 1279.8 1310.2 1279.7 1311 1279.9 1311.8 1279.8 1312.5 1279.8 1313.2 1279.8 1314 1279.9 1314.8 1279.8 1315.5 1279.8 1316.2 1279.7 1317 1279.8 1317.8 1279.9 1318.5 1279.8 1319.2 1279.8 1320 1279.8 1320.8 1279.8 1321.5 1279.8 1322.2 1279.9 1323 1279.8 1323.8 1279.8 1324.5 1279.8 1325.2 1279.8 1326 1279.9 1326.8 1279.9 1327.5 1279.8 1328.2 1279.9 1329 1279.9 1329.8 1279.8 1330.5 1279.8 1331.2 1279.9 1332 1279.9 1332.8 1279.9 1333.5 1279.8 1334.2 1279.9 1335 1279.9 1335.8 1279.9 1336.5 1279.8 1337.2 1279.9 1338 1279.8 1338.8 1279.9 1339.5 1279.8 1340.2 1279.8 1341 1279.9 1341.8 1279.9 1342.5 1279.8 1343.2 1279.9 1344 1279.8 1344.8 1279.9 1345.5 1279.8 1346.2 1279.8 1347 1279.8 1347.8 1279.8 1348.5 1279.9 1349.2 1279.9 1350 1279.9 1350.8 1279.9 1351.5 1279.8 1352.2 1279.8 1353 1279.8 1353.8 1279.9 1354.5 1279.8 1355.2 1279.9 1356 1279.9 1356.8 1279.8 1357.5 1279.8 1358.2 1279.8 1359 1279.8 1359.8 1279.8 1360.5 1279.9 1361.2 1279.9 1362 1279.8 1362.8 1279.8 1363.5 1279.9 1364.2 1279.9 1365 1279.9 1365.8 1279.8 1366.5 1279.9 1367.2 1279.9 1368 1279.9 1368.8 1279.9 1369.5 1279.9 1370.2 1279.8 1371 1279.8 1371.8 1279.9 1372.5 1279.8 1373.2 1279.8 1374 1279.8 1374.8 1279.8 1375.5 1279.8 1376.2 1279.9 1377 1279.9 1377.8 1279.9 1378.5 1279.9 1379.2 1279.8 1380 1279.9 1380.8 1279.9 1381.5 1279.9 1382.2 1279.9 1383 1280 1383.8 1279.8 1384.5 1279.9 1385.2 1279.9 1386 1279.9 1386.8 1279.8 1387.5 1279.8 1388.2 1279.9 1389 1279.8 1389.8 1279.9 1390.5 1279.9 1391.2 1279.9 1392 1279.9 1392.8 1279.9 1393.5 1279.9 1394.2 1279.9 1395 1279.8 1395.8 1279.8 1396.5 1279.9 1397.2 1279.9 1398 1279.9 1398.8 1279.8 1399.5 1279.9 1400.2 1279.9 1401 1279.9 1401.8 1279.9 1402.5 1279.9 1403.2 1279.9 1404 1280 1404.8 1279.9 1405.5 1279.9 1406.2 1279.9 1407 1279.9 1407.8 1279.9 1408.5 1279.9 1409.2 1279.9 1410 1279.9 1410.8 1279.9 1411.5 1279.9 1412.2 1279.9 1413 1279.9 1413.8 1279.9 1414.5 1279.9 1415.2 1279.9 1416 1279.9 1416.8 1279.9 1417.5 1279.9 1418.2 1279.9 1419 1279.9 1419.8 1279.9 1420.5 1279.9 1421.2 1279.8 1422 1279.9 1422.8 1279.9 1423.5 1280 1424.2 1279.8 1425 1279.9 1425.8 1279.9 1426.5 1279.9 1427.2 1279.9 1428 1279.9 1428.8 1279.9 1429.5 1279.9 1430.2 1279.9 1431 1279.9 1431.8 1279.9 1432.5 1279.9 1433.2 1279.9 1434 1280 1434.8 1279.9 1435.5 1280 1436.2 1279.9 1437 1279.9 1437.8 1279.9 1438.5 1279.8 1439.2 1279.9 1440 1279.9 1440.8 1279.8 1441.5 1279.8 1442.2 1280 1443 1279.9 1443.8 1279.8 1444.5 1279.9 1445.2 1279.9 1446 1279.9 1446.8 1279.8 1447.5 1279.9 1448.2 1279.9 1449 1279.9 1449.8 1279.9 1450.5 1279.9 1451.2 1279.9 1452 1279.9 1452.8 1279.9 1453.5 1279.9 1454.2 1279.9 1455 1279.9 1455.8 1279.9 1456.5 1279.9 1457.2 1279.9 1458 1279.9 1458.8 1280 1459.5 1279.9 1460.2 1279.9 1461 1279.9 1461.8 1279.9 1462.5 1279.9 1463.2 1279.9 1464 1279.9 1464.8 1279.9 1465.5 1279.9 1466.2 1279.9 1467 1279.9 1467.8 1279.8 1468.5 1279.9 1469.2 1279.9 1470 1279.9 1470.8 1279.9 1471.5 1279.9 1472.2 1279.9 1473 1279.9 1473.8 1279.9 1474.5 1279.8 1475.2 1280 1476 1279.9 1476.8 1279.9 1477.5 1279.9 1478.2 1279.9 1479 1279.9 1479.8 1279.9 1480.5 1279.9 1481.2 1279.9 1482 1279.9 1482.8 1279.9 1483.5 1279.9 1484.2 1280 1485 1279.9 1485.8 1279.9 1486.5 1279.9 1487.2 1279.9 1488 1279.9 1488.8 1279.9 1489.5 1279.9 1490.2 1279.9 1491 1279.9 1491.8 1279.9 1492.5 1279.9 1493.2 1279.9 1494 1279.9 1494.8 1279.9 1495.5 1279.9 1496.2 1279.9 1497 1279.9 1497.8 1279.9 1498.5 1279.9 1499.2 1279.9 1500 1279.9 1500.8 1279.9 1501.5 1279.9 1502.2 1279.9 1503 1279.9 1503.8 1279.9 1504.5 1279.9 1505.2 1280 1506 1280 1506.8 1280 1507.5 1279.9 1508.2 1279.9 1509 1280 1509.8 1279.9 1510.5 1279.9 1511.2 1279.9 1512 1279.9 1512.8 1280 1513.5 1279.9 1514.2 1279.9 1515 1279.9 1515.8 1280 1516.5 1279.9 1517.2 1279.9 1518 1279.9 1518.8 1279.9 1519.5 1280 1520.2 1279.9 1521 1279.9 1521.8 1279.9 1522.5 1279.9 1523.2 1279.9 1524 1280 1524.8 1280 1525.5 1279.9 1526.2 1280 1527 1280 1527.8 1279.9 1528.5 1280 1529.2 1279.9 1530 1279.9 1530.8 1280 1531.5 1280 1532.2 1280 1533 1280 1533.8 1280 1534.5 1279.9 1535.2 1280 1536 1280 1536.8 1279.9 1537.5 1280 1538.2 1279.9 1539 1280 1539.8 1280 1540.5 1280 1541.2 1280 1542 1279.9 1542.8 1280 1543.5 1279.9 1544.2 1280 1545 1280 1545.8 1280 1546.5 1280 1547.2 1280 1548 1279.9 1548.8 1280 1549.5 1280 1550.2 1280 1551 1279.9 1551.8 1280 1552.5 1279.9 1553.2 1280 1554 1280 1554.8 1280 1555.5 1279.9 1556.2 1279.9 1557 1280 1557.8 1280 1558.5 1280 1559.2 1280 1560 1279.9 1560.8 1280 1561.5 1280 1562.2 1280 1563 1279.9 1563.8 1280 1564.5 1280 1565.2 1280 1566 1280 1566.8 1279.9 1567.5 1279.9 1568.2 1280 1569 1279.9 1569.8 1279.9 1570.5 1279.9 1571.2 1279.9 1572 1279.9 1572.8 1279.9 1573.5 1280 1574.2 1280 1575 1280 1575.8 1280 1576.5 1280 1577.2 1280 1578 1280 1578.8 1280 1579.5 1280 1580.2 1280 1581 1280 1581.8 1280 1582.5 1280 1583.2 1280 1584 1280 1584.8 1280 1585.5 1280 1586.2 1280 1587 1280 1587.8 1280 1588.5 1280 1589.2 1280 1590 1280 1590.8 1280 1591.5 1280 1592.2 1280 1593 1280 1593.8 1280 1594.5 1280 1595.2 1280 1596 1280 1596.8 1280 1597.5 1280 1598.2 1280 1599 1280 1599.8 1280 1600.5 1280 1601.2 1280 1602 1280 1602.8 1280 1603.5 1280 1604.2 1280 1605 1280 1605.8 1280 1606.5 1280 1607.2 1280 1608 1280 1608.8 1280 1609.5 1280 1610.2 1280 1611 1280 1611.8 1280 1612.5 1280 1613.2 1280 1614 1280 1614.8 1280 1615.5 1280 1616.2 1280 1617 1280 1617.8 1280 1618.5 1280 1619.2 1280 1620 1280 1620.8 1280 1621.5 1280 1622.2 1280 1623 1280 1623.8 1280 1624.5 1280 1629 1280 1629.8 1280 1630.5 1280 1631.2 1280 1632 1280 1632.8 1280 1633.5 1280 1634.2 1280 1635 1280 1635.8 1280 1637.2 1280 1638 1280 1638.8 1280 1639.5 1280 1640.2 1280 1641 1280 1641.8 1280 1642.5 1280 1643.2 1280 1644 1280 1644.8 1280 1645.5 1280 1646.2 1280 1647 1280 1647.8 1280 1648.5 1280 1649.2 1280 1650 1280 1650.8 1280 1651.5 1280 1652.2 1280 1653 1280 1653.8 1280 1654.5 1280 1655.2 1280 1656 1280 1656.8 1280 1657.5 1280 1658.2 1280 1659 1280 1659.8 1280 1660.5 1280 1661.2 1280 1662 1280 1662.8 1280 1663.5 1280 1665 1280 1665.8 1280 1666.5 1280 1667.2 1280 1668 1280 1668.8 1280 1669.5 1280 1671 1280 1671.8 1280 1672.5 1280 1673.2 1280 1674 1280 1674.8 1280 1675.5 1280 1676.2 1280 1677 1280 1677.8 1280 1678.5 1280 1679.2 1280 1680 1280 1680.8 1280 1681.5 1280 1682.2 1280 1683 1280 1683.8 1280 1684.5 1280 1685.2 1280 1686 1280 1686.8 1280 1687.5 1280 1688.2 1280 1689 1280 1689.8 1280 1691.2 1280 1692 1280 1692.8 1280 1693.5 1280 1694.2 1280 1695 1280 1695.8 1280 1696.5 1280 1697.2 1280 1698 1280 1698.8 1280 1699.5 1280 1700.2 1280 1701 1280 1701.8 1280 1702.5 1280 1703.2 1280 1704 1280 1704.8 1280 1705.5 1280 1706.2 1280 1708.5 1280 1709.2 1280 1710 1280 1711.5 1280 1712.2 1280 1713 1280 1713.8 1280 1714.5 1280 1715.2 1280 1716 1280 1716.8 1280 1717.5 1280 1718.2 1280 1719.8 1280 1720.5 1280 1721.2 1280 1722 1280 1722.8 1280 1723.5 1280 1724.2 1280 1725 1280 1725.8 1280 1726.5 1280 1727.2 1280 1728 1280 1728.8 1280 1729.5 1280 1730.2 1280 1731 1280 1731.8 1280 1732.5 1280 1733.2 1280 1734 1280 1734.8 1280 1735.5 1280 1736.2 1280 1737 1280 1737.8 1280 1738.5 1280 1739.2 1280 1740 1280 1742.2 1280 1743 1280 1743.8 1280 1744.5 1280 1745.2 1280 1746 1280 1746.8 1280 1747.5 1280 1749 1280 1749.8 1280 1750.5 1280 1751.2 1280 1752 1280 1752.8 1280 1753.5 1280"/>
<path stroke="#FFFF1A" d="M249 1280L249.8 1280 250.5 1279.8 251.2 1279.8 252 1279.7 252.8 1279.5 253.5 1279.5 254.2 1279.4 255 1279.3 255.8 1279.2 256.5 1279.5 257.2 1279.1 258 1279.1 258.8 1278.8 259.5 1278.7 260.2 1278.5 261 1278.8 261.8 1278.9 262.5 1278.5 263.2 1278.2 264 1278.5 264.8 1278.3 265.5 1278.3 266.2 1277.9 267 1278 267.8 1278.2 268.5 1277.9 269.2 1278.1 270 1277.8 270.8 1277.5 271.5 1277.5 272.2 1277.9 273 1277 273.8 1277.2 274.5 1276.9 275.2 1277.2 276 1277.3 276.8 1277.3 277.5 1277.1 278.2 1277.6 279 1276.8 279.8 1277.4 280.5 1277.2 281.2 1277.7 282 1277.1 282.8 1277.6 283.5 1277.3 284.2 1277.2 285 1276.4 285.8 1276.8 286.5 1277 287.2 1276.6 288 1277.1 288.8 1276.6 289.5 1276.6 290.2 1277.4 291 1276.6 291.8 1276.3 292.5 1276.3 293.2 1276.7 294 1275.8 294.8 1276.1 295.5 1276.1 296.2 1276.1 297 1276.3 297.8 1275.7 298.5 1276.4 299.2 1276.3 300 1276.4 300.8 1276.4 301.5 1276.5 302.2 1276 303 1276.2 303.8 1275.7 304.5 1276.1 305.2 1275.2 306 1275.8 306.8 1276 307.5 1275.2 308.2 1275.2 309 1275.3 309.8 1274.8 310.5 1275.4 311.2 1274.8 312 1274.8 312.8 1274.7 313.5 1274.8 314.2 1275.1 315 1274.8 315.8 1274.6 316.5 1274.8 317.2 1274.9 318 1273.7 318.8 1274.7 319.5 1274.2 320.2 1273.7 321 1274.1 321.8 1273.8 322.5 1274.1 323.2 1275.1 324 1272.9 324.8 1273.5 325.5 1273.4 326.2 1272.7 327 1273.3 327.8 1272.8 328.5 1273.8 329.2 1273 330 1273.4 330.8 1272.9 331.5 1273 332.2 1273.2 333 1272.7 333.8 1273.1 334.5 1273.1 335.2 1273.1 336 1273.5 336.8 1274.3 337.5 1273.3 338.2 1273.1 339 1274.5 339.8 1273.5 340.5 1273.9 341.2 1273.9 342 1274.6 342.8 1275 343.5 1274.4 344.2 1274.8 345 1273.8 345.8 1274.5 346.5 1274.2 347.2 1274 348 1273.9 348.8 1274.6 349.5 1274.1 350.2 1273.5 351 1274.3 351.8 1273.6 352.5 1273.9 353.2 1274.7 354 1274 354.8 1273.7 355.5 1273.7 356.2 1274.3 357 1274.4 357.8 1274.3 358.5 1274.9 359.2 1274.2 360 1273.5 360.8 1274.1 361.5 1273.2 362.2 1273.8 363 1274.4 363.8 1273.5 364.5 1273.2 365.2 1274.2 366 1274.2 366.8 1274.8 367.5 1274 368.2 1274.3 369 1274.1 369.8 1275.1 370.5 1275.4 371.2 1274.3 372 1274.5 372.8 1274.8 373.5 1274.2 374.2 1274.9 375 1274.8 375.8 1274.3 376.5 1274.3 377.2 1274.3 378 1274.3 378.8 1275.2 379.5 1274.1 380.2 1273.9 381 1273.8 381.8 1273.8 382.5 1274.1 383.2 1274.1 384 1272.9 384.8 1274.1 385.5 1274.4 386.2 1274.5 387 1274.6 387.8 1274.4 388.5 1275.2 389.2 1274 390 1274.6 390.8 1273.9 391.5 1274 392.2 1274.9 393 1274.7 393.8 1274.1 394.5 1274.6 395.2 1273.8 396 1274.1 396.8 1274.1 397.5 1273.6 398.2 1274.4 399 1273.7 399.8 1274.3 400.5 1274.8 401.2 1274.4 402 1273.8 402.8 1273.9 403.5 1274.2 404.2 1273.8 405 1274.4 405.8 1274.5 406.5 1275 407.2 1274.6 408 1274.7 408.8 1274.2 409.5 1275.1 410.2 1275.6 411 1275.2 411.8 1275.1 412.5 1275.1 413.2 1274.9 414 1275.3 414.8 1274.8 415.5 1275.5 416.2 1275.1 417 1275.4 417.8 1275.1 418.5 1275.2 419.2 1274.5 420 1275.6 420.8 1275.3 421.5 1274.7 422.2 1274.4 423 1275.4 423.8 1275 424.5 1274.8 425.2 1274.5 426 1274.5 426.8 1274.9 427.5 1273.9 428.2 1274.1 429 1274.1 429.8 1274.2 430.5 1274.5 431.2 1274.2 432 1274.3 432.8 1274.1 433.5 1273.5 434.2 1273.9 435 1273.6 435.8 1274 436.5 1273.8 437.2 1273.7 438 1273.3 438.8 1274.6 439.5 1274 440.2 1273.3 441 1272.9 441.8 1273.5 442.5 1273.3 443.2 1273.6 444 1273.8 444.8 1273.1 445.5 1273.2 446.2 1273.5 447 1272.5 447.8 1274.1 448.5 1273.3 449.2 1272.9 450 1273.3 450.8 1272.9 451.5 1272.6 452.2 1272.9 453 1272.7 453.8 1273.1 454.5 1272.5 455.2 1273.2 456 1273.4 456.8 1273 457.5 1272.7 458.2 1272 459 1271.9 459.8 1271.9 460.5 1272.8 461.2 1273.1 462 1272.3 462.8 1273.5 463.5 1272.8 464.2 1273.3 465 1273.8 465.8 1273.6 466.5 1274.3 467.2 1273.7 468 1273.5 468.8 1273.7 469.5 1273.7 470.2 1273.9 471 1273.4 471.8 1274.2 472.5 1274 473.2 1274.5 474 1274 474.8 1274.3 475.5 1275.3 476.2 1275.4 477 1274.6 477.8 1274.8 478.5 1274.9 479.2 1274.4 480 1274.7 480.8 1274.7 481.5 1275.1 482.2 1274.5 483 1275.9 483.8 1274.8 484.5 1275.1 485.2 1275.8 486 1275.4 486.8 1274.5 487.5 1275.6 488.2 1275.5 489 1275.6 489.8 1274.9 490.5 1276.2 491.2 1274.9 492 1276 492.8 1275.1 493.5 1275.2 494.2 1275.9 495 1275.2 495.8 1276.4 496.5 1276.2 497.2 1276 498 1275.8 498.8 1275.9 499.5 1276.2 500.2 1276.3 501 1275.9 501.8 1276.2 502.5 1276.1 503.2 1276.5 504 1275.9 504.8 1276.2 505.5 1276.5 506.2 1276.5 507 1275.4 507.8 1276.4 508.5 1276 509.2 1276.6 510 1276.3 510.8 1275.9 511.5 1276.9 512.2 1275.7 513 1275.6 513.8 1276.1 514.5 1276.4 515.2 1276.3 516 1276.2 516.8 1275.8 517.5 1276.7 518.2 1275.5 519 1276 519.8 1275.4 520.5 1276 521.2 1276.1 522 1276.4 522.8 1275.9 523.5 1276 524.2 1275.6 525 1276 525.8 1275.9 526.5 1276.3 527.2 1276.1 528 1276.5 528.8 1276.3 529.5 1276.4 530.2 1276.6 531 1276.4 531.8 1276.7 532.5 1276.5 533.2 1275.9 534 1276.6 534.8 1275.9 535.5 1276.4 536.2 1276.7 537 1276.2 537.8 1276.7 538.5 1276.1 539.2 1276.2 540 1276.6 540.8 1276.3 541.5 1276.7 542.2 1276.9 543 1276.4 543.8 1276.4 544.5 1276.1 545.2 1276.1 546 1276.4 546.8 1276.6 547.5 1276.1 548.2 1276.4 549 1276.7 549.8 1276.9 550.5 1276.6 551.2 1276.4 552 1276.7 552.8 1276.3 553.5 1276.4 554.2 1276.8 555 1277.5 555.8 1277.6 556.5 1276.7 557.2 1277.5 558 1276.4 558.8 1276.5 559.5 1276.5 560.2 1277.1 561 1276.8 561.8 1277.4 562.5 1277 563.2 1277.2 564 1277.1 564.8 1277.2 565.5 1277 566.2 1277.6 567 1277.4 567.8 1277.3 568.5 1277.6 569.2 1276.9 570 1276.7 570.8 1276.9 571.5 1276.6 572.2 1277.1 573 1277.2 573.8 1276.8 574.5 1277.2 575.2 1277 576 1276.8 576.8 1276.7 577.5 1277 578.2 1276.8 579 1276.5 579.8 1276.3 580.5 1277.1 581.2 1276.9 582 1276.6 582.8 1276.6 583.5 1277.2 584.2 1276.7 585 1276.9 585.8 1276.3 586.5 1277.1 587.2 1277.3 588 1277.3 588.8 1277.1 589.5 1277.2 590.2 1277.1 591 1277 591.8 1277 592.5 1276.7 593.2 1277 594 1277.4 594.8 1276.8 595.5 1277.5 596.2 1277.4 597 1276.9 597.8 1277.5 598.5 1277.3 599.2 1277.8 600 1277.3 600.8 1277.7 601.5 1277.2 602.2 1277.3 603 1277 603.8 1277.6 604.5 1277.4 605.2 1277.9 606 1277.2 606.8 1277.8 607.5 1277.8 608.2 1277.6 609 1277.7 609.8 1278.3 610.5 1277.7 611.2 1277.9 612 1278 612.8 1277.8 613.5 1277.3 614.2 1277.6 615 1278 615.8 1278.1 616.5 1277.8 617.2 1277.4 618 1277.4 618.8 1277.9 619.5 1277.7 620.2 1278 621 1278.1 621.8 1277.8 622.5 1277.6 623.2 1277.9 624 1278 624.8 1278 625.5 1278.1 626.2 1277.9 627 1278.2 627.8 1278.2 628.5 1277.9 629.2 1278 630 1278 630.8 1278.1 631.5 1278 632.2 1278.3 633 1278.1 633.8 1277.9 634.5 1278.1 635.2 1278.5 636 1278.5 636.8 1278.4 637.5 1277.8 638.2 1278.2 639 1277.9 639.8 1278.5 640.5 1278.6 641.2 1278 642 1278.3 642.8 1278 643.5 1278.2 644.2 1278 645 1278 645.8 1278.4 646.5 1278.2 647.2 1278.4 648 1278.3 648.8 1278 649.5 1278.1 650.2 1278.4 651 1278.4 651.8 1278.1 652.5 1278.6 653.2 1278.3 654 1278.4 654.8 1278.3 655.5 1278.5 656.2 1278.1 657 1278.3 657.8 1277.9 658.5 1278.3 659.2 1278.1 660 1278.4 660.8 1278.3 661.5 1278.3 662.2 1278.4 663 1278.4 663.8 1278.3 664.5 1278.9 665.2 1278.4 666 1278.8 666.8 1278.8 667.5 1278.8 668.2 1278.6 669 1278.5 669.8 1278.5 670.5 1278.5 671.2 1278.5 672 1278.5 672.8 1278.7 673.5 1278.9 674.2 1278.5 675 1278.9 675.8 1278.6 676.5 1279.2 677.2 1279 678 1279.1 678.8 1278.8 679.5 1278.7 680.2 1278.5 681 1278.8 681.8 1278.5 682.5 1278.8 683.2 1278.9 684 1278.7 684.8 1279 685.5 1278.7 686.2 1278.7 687 1278.9 687.8 1278.7 688.5 1278.8 689.2 1278.7 690 1278.9 690.8 1278.7 691.5 1279.1 692.2 1279.1 693 1278.9 693.8 1279 694.5 1279.1 695.2 1279.3 696 1279.1 696.8 1279 697.5 1279.3 698.2 1279 699 1279.1 699.8 1279 700.5 1279 701.2 1278.9 702 1279.3 702.8 1279 703.5 1278.9 704.2 1279.2 705 1279.2 705.8 1279 706.5 1278.9 707.2 1278.7 708 1279.1 708.8 1278.8 709.5 1278.9 710.2 1278.8 711 1279.1 711.8 1278.9 712.5 1279.1 713.2 1279.1 714 1279.1 714.8 1279 715.5 1279.3 716.2 1279 717 1279.3 717.8 1279.2 718.5 1279.3 719.2 1279.5 720 1279.2 720.8 1279.4 721.5 1279.2 722.2 1279.4 723 1279.4 723.8 1279.4 724.5 1279.3 725.2 1279.3 726 1279.2 726.8 1279.3 727.5 1279.2 728.2 1279.4 729 1279.7 729.8 1279.5 730.5 1279.3 731.2 1279.4 732 1279.4 732.8 1279.3 733.5 1279.4 734.2 1279.6 735 1279.4 735.8 1279.7 736.5 1279.3 737.2 1279.5 738 1279.6 738.8 1279.5 739.5 1279.5 740.2 1279.3 741 1279.5 741.8 1279.4 742.5 1279.5 743.2 1279.6 744 1279.5 744.8 1279.7 745.5 1279.5 746.2 1279.6 747 1279.6 747.8 1279.5 748.5 1279.5 749.2 1279.6 750 1279.8 750.8 1279.5 751.5 1279.7 752.2 1279.5 753 1279.8 753.8 1279.7 754.5 1279.7 755.2 1279.7 756 1279.7 756.8 1279.7 757.5 1279.7 758.2 1279.7 759 1279.6 759.8 1279.7 760.5 1279.7 761.2 1279.7 762 1279.8 762.8 1279.8 763.5 1279.7 764.2 1279.8 765 1279.8 765.8 1279.7 766.5 1279.8 767.2 1279.8 768 1279.7 768.8 1279.8 769.5 1279.8 770.2 1279.8 771 1279.8 771.8 1279.8 772.5 1279.8 773.2 1279.9 774 1279.8 774.8 1279.9 775.5 1280 776.2 1279.9 777 1279.9 777.8 1279.9 778.5 1279.9 779.2 1279.9 780 1279.9 780.8 1279.9 781.5 1279.9 782.2 1279.9 783 1279.9 783.8 1280 784.5 1279.9 785.2 1279.9 786 1280 786.8 1280 787.5 1280 788.2 1280 789 1280 789.8 1280 790.5 1280 791.2 1280 794.2 1280 795 1280 795.8 1280 796.5 1280 797.2 1280 798 1280 1753.5 1280"/>
<path stroke="#7B3A1B" d="M249 1280L249.8 1280 250.5 1279.9 251.2 1279.9 252 1279.8 252.8 1279.8 253.5 1279.8 254.2 1279.8 255 1279.7 255.8 1279.6 256.5 1279.7 257.2 1279.6 258 1279.7 258.8 1279.6 259.5 1279.7 260.2 1279.4 261 1279.4 261.8 1279.4 262.5 1279.3 263.2 1279.3 264 1279.6 264.8 1279.4 265.5 1279.5 266.2 1279.4 267 1279.3 267.8 1279.2 268.5 1279.4 269.2 1279.4 270 1279 270.8 1279.3 271.5 1279.2 272.2 1279 273 1278.8 273.8 1278.9 274.5 1278.8 275.2 1278.9 276 1278.7 276.8 1278.5 277.5 1278.6 278.2 1278.5 279 1278.7 279.8 1278.8 280.5 1278.6 281.2 1278.7 282 1278.6 282.8 1278.5 283.5 1278.8 284.2 1278.1 285 1278.6 285.8 1278.6 286.5 1278.4 287.2 1278.1 288 1278.3 288.8 1278.2 289.5 1278.2 290.2 1278.1 291 1278.2 291.8 1278.4 292.5 1278.1 293.2 1278 294 1278.1 294.8 1278 295.5 1278.3 296.2 1278.4 297 1278.5 297.8 1277.7 298.5 1278.1 299.2 1278.4 300 1278.3 300.8 1278.1 301.5 1278.3 302.2 1278.3 303 1278 303.8 1277.6 304.5 1278 305.2 1278.3 306 1278.2 306.8 1278.4 307.5 1278.2 308.2 1277.6 309 1277.7 309.8 1278.3 310.5 1278.1 311.2 1278.1 312 1278 312.8 1277.7 313.5 1278 314.2 1277.5 315 1277.8 315.8 1277.7 316.5 1277.4 317.2 1277.3 318 1277.4 318.8 1277.8 319.5 1277.7 320.2 1277.8 321 1277.8 321.8 1277.9 322.5 1278.3 323.2 1277.7 324 1277.5 324.8 1277.5 325.5 1277.4 326.2 1277.8 327 1277.7 327.8 1277.6 328.5 1277.7 329.2 1277.2 330 1277.3 330.8 1277.5 331.5 1277.2 332.2 1277.4 333 1277.2 333.8 1277 334.5 1277.2 335.2 1277.7 336 1277.7 336.8 1277.6 337.5 1277.5 338.2 1277.4 339 1277.3 339.8 1277.2 340.5 1277.3 341.2 1277.6 342 1276.9 342.8 1277.7 343.5 1277.7 344.2 1277.5 345 1277.9 345.8 1277.7 346.5 1277.5 347.2 1277.3 348 1277.7 348.8 1277.2 349.5 1277.8 350.2 1276.9 351 1277.1 351.8 1277.2 352.5 1277.1 353.2 1276.7 354 1277.3 354.8 1276.5 355.5 1277.3 356.2 1276.8 357 1277 357.8 1277 358.5 1276.6 359.2 1276.7 360 1276.3 360.8 1276.3 361.5 1276.9 362.2 1277.4 363 1276.9 363.8 1276.6 364.5 1276.9 365.2 1276.7 366 1277 366.8 1277.1 367.5 1277 368.2 1276.8 369 1276.3 369.8 1276.7 370.5 1276.8 371.2 1276.7 372 1276.9 372.8 1276.9 373.5 1276.6 374.2 1277.1 375 1277 375.8 1276.9 376.5 1277.3 377.2 1277 378 1277.4 378.8 1277.6 379.5 1276.8 380.2 1277.3 381 1277.1 381.8 1277.3 382.5 1277.5 383.2 1277.5 384 1277 384.8 1276.8 385.5 1277.6 386.2 1277.2 387 1277.1 387.8 1277.4 388.5 1276.9 389.2 1277.4 390 1277.4 390.8 1277.3 391.5 1276.9 392.2 1277.3 393 1277.8 393.8 1276.9 394.5 1277.7 395.2 1277.5 396 1277.5 396.8 1277.2 397.5 1277.9 398.2 1277.2 399 1277 399.8 1276.9 400.5 1277.4 401.2 1277.6 402 1276.7 402.8 1276.7 403.5 1277.1 404.2 1276.8 405 1277.3 405.8 1277.3 406.5 1277.8 407.2 1277.9 408 1277.5 408.8 1277.8 409.5 1276.8 410.2 1277.3 411 1277.3 411.8 1277.6 412.5 1277.4 413.2 1277.7 414 1277.4 414.8 1277.4 415.5 1277 416.2 1277.7 417 1277 417.8 1277.8 418.5 1277.4 419.2 1277.9 420 1277.5 420.8 1277 421.5 1277.2 422.2 1277.1 423 1277 423.8 1277.2 424.5 1277.1 425.2 1277 426 1276.9 426.8 1277.2 427.5 1276.9 428.2 1277 429 1277.7 429.8 1277.1 430.5 1276.9 431.2 1277.2 432 1277.3 432.8 1277.1 433.5 1277.1 434.2 1276.6 435 1277.1 435.8 1277.7 436.5 1277.3 437.2 1277.2 438 1276.9 438.8 1276.9 439.5 1277 440.2 1276.8 441 1277.1 441.8 1276.9 442.5 1276.7 443.2 1276.7 444 1277 444.8 1276.3 445.5 1277.4 446.2 1277.2 447 1277 447.8 1276.7 448.5 1276.8 449.2 1277 450 1277.5 450.8 1277.2 451.5 1277.4 452.2 1277.5 453 1277 453.8 1277 454.5 1277.2 455.2 1276.9 456 1277.4 456.8 1277.3 457.5 1277.2 458.2 1277.1 459 1276.8 459.8 1277.2 460.5 1276.9 461.2 1277.3 462 1276.9 462.8 1277 463.5 1277.1 464.2 1277.5 465 1277.8 465.8 1277.4 466.5 1277.6 467.2 1277.5 468 1277.9 468.8 1276.9 469.5 1277.3 470.2 1277.5 471 1277.7 471.8 1277.1 472.5 1277 473.2 1277.1 474 1277.1 474.8 1276.9 475.5 1276.9 476.2 1277.1 477 1277.6 477.8 1277.7 478.5 1277.6 479.2 1277.5 480 1277.2 480.8 1277.8 481.5 1277.2 482.2 1277.3 483 1277.6 483.8 1277.1 484.5 1277.6 485.2 1278.2 486 1277.6 486.8 1277.8 487.5 1277.5 488.2 1277.6 489 1277.3 489.8 1277.4 490.5 1276.9 491.2 1277.7 492 1277.8 492.8 1277.6 493.5 1277.5 494.2 1277.4 495 1277.4 495.8 1277.4 496.5 1277.7 497.2 1277.4 498 1277.5 498.8 1277.7 499.5 1277.4 500.2 1277.5 501 1277.5 501.8 1277.6 502.5 1277.1 503.2 1277.1 504 1277.1 504.8 1277.2 505.5 1277.5 506.2 1277.2 507 1277.2 507.8 1277.1 508.5 1277.3 509.2 1277.7 510 1277.1 510.8 1276.9 511.5 1276.9 512.2 1277 513 1277.3 513.8 1276.9 514.5 1277.1 515.2 1277.1 516 1276.8 516.8 1276.8 517.5 1276.9 518.2 1277.2 519 1277.5 519.8 1277.2 520.5 1277.8 521.2 1277.4 522 1277.4 522.8 1277.3 523.5 1277.5 524.2 1277.6 525 1277.9 525.8 1277.9 526.5 1277.6 527.2 1277.3 528 1277.8 528.8 1277.2 529.5 1277.1 530.2 1277.2 531 1277.4 531.8 1277.7 532.5 1277.6 533.2 1277.8 534 1277.6 534.8 1277.3 535.5 1277.8 536.2 1277.3 537 1277.5 537.8 1277.5 538.5 1277.3 539.2 1277.4 540 1277.6 540.8 1277.6 541.5 1277.8 542.2 1277.2 543 1277.2 543.8 1277.6 544.5 1277.4 545.2 1277.7 546 1277.3 546.8 1277.8 547.5 1277.7 548.2 1277.8 549 1277.9 549.8 1277.7 550.5 1277.6 551.2 1277.9 552 1277.9 552.8 1278.5 553.5 1277.5 554.2 1278 555 1277.7 555.8 1278.1 556.5 1277.8 557.2 1277.7 558 1277.9 558.8 1278.2 559.5 1278.4 560.2 1278.4 561 1278.5 561.8 1278 562.5 1278.1 563.2 1277.9 564 1277.8 564.8 1277.7 565.5 1277.8 566.2 1278 567 1277.7 567.8 1277.7 568.5 1277.6 569.2 1277.9 570 1277.8 570.8 1277.8 571.5 1277.7 572.2 1277.7 573 1277.3 573.8 1277.5 574.5 1277.8 575.2 1278.3 576 1277.6 576.8 1277.9 577.5 1277.7 578.2 1278.3 579 1278 579.8 1278.1 580.5 1277.9 581.2 1278 582 1278 582.8 1278.1 583.5 1278.2 584.2 1277.7 585 1277.8 585.8 1278.1 586.5 1278.1 587.2 1278.2 588 1277.9 588.8 1278 589.5 1277.9 590.2 1278.2 591 1278.1 591.8 1278.6 592.5 1278.3 593.2 1278.1 594 1278.4 594.8 1278.7 595.5 1278.4 596.2 1278.1 597 1278.3 597.8 1278.2 598.5 1278.2 599.2 1278.5 600 1278.6 600.8 1278.5 601.5 1279 602.2 1278.3 603 1278.4 603.8 1278.1 604.5 1278.8 605.2 1278.7 606 1278.6 606.8 1278.2 607.5 1278.9 608.2 1278.8 609 1278.4 609.8 1278 610.5 1278.4 611.2 1278.2 612 1278.3 612.8 1278.6 613.5 1278.3 614.2 1278.4 615 1278.5 615.8 1278.5 616.5 1278.7 617.2 1278.4 618 1278.3 618.8 1278.3 619.5 1278 620.2 1278.6 621 1278.3 621.8 1278.2 622.5 1278.1 623.2 1278.4 624 1278.3 624.8 1278.5 625.5 1278.3 626.2 1278.5 627 1278.5 627.8 1278.7 628.5 1278.4 629.2 1278.6 630 1278.3 630.8 1278.5 631.5 1278.1 632.2 1278.2 633 1278.3 633.8 1278.4 634.5 1278.3 635.2 1278.4 636 1278.5 636.8 1278.2 637.5 1278.2 638.2 1277.8 639 1278.5 639.8 1278.6 640.5 1278 641.2 1278.2 642 1278.3 642.8 1278.2 643.5 1278.1 644.2 1278.4 645 1278.2 645.8 1278.3 646.5 1278.2 647.2 1278.2 648 1278.7 648.8 1278.2 649.5 1278.5 650.2 1278.7 651 1278.7 651.8 1279.1 652.5 1278.6 653.2 1278.9 654 1278.7 654.8 1278.9 655.5 1278.6 656.2 1278.8 657 1278.7 657.8 1279 658.5 1278.8 659.2 1279.1 660 1278.5 660.8 1278.9 661.5 1278.7 662.2 1278.8 663 1278.9 663.8 1278.8 664.5 1279 665.2 1278.7 666 1278.7 666.8 1278.9 667.5 1278.8 668.2 1278.9 669 1278.9 669.8 1278.8 670.5 1278.7 671.2 1278.9 672 1278.8 672.8 1278.8 673.5 1279 674.2 1279 675 1279 675.8 1279.2 676.5 1278.8 677.2 1278.9 678 1278.6 678.8 1278.6 679.5 1278.8 680.2 1278.7 681 1278.6 681.8 1279 682.5 1278.8 683.2 1278.9 684 1279.1 684.8 1278.8 685.5 1279 686.2 1278.8 687 1278.7 687.8 1278.8 688.5 1278.8 689.2 1278.6 690 1278.8 690.8 1278.8 691.5 1278.9 692.2 1278.9 693 1279.1 693.8 1279.2 694.5 1279.1 695.2 1279 696 1279.1 696.8 1278.8 697.5 1279.1 698.2 1279.1 699 1279.1 699.8 1279.1 700.5 1279.3 701.2 1279.4 702 1279.1 702.8 1279.3 703.5 1279.1 704.2 1279 705 1279.2 705.8 1279.3 706.5 1279.4 707.2 1279.3 708 1279.3 708.8 1279.3 709.5 1279 710.2 1278.9 711 1279.1 711.8 1279.2 712.5 1279.3 713.2 1279 714 1279 714.8 1279.4 715.5 1279.3 716.2 1279.2 717 1279.2 717.8 1279.2 718.5 1279.1 719.2 1279.5 720 1279.1 720.8 1279.1 721.5 1279.2 722.2 1279.3 723 1279.2 723.8 1279 724.5 1279.3 725.2 1279.1 726 1279.3 726.8 1279.2 727.5 1279.4 728.2 1279.5 729 1279.4 729.8 1279.5 730.5 1279.3 731.2 1279.4 732 1279.3 732.8 1279.3 733.5 1279.5 734.2 1279.4 735 1279.2 735.8 1279.2 736.5 1279.6 737.2 1279.6 738 1279.4 738.8 1279.6 739.5 1279.5 740.2 1279.6 741 1279.6 741.8 1279.6 742.5 1279.6 743.2 1279.6 744 1279.4 744.8 1279.3 745.5 1279.5 746.2 1279.4 747 1279.6 747.8 1279.5 748.5 1279.3 749.2 1279.2 750 1279.4 750.8 1279.4 751.5 1279.2 752.2 1279.2 753 1279.3 753.8 1279.5 754.5 1279.4 755.2 1279.4 756 1279.3 756.8 1279.6 757.5 1279.3 758.2 1279.5 759 1279.2 759.8 1279.1 760.5 1279.2 761.2 1279.4 762 1279.5 762.8 1279.3 763.5 1279.2 764.2 1279.6 765 1279.5 765.8 1279.6 766.5 1279.3 767.2 1279.5 768 1279.3 768.8 1279.5 769.5 1279.4 770.2 1279.3 771 1279.3 771.8 1279.5 772.5 1279.3 773.2 1279.3 774 1279.4 774.8 1279.4 775.5 1279.3 776.2 1279.6 777 1279.6 777.8 1279.5 778.5 1279.3 779.2 1279.2 780 1279.3 780.8 1279.5 781.5 1279.5 782.2 1279.6 783 1279.5 783.8 1279.7 784.5 1279.6 785.2 1279.7 786 1279.5 786.8 1279.5 787.5 1279.6 788.2 1279.6 789 1279.6 789.8 1279.6 790.5 1279.6 791.2 1279.6 792 1279.5 792.8 1279.6 793.5 1279.5 794.2 1279.6 795 1279.5 795.8 1279.4 796.5 1279.6 797.2 1279.6 798 1279.6 798.8 1279.6 799.5 1279.6 800.2 1279.7 801 1279.7 801.8 1279.6 802.5 1279.7 803.2 1279.5 804 1279.8 804.8 1279.8 805.5 1279.6 806.2 1279.7 807 1279.7 807.8 1279.7 808.5 1279.7 809.2 1279.7 810 1279.6 810.8 1279.5 811.5 1279.6 812.2 1279.7 813 1279.6 813.8 1279.6 814.5 1279.5 815.2 1279.6 816 1279.7 816.8 1279.7 817.5 1279.6 818.2 1279.6 819 1279.7 819.8 1279.7 820.5 1279.7 821.2 1279.7 822 1279.7 822.8 1279.8 823.5 1279.8 824.2 1279.7 825 1279.7 825.8 1279.9 826.5 1279.8 827.2 1279.8 828 1279.8 828.8 1279.8 829.5 1279.7 830.2 1279.8 831 1279.9 831.8 1279.8 832.5 1279.8 833.2 1279.8 834 1279.8 834.8 1279.9 835.5 1279.9 836.2 1279.9 837 1279.8 837.8 1279.9 838.5 1279.9 839.2 1279.9 840 1280 840.8 1279.8 841.5 1279.8 842.2 1279.8 843 1279.9 843.8 1279.9 844.5 1279.9 845.2 1279.9 846 1279.9 846.8 1279.9 847.5 1279.9 848.2 1280 849 1279.9 849.8 1279.9 850.5 1279.9 851.2 1279.9 852 1279.9 852.8 1279.9 853.5 1279.8 854.2 1279.8 855 1279.9 855.8 1279.8 856.5 1279.9 857.2 1279.8 858 1279.9 858.8 1279.9 859.5 1279.8 860.2 1279.9 861 1279.8 861.8 1279.9 862.5 1279.9 863.2 1279.9 864 1279.9 864.8 1279.9 865.5 1279.9 866.2 1279.9 867 1279.9 867.8 1279.9 868.5 1279.9 869.2 1280 870 1280 870.8 1280 871.5 1279.9 872.2 1280 873 1280 873.8 1280 876.8 1280 877.5 1280 878.2 1280 879 1280 879.8 1280 880.5 1280 881.2 1280 882 1280 882.8 1280 883.5 1280 884.2 1280 885 1280 885.8 1280 886.5 1280 887.2 1280 888 1280 888.8 1280 889.5 1280 890.2 1280 891 1280 891.8 1280 892.5 1280 893.2 1280 894 1280 894.8 1280 895.5 1280 896.2 1280 897 1280 897.8 1280 898.5 1280 899.2 1280 900 1280 1753.5 1280"/>
<path stroke="#80FFFF" d="M239 1279.4L1756 1279.4"/>
</g>
<path clip-path="url(#plot)" d="M263.3 234.5H273.3M291.4 234.5H301.4M319.5 234.5H329.5M347.5 234.5H357.5M375.6 234.5H385.6M403.7 234.5H413.7M431.8 234.5H441.8M459.9 234.5H469.9M487.9 234.5H497.9M516 234.5H526M544.1 234.5H554.1M572.2 234.5H582.2M600.3 234.5H610.3M628.3 234.5H638.3M656.4 234.5H666.4M684.5 234.5H694.5M702.5 234.5H712.5M730.6 234.5H740.6M758.7 234.5H768.7M786.7 234.5H796.7M814.8 234.5H824.8M842.9 234.5H852.9M871 234.5H881M899.1 234.5H909.1M927.1 234.5H937.1M943.9 234.5H953.9M972 234.5H982M1000.1 234.5H1010.1M1028.1 234.5H1038.1M1056.2 234.5H1066.2M1084.3 234.5H1094.3M1112.4 234.5H1122.4M1140.5 234.5H1150.5M1168.5 234.5H1178.5M1185.3 234.5H1195.3M1213.4 234.5H1223.4M1241.5 234.5H1251.5M1269.5 234.5H1279.5M1297.6 234.5H1307.6M1325.7 234.5H1335.7M1353.8 234.5H1363.8M1381.9 234.5H1391.9M1409.9 234.5H1419.9M1426.7 234.5H1436.7M1454.8 234.5H1464.8M1482.9 234.5H1492.9M1510.9 234.5H1520.9M1539 234.5H1549M1567.1 234.5H1577.1M1595.2 234.5H1605.2M1623.3 234.5H1633.3M1651.3 234.5H1661.3M1668.1 234.5H1678.1M1696.2 234.5H1706.2M1724.3 234.5H1734.3M1752.3 234.5H1753M254.6 242.6L254.4 252.6M254.1 270.6L253.9 280.6M253.6 298.5L253.5 308.5M253.2 326.5L253 336.5M252.7 354.4L252.5 364.4M252.2 382.4L252.1 392.4M251.8 410.3L251.6 420.3M251.3 438.3L251.1 448.3M250.8 466.2L250.7 476.2M250.4 494.2L250.2 504.2M249.9 522.2L249.7 532.2M249.4 550.1L249.3 560.1M249 578.1L248.8 588.1M248.5 606L248.3 616M248 634L247.9 644M247.6 661.9L247.4 671.9M247.1 689.9L246.9 699.9M246.6 717.9L246.5 727.9M246.2 745.8L246 755.8M245.7 773.8L245.5 783.8M245.2 801.7L245.1 811.7M244.8 829.7L244.6 839.7M244.3 857.6L244.1 867.6M243.8 885.6L243.7 895.6M243.4 913.5L243.2 923.5M242.9 941.5L242.7 951.5M242.4 969.5L242.3 979.5M242 997.4L241.8 1007.4M241.5 1025.4L241.3 1035.4M241 1053.3L240.9 1063.3M240.6 1081.3L240.4 1091.3M240.1 1109.2L239.9 1119.2M239.6 1137.2L239.5 1147.2M239.2 1165.2L239 1175.2" fill="none" stroke="#0000FF" stroke-width="7" stroke-linecap="round"/>
<g fill="#000">
<rect x="215" y="58" width="1537" height="5"/>
<rect x="215" y="1277" width="1537" height="6"/>
<rect x="236" y="58" width="6" height="1246"/>
<rect x="227" y="1124.8" width="12" height="5.5"/>
<rect x="215" y="972.4" width="24" height="5.5"/>
<rect x="227" y="819.9" width="12" height="5.5"/>
<rect x="215" y="667.5" width="24" height="5.5"/>
<rect x="227" y="515.1" width="12" height="5.5"/>
<rect x="215" y="362.6" width="24" height="5.5"/>
<rect x="227" y="210.2" width="12" height="5.5"/>
<rect x="611.5" y="1280" width="5.5" height="12"/>
<rect x="611.5" y="60" width="5.5" height="12"/>
<rect x="986.4" y="1280" width="6" height="24"/>
<rect x="986.4" y="60" width="6" height="24"/>
<rect x="1361.8" y="1280" width="5.5" height="12"/>
<rect x="1361.8" y="60" width="5.5" height="12"/>
<rect x="1736.9" y="1280" width="5.5" height="24"/>
<rect x="1736.9" y="60" width="5.5" height="24"/>
</g>
<g fill="#1F3DFF">
<rect x="1752" y="58" width="5" height="1225"/>
<rect x="1752" y="1277" width="26" height="6"/>
<rect x="1754" y="1190.4" width="12" height="5"/>
<rect x="1754" y="1103.3" width="24" height="5"/>
<rect x="1754" y="1016.2" width="12" height="5"/>
<rect x="1754" y="929.1" width="24" height="5"/>
<rect x="1754" y="842" width="12" height="5"/>
<rect x="1754" y="754.9" width="24" height="5"/>
<rect x="1754" y="667.8" width="12" height="5"/>
<rect x="1754" y="580.6" width="24" height="5"/>
<rect x="1754" y="493.5" width="12" height="5"/>
<rect x="1754" y="406.4" width="24" height="5"/>
<rect x="1754" y="319.3" width="12" height="5"/>
<rect x="1754" y="232.2" width="24" height="5"/>
<rect x="1754" y="145.1" width="12" height="5"/>
<rect x="1752" y="58" width="26" height="5"/>
</g>
<g font-size="51" fill="#000">
<text transform="translate(198.8 1293.4) scale(1.019 1)" text-anchor="end">0</text>
<text transform="translate(198.8 988.5) scale(1.019 1)" text-anchor="end">500</text>
<text transform="translate(198.8 683.6) scale(1.019 1)" text-anchor="end">1000</text>
<text transform="translate(198.8 378.8) scale(1.019 1)" text-anchor="end">1500</text>
<text transform="translate(198.8 73.9) scale(1.019 1)" text-anchor="end">2000</text>
<text transform="translate(1794.5 1293.5) scale(1.012 1)">0</text>
<text transform="translate(1794.5 1119.3) scale(1.012 1)">500</text>
<text transform="translate(1794.5 945.1) scale(1.012 1)">1000</text>
<text transform="translate(1794.5 770.9) scale(1.012 1)">1500</text>
<text transform="translate(1794.5 596.6) scale(1.012 1)">2000</text>
<text transform="translate(1794.5 422.4) scale(1.012 1)">2500</text>
<text transform="translate(1794.5 248.2) scale(1.012 1)">3000</text>
<text transform="translate(1794.5 74) scale(1.012 1)">3500</text>
<text transform="translate(239.6 1359.4) scale(1.025 1)" text-anchor="middle">0</text>
<text transform="translate(989.9 1359.4) scale(1.025 1)" text-anchor="middle">100</text>
<text transform="translate(1740.2 1359.4) scale(1.025 1)" text-anchor="middle">200</text>
</g>
<g font-size="64" font-weight="bold" fill="#000" text-anchor="middle">
<text x="997" y="1461">Time (ps)</text>
<text transform="translate(70 666.5) rotate(-90)">Number of Species</text>
<text transform="translate(1967.5 665.3) rotate(-90)" letter-spacing="-0.95">Temperature (K)</text>
</g>
<g font-size="56" fill="#000">
<text transform="translate(346.5 349.5) scale(1.015 1)">PODE5</text>
<text transform="translate(680 366) scale(1.034 1)">CH3O</text>
<text transform="translate(1393.8 149) scale(1.003 1)">CH3</text>
<text transform="translate(1401 1200.5) scale(1.028 1)">C2H5O</text>
</g>
<text transform="translate(794 215.7) scale(1.010 1)" font-size="52" fill="#1F3DFF">Temperature profile</text>
<rect x="1000" y="477" width="206.5" height="566.5" fill="#fff" stroke="#000" stroke-width="2.4"/>
<g stroke-width="6.8" stroke-linecap="round" fill="none">
<path stroke="#4497C7" d="M1004.5 501.2H1052"/>
<path stroke="#165279" d="M1004.5 544.4H1052"/>
<path stroke="#76C034" d="M1004.5 587.6H1052"/>
<path stroke="#1F6B1B" d="M1004.5 630.7H1052"/>
<path stroke="#F51919" d="M1004.5 673.9H1052"/>
<path stroke="#9A1010" d="M1004.5 717.1H1052"/>
<path stroke="#F38B0A" d="M1004.5 760.3H1052"/>
<path stroke="#AE5500" d="M1004.5 803.5H1052"/>
<path stroke="#8F5CAB" d="M1004.5 846.6H1052"/>
<path stroke="#472A68" d="M1004.5 889.8H1052"/>
<path stroke="#FFFF1A" d="M1004.5 933H1052"/>
<path stroke="#7B3A1B" d="M1004.5 976.2H1052"/>
<path stroke="#80FFFF" d="M1004.5 1019.4H1052"/>
</g>
<g font-size="34" fill="#000">
<text transform="translate(1060.5 512.6) scale(1.022 1)">PODE5</text>
<text transform="translate(1060.5 555.8) scale(1.022 1)">CH3</text>
<text transform="translate(1060.5 599) scale(1.022 1)">CH3O</text>
<text transform="translate(1060.5 642.1) scale(1.022 1)">C2H5O</text>
<text transform="translate(1060.5 685.3) scale(1.022 1)">C2H5O2</text>
<text transform="translate(1060.5 728.5) scale(1.022 1)">C3H7O2</text>
<text transform="translate(1060.5 771.7) scale(1.022 1)">C3H7O3</text>
<text transform="translate(1060.5 814.9) scale(1.022 1)">C4H9O3</text>
<text transform="translate(1060.5 858) scale(1.022 1)">C4H9O4</text>
<text transform="translate(1060.5 901.2) scale(1.022 1)">C5H11O4</text>
<text transform="translate(1060.5 944.4) scale(1.022 1)">C5H11O5</text>
<text transform="translate(1060.5 987.6) scale(1.022 1)">C6H13O5</text>
<text transform="translate(1060.5 1030.8) scale(1.022 1)">C6H13O6</text>
</g>
</svg>
</body></html>
